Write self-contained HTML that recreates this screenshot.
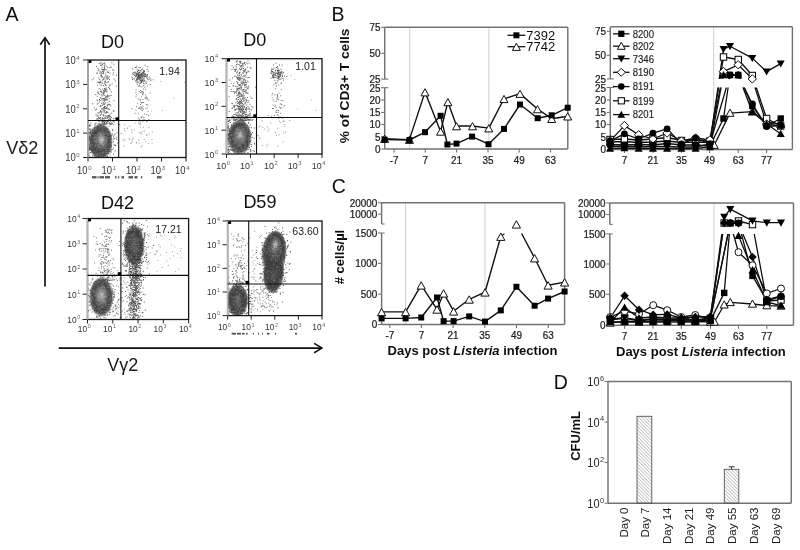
<!DOCTYPE html>
<html><head><meta charset="utf-8"><style>
html,body{margin:0;padding:0;background:#fff;}
svg{display:block;font-family:"Liberation Sans", sans-serif;}
</style></head><body>
<svg width="800" height="550" viewBox="0 0 800 550">
<defs><filter id="soft" x="0" y="0" width="1" height="1"><feGaussianBlur stdDeviation="0.4"/></filter></defs>
<rect width="800" height="550" fill="#fff"/>
<g filter="url(#soft)">
<rect width="800" height="550" fill="#fff"/>
<text x="5.5" y="21" font-size="19.5" text-anchor="start" font-weight="normal" fill="#111" >A</text>
<line x1="45" y1="38" x2="45" y2="286.5" stroke="#111" stroke-width="1.7" />
<polyline points="40.3,44.8 45,37.6 49.7,44.8" fill="none" stroke="#111" stroke-width="1.6"/>
<line x1="58.8" y1="348.1" x2="321.5" y2="348.1" stroke="#111" stroke-width="1.7" />
<polyline points="314.2,343.4 321.9,348.1 314.2,352.8" fill="none" stroke="#111" stroke-width="1.6"/>
<text x="6.3" y="154.3" font-size="18" text-anchor="start" font-weight="normal" fill="#1a1a1a" >V&#948;2</text>
<text x="107.3" y="370.6" font-size="18" text-anchor="start" font-weight="normal" fill="#1a1a1a" >V&#947;2</text>
<line x1="83" y1="157.5" x2="88" y2="157.5" stroke="#222" stroke-width="1" />
<text transform="translate(75.7 161.4) scale(0.9 1)" font-size="10.5" text-anchor="end" fill="#333">10</text>
<text x="76.3" y="157.2" font-size="6.09" fill="#666">0</text>
<line x1="88" y1="157.5" x2="88" y2="161.5" stroke="#222" stroke-width="1" />
<text transform="translate(87.6 173.7) scale(0.9 1)" font-size="10.5" text-anchor="end" fill="#333">10</text>
<text x="88.2" y="169.5" font-size="6.09" fill="#666">0</text>
<line x1="83" y1="133.1" x2="88" y2="133.1" stroke="#222" stroke-width="1" />
<text transform="translate(75.7 137) scale(0.9 1)" font-size="10.5" text-anchor="end" fill="#333">10</text>
<text x="76.3" y="132.8" font-size="6.09" fill="#666">1</text>
<line x1="112.5" y1="157.5" x2="112.5" y2="161.5" stroke="#222" stroke-width="1" />
<text transform="translate(112.1 173.7) scale(0.9 1)" font-size="10.5" text-anchor="end" fill="#333">10</text>
<text x="112.7" y="169.5" font-size="6.09" fill="#666">1</text>
<line x1="83" y1="108.8" x2="88" y2="108.8" stroke="#222" stroke-width="1" />
<text transform="translate(75.7 112.6) scale(0.9 1)" font-size="10.5" text-anchor="end" fill="#333">10</text>
<text x="76.3" y="108.4" font-size="6.09" fill="#666">2</text>
<line x1="137" y1="157.5" x2="137" y2="161.5" stroke="#222" stroke-width="1" />
<text transform="translate(136.6 173.7) scale(0.9 1)" font-size="10.5" text-anchor="end" fill="#333">10</text>
<text x="137.2" y="169.5" font-size="6.09" fill="#666">2</text>
<line x1="83" y1="84.4" x2="88" y2="84.4" stroke="#222" stroke-width="1" />
<text transform="translate(75.7 88.3) scale(0.9 1)" font-size="10.5" text-anchor="end" fill="#333">10</text>
<text x="76.3" y="84.1" font-size="6.09" fill="#666">3</text>
<line x1="161.5" y1="157.5" x2="161.5" y2="161.5" stroke="#222" stroke-width="1" />
<text transform="translate(161.1 173.7) scale(0.9 1)" font-size="10.5" text-anchor="end" fill="#333">10</text>
<text x="161.7" y="169.5" font-size="6.09" fill="#666">3</text>
<line x1="83" y1="60" x2="88" y2="60" stroke="#222" stroke-width="1" />
<text transform="translate(75.7 63.9) scale(0.9 1)" font-size="10.5" text-anchor="end" fill="#333">10</text>
<text x="76.3" y="59.7" font-size="6.09" fill="#666">4</text>
<line x1="186" y1="157.5" x2="186" y2="161.5" stroke="#222" stroke-width="1" />
<text transform="translate(185.6 173.7) scale(0.9 1)" font-size="10.5" text-anchor="end" fill="#333">10</text>
<text x="186.2" y="169.5" font-size="6.09" fill="#666">4</text>
<g clip-path="url(#c1)">
<defs><clipPath id="c1"><rect x="88" y="60" width="98" height="97.5"/></clipPath></defs>
<defs><radialGradient id="bg1" cx="0.5" cy="0.5" r="0.5" fx="0.55" fy="0.44"><stop offset="0" stop-color="#c4c4c4"/><stop offset="0.31" stop-color="#7c7c7c"/><stop offset="0.62" stop-color="#484848"/><stop offset="0.84" stop-color="#484848" stop-opacity="0.85"/><stop offset="1" stop-color="#484848" stop-opacity="0"/></radialGradient></defs>
<path d="M101.4 91.9h1.0v1.0h-1.0zM107.4 70.7h1.0v1.0h-1.0zM114.7 80.6h1.0v1.0h-1.0zM105.5 116.3h1.0v1.0h-1.0zM101.0 112.5h1.0v1.0h-1.0zM99.2 72.7h1.0v1.0h-1.0zM104.2 124.0h1.0v1.0h-1.0zM103.7 76.9h1.0v1.0h-1.0zM99.3 78.9h1.0v1.0h-1.0zM105.0 102.6h1.0v1.0h-1.0zM99.3 112.3h1.0v1.0h-1.0zM109.5 113.6h1.0v1.0h-1.0zM109.3 114.9h1.0v1.0h-1.0zM109.4 104.0h1.0v1.0h-1.0zM102.4 100.2h1.0v1.0h-1.0zM106.8 96.9h1.0v1.0h-1.0zM103.9 62.4h1.0v1.0h-1.0zM102.8 79.2h1.0v1.0h-1.0zM103.0 92.1h1.0v1.0h-1.0zM98.7 63.0h1.0v1.0h-1.0zM98.0 116.8h1.0v1.0h-1.0zM108.1 119.2h1.0v1.0h-1.0zM103.6 92.8h1.0v1.0h-1.0zM105.5 123.2h1.0v1.0h-1.0zM109.0 123.4h1.0v1.0h-1.0zM96.7 99.5h1.0v1.0h-1.0zM101.0 102.7h1.0v1.0h-1.0zM105.3 69.1h1.0v1.0h-1.0zM106.3 91.6h1.0v1.0h-1.0zM102.8 99.6h1.0v1.0h-1.0zM109.1 100.7h1.0v1.0h-1.0zM105.4 115.2h1.0v1.0h-1.0zM99.0 123.9h1.0v1.0h-1.0zM100.3 117.8h1.0v1.0h-1.0zM108.1 87.0h1.0v1.0h-1.0zM106.6 117.5h1.0v1.0h-1.0zM96.0 108.6h1.0v1.0h-1.0zM110.6 124.0h1.0v1.0h-1.0zM107.2 76.2h1.0v1.0h-1.0zM110.5 119.5h1.0v1.0h-1.0zM102.8 114.2h1.0v1.0h-1.0zM103.2 72.1h1.0v1.0h-1.0zM99.4 99.9h1.0v1.0h-1.0zM115.9 74.8h1.0v1.0h-1.0zM103.7 90.8h1.0v1.0h-1.0zM111.6 83.2h1.0v1.0h-1.0zM101.6 121.8h1.0v1.0h-1.0zM105.2 97.8h1.0v1.0h-1.0zM97.0 100.0h1.0v1.0h-1.0zM102.8 72.9h1.0v1.0h-1.0zM108.9 109.1h1.0v1.0h-1.0zM98.9 93.8h1.0v1.0h-1.0zM109.3 122.8h1.0v1.0h-1.0zM106.0 107.5h1.0v1.0h-1.0zM99.8 111.3h1.0v1.0h-1.0zM102.2 119.6h1.0v1.0h-1.0zM102.4 77.3h1.0v1.0h-1.0zM104.3 108.0h1.0v1.0h-1.0zM102.1 63.8h1.0v1.0h-1.0zM100.8 94.4h1.0v1.0h-1.0zM103.1 93.3h1.0v1.0h-1.0zM99.9 91.0h1.0v1.0h-1.0zM98.7 88.1h1.0v1.0h-1.0zM104.3 119.6h1.0v1.0h-1.0zM108.5 104.3h1.0v1.0h-1.0zM97.6 115.6h1.0v1.0h-1.0zM104.5 106.7h1.0v1.0h-1.0zM101.6 121.6h1.0v1.0h-1.0zM100.1 64.8h1.0v1.0h-1.0zM108.3 116.8h1.0v1.0h-1.0zM102.2 88.5h1.0v1.0h-1.0zM111.2 112.5h1.0v1.0h-1.0zM101.0 72.6h1.0v1.0h-1.0zM106.2 89.2h1.0v1.0h-1.0zM103.5 120.4h1.0v1.0h-1.0zM101.1 75.0h1.0v1.0h-1.0zM107.1 66.7h1.0v1.0h-1.0zM103.8 70.2h1.0v1.0h-1.0zM107.2 95.8h1.0v1.0h-1.0zM104.3 119.8h1.0v1.0h-1.0zM99.6 117.8h1.0v1.0h-1.0zM104.0 68.2h1.0v1.0h-1.0zM104.7 97.0h1.0v1.0h-1.0zM108.8 118.4h1.0v1.0h-1.0zM100.4 71.8h1.0v1.0h-1.0zM104.3 90.7h1.0v1.0h-1.0zM96.8 95.8h1.0v1.0h-1.0zM107.4 108.2h1.0v1.0h-1.0zM99.6 106.1h1.0v1.0h-1.0zM96.4 115.6h1.0v1.0h-1.0zM104.2 123.4h1.0v1.0h-1.0zM109.5 72.5h1.0v1.0h-1.0zM97.6 102.6h1.0v1.0h-1.0zM99.6 97.3h1.0v1.0h-1.0zM101.2 111.3h1.0v1.0h-1.0zM99.4 82.5h1.0v1.0h-1.0zM106.2 123.6h1.0v1.0h-1.0zM100.9 108.5h1.0v1.0h-1.0zM101.3 123.5h1.0v1.0h-1.0zM107.1 120.7h1.0v1.0h-1.0zM101.1 64.8h1.0v1.0h-1.0zM106.4 89.5h1.0v1.0h-1.0zM100.1 105.1h1.0v1.0h-1.0zM99.0 98.9h1.0v1.0h-1.0zM96.2 72.8h1.0v1.0h-1.0zM112.9 110.1h1.0v1.0h-1.0zM103.1 94.4h1.0v1.0h-1.0zM105.6 87.6h1.0v1.0h-1.0zM104.4 109.4h1.0v1.0h-1.0zM105.2 99.2h1.0v1.0h-1.0zM104.7 81.4h1.0v1.0h-1.0zM113.1 69.7h1.0v1.0h-1.0zM99.8 119.6h1.0v1.0h-1.0zM97.5 67.7h1.0v1.0h-1.0zM99.9 124.0h1.0v1.0h-1.0zM98.5 82.3h1.0v1.0h-1.0zM107.9 77.8h1.0v1.0h-1.0zM108.2 120.2h1.0v1.0h-1.0zM100.2 105.7h1.0v1.0h-1.0zM98.2 77.4h1.0v1.0h-1.0zM102.9 123.8h1.0v1.0h-1.0zM110.8 91.6h1.0v1.0h-1.0zM91.8 79.2h1.0v1.0h-1.0zM106.9 99.6h1.0v1.0h-1.0zM99.7 84.4h1.0v1.0h-1.0zM109.2 116.3h1.0v1.0h-1.0zM99.6 117.6h1.0v1.0h-1.0zM103.2 109.0h1.0v1.0h-1.0zM97.7 118.4h1.0v1.0h-1.0zM100.1 110.0h1.0v1.0h-1.0zM110.7 66.5h1.0v1.0h-1.0zM108.2 95.5h1.0v1.0h-1.0zM102.7 110.3h1.0v1.0h-1.0zM100.6 114.0h1.0v1.0h-1.0zM96.0 66.1h1.0v1.0h-1.0zM102.7 104.1h1.0v1.0h-1.0zM104.4 63.7h1.0v1.0h-1.0zM104.1 99.5h1.0v1.0h-1.0zM104.1 99.1h1.0v1.0h-1.0zM99.5 70.8h1.0v1.0h-1.0zM104.2 83.1h1.0v1.0h-1.0zM104.3 95.0h1.0v1.0h-1.0zM110.3 105.2h1.0v1.0h-1.0zM112.9 72.3h1.0v1.0h-1.0zM103.9 106.1h1.0v1.0h-1.0zM101.1 68.6h1.0v1.0h-1.0zM104.2 122.5h1.0v1.0h-1.0zM101.8 105.0h1.0v1.0h-1.0zM101.2 99.2h1.0v1.0h-1.0zM104.2 66.2h1.0v1.0h-1.0zM99.8 115.0h1.0v1.0h-1.0zM107.2 78.2h1.0v1.0h-1.0zM104.0 88.1h1.0v1.0h-1.0zM105.6 85.1h1.0v1.0h-1.0zM103.7 91.6h1.0v1.0h-1.0zM101.2 64.5h1.0v1.0h-1.0zM100.2 110.7h1.0v1.0h-1.0zM103.4 106.9h1.0v1.0h-1.0zM102.0 117.4h1.0v1.0h-1.0zM105.6 123.0h1.0v1.0h-1.0zM104.5 116.9h1.0v1.0h-1.0zM98.4 69.2h1.0v1.0h-1.0zM104.8 75.4h1.0v1.0h-1.0zM98.5 121.1h1.0v1.0h-1.0zM101.7 93.4h1.0v1.0h-1.0zM103.2 101.9h1.0v1.0h-1.0zM95.2 94.1h1.0v1.0h-1.0zM104.9 89.4h1.0v1.0h-1.0zM105.2 112.2h1.0v1.0h-1.0zM103.8 65.3h1.0v1.0h-1.0zM102.6 102.7h1.0v1.0h-1.0zM102.8 91.7h1.0v1.0h-1.0zM100.1 91.2h1.0v1.0h-1.0zM103.3 118.2h1.0v1.0h-1.0zM102.0 122.7h1.0v1.0h-1.0zM104.9 106.1h1.0v1.0h-1.0zM99.1 81.5h1.0v1.0h-1.0zM105.6 77.4h1.0v1.0h-1.0zM105.1 84.1h1.0v1.0h-1.0zM103.9 121.1h1.0v1.0h-1.0zM102.5 69.4h1.0v1.0h-1.0zM107.0 78.5h1.0v1.0h-1.0zM97.0 72.4h1.0v1.0h-1.0zM106.6 99.0h1.0v1.0h-1.0zM105.6 69.2h1.0v1.0h-1.0zM105.8 123.2h1.0v1.0h-1.0zM106.2 123.5h1.0v1.0h-1.0zM101.6 123.7h1.0v1.0h-1.0zM103.3 115.0h1.0v1.0h-1.0zM107.4 115.2h1.0v1.0h-1.0zM106.4 118.0h1.0v1.0h-1.0zM105.4 96.0h1.0v1.0h-1.0zM97.7 123.3h1.0v1.0h-1.0zM106.9 94.4h1.0v1.0h-1.0zM109.8 119.0h1.0v1.0h-1.0zM109.0 88.0h1.0v1.0h-1.0zM105.6 123.7h1.0v1.0h-1.0zM97.5 111.9h1.0v1.0h-1.0zM108.7 67.3h1.0v1.0h-1.0zM103.8 97.9h1.0v1.0h-1.0zM93.1 77.7h1.0v1.0h-1.0zM106.2 89.5h1.0v1.0h-1.0zM97.8 92.9h1.0v1.0h-1.0zM98.7 117.9h1.0v1.0h-1.0zM101.6 95.5h1.0v1.0h-1.0zM110.2 123.3h1.0v1.0h-1.0zM102.8 78.5h1.0v1.0h-1.0zM105.7 65.4h1.0v1.0h-1.0zM112.4 74.3h1.0v1.0h-1.0zM111.7 123.0h1.0v1.0h-1.0zM104.0 110.4h1.0v1.0h-1.0zM103.4 111.5h1.0v1.0h-1.0zM98.8 121.1h1.0v1.0h-1.0zM101.4 91.8h1.0v1.0h-1.0zM106.4 78.8h1.0v1.0h-1.0zM106.3 111.8h1.0v1.0h-1.0zM105.0 73.6h1.0v1.0h-1.0zM109.0 78.9h1.0v1.0h-1.0zM101.0 120.5h1.0v1.0h-1.0zM104.2 81.2h1.0v1.0h-1.0zM107.8 71.9h1.0v1.0h-1.0zM107.1 117.6h1.0v1.0h-1.0zM109.3 95.5h1.0v1.0h-1.0zM106.3 90.9h1.0v1.0h-1.0zM103.1 93.0h1.0v1.0h-1.0zM106.1 121.7h1.0v1.0h-1.0zM100.0 89.3h1.0v1.0h-1.0zM97.1 91.4h1.0v1.0h-1.0zM107.1 76.7h1.0v1.0h-1.0zM104.3 78.4h1.0v1.0h-1.0zM105.9 111.0h1.0v1.0h-1.0zM96.9 84.7h1.0v1.0h-1.0zM102.9 73.2h1.0v1.0h-1.0zM101.8 71.1h1.0v1.0h-1.0zM100.6 119.2h1.0v1.0h-1.0zM94.4 123.6h1.0v1.0h-1.0zM103.0 90.0h1.0v1.0h-1.0zM108.5 116.8h1.0v1.0h-1.0zM106.2 96.2h1.0v1.0h-1.0zM101.8 66.7h1.0v1.0h-1.0zM104.4 108.0h1.0v1.0h-1.0zM107.9 115.0h1.0v1.0h-1.0zM92.1 103.3h1.0v1.0h-1.0zM103.9 89.5h1.0v1.0h-1.0zM106.9 121.5h1.0v1.0h-1.0zM107.6 108.0h1.0v1.0h-1.0zM112.2 120.3h1.0v1.0h-1.0zM109.6 89.2h1.0v1.0h-1.0zM105.9 76.2h1.0v1.0h-1.0zM105.9 108.2h1.0v1.0h-1.0zM108.0 108.5h1.0v1.0h-1.0zM102.1 97.9h1.0v1.0h-1.0zM104.3 116.8h1.0v1.0h-1.0zM108.6 115.2h1.0v1.0h-1.0zM113.3 110.9h1.0v1.0h-1.0zM103.8 103.3h1.0v1.0h-1.0zM104.3 122.1h1.0v1.0h-1.0zM105.4 82.3h1.0v1.0h-1.0zM110.5 95.1h1.0v1.0h-1.0zM104.4 112.5h1.0v1.0h-1.0zM111.1 122.3h1.0v1.0h-1.0zM100.2 81.5h1.0v1.0h-1.0zM103.7 120.4h1.0v1.0h-1.0zM103.6 120.3h1.0v1.0h-1.0zM108.0 120.4h1.0v1.0h-1.0zM109.2 122.2h1.0v1.0h-1.0zM97.7 70.0h1.0v1.0h-1.0zM100.4 114.1h1.0v1.0h-1.0zM106.0 112.2h1.0v1.0h-1.0zM101.5 76.0h1.0v1.0h-1.0zM97.6 92.3h1.0v1.0h-1.0zM109.2 118.1h1.0v1.0h-1.0zM106.7 104.7h1.0v1.0h-1.0zM106.7 71.8h1.0v1.0h-1.0zM102.4 108.3h1.0v1.0h-1.0zM109.1 85.5h1.0v1.0h-1.0zM103.4 121.6h1.0v1.0h-1.0zM109.4 84.3h1.0v1.0h-1.0zM100.4 80.5h1.0v1.0h-1.0zM100.7 76.6h1.0v1.0h-1.0zM105.4 88.3h1.0v1.0h-1.0zM101.3 108.5h1.0v1.0h-1.0zM107.5 122.7h1.0v1.0h-1.0zM105.7 99.3h1.0v1.0h-1.0zM100.3 82.0h1.0v1.0h-1.0zM104.8 117.9h1.0v1.0h-1.0zM102.9 114.3h1.0v1.0h-1.0zM108.6 98.1h1.0v1.0h-1.0zM101.7 82.7h1.0v1.0h-1.0zM102.5 70.8h1.0v1.0h-1.0zM110.0 120.6h1.0v1.0h-1.0zM114.6 118.2h1.0v1.0h-1.0zM113.5 78.7h1.0v1.0h-1.0zM104.8 90.5h1.0v1.0h-1.0zM105.5 84.8h1.0v1.0h-1.0zM111.4 62.3h1.0v1.0h-1.0zM103.9 67.2h1.0v1.0h-1.0zM100.1 75.2h1.0v1.0h-1.0zM105.0 80.4h1.0v1.0h-1.0zM106.5 107.1h1.0v1.0h-1.0zM100.8 90.7h1.0v1.0h-1.0zM97.1 118.2h1.0v1.0h-1.0zM98.0 81.8h1.0v1.0h-1.0zM107.5 82.0h1.0v1.0h-1.0zM101.1 84.8h1.0v1.0h-1.0zM103.9 104.1h1.0v1.0h-1.0zM105.5 108.1h1.0v1.0h-1.0zM107.3 105.6h1.0v1.0h-1.0zM103.0 123.5h1.0v1.0h-1.0zM106.7 75.1h1.0v1.0h-1.0zM100.5 97.7h1.0v1.0h-1.0zM102.9 107.6h1.0v1.0h-1.0zM99.9 97.3h1.0v1.0h-1.0zM109.6 84.7h1.0v1.0h-1.0zM104.4 107.9h1.0v1.0h-1.0zM101.2 76.2h1.0v1.0h-1.0zM102.9 68.9h1.0v1.0h-1.0zM103.5 107.6h1.0v1.0h-1.0zM107.7 120.1h1.0v1.0h-1.0zM97.3 81.7h1.0v1.0h-1.0zM99.8 62.6h1.0v1.0h-1.0zM102.8 119.7h1.0v1.0h-1.0zM115.9 85.4h1.0v1.0h-1.0zM108.8 76.6h1.0v1.0h-1.0zM104.0 68.8h1.0v1.0h-1.0zM107.7 120.7h1.0v1.0h-1.0zM113.8 121.8h1.0v1.0h-1.0zM103.4 63.1h1.0v1.0h-1.0zM102.9 120.9h1.0v1.0h-1.0zM110.0 118.5h1.0v1.0h-1.0zM106.7 95.4h1.0v1.0h-1.0zM107.5 104.0h1.0v1.0h-1.0zM102.2 82.5h1.0v1.0h-1.0zM113.2 117.9h1.0v1.0h-1.0zM112.2 69.3h1.0v1.0h-1.0zM107.0 116.7h1.0v1.0h-1.0zM107.6 81.1h1.0v1.0h-1.0zM95.4 122.6h1.0v1.0h-1.0zM107.4 102.2h1.0v1.0h-1.0zM103.6 123.5h1.0v1.0h-1.0zM106.5 111.8h1.0v1.0h-1.0zM107.6 111.8h1.0v1.0h-1.0zM103.0 84.9h1.0v1.0h-1.0zM96.9 103.4h1.0v1.0h-1.0zM106.2 122.9h1.0v1.0h-1.0zM101.2 62.4h1.0v1.0h-1.0zM103.0 71.4h1.0v1.0h-1.0zM101.8 69.1h1.0v1.0h-1.0zM103.0 115.3h1.0v1.0h-1.0zM94.1 107.2h1.0v1.0h-1.0zM110.0 116.2h1.0v1.0h-1.0zM105.6 120.6h1.0v1.0h-1.0zM109.5 123.5h1.0v1.0h-1.0zM113.4 100.3h1.0v1.0h-1.0zM104.6 120.7h1.0v1.0h-1.0zM96.4 118.5h1.0v1.0h-1.0zM100.5 73.8h1.0v1.0h-1.0zM99.1 101.5h1.0v1.0h-1.0zM102.2 118.2h1.0v1.0h-1.0zM104.9 88.6h1.0v1.0h-1.0zM95.5 114.3h1.0v1.0h-1.0zM106.0 98.7h1.0v1.0h-1.0zM97.7 113.4h1.0v1.0h-1.0zM105.8 99.4h1.0v1.0h-1.0zM104.0 91.6h1.0v1.0h-1.0zM103.1 98.1h1.0v1.0h-1.0zM104.2 107.1h1.0v1.0h-1.0zM102.1 79.4h1.0v1.0h-1.0zM101.7 72.7h1.0v1.0h-1.0zM96.9 118.4h1.0v1.0h-1.0zM104.4 120.2h1.0v1.0h-1.0zM112.8 121.1h1.0v1.0h-1.0zM113.4 63.8h1.0v1.0h-1.0zM110.4 67.0h1.0v1.0h-1.0zM107.7 116.0h1.0v1.0h-1.0zM101.5 64.6h1.0v1.0h-1.0zM111.0 117.1h1.0v1.0h-1.0zM104.2 100.1h1.0v1.0h-1.0zM104.2 100.7h1.0v1.0h-1.0zM103.2 69.3h1.0v1.0h-1.0z" fill="#333" fill-opacity="0.75"/>
<path d="M140.9 73.0h1.0v1.0h-1.0zM140.2 70.1h1.0v1.0h-1.0zM139.0 85.3h1.0v1.0h-1.0zM140.2 73.9h1.0v1.0h-1.0zM142.6 78.2h1.0v1.0h-1.0zM136.0 74.1h1.0v1.0h-1.0zM144.2 76.2h1.0v1.0h-1.0zM141.0 82.0h1.0v1.0h-1.0zM137.8 75.4h1.0v1.0h-1.0zM138.4 81.7h1.0v1.0h-1.0zM132.7 72.0h1.0v1.0h-1.0zM138.4 78.0h1.0v1.0h-1.0zM142.9 81.3h1.0v1.0h-1.0zM134.2 78.4h1.0v1.0h-1.0zM139.3 72.0h1.0v1.0h-1.0zM142.7 70.9h1.0v1.0h-1.0zM132.2 73.3h1.0v1.0h-1.0zM134.5 72.1h1.0v1.0h-1.0zM142.0 76.4h1.0v1.0h-1.0zM146.8 74.1h1.0v1.0h-1.0zM134.4 71.6h1.0v1.0h-1.0zM136.8 69.5h1.0v1.0h-1.0zM142.2 72.1h1.0v1.0h-1.0zM132.6 78.1h1.0v1.0h-1.0zM140.1 76.6h1.0v1.0h-1.0zM140.9 77.8h1.0v1.0h-1.0zM140.7 80.6h1.0v1.0h-1.0zM142.2 76.8h1.0v1.0h-1.0zM142.1 68.4h1.0v1.0h-1.0zM139.8 73.8h1.0v1.0h-1.0zM141.3 68.9h1.0v1.0h-1.0zM147.0 75.5h1.0v1.0h-1.0zM135.7 67.3h1.0v1.0h-1.0zM139.4 74.6h1.0v1.0h-1.0zM137.6 75.4h1.0v1.0h-1.0zM137.9 77.5h1.0v1.0h-1.0zM137.6 74.8h1.0v1.0h-1.0zM144.4 86.6h1.0v1.0h-1.0zM136.5 72.9h1.0v1.0h-1.0zM137.1 78.5h1.0v1.0h-1.0zM135.9 72.8h1.0v1.0h-1.0zM140.4 70.6h1.0v1.0h-1.0zM136.7 72.9h1.0v1.0h-1.0zM132.1 68.5h1.0v1.0h-1.0zM138.8 75.7h1.0v1.0h-1.0zM139.8 67.0h1.0v1.0h-1.0zM138.6 78.6h1.0v1.0h-1.0zM142.7 74.6h1.0v1.0h-1.0zM137.0 77.8h1.0v1.0h-1.0zM138.2 69.7h1.0v1.0h-1.0zM137.3 81.5h1.0v1.0h-1.0zM141.4 80.2h1.0v1.0h-1.0zM138.6 79.2h1.0v1.0h-1.0zM138.1 74.3h1.0v1.0h-1.0zM150.4 78.5h1.0v1.0h-1.0zM138.5 74.6h1.0v1.0h-1.0zM141.8 80.4h1.0v1.0h-1.0zM138.5 67.2h1.0v1.0h-1.0zM139.4 75.1h1.0v1.0h-1.0zM140.9 80.9h1.0v1.0h-1.0zM141.8 78.7h1.0v1.0h-1.0zM136.1 78.9h1.0v1.0h-1.0zM148.9 78.5h1.0v1.0h-1.0zM141.5 75.7h1.0v1.0h-1.0zM147.6 70.8h1.0v1.0h-1.0zM140.1 77.1h1.0v1.0h-1.0zM143.5 73.0h1.0v1.0h-1.0zM141.7 73.7h1.0v1.0h-1.0zM141.0 74.4h1.0v1.0h-1.0zM135.9 74.9h1.0v1.0h-1.0zM144.0 70.6h1.0v1.0h-1.0zM139.5 78.0h1.0v1.0h-1.0zM136.2 75.8h1.0v1.0h-1.0zM136.3 80.1h1.0v1.0h-1.0zM149.8 84.1h1.0v1.0h-1.0zM139.6 78.3h1.0v1.0h-1.0zM141.0 75.5h1.0v1.0h-1.0zM146.7 69.1h1.0v1.0h-1.0zM144.7 74.8h1.0v1.0h-1.0zM146.1 75.8h1.0v1.0h-1.0zM137.8 76.2h1.0v1.0h-1.0zM143.4 75.2h1.0v1.0h-1.0zM142.5 72.7h1.0v1.0h-1.0zM132.0 79.1h1.0v1.0h-1.0zM143.3 75.7h1.0v1.0h-1.0zM140.8 79.7h1.0v1.0h-1.0zM138.7 71.8h1.0v1.0h-1.0zM139.7 80.4h1.0v1.0h-1.0zM135.0 80.4h1.0v1.0h-1.0zM137.9 70.0h1.0v1.0h-1.0zM145.5 74.6h1.0v1.0h-1.0zM135.3 73.4h1.0v1.0h-1.0zM144.2 80.4h1.0v1.0h-1.0zM138.8 76.8h1.0v1.0h-1.0zM143.4 72.1h1.0v1.0h-1.0zM141.9 74.9h1.0v1.0h-1.0zM138.4 72.8h1.0v1.0h-1.0zM140.8 75.1h1.0v1.0h-1.0zM138.2 73.1h1.0v1.0h-1.0zM145.0 76.0h1.0v1.0h-1.0zM144.0 80.4h1.0v1.0h-1.0zM142.9 85.2h1.0v1.0h-1.0zM137.2 78.6h1.0v1.0h-1.0zM139.2 83.4h1.0v1.0h-1.0zM147.3 66.2h1.0v1.0h-1.0zM136.6 78.0h1.0v1.0h-1.0zM143.7 78.3h1.0v1.0h-1.0zM140.2 77.0h1.0v1.0h-1.0zM143.1 74.6h1.0v1.0h-1.0zM144.6 64.8h1.0v1.0h-1.0zM143.0 70.3h1.0v1.0h-1.0zM144.3 74.0h1.0v1.0h-1.0zM136.9 76.7h1.0v1.0h-1.0zM136.9 70.9h1.0v1.0h-1.0zM134.2 74.9h1.0v1.0h-1.0zM142.5 79.6h1.0v1.0h-1.0zM139.9 79.7h1.0v1.0h-1.0zM140.6 74.6h1.0v1.0h-1.0zM142.8 79.8h1.0v1.0h-1.0zM139.1 73.9h1.0v1.0h-1.0zM139.9 75.4h1.0v1.0h-1.0zM136.9 79.6h1.0v1.0h-1.0zM138.9 77.1h1.0v1.0h-1.0zM137.2 76.6h1.0v1.0h-1.0zM142.1 73.1h1.0v1.0h-1.0zM148.6 76.7h1.0v1.0h-1.0zM147.6 79.3h1.0v1.0h-1.0zM137.9 73.3h1.0v1.0h-1.0zM142.2 75.3h1.0v1.0h-1.0zM140.7 73.7h1.0v1.0h-1.0zM133.3 74.0h1.0v1.0h-1.0zM131.6 76.7h1.0v1.0h-1.0zM137.6 71.8h1.0v1.0h-1.0zM139.6 76.2h1.0v1.0h-1.0zM134.8 67.1h1.0v1.0h-1.0zM136.2 65.8h1.0v1.0h-1.0zM136.6 82.2h1.0v1.0h-1.0zM136.3 77.9h1.0v1.0h-1.0zM135.0 76.3h1.0v1.0h-1.0zM139.2 74.7h1.0v1.0h-1.0zM142.8 82.9h1.0v1.0h-1.0zM141.3 75.6h1.0v1.0h-1.0zM136.6 77.6h1.0v1.0h-1.0zM139.5 78.7h1.0v1.0h-1.0zM140.3 82.8h1.0v1.0h-1.0zM132.6 73.7h1.0v1.0h-1.0zM144.0 73.4h1.0v1.0h-1.0zM137.3 73.8h1.0v1.0h-1.0zM135.0 75.5h1.0v1.0h-1.0zM150.3 80.2h1.0v1.0h-1.0z" fill="#333" fill-opacity="0.8"/>
<path d="M142.4 98.9h1.0v1.0h-1.0zM140.0 108.6h1.0v1.0h-1.0zM138.3 74.4h1.0v1.0h-1.0zM141.3 106.9h1.0v1.0h-1.0zM141.5 86.5h1.0v1.0h-1.0zM141.2 101.9h1.0v1.0h-1.0zM134.0 73.5h1.0v1.0h-1.0zM140.9 72.8h1.0v1.0h-1.0zM138.1 122.4h1.0v1.0h-1.0zM139.3 70.3h1.0v1.0h-1.0zM142.4 91.3h1.0v1.0h-1.0zM144.1 120.0h1.0v1.0h-1.0zM145.1 97.2h1.0v1.0h-1.0zM139.5 121.3h1.0v1.0h-1.0zM145.2 94.4h1.0v1.0h-1.0zM146.2 114.0h1.0v1.0h-1.0zM146.0 104.1h1.0v1.0h-1.0zM147.1 107.5h1.0v1.0h-1.0zM140.9 91.5h1.0v1.0h-1.0zM140.8 79.6h1.0v1.0h-1.0zM144.8 73.4h1.0v1.0h-1.0zM136.0 106.2h1.0v1.0h-1.0zM142.3 93.2h1.0v1.0h-1.0zM139.4 123.7h1.0v1.0h-1.0zM140.0 103.9h1.0v1.0h-1.0zM134.5 72.1h1.0v1.0h-1.0zM137.9 117.6h1.0v1.0h-1.0zM141.4 77.0h1.0v1.0h-1.0zM145.1 88.8h1.0v1.0h-1.0zM145.5 108.1h1.0v1.0h-1.0zM141.2 82.0h1.0v1.0h-1.0zM140.7 108.4h1.0v1.0h-1.0zM138.2 75.7h1.0v1.0h-1.0zM143.1 119.5h1.0v1.0h-1.0zM140.5 117.6h1.0v1.0h-1.0zM143.9 83.5h1.0v1.0h-1.0zM148.5 99.7h1.0v1.0h-1.0zM141.4 116.0h1.0v1.0h-1.0zM135.5 96.3h1.0v1.0h-1.0zM138.1 108.0h1.0v1.0h-1.0zM135.7 94.3h1.0v1.0h-1.0zM136.7 83.8h1.0v1.0h-1.0zM146.7 77.7h1.0v1.0h-1.0zM142.4 120.8h1.0v1.0h-1.0zM135.4 92.0h1.0v1.0h-1.0zM144.1 70.9h1.0v1.0h-1.0zM146.5 99.2h1.0v1.0h-1.0zM140.1 82.4h1.0v1.0h-1.0zM138.8 118.7h1.0v1.0h-1.0zM140.2 76.8h1.0v1.0h-1.0zM142.6 92.6h1.0v1.0h-1.0zM144.1 76.0h1.0v1.0h-1.0zM146.2 81.5h1.0v1.0h-1.0zM146.3 77.1h1.0v1.0h-1.0zM146.2 120.9h1.0v1.0h-1.0zM146.9 85.4h1.0v1.0h-1.0zM144.1 113.4h1.0v1.0h-1.0zM135.4 109.6h1.0v1.0h-1.0zM141.0 106.5h1.0v1.0h-1.0zM142.8 92.1h1.0v1.0h-1.0zM140.0 90.1h1.0v1.0h-1.0zM145.1 73.7h1.0v1.0h-1.0zM140.1 123.3h1.0v1.0h-1.0zM137.8 113.6h1.0v1.0h-1.0zM147.3 104.5h1.0v1.0h-1.0zM144.2 79.8h1.0v1.0h-1.0zM142.4 94.3h1.0v1.0h-1.0zM145.2 96.4h1.0v1.0h-1.0zM145.8 82.9h1.0v1.0h-1.0zM142.9 88.6h1.0v1.0h-1.0zM131.7 108.3h1.0v1.0h-1.0zM138.8 119.3h1.0v1.0h-1.0zM139.7 99.0h1.0v1.0h-1.0zM137.6 76.5h1.0v1.0h-1.0zM142.3 91.7h1.0v1.0h-1.0zM146.3 121.1h1.0v1.0h-1.0zM139.6 100.2h1.0v1.0h-1.0zM137.0 103.2h1.0v1.0h-1.0zM149.6 92.5h1.0v1.0h-1.0zM139.7 92.3h1.0v1.0h-1.0zM136.6 72.6h1.0v1.0h-1.0zM142.5 105.7h1.0v1.0h-1.0zM143.2 102.0h1.0v1.0h-1.0zM138.7 90.9h1.0v1.0h-1.0zM144.7 76.1h1.0v1.0h-1.0zM139.6 85.9h1.0v1.0h-1.0zM137.8 98.6h1.0v1.0h-1.0zM142.2 80.0h1.0v1.0h-1.0zM144.6 97.8h1.0v1.0h-1.0zM139.0 72.0h1.0v1.0h-1.0zM142.8 108.7h1.0v1.0h-1.0zM141.1 117.1h1.0v1.0h-1.0zM152.8 79.2h1.0v1.0h-1.0zM138.7 107.9h1.0v1.0h-1.0zM147.0 78.2h1.0v1.0h-1.0zM141.3 91.1h1.0v1.0h-1.0zM141.0 96.5h1.0v1.0h-1.0zM144.4 119.3h1.0v1.0h-1.0zM145.1 81.5h1.0v1.0h-1.0zM146.6 120.4h1.0v1.0h-1.0zM142.8 71.9h1.0v1.0h-1.0zM139.1 76.6h1.0v1.0h-1.0zM139.3 107.6h1.0v1.0h-1.0zM143.5 117.1h1.0v1.0h-1.0zM143.8 76.2h1.0v1.0h-1.0zM147.1 98.1h1.0v1.0h-1.0zM143.2 117.3h1.0v1.0h-1.0zM145.7 97.1h1.0v1.0h-1.0zM147.6 110.7h1.0v1.0h-1.0zM142.2 102.0h1.0v1.0h-1.0zM135.6 89.4h1.0v1.0h-1.0zM136.8 74.6h1.0v1.0h-1.0zM135.7 80.7h1.0v1.0h-1.0zM147.9 115.3h1.0v1.0h-1.0zM138.1 98.2h1.0v1.0h-1.0zM146.4 97.4h1.0v1.0h-1.0zM143.8 70.6h1.0v1.0h-1.0zM148.4 119.3h1.0v1.0h-1.0zM145.5 96.4h1.0v1.0h-1.0zM141.1 74.6h1.0v1.0h-1.0zM140.7 102.5h1.0v1.0h-1.0zM141.8 109.9h1.0v1.0h-1.0zM142.2 94.0h1.0v1.0h-1.0zM139.4 106.7h1.0v1.0h-1.0zM141.4 73.9h1.0v1.0h-1.0zM147.9 119.4h1.0v1.0h-1.0zM134.7 112.8h1.0v1.0h-1.0zM142.5 119.5h1.0v1.0h-1.0zM137.9 85.6h1.0v1.0h-1.0zM142.2 108.2h1.0v1.0h-1.0z" fill="#444" fill-opacity="0.7"/>
<path d="M141.7 131.3h1.0v1.0h-1.0zM132.3 137.6h1.0v1.0h-1.0zM141.7 145.2h1.0v1.0h-1.0zM131.1 129.5h1.0v1.0h-1.0zM139.4 131.9h1.0v1.0h-1.0zM134.7 122.6h1.0v1.0h-1.0zM138.0 139.4h1.0v1.0h-1.0zM120.6 133.1h1.0v1.0h-1.0zM136.0 141.9h1.0v1.0h-1.0zM127.0 127.8h1.0v1.0h-1.0zM132.3 138.5h1.0v1.0h-1.0zM122.4 138.8h1.0v1.0h-1.0zM141.0 133.6h1.0v1.0h-1.0zM148.6 126.7h1.0v1.0h-1.0zM131.3 132.1h1.0v1.0h-1.0zM123.4 140.6h1.0v1.0h-1.0zM139.8 126.7h1.0v1.0h-1.0zM124.1 124.3h1.0v1.0h-1.0zM148.5 133.6h1.0v1.0h-1.0zM123.9 127.9h1.0v1.0h-1.0zM131.6 142.0h1.0v1.0h-1.0zM135.8 142.4h1.0v1.0h-1.0zM123.8 145.6h1.0v1.0h-1.0zM130.2 143.0h1.0v1.0h-1.0zM128.8 138.2h1.0v1.0h-1.0zM142.8 126.7h1.0v1.0h-1.0zM151.6 142.6h1.0v1.0h-1.0zM131.6 140.2h1.0v1.0h-1.0zM145.3 140.7h1.0v1.0h-1.0zM124.5 139.4h1.0v1.0h-1.0zM138.6 142.8h1.0v1.0h-1.0zM133.8 129.4h1.0v1.0h-1.0zM129.2 138.8h1.0v1.0h-1.0zM146.3 134.9h1.0v1.0h-1.0zM143.9 130.4h1.0v1.0h-1.0zM124.3 130.2h1.0v1.0h-1.0zM129.4 125.9h1.0v1.0h-1.0zM146.2 134.3h1.0v1.0h-1.0zM151.8 131.2h1.0v1.0h-1.0zM139.6 132.5h1.0v1.0h-1.0zM147.9 143.3h1.0v1.0h-1.0zM151.5 139.0h1.0v1.0h-1.0zM143.7 139.0h1.0v1.0h-1.0zM140.6 146.6h1.0v1.0h-1.0zM127.1 127.4h1.0v1.0h-1.0z" fill="#555" fill-opacity="0.6"/>
<path d="M89.5 125.6h1.0v1.0h-1.0zM88.7 144.8h1.0v1.0h-1.0zM89.3 138.1h1.0v1.0h-1.0zM90.4 122.4h1.0v1.0h-1.0zM88.7 147.0h1.0v1.0h-1.0zM90.0 131.0h1.0v1.0h-1.0zM90.2 149.3h1.0v1.0h-1.0zM89.5 139.1h1.0v1.0h-1.0zM90.1 140.7h1.0v1.0h-1.0zM89.4 138.0h1.0v1.0h-1.0zM89.2 145.7h1.0v1.0h-1.0zM88.9 149.9h1.0v1.0h-1.0zM89.1 124.4h1.0v1.0h-1.0zM89.1 139.3h1.0v1.0h-1.0zM90.5 130.2h1.0v1.0h-1.0zM89.2 125.6h1.0v1.0h-1.0zM89.0 128.8h1.0v1.0h-1.0zM90.4 130.7h1.0v1.0h-1.0zM88.8 155.6h1.0v1.0h-1.0zM90.4 148.1h1.0v1.0h-1.0zM90.2 151.9h1.0v1.0h-1.0zM89.8 146.5h1.0v1.0h-1.0zM89.4 133.0h1.0v1.0h-1.0zM88.9 135.7h1.0v1.0h-1.0zM88.7 137.4h1.0v1.0h-1.0zM88.7 132.3h1.0v1.0h-1.0zM89.2 136.8h1.0v1.0h-1.0zM89.3 149.0h1.0v1.0h-1.0zM90.3 124.6h1.0v1.0h-1.0zM89.6 131.7h1.0v1.0h-1.0zM90.5 138.8h1.0v1.0h-1.0zM89.9 145.7h1.0v1.0h-1.0zM88.8 144.6h1.0v1.0h-1.0zM89.6 147.4h1.0v1.0h-1.0zM88.8 125.7h1.0v1.0h-1.0zM88.6 128.3h1.0v1.0h-1.0zM90.4 132.8h1.0v1.0h-1.0zM89.2 131.9h1.0v1.0h-1.0zM88.9 148.4h1.0v1.0h-1.0z" fill="#333" fill-opacity="0.8"/>
<path d="M183.8 81.9h1.0v1.0h-1.0zM173.2 97.5h1.0v1.0h-1.0zM151.1 110.4h1.0v1.0h-1.0zM160.1 81.1h1.0v1.0h-1.0zM177.3 72.7h1.0v1.0h-1.0zM181.4 62.2h1.0v1.0h-1.0zM170.2 69.7h1.0v1.0h-1.0zM161.9 109.7h1.0v1.0h-1.0z" fill="#666" fill-opacity="0.5"/>
<path d="M94.8 132.2h1.0v1.0h-1.0zM98.0 137.5h1.0v1.0h-1.0zM105.1 137.8h1.0v1.0h-1.0zM99.3 130.2h1.0v1.0h-1.0zM110.8 146.2h1.0v1.0h-1.0zM111.7 148.9h1.0v1.0h-1.0zM109.8 139.2h1.0v1.0h-1.0zM92.9 152.4h1.0v1.0h-1.0zM111.1 145.4h1.0v1.0h-1.0zM105.3 153.3h1.0v1.0h-1.0zM96.3 145.4h1.0v1.0h-1.0zM94.9 135.1h1.0v1.0h-1.0zM96.6 140.1h1.0v1.0h-1.0zM101.4 145.8h1.0v1.0h-1.0zM107.9 148.4h1.0v1.0h-1.0zM98.2 140.7h1.0v1.0h-1.0zM104.0 145.4h1.0v1.0h-1.0zM89.7 148.5h1.0v1.0h-1.0zM119.2 124.0h1.0v1.0h-1.0zM106.9 145.0h1.0v1.0h-1.0zM99.8 154.5h1.0v1.0h-1.0zM92.9 143.0h1.0v1.0h-1.0zM109.9 139.6h1.0v1.0h-1.0zM97.8 142.6h1.0v1.0h-1.0zM94.7 149.8h1.0v1.0h-1.0zM92.5 147.9h1.0v1.0h-1.0zM99.8 116.9h1.0v1.0h-1.0zM100.5 131.4h1.0v1.0h-1.0zM93.3 131.4h1.0v1.0h-1.0zM109.8 142.6h1.0v1.0h-1.0zM110.4 144.6h1.0v1.0h-1.0zM94.8 140.9h1.0v1.0h-1.0zM108.4 150.4h1.0v1.0h-1.0zM100.5 142.0h1.0v1.0h-1.0zM99.8 136.0h1.0v1.0h-1.0zM112.9 141.6h1.0v1.0h-1.0zM93.2 137.0h1.0v1.0h-1.0zM105.2 147.6h1.0v1.0h-1.0zM99.6 135.1h1.0v1.0h-1.0zM100.7 125.6h1.0v1.0h-1.0zM92.1 149.1h1.0v1.0h-1.0zM97.4 145.1h1.0v1.0h-1.0zM108.3 147.7h1.0v1.0h-1.0zM104.8 138.1h1.0v1.0h-1.0zM105.2 145.4h1.0v1.0h-1.0zM95.0 142.2h1.0v1.0h-1.0zM99.4 122.8h1.0v1.0h-1.0zM99.4 138.8h1.0v1.0h-1.0zM97.7 125.9h1.0v1.0h-1.0zM98.2 141.1h1.0v1.0h-1.0zM101.2 130.7h1.0v1.0h-1.0zM104.6 129.9h1.0v1.0h-1.0zM99.1 153.9h1.0v1.0h-1.0zM96.1 136.6h1.0v1.0h-1.0zM107.4 137.8h1.0v1.0h-1.0zM98.6 143.6h1.0v1.0h-1.0zM107.2 120.6h1.0v1.0h-1.0zM95.2 131.9h1.0v1.0h-1.0zM93.5 133.4h1.0v1.0h-1.0zM95.1 144.4h1.0v1.0h-1.0zM94.8 142.7h1.0v1.0h-1.0zM103.1 134.6h1.0v1.0h-1.0zM102.6 135.5h1.0v1.0h-1.0zM100.1 132.8h1.0v1.0h-1.0zM102.2 149.7h1.0v1.0h-1.0zM95.3 139.5h1.0v1.0h-1.0zM107.6 136.8h1.0v1.0h-1.0zM101.7 131.8h1.0v1.0h-1.0zM95.3 136.7h1.0v1.0h-1.0zM114.1 137.7h1.0v1.0h-1.0zM97.2 136.3h1.0v1.0h-1.0zM99.5 147.6h1.0v1.0h-1.0zM101.8 154.9h1.0v1.0h-1.0zM102.2 147.1h1.0v1.0h-1.0zM91.5 140.3h1.0v1.0h-1.0zM100.1 139.3h1.0v1.0h-1.0zM98.1 137.4h1.0v1.0h-1.0zM98.9 139.4h1.0v1.0h-1.0zM103.0 129.7h1.0v1.0h-1.0zM94.7 144.2h1.0v1.0h-1.0zM101.4 138.0h1.0v1.0h-1.0zM96.9 133.8h1.0v1.0h-1.0zM100.1 152.4h1.0v1.0h-1.0zM93.9 155.6h1.0v1.0h-1.0zM105.8 137.3h1.0v1.0h-1.0zM105.4 127.9h1.0v1.0h-1.0zM89.7 129.6h1.0v1.0h-1.0zM97.9 138.5h1.0v1.0h-1.0zM97.3 142.4h1.0v1.0h-1.0zM91.6 135.4h1.0v1.0h-1.0zM97.9 130.8h1.0v1.0h-1.0zM91.9 132.2h1.0v1.0h-1.0zM100.4 147.0h1.0v1.0h-1.0zM104.0 132.3h1.0v1.0h-1.0zM95.6 133.0h1.0v1.0h-1.0zM103.3 122.7h1.0v1.0h-1.0zM108.2 137.0h1.0v1.0h-1.0zM95.6 144.6h1.0v1.0h-1.0zM107.0 144.7h1.0v1.0h-1.0zM107.1 142.7h1.0v1.0h-1.0zM108.2 153.0h1.0v1.0h-1.0zM99.9 154.8h1.0v1.0h-1.0zM101.5 142.3h1.0v1.0h-1.0zM94.7 138.8h1.0v1.0h-1.0zM105.4 129.4h1.0v1.0h-1.0zM104.6 144.7h1.0v1.0h-1.0zM102.2 121.1h1.0v1.0h-1.0zM99.9 147.5h1.0v1.0h-1.0zM95.7 142.3h1.0v1.0h-1.0zM96.4 149.6h1.0v1.0h-1.0zM89.0 147.9h1.0v1.0h-1.0zM99.0 149.0h1.0v1.0h-1.0zM94.7 135.8h1.0v1.0h-1.0zM114.5 133.8h1.0v1.0h-1.0zM96.1 138.9h1.0v1.0h-1.0zM94.1 152.5h1.0v1.0h-1.0zM111.3 135.0h1.0v1.0h-1.0zM89.7 152.3h1.0v1.0h-1.0zM107.4 149.1h1.0v1.0h-1.0zM107.7 133.5h1.0v1.0h-1.0zM99.4 128.7h1.0v1.0h-1.0zM91.6 150.6h1.0v1.0h-1.0zM101.0 135.6h1.0v1.0h-1.0zM103.5 130.2h1.0v1.0h-1.0zM102.8 154.2h1.0v1.0h-1.0zM97.4 134.3h1.0v1.0h-1.0zM106.9 142.8h1.0v1.0h-1.0zM93.6 138.0h1.0v1.0h-1.0zM95.8 144.2h1.0v1.0h-1.0zM101.2 152.1h1.0v1.0h-1.0zM104.9 127.0h1.0v1.0h-1.0zM103.0 149.8h1.0v1.0h-1.0zM103.3 151.0h1.0v1.0h-1.0zM97.1 132.7h1.0v1.0h-1.0zM106.3 131.6h1.0v1.0h-1.0zM96.0 138.7h1.0v1.0h-1.0zM91.8 129.2h1.0v1.0h-1.0zM93.3 138.2h1.0v1.0h-1.0zM102.8 120.2h1.0v1.0h-1.0zM105.2 130.6h1.0v1.0h-1.0zM93.8 147.8h1.0v1.0h-1.0zM100.0 127.3h1.0v1.0h-1.0zM112.0 133.5h1.0v1.0h-1.0zM102.0 143.3h1.0v1.0h-1.0zM109.3 137.3h1.0v1.0h-1.0zM106.8 134.6h1.0v1.0h-1.0zM107.5 134.4h1.0v1.0h-1.0zM102.5 142.5h1.0v1.0h-1.0zM114.5 144.8h1.0v1.0h-1.0zM95.4 148.3h1.0v1.0h-1.0zM93.1 151.9h1.0v1.0h-1.0zM108.0 136.2h1.0v1.0h-1.0zM96.6 143.1h1.0v1.0h-1.0zM100.6 132.5h1.0v1.0h-1.0zM104.1 122.6h1.0v1.0h-1.0zM97.8 137.8h1.0v1.0h-1.0zM98.8 144.3h1.0v1.0h-1.0zM92.8 146.9h1.0v1.0h-1.0zM99.4 135.5h1.0v1.0h-1.0zM92.0 130.6h1.0v1.0h-1.0zM102.8 132.6h1.0v1.0h-1.0zM100.9 151.3h1.0v1.0h-1.0zM107.0 155.9h1.0v1.0h-1.0zM98.6 131.5h1.0v1.0h-1.0zM106.9 144.4h1.0v1.0h-1.0zM107.5 141.6h1.0v1.0h-1.0zM108.0 149.3h1.0v1.0h-1.0zM105.0 146.2h1.0v1.0h-1.0zM103.0 143.7h1.0v1.0h-1.0zM101.9 150.7h1.0v1.0h-1.0zM99.8 150.6h1.0v1.0h-1.0zM99.9 139.2h1.0v1.0h-1.0zM113.2 138.6h1.0v1.0h-1.0zM92.5 134.9h1.0v1.0h-1.0zM101.8 150.1h1.0v1.0h-1.0zM94.2 144.8h1.0v1.0h-1.0zM96.1 147.1h1.0v1.0h-1.0zM102.4 132.0h1.0v1.0h-1.0zM100.4 139.1h1.0v1.0h-1.0zM103.9 137.4h1.0v1.0h-1.0zM92.1 155.2h1.0v1.0h-1.0zM102.2 150.9h1.0v1.0h-1.0zM109.3 136.7h1.0v1.0h-1.0zM105.6 139.3h1.0v1.0h-1.0zM100.1 140.7h1.0v1.0h-1.0zM100.5 151.8h1.0v1.0h-1.0zM101.3 140.1h1.0v1.0h-1.0zM98.8 144.7h1.0v1.0h-1.0zM94.9 136.9h1.0v1.0h-1.0zM100.2 136.3h1.0v1.0h-1.0zM99.8 135.9h1.0v1.0h-1.0zM113.0 153.8h1.0v1.0h-1.0zM103.3 141.0h1.0v1.0h-1.0zM114.2 144.5h1.0v1.0h-1.0zM100.0 144.3h1.0v1.0h-1.0zM102.4 154.5h1.0v1.0h-1.0zM95.0 147.9h1.0v1.0h-1.0zM98.4 141.0h1.0v1.0h-1.0zM106.3 153.1h1.0v1.0h-1.0zM93.6 138.3h1.0v1.0h-1.0zM91.8 142.8h1.0v1.0h-1.0zM99.9 138.3h1.0v1.0h-1.0zM96.2 137.9h1.0v1.0h-1.0zM95.8 146.4h1.0v1.0h-1.0zM110.0 123.6h1.0v1.0h-1.0zM99.8 137.6h1.0v1.0h-1.0zM103.6 132.7h1.0v1.0h-1.0zM99.6 131.9h1.0v1.0h-1.0zM104.9 142.4h1.0v1.0h-1.0zM99.5 144.9h1.0v1.0h-1.0zM99.0 127.1h1.0v1.0h-1.0zM104.2 144.2h1.0v1.0h-1.0zM99.5 150.6h1.0v1.0h-1.0zM108.1 131.4h1.0v1.0h-1.0zM95.6 155.8h1.0v1.0h-1.0zM109.4 134.7h1.0v1.0h-1.0zM93.1 135.6h1.0v1.0h-1.0zM97.4 126.8h1.0v1.0h-1.0zM100.7 129.7h1.0v1.0h-1.0zM92.9 150.0h1.0v1.0h-1.0zM96.2 140.8h1.0v1.0h-1.0zM104.4 149.0h1.0v1.0h-1.0zM98.4 141.9h1.0v1.0h-1.0zM104.6 131.3h1.0v1.0h-1.0zM100.5 148.1h1.0v1.0h-1.0zM109.1 136.5h1.0v1.0h-1.0zM99.9 129.6h1.0v1.0h-1.0zM102.1 142.9h1.0v1.0h-1.0zM117.4 142.4h1.0v1.0h-1.0zM101.2 129.9h1.0v1.0h-1.0zM95.1 138.1h1.0v1.0h-1.0zM102.6 140.0h1.0v1.0h-1.0zM94.9 148.8h1.0v1.0h-1.0zM97.1 136.9h1.0v1.0h-1.0zM91.9 134.2h1.0v1.0h-1.0zM104.6 126.5h1.0v1.0h-1.0zM100.1 148.1h1.0v1.0h-1.0zM98.1 143.7h1.0v1.0h-1.0zM93.5 153.6h1.0v1.0h-1.0zM107.4 143.7h1.0v1.0h-1.0zM89.5 131.8h1.0v1.0h-1.0zM102.4 153.0h1.0v1.0h-1.0zM96.7 139.7h1.0v1.0h-1.0zM100.5 145.4h1.0v1.0h-1.0zM90.9 150.2h1.0v1.0h-1.0zM108.8 130.9h1.0v1.0h-1.0zM92.0 144.7h1.0v1.0h-1.0zM96.4 119.6h1.0v1.0h-1.0zM105.6 142.9h1.0v1.0h-1.0zM101.4 134.5h1.0v1.0h-1.0zM101.1 131.9h1.0v1.0h-1.0zM95.7 145.1h1.0v1.0h-1.0zM97.0 137.3h1.0v1.0h-1.0zM110.9 149.5h1.0v1.0h-1.0zM105.5 146.4h1.0v1.0h-1.0zM103.5 155.0h1.0v1.0h-1.0zM94.6 139.1h1.0v1.0h-1.0zM91.9 138.3h1.0v1.0h-1.0zM103.7 154.9h1.0v1.0h-1.0zM96.4 141.5h1.0v1.0h-1.0zM98.3 134.7h1.0v1.0h-1.0zM93.1 142.1h1.0v1.0h-1.0zM89.7 142.5h1.0v1.0h-1.0zM100.6 135.4h1.0v1.0h-1.0zM94.2 128.7h1.0v1.0h-1.0zM112.2 129.1h1.0v1.0h-1.0zM110.2 147.1h1.0v1.0h-1.0zM98.2 130.8h1.0v1.0h-1.0zM94.7 138.7h1.0v1.0h-1.0zM107.1 144.6h1.0v1.0h-1.0zM113.0 136.2h1.0v1.0h-1.0zM103.9 129.9h1.0v1.0h-1.0zM113.6 134.7h1.0v1.0h-1.0zM98.4 141.4h1.0v1.0h-1.0zM100.1 151.1h1.0v1.0h-1.0zM103.7 138.8h1.0v1.0h-1.0zM101.0 141.8h1.0v1.0h-1.0zM94.8 152.7h1.0v1.0h-1.0zM91.8 152.3h1.0v1.0h-1.0zM106.5 140.6h1.0v1.0h-1.0zM95.7 139.4h1.0v1.0h-1.0zM103.5 148.4h1.0v1.0h-1.0zM102.3 150.7h1.0v1.0h-1.0zM97.0 143.7h1.0v1.0h-1.0zM90.7 148.6h1.0v1.0h-1.0zM101.5 137.7h1.0v1.0h-1.0zM107.8 147.9h1.0v1.0h-1.0zM91.4 151.4h1.0v1.0h-1.0zM116.1 136.7h1.0v1.0h-1.0zM101.0 139.2h1.0v1.0h-1.0zM102.7 147.5h1.0v1.0h-1.0zM108.5 132.4h1.0v1.0h-1.0zM110.3 132.9h1.0v1.0h-1.0zM102.2 152.2h1.0v1.0h-1.0zM105.0 132.8h1.0v1.0h-1.0zM96.1 137.2h1.0v1.0h-1.0zM100.2 152.1h1.0v1.0h-1.0zM92.4 145.8h1.0v1.0h-1.0zM104.3 146.7h1.0v1.0h-1.0zM103.4 155.5h1.0v1.0h-1.0zM103.5 149.4h1.0v1.0h-1.0zM88.6 153.4h1.0v1.0h-1.0zM98.9 138.9h1.0v1.0h-1.0zM94.4 124.2h1.0v1.0h-1.0zM98.1 135.1h1.0v1.0h-1.0zM103.6 127.9h1.0v1.0h-1.0zM109.4 144.0h1.0v1.0h-1.0zM99.0 134.9h1.0v1.0h-1.0zM95.6 131.0h1.0v1.0h-1.0zM97.1 141.6h1.0v1.0h-1.0zM99.4 128.4h1.0v1.0h-1.0zM98.8 133.2h1.0v1.0h-1.0zM104.4 138.6h1.0v1.0h-1.0zM90.3 128.4h1.0v1.0h-1.0zM90.0 148.2h1.0v1.0h-1.0zM95.7 142.1h1.0v1.0h-1.0zM96.6 142.3h1.0v1.0h-1.0zM109.3 135.2h1.0v1.0h-1.0zM98.4 134.0h1.0v1.0h-1.0zM106.0 132.0h1.0v1.0h-1.0zM93.4 128.7h1.0v1.0h-1.0zM91.7 145.9h1.0v1.0h-1.0zM116.6 132.3h1.0v1.0h-1.0zM106.4 143.8h1.0v1.0h-1.0zM93.6 138.9h1.0v1.0h-1.0zM99.0 135.1h1.0v1.0h-1.0zM112.6 123.9h1.0v1.0h-1.0zM102.9 144.6h1.0v1.0h-1.0zM96.9 142.9h1.0v1.0h-1.0zM106.0 142.9h1.0v1.0h-1.0zM103.1 147.9h1.0v1.0h-1.0zM114.7 150.6h1.0v1.0h-1.0zM106.8 128.5h1.0v1.0h-1.0zM99.8 134.0h1.0v1.0h-1.0zM96.8 150.4h1.0v1.0h-1.0zM95.5 140.3h1.0v1.0h-1.0zM88.6 140.0h1.0v1.0h-1.0zM101.1 135.0h1.0v1.0h-1.0zM92.9 131.8h1.0v1.0h-1.0zM95.4 152.6h1.0v1.0h-1.0zM113.6 144.6h1.0v1.0h-1.0zM96.0 137.5h1.0v1.0h-1.0zM107.2 133.1h1.0v1.0h-1.0zM109.6 154.6h1.0v1.0h-1.0zM100.9 147.5h1.0v1.0h-1.0zM105.2 155.9h1.0v1.0h-1.0zM93.9 152.4h1.0v1.0h-1.0zM98.2 134.4h1.0v1.0h-1.0zM101.1 139.5h1.0v1.0h-1.0zM94.3 126.7h1.0v1.0h-1.0zM94.6 154.9h1.0v1.0h-1.0zM112.8 147.5h1.0v1.0h-1.0zM107.9 136.7h1.0v1.0h-1.0zM100.0 144.1h1.0v1.0h-1.0zM93.7 132.3h1.0v1.0h-1.0zM101.1 138.5h1.0v1.0h-1.0zM93.9 145.1h1.0v1.0h-1.0zM98.9 150.9h1.0v1.0h-1.0zM100.5 138.7h1.0v1.0h-1.0zM101.3 139.9h1.0v1.0h-1.0zM96.3 137.8h1.0v1.0h-1.0zM105.2 147.5h1.0v1.0h-1.0zM108.5 125.8h1.0v1.0h-1.0zM98.0 137.7h1.0v1.0h-1.0zM101.6 137.3h1.0v1.0h-1.0zM97.3 148.7h1.0v1.0h-1.0zM101.6 130.7h1.0v1.0h-1.0zM108.8 150.7h1.0v1.0h-1.0zM96.9 149.2h1.0v1.0h-1.0zM95.9 151.9h1.0v1.0h-1.0zM99.1 134.1h1.0v1.0h-1.0zM98.2 134.4h1.0v1.0h-1.0zM101.7 143.1h1.0v1.0h-1.0zM100.7 136.4h1.0v1.0h-1.0zM88.6 143.8h1.0v1.0h-1.0zM107.6 144.0h1.0v1.0h-1.0zM98.1 139.8h1.0v1.0h-1.0zM99.7 136.4h1.0v1.0h-1.0zM96.9 133.0h1.0v1.0h-1.0zM107.9 141.4h1.0v1.0h-1.0zM106.5 139.2h1.0v1.0h-1.0zM101.0 139.9h1.0v1.0h-1.0zM103.4 149.1h1.0v1.0h-1.0zM102.0 135.3h1.0v1.0h-1.0zM98.7 138.8h1.0v1.0h-1.0zM109.7 151.6h1.0v1.0h-1.0zM103.8 137.8h1.0v1.0h-1.0zM115.2 145.1h1.0v1.0h-1.0zM103.9 139.9h1.0v1.0h-1.0zM91.7 129.2h1.0v1.0h-1.0zM103.0 145.1h1.0v1.0h-1.0zM99.0 130.7h1.0v1.0h-1.0zM91.5 138.5h1.0v1.0h-1.0zM91.4 149.8h1.0v1.0h-1.0zM106.0 136.0h1.0v1.0h-1.0zM95.1 109.6h1.0v1.0h-1.0zM96.8 139.9h1.0v1.0h-1.0zM106.5 147.2h1.0v1.0h-1.0zM104.2 143.5h1.0v1.0h-1.0zM104.6 154.9h1.0v1.0h-1.0zM93.8 137.3h1.0v1.0h-1.0zM108.6 148.5h1.0v1.0h-1.0zM93.0 143.1h1.0v1.0h-1.0zM99.0 142.2h1.0v1.0h-1.0zM99.3 146.3h1.0v1.0h-1.0zM98.0 149.4h1.0v1.0h-1.0zM102.0 138.8h1.0v1.0h-1.0zM99.8 137.4h1.0v1.0h-1.0zM105.6 139.0h1.0v1.0h-1.0zM102.3 137.9h1.0v1.0h-1.0zM91.2 149.9h1.0v1.0h-1.0zM93.9 147.8h1.0v1.0h-1.0zM103.1 126.2h1.0v1.0h-1.0zM94.6 136.7h1.0v1.0h-1.0zM95.4 130.6h1.0v1.0h-1.0zM105.1 139.3h1.0v1.0h-1.0zM102.9 137.5h1.0v1.0h-1.0zM102.4 134.6h1.0v1.0h-1.0zM100.3 146.9h1.0v1.0h-1.0zM100.8 137.3h1.0v1.0h-1.0zM93.7 143.1h1.0v1.0h-1.0zM102.7 139.1h1.0v1.0h-1.0zM95.7 146.5h1.0v1.0h-1.0zM116.0 138.7h1.0v1.0h-1.0zM102.6 145.0h1.0v1.0h-1.0zM96.1 154.3h1.0v1.0h-1.0zM98.9 134.3h1.0v1.0h-1.0zM99.1 143.0h1.0v1.0h-1.0zM97.0 141.0h1.0v1.0h-1.0zM92.0 139.4h1.0v1.0h-1.0zM104.9 144.0h1.0v1.0h-1.0zM107.9 150.9h1.0v1.0h-1.0zM110.9 151.5h1.0v1.0h-1.0zM99.8 143.9h1.0v1.0h-1.0zM101.6 144.3h1.0v1.0h-1.0zM101.8 134.3h1.0v1.0h-1.0zM100.5 126.0h1.0v1.0h-1.0zM104.8 149.5h1.0v1.0h-1.0zM112.2 130.3h1.0v1.0h-1.0zM107.0 145.6h1.0v1.0h-1.0zM103.1 150.1h1.0v1.0h-1.0zM96.0 136.0h1.0v1.0h-1.0zM95.3 134.5h1.0v1.0h-1.0zM99.9 128.1h1.0v1.0h-1.0zM94.0 146.8h1.0v1.0h-1.0zM100.1 145.0h1.0v1.0h-1.0zM88.7 134.2h1.0v1.0h-1.0zM97.0 141.8h1.0v1.0h-1.0zM96.8 150.1h1.0v1.0h-1.0zM100.1 141.7h1.0v1.0h-1.0zM100.6 148.0h1.0v1.0h-1.0zM97.6 151.9h1.0v1.0h-1.0zM103.4 142.9h1.0v1.0h-1.0zM100.8 146.3h1.0v1.0h-1.0zM106.8 150.2h1.0v1.0h-1.0zM102.8 149.6h1.0v1.0h-1.0z" fill="#333" fill-opacity="0.8"/>
<ellipse cx="100.5" cy="141.5" rx="12.5" ry="18.5" fill="url(#bg1)" transform="rotate(0 100.5 141.5)"/>
<path d="M93.6 135.3h1v1h-1zM106.9 129.2h1v1h-1zM108.8 130.6h1v1h-1zM105.2 150.2h1v1h-1zM102.0 157.6h1v1h-1zM99.7 154.6h1v1h-1zM103.6 155.8h1v1h-1zM101.9 152.1h1v1h-1zM92.9 131.0h1v1h-1zM97.0 153.7h1v1h-1zM103.5 136.0h1v1h-1zM99.5 127.0h1v1h-1zM90.0 135.4h1v1h-1zM96.8 137.0h1v1h-1zM94.5 140.8h1v1h-1zM93.5 137.1h1v1h-1zM104.5 126.6h1v1h-1zM103.5 131.7h1v1h-1zM102.1 126.2h1v1h-1zM107.2 134.2h1v1h-1zM106.7 148.7h1v1h-1zM97.3 134.2h1v1h-1zM94.4 146.3h1v1h-1zM103.0 151.4h1v1h-1zM103.8 143.0h1v1h-1zM96.4 153.7h1v1h-1zM107.5 137.0h1v1h-1zM103.8 129.3h1v1h-1zM109.9 137.3h1v1h-1zM98.3 144.4h1v1h-1zM89.8 145.1h1v1h-1zM104.9 156.4h1v1h-1zM102.7 139.0h1v1h-1zM93.3 140.9h1v1h-1zM102.6 157.3h1v1h-1zM91.7 151.4h1v1h-1zM101.1 149.7h1v1h-1zM92.6 144.0h1v1h-1zM110.6 146.4h1v1h-1zM101.9 144.4h1v1h-1zM102.2 128.8h1v1h-1zM94.6 133.9h1v1h-1zM109.5 143.1h1v1h-1zM106.1 141.4h1v1h-1zM106.6 138.3h1v1h-1zM101.9 153.0h1v1h-1zM100.6 142.3h1v1h-1zM94.6 145.0h1v1h-1zM93.3 138.2h1v1h-1zM108.1 143.9h1v1h-1zM106.1 139.5h1v1h-1zM100.3 138.8h1v1h-1zM98.4 130.4h1v1h-1zM96.1 148.5h1v1h-1zM107.3 135.1h1v1h-1zM106.0 146.4h1v1h-1zM102.1 139.3h1v1h-1zM105.1 147.9h1v1h-1zM105.4 130.9h1v1h-1zM105.5 152.0h1v1h-1zM99.8 152.0h1v1h-1zM101.9 141.0h1v1h-1zM105.6 150.0h1v1h-1zM111.0 140.0h1v1h-1zM100.3 156.5h1v1h-1zM95.7 140.4h1v1h-1zM106.7 132.7h1v1h-1zM109.9 132.8h1v1h-1zM94.8 136.5h1v1h-1zM96.6 140.8h1v1h-1zM102.8 144.4h1v1h-1zM99.3 147.0h1v1h-1zM98.8 132.6h1v1h-1zM102.9 144.5h1v1h-1zM96.2 129.6h1v1h-1zM98.7 127.7h1v1h-1zM91.8 137.1h1v1h-1zM108.9 148.5h1v1h-1zM100.2 133.8h1v1h-1zM95.7 140.1h1v1h-1zM95.3 145.1h1v1h-1zM95.0 128.6h1v1h-1zM99.4 152.5h1v1h-1zM94.9 129.0h1v1h-1zM105.6 133.4h1v1h-1zM109.8 139.8h1v1h-1zM107.9 133.5h1v1h-1z" fill="#fff" fill-opacity="0.28"/>
<path d="M98.4 129.5h1v1h-1zM109.2 149.7h1v1h-1zM94.4 134.4h1v1h-1zM101.2 137.6h1v1h-1zM109.3 136.0h1v1h-1zM93.8 143.5h1v1h-1zM91.4 149.9h1v1h-1zM91.5 148.7h1v1h-1zM99.4 151.0h1v1h-1zM95.8 144.7h1v1h-1zM102.6 135.6h1v1h-1zM109.6 150.9h1v1h-1zM103.1 141.6h1v1h-1zM110.2 148.7h1v1h-1zM97.4 154.5h1v1h-1zM100.6 148.9h1v1h-1zM109.8 143.1h1v1h-1zM91.0 135.1h1v1h-1zM101.9 149.3h1v1h-1zM94.2 131.7h1v1h-1zM97.3 149.6h1v1h-1zM107.0 135.5h1v1h-1zM104.9 131.2h1v1h-1zM92.2 136.4h1v1h-1zM97.2 130.9h1v1h-1zM99.3 130.0h1v1h-1zM98.4 147.9h1v1h-1zM92.2 151.0h1v1h-1zM110.1 135.7h1v1h-1zM107.4 149.1h1v1h-1zM95.6 129.0h1v1h-1zM104.5 134.7h1v1h-1zM107.8 145.6h1v1h-1zM100.9 145.8h1v1h-1zM104.0 129.6h1v1h-1zM104.0 142.2h1v1h-1zM93.0 148.6h1v1h-1zM103.7 131.5h1v1h-1zM111.1 138.2h1v1h-1zM110.4 141.8h1v1h-1zM96.8 138.1h1v1h-1zM110.1 149.5h1v1h-1zM94.1 148.7h1v1h-1zM99.7 152.0h1v1h-1zM100.9 150.1h1v1h-1zM97.1 139.7h1v1h-1zM98.8 130.7h1v1h-1zM109.1 137.6h1v1h-1zM105.3 135.0h1v1h-1zM96.8 132.8h1v1h-1zM92.5 150.5h1v1h-1zM95.4 133.3h1v1h-1zM96.8 140.4h1v1h-1zM101.0 146.6h1v1h-1zM109.2 139.2h1v1h-1zM99.7 158.1h1v1h-1zM96.2 140.8h1v1h-1zM95.1 149.1h1v1h-1zM98.0 127.4h1v1h-1zM94.4 132.9h1v1h-1zM96.7 130.1h1v1h-1zM110.7 136.2h1v1h-1zM107.6 128.8h1v1h-1zM97.0 143.1h1v1h-1zM97.8 155.7h1v1h-1zM108.7 145.9h1v1h-1zM96.4 145.9h1v1h-1zM97.9 143.5h1v1h-1zM104.0 135.4h1v1h-1zM95.8 147.9h1v1h-1zM91.1 136.0h1v1h-1zM101.0 145.1h1v1h-1zM103.3 153.9h1v1h-1zM96.5 135.7h1v1h-1zM99.6 153.1h1v1h-1zM94.9 132.2h1v1h-1zM100.2 144.8h1v1h-1zM105.0 135.1h1v1h-1zM99.0 144.6h1v1h-1zM98.8 134.6h1v1h-1zM110.0 146.8h1v1h-1zM97.0 126.9h1v1h-1zM105.0 137.6h1v1h-1zM102.0 132.7h1v1h-1zM97.5 142.7h1v1h-1zM106.9 134.3h1v1h-1zM90.6 137.1h1v1h-1zM98.2 143.1h1v1h-1z" fill="#222" fill-opacity="0.35"/>
</g>
<rect x="88" y="60" width="98" height="97.5" fill="none" stroke="#151515" stroke-width="1.3"/>
<line x1="88" y1="60" x2="88" y2="157.5" stroke="#b5b5b5" stroke-width="1.6" />
<line x1="118.7" y1="60" x2="118.7" y2="157.5" stroke="#111" stroke-width="1.1" />
<line x1="88" y1="120.5" x2="186" y2="120.5" stroke="#111" stroke-width="1.1" />
<rect x="88.5" y="60.3" width="3" height="2.6" fill="#000"/>
<rect x="115.5" y="117.3" width="3.6" height="3.6" fill="#000"/>
<text x="112.6" y="47.5" font-size="18" text-anchor="middle" font-weight="normal" fill="#111" >D0</text>
<text x="179.8" y="75" font-size="10.5" text-anchor="end" font-weight="normal" fill="#222" >1.94</text>
<line x1="221.5" y1="154" x2="226.5" y2="154" stroke="#222" stroke-width="1" />
<text transform="translate(214.5 157.7) scale(0.9 1)" font-size="9.9" text-anchor="end" fill="#333">10</text>
<text x="215.1" y="153.7" font-size="5.742" fill="#666">0</text>
<line x1="226.5" y1="154" x2="226.5" y2="158" stroke="#222" stroke-width="1" />
<text transform="translate(226.1 169) scale(0.9 1)" font-size="9.9" text-anchor="end" fill="#333">10</text>
<text x="226.7" y="165" font-size="5.742" fill="#666">0</text>
<line x1="221.5" y1="130.2" x2="226.5" y2="130.2" stroke="#222" stroke-width="1" />
<text transform="translate(214.5 133.8) scale(0.9 1)" font-size="9.9" text-anchor="end" fill="#333">10</text>
<text x="215.1" y="129.9" font-size="5.742" fill="#666">1</text>
<line x1="250.4" y1="154" x2="250.4" y2="158" stroke="#222" stroke-width="1" />
<text transform="translate(250 169) scale(0.9 1)" font-size="9.9" text-anchor="end" fill="#333">10</text>
<text x="250.6" y="165" font-size="5.742" fill="#666">1</text>
<line x1="221.5" y1="106.3" x2="226.5" y2="106.3" stroke="#222" stroke-width="1" />
<text transform="translate(214.5 110) scale(0.9 1)" font-size="9.9" text-anchor="end" fill="#333">10</text>
<text x="215.1" y="106.1" font-size="5.742" fill="#666">2</text>
<line x1="274.2" y1="154" x2="274.2" y2="158" stroke="#222" stroke-width="1" />
<text transform="translate(273.9 169) scale(0.9 1)" font-size="9.9" text-anchor="end" fill="#333">10</text>
<text x="274.5" y="165" font-size="5.742" fill="#666">2</text>
<line x1="221.5" y1="82.5" x2="226.5" y2="82.5" stroke="#222" stroke-width="1" />
<text transform="translate(214.5 86.2) scale(0.9 1)" font-size="9.9" text-anchor="end" fill="#333">10</text>
<text x="215.1" y="82.2" font-size="5.742" fill="#666">3</text>
<line x1="298.1" y1="154" x2="298.1" y2="158" stroke="#222" stroke-width="1" />
<text transform="translate(297.7 169) scale(0.9 1)" font-size="9.9" text-anchor="end" fill="#333">10</text>
<text x="298.3" y="165" font-size="5.742" fill="#666">3</text>
<line x1="221.5" y1="58.7" x2="226.5" y2="58.7" stroke="#222" stroke-width="1" />
<text transform="translate(214.5 62.4) scale(0.9 1)" font-size="9.9" text-anchor="end" fill="#333">10</text>
<text x="215.1" y="58.4" font-size="5.742" fill="#666">4</text>
<line x1="322" y1="154" x2="322" y2="158" stroke="#222" stroke-width="1" />
<text transform="translate(321.6 169) scale(0.9 1)" font-size="9.9" text-anchor="end" fill="#333">10</text>
<text x="322.2" y="165" font-size="5.742" fill="#666">4</text>
<g clip-path="url(#c2)">
<defs><clipPath id="c2"><rect x="226.5" y="58.7" width="95.5" height="95.3"/></clipPath></defs>
<defs><radialGradient id="bg2" cx="0.5" cy="0.5" r="0.5" fx="0.52" fy="0.42"><stop offset="0" stop-color="#c4c4c4"/><stop offset="0.31" stop-color="#7c7c7c"/><stop offset="0.62" stop-color="#484848"/><stop offset="0.84" stop-color="#484848" stop-opacity="0.85"/><stop offset="1" stop-color="#484848" stop-opacity="0"/></radialGradient></defs>
<path d="M245.6 108.7h1.0v1.0h-1.0zM236.8 60.5h1.0v1.0h-1.0zM243.7 88.8h1.0v1.0h-1.0zM240.0 107.1h1.0v1.0h-1.0zM241.9 109.2h1.0v1.0h-1.0zM241.3 81.7h1.0v1.0h-1.0zM245.2 118.9h1.0v1.0h-1.0zM231.9 77.4h1.0v1.0h-1.0zM242.5 89.6h1.0v1.0h-1.0zM234.3 105.4h1.0v1.0h-1.0zM246.4 86.5h1.0v1.0h-1.0zM232.1 107.5h1.0v1.0h-1.0zM236.5 117.8h1.0v1.0h-1.0zM233.5 106.4h1.0v1.0h-1.0zM248.4 119.6h1.0v1.0h-1.0zM235.2 119.1h1.0v1.0h-1.0zM241.5 105.2h1.0v1.0h-1.0zM238.6 76.7h1.0v1.0h-1.0zM232.9 116.0h1.0v1.0h-1.0zM239.5 101.5h1.0v1.0h-1.0zM244.0 62.1h1.0v1.0h-1.0zM240.2 76.5h1.0v1.0h-1.0zM245.2 69.7h1.0v1.0h-1.0zM239.4 89.2h1.0v1.0h-1.0zM241.0 95.6h1.0v1.0h-1.0zM239.3 96.1h1.0v1.0h-1.0zM242.5 94.7h1.0v1.0h-1.0zM249.5 103.7h1.0v1.0h-1.0zM242.6 109.4h1.0v1.0h-1.0zM241.9 114.7h1.0v1.0h-1.0zM238.2 119.4h1.0v1.0h-1.0zM237.6 109.0h1.0v1.0h-1.0zM247.6 81.5h1.0v1.0h-1.0zM236.0 98.1h1.0v1.0h-1.0zM236.9 117.2h1.0v1.0h-1.0zM240.6 77.7h1.0v1.0h-1.0zM239.1 119.7h1.0v1.0h-1.0zM249.8 66.9h1.0v1.0h-1.0zM230.4 91.0h1.0v1.0h-1.0zM242.6 97.9h1.0v1.0h-1.0zM244.2 106.7h1.0v1.0h-1.0zM236.0 76.7h1.0v1.0h-1.0zM238.1 120.0h1.0v1.0h-1.0zM242.9 119.9h1.0v1.0h-1.0zM248.3 100.2h1.0v1.0h-1.0zM236.9 112.4h1.0v1.0h-1.0zM233.9 107.3h1.0v1.0h-1.0zM245.4 99.2h1.0v1.0h-1.0zM247.9 119.7h1.0v1.0h-1.0zM239.5 61.7h1.0v1.0h-1.0zM231.0 89.0h1.0v1.0h-1.0zM247.5 118.8h1.0v1.0h-1.0zM240.1 84.2h1.0v1.0h-1.0zM246.1 99.4h1.0v1.0h-1.0zM240.8 88.3h1.0v1.0h-1.0zM239.3 84.2h1.0v1.0h-1.0zM239.0 60.9h1.0v1.0h-1.0zM247.6 118.4h1.0v1.0h-1.0zM247.5 60.4h1.0v1.0h-1.0zM231.4 103.0h1.0v1.0h-1.0zM236.8 116.1h1.0v1.0h-1.0zM249.0 108.7h1.0v1.0h-1.0zM239.3 109.2h1.0v1.0h-1.0zM234.9 70.3h1.0v1.0h-1.0zM241.0 100.0h1.0v1.0h-1.0zM240.5 119.4h1.0v1.0h-1.0zM240.6 86.1h1.0v1.0h-1.0zM238.8 101.7h1.0v1.0h-1.0zM239.6 77.7h1.0v1.0h-1.0zM238.9 119.7h1.0v1.0h-1.0zM242.5 73.1h1.0v1.0h-1.0zM237.3 70.5h1.0v1.0h-1.0zM239.7 120.0h1.0v1.0h-1.0zM240.4 103.0h1.0v1.0h-1.0zM246.9 118.3h1.0v1.0h-1.0zM242.7 99.6h1.0v1.0h-1.0zM240.5 119.0h1.0v1.0h-1.0zM243.4 71.1h1.0v1.0h-1.0zM242.8 116.6h1.0v1.0h-1.0zM245.9 89.8h1.0v1.0h-1.0zM243.3 90.9h1.0v1.0h-1.0zM249.1 111.3h1.0v1.0h-1.0zM247.1 115.6h1.0v1.0h-1.0zM240.8 68.4h1.0v1.0h-1.0zM239.1 119.8h1.0v1.0h-1.0zM245.0 114.2h1.0v1.0h-1.0zM243.3 111.0h1.0v1.0h-1.0zM240.6 95.9h1.0v1.0h-1.0zM234.4 109.0h1.0v1.0h-1.0zM232.8 118.6h1.0v1.0h-1.0zM242.6 96.9h1.0v1.0h-1.0zM244.5 85.3h1.0v1.0h-1.0zM244.6 86.9h1.0v1.0h-1.0zM235.2 102.2h1.0v1.0h-1.0zM245.7 111.9h1.0v1.0h-1.0zM238.6 120.0h1.0v1.0h-1.0zM242.7 99.4h1.0v1.0h-1.0zM242.9 92.8h1.0v1.0h-1.0zM237.4 105.1h1.0v1.0h-1.0zM238.3 64.1h1.0v1.0h-1.0zM231.7 116.0h1.0v1.0h-1.0zM236.9 77.7h1.0v1.0h-1.0zM232.9 85.8h1.0v1.0h-1.0zM243.0 69.9h1.0v1.0h-1.0zM241.3 67.5h1.0v1.0h-1.0zM245.1 114.8h1.0v1.0h-1.0zM242.6 67.8h1.0v1.0h-1.0zM238.1 107.2h1.0v1.0h-1.0zM242.6 88.9h1.0v1.0h-1.0zM239.2 64.7h1.0v1.0h-1.0zM243.7 95.2h1.0v1.0h-1.0zM242.4 96.0h1.0v1.0h-1.0zM236.6 119.3h1.0v1.0h-1.0zM241.0 95.1h1.0v1.0h-1.0zM241.2 114.7h1.0v1.0h-1.0zM239.6 108.0h1.0v1.0h-1.0zM245.0 108.5h1.0v1.0h-1.0zM248.7 62.7h1.0v1.0h-1.0zM239.3 92.1h1.0v1.0h-1.0zM239.4 85.3h1.0v1.0h-1.0zM230.9 117.0h1.0v1.0h-1.0zM240.4 112.1h1.0v1.0h-1.0zM239.0 72.0h1.0v1.0h-1.0zM231.3 118.4h1.0v1.0h-1.0zM242.3 64.7h1.0v1.0h-1.0zM243.7 105.9h1.0v1.0h-1.0zM237.7 107.9h1.0v1.0h-1.0zM239.3 100.6h1.0v1.0h-1.0zM236.7 105.0h1.0v1.0h-1.0zM244.4 103.3h1.0v1.0h-1.0zM234.2 106.0h1.0v1.0h-1.0zM239.6 87.1h1.0v1.0h-1.0zM249.8 113.3h1.0v1.0h-1.0zM241.2 117.2h1.0v1.0h-1.0zM243.1 105.5h1.0v1.0h-1.0zM240.3 119.0h1.0v1.0h-1.0zM235.7 104.7h1.0v1.0h-1.0zM240.9 101.9h1.0v1.0h-1.0zM242.8 80.3h1.0v1.0h-1.0zM236.4 118.6h1.0v1.0h-1.0zM242.5 107.5h1.0v1.0h-1.0zM246.6 80.6h1.0v1.0h-1.0zM245.8 110.5h1.0v1.0h-1.0zM233.9 75.7h1.0v1.0h-1.0zM236.6 85.8h1.0v1.0h-1.0zM233.7 119.7h1.0v1.0h-1.0zM245.8 108.1h1.0v1.0h-1.0zM243.7 81.8h1.0v1.0h-1.0zM244.2 99.8h1.0v1.0h-1.0zM237.0 89.4h1.0v1.0h-1.0zM235.8 61.0h1.0v1.0h-1.0zM241.3 89.2h1.0v1.0h-1.0zM241.5 98.5h1.0v1.0h-1.0zM237.2 74.8h1.0v1.0h-1.0zM241.6 105.7h1.0v1.0h-1.0zM243.9 120.0h1.0v1.0h-1.0zM242.0 113.4h1.0v1.0h-1.0zM236.3 95.2h1.0v1.0h-1.0zM231.5 65.2h1.0v1.0h-1.0zM239.8 94.3h1.0v1.0h-1.0zM241.7 113.0h1.0v1.0h-1.0zM239.8 60.7h1.0v1.0h-1.0zM239.1 107.4h1.0v1.0h-1.0zM237.9 115.1h1.0v1.0h-1.0zM244.2 98.1h1.0v1.0h-1.0zM240.8 110.2h1.0v1.0h-1.0zM241.6 118.6h1.0v1.0h-1.0zM236.6 86.3h1.0v1.0h-1.0zM238.2 88.0h1.0v1.0h-1.0zM241.7 62.8h1.0v1.0h-1.0zM236.5 118.0h1.0v1.0h-1.0zM235.3 68.8h1.0v1.0h-1.0zM239.5 79.2h1.0v1.0h-1.0zM246.4 114.2h1.0v1.0h-1.0zM241.9 102.8h1.0v1.0h-1.0zM247.6 92.6h1.0v1.0h-1.0zM240.4 111.6h1.0v1.0h-1.0zM239.6 118.6h1.0v1.0h-1.0zM234.7 75.7h1.0v1.0h-1.0zM238.4 117.2h1.0v1.0h-1.0zM247.5 102.1h1.0v1.0h-1.0zM242.5 105.3h1.0v1.0h-1.0zM244.3 69.6h1.0v1.0h-1.0zM244.2 97.7h1.0v1.0h-1.0zM241.0 106.0h1.0v1.0h-1.0zM240.1 62.3h1.0v1.0h-1.0zM241.5 109.8h1.0v1.0h-1.0zM244.0 85.1h1.0v1.0h-1.0zM243.1 114.9h1.0v1.0h-1.0zM243.2 82.6h1.0v1.0h-1.0zM241.7 83.1h1.0v1.0h-1.0zM237.5 76.5h1.0v1.0h-1.0zM239.8 102.5h1.0v1.0h-1.0zM236.8 115.3h1.0v1.0h-1.0zM245.5 92.5h1.0v1.0h-1.0zM231.5 68.9h1.0v1.0h-1.0zM240.0 111.8h1.0v1.0h-1.0zM251.7 119.9h1.0v1.0h-1.0zM239.5 116.6h1.0v1.0h-1.0zM235.9 66.7h1.0v1.0h-1.0zM240.9 120.0h1.0v1.0h-1.0zM246.8 119.6h1.0v1.0h-1.0zM240.3 118.8h1.0v1.0h-1.0zM243.8 70.6h1.0v1.0h-1.0zM241.4 108.2h1.0v1.0h-1.0zM239.3 87.9h1.0v1.0h-1.0zM255.2 86.8h1.0v1.0h-1.0zM241.3 105.5h1.0v1.0h-1.0zM238.6 84.7h1.0v1.0h-1.0zM238.8 103.9h1.0v1.0h-1.0zM242.7 98.8h1.0v1.0h-1.0zM242.8 111.9h1.0v1.0h-1.0zM244.5 120.0h1.0v1.0h-1.0zM241.6 95.3h1.0v1.0h-1.0zM234.6 113.7h1.0v1.0h-1.0zM243.4 113.3h1.0v1.0h-1.0zM239.6 71.8h1.0v1.0h-1.0zM239.7 109.3h1.0v1.0h-1.0zM234.3 118.8h1.0v1.0h-1.0zM238.4 92.6h1.0v1.0h-1.0zM237.7 99.1h1.0v1.0h-1.0zM240.8 119.5h1.0v1.0h-1.0zM234.5 110.0h1.0v1.0h-1.0zM241.2 94.0h1.0v1.0h-1.0zM241.6 113.1h1.0v1.0h-1.0zM236.0 61.4h1.0v1.0h-1.0zM238.2 79.0h1.0v1.0h-1.0zM237.1 101.3h1.0v1.0h-1.0zM245.1 68.4h1.0v1.0h-1.0zM229.6 119.8h1.0v1.0h-1.0zM239.5 115.3h1.0v1.0h-1.0zM233.5 68.4h1.0v1.0h-1.0zM239.1 101.0h1.0v1.0h-1.0zM244.8 117.0h1.0v1.0h-1.0zM238.2 96.9h1.0v1.0h-1.0zM241.6 84.8h1.0v1.0h-1.0zM237.2 94.6h1.0v1.0h-1.0zM249.7 119.7h1.0v1.0h-1.0zM245.1 119.8h1.0v1.0h-1.0zM246.1 107.0h1.0v1.0h-1.0zM235.0 119.9h1.0v1.0h-1.0zM236.0 119.1h1.0v1.0h-1.0zM245.9 91.7h1.0v1.0h-1.0zM240.1 105.2h1.0v1.0h-1.0zM239.8 119.1h1.0v1.0h-1.0zM242.5 72.0h1.0v1.0h-1.0zM235.4 109.0h1.0v1.0h-1.0zM244.5 71.4h1.0v1.0h-1.0zM241.1 94.2h1.0v1.0h-1.0zM243.2 93.3h1.0v1.0h-1.0zM238.0 106.0h1.0v1.0h-1.0zM243.3 89.5h1.0v1.0h-1.0zM237.8 114.6h1.0v1.0h-1.0zM245.3 114.0h1.0v1.0h-1.0zM246.1 72.2h1.0v1.0h-1.0zM245.1 116.0h1.0v1.0h-1.0zM243.3 108.1h1.0v1.0h-1.0zM243.9 83.6h1.0v1.0h-1.0zM228.8 110.9h1.0v1.0h-1.0zM244.8 109.1h1.0v1.0h-1.0zM239.8 69.0h1.0v1.0h-1.0zM241.4 115.9h1.0v1.0h-1.0zM239.7 114.7h1.0v1.0h-1.0zM234.7 71.1h1.0v1.0h-1.0zM238.6 113.3h1.0v1.0h-1.0zM244.0 110.9h1.0v1.0h-1.0zM247.4 71.5h1.0v1.0h-1.0zM238.2 111.3h1.0v1.0h-1.0zM236.9 60.3h1.0v1.0h-1.0zM247.5 77.1h1.0v1.0h-1.0zM237.0 74.8h1.0v1.0h-1.0zM250.3 115.2h1.0v1.0h-1.0zM241.2 115.5h1.0v1.0h-1.0zM237.0 83.0h1.0v1.0h-1.0zM245.4 76.6h1.0v1.0h-1.0zM248.6 115.3h1.0v1.0h-1.0zM234.5 115.9h1.0v1.0h-1.0zM248.0 114.6h1.0v1.0h-1.0zM239.7 117.9h1.0v1.0h-1.0zM247.7 106.2h1.0v1.0h-1.0zM239.3 101.3h1.0v1.0h-1.0zM233.9 92.8h1.0v1.0h-1.0zM243.3 119.6h1.0v1.0h-1.0zM245.2 116.4h1.0v1.0h-1.0zM250.4 118.4h1.0v1.0h-1.0zM248.8 113.5h1.0v1.0h-1.0zM244.1 116.6h1.0v1.0h-1.0zM239.9 66.4h1.0v1.0h-1.0zM238.7 108.8h1.0v1.0h-1.0zM239.7 117.9h1.0v1.0h-1.0zM237.3 89.9h1.0v1.0h-1.0zM239.8 62.7h1.0v1.0h-1.0zM229.5 79.4h1.0v1.0h-1.0zM241.8 91.3h1.0v1.0h-1.0zM240.9 108.5h1.0v1.0h-1.0zM252.5 107.2h1.0v1.0h-1.0zM244.4 112.2h1.0v1.0h-1.0zM238.8 78.4h1.0v1.0h-1.0zM243.5 78.6h1.0v1.0h-1.0zM235.5 102.2h1.0v1.0h-1.0zM238.3 73.4h1.0v1.0h-1.0zM232.6 91.0h1.0v1.0h-1.0zM247.5 88.4h1.0v1.0h-1.0zM243.7 113.6h1.0v1.0h-1.0zM235.7 114.6h1.0v1.0h-1.0zM240.7 115.1h1.0v1.0h-1.0zM245.3 68.6h1.0v1.0h-1.0zM243.2 78.9h1.0v1.0h-1.0zM242.7 69.9h1.0v1.0h-1.0zM237.1 76.9h1.0v1.0h-1.0zM238.1 78.5h1.0v1.0h-1.0zM241.4 105.4h1.0v1.0h-1.0zM245.1 81.9h1.0v1.0h-1.0zM237.3 117.1h1.0v1.0h-1.0zM236.0 90.7h1.0v1.0h-1.0zM246.1 119.7h1.0v1.0h-1.0zM236.8 63.4h1.0v1.0h-1.0zM245.8 71.8h1.0v1.0h-1.0zM242.1 117.2h1.0v1.0h-1.0zM245.0 81.6h1.0v1.0h-1.0zM248.8 76.9h1.0v1.0h-1.0zM244.1 119.7h1.0v1.0h-1.0zM244.5 97.2h1.0v1.0h-1.0zM236.9 106.3h1.0v1.0h-1.0zM237.9 93.5h1.0v1.0h-1.0zM243.9 71.1h1.0v1.0h-1.0zM247.9 85.4h1.0v1.0h-1.0zM247.3 115.7h1.0v1.0h-1.0zM251.4 98.0h1.0v1.0h-1.0zM242.4 97.5h1.0v1.0h-1.0zM241.9 120.0h1.0v1.0h-1.0zM245.5 118.1h1.0v1.0h-1.0zM241.1 109.5h1.0v1.0h-1.0zM240.7 116.8h1.0v1.0h-1.0zM236.3 114.8h1.0v1.0h-1.0zM245.5 89.2h1.0v1.0h-1.0zM236.2 63.9h1.0v1.0h-1.0zM243.3 104.1h1.0v1.0h-1.0zM234.6 91.4h1.0v1.0h-1.0zM245.9 82.3h1.0v1.0h-1.0zM236.4 89.4h1.0v1.0h-1.0zM244.8 90.6h1.0v1.0h-1.0zM233.8 120.0h1.0v1.0h-1.0zM239.0 72.7h1.0v1.0h-1.0zM246.3 117.3h1.0v1.0h-1.0zM237.4 116.7h1.0v1.0h-1.0zM241.3 100.9h1.0v1.0h-1.0zM238.8 95.8h1.0v1.0h-1.0zM230.6 82.7h1.0v1.0h-1.0zM242.4 112.6h1.0v1.0h-1.0zM242.9 65.5h1.0v1.0h-1.0zM236.0 92.8h1.0v1.0h-1.0zM243.6 75.0h1.0v1.0h-1.0zM237.4 103.0h1.0v1.0h-1.0zM236.5 119.3h1.0v1.0h-1.0zM241.0 120.0h1.0v1.0h-1.0zM237.9 91.9h1.0v1.0h-1.0zM251.3 105.9h1.0v1.0h-1.0zM234.0 105.1h1.0v1.0h-1.0zM244.3 111.1h1.0v1.0h-1.0zM245.5 116.8h1.0v1.0h-1.0zM232.1 103.2h1.0v1.0h-1.0zM233.2 114.1h1.0v1.0h-1.0zM243.5 70.5h1.0v1.0h-1.0zM238.8 116.8h1.0v1.0h-1.0zM242.7 63.3h1.0v1.0h-1.0zM246.1 73.5h1.0v1.0h-1.0zM239.3 108.2h1.0v1.0h-1.0zM236.2 81.3h1.0v1.0h-1.0zM228.7 96.2h1.0v1.0h-1.0zM241.9 103.6h1.0v1.0h-1.0zM236.8 77.9h1.0v1.0h-1.0zM242.4 76.2h1.0v1.0h-1.0zM242.0 116.1h1.0v1.0h-1.0zM234.8 69.3h1.0v1.0h-1.0zM248.8 119.8h1.0v1.0h-1.0zM245.9 120.0h1.0v1.0h-1.0zM244.8 102.5h1.0v1.0h-1.0zM235.7 112.2h1.0v1.0h-1.0zM239.2 106.1h1.0v1.0h-1.0zM238.5 102.8h1.0v1.0h-1.0zM239.1 103.5h1.0v1.0h-1.0zM235.9 69.1h1.0v1.0h-1.0zM243.0 68.1h1.0v1.0h-1.0zM242.0 110.1h1.0v1.0h-1.0zM242.6 112.8h1.0v1.0h-1.0zM238.7 90.9h1.0v1.0h-1.0zM246.8 116.2h1.0v1.0h-1.0zM241.8 107.3h1.0v1.0h-1.0zM228.7 85.8h1.0v1.0h-1.0zM238.1 120.0h1.0v1.0h-1.0zM240.7 81.4h1.0v1.0h-1.0zM245.3 84.5h1.0v1.0h-1.0zM239.6 108.0h1.0v1.0h-1.0zM239.9 114.4h1.0v1.0h-1.0zM238.0 98.9h1.0v1.0h-1.0zM244.0 112.4h1.0v1.0h-1.0zM239.0 77.1h1.0v1.0h-1.0zM238.3 95.5h1.0v1.0h-1.0zM237.7 112.0h1.0v1.0h-1.0zM243.5 78.3h1.0v1.0h-1.0zM238.6 94.3h1.0v1.0h-1.0zM233.5 118.1h1.0v1.0h-1.0zM243.8 106.6h1.0v1.0h-1.0zM237.8 102.2h1.0v1.0h-1.0zM242.6 65.5h1.0v1.0h-1.0zM242.7 111.3h1.0v1.0h-1.0zM246.4 104.6h1.0v1.0h-1.0zM245.7 62.3h1.0v1.0h-1.0zM238.4 105.9h1.0v1.0h-1.0zM240.3 76.5h1.0v1.0h-1.0zM235.2 118.9h1.0v1.0h-1.0zM248.5 107.7h1.0v1.0h-1.0zM243.0 116.6h1.0v1.0h-1.0zM247.3 71.3h1.0v1.0h-1.0zM239.6 98.1h1.0v1.0h-1.0zM231.8 115.5h1.0v1.0h-1.0zM247.9 119.0h1.0v1.0h-1.0zM241.4 106.2h1.0v1.0h-1.0zM241.6 118.9h1.0v1.0h-1.0zM241.2 102.4h1.0v1.0h-1.0zM243.9 85.0h1.0v1.0h-1.0zM243.4 111.8h1.0v1.0h-1.0zM233.8 117.1h1.0v1.0h-1.0zM245.9 109.4h1.0v1.0h-1.0zM238.6 117.2h1.0v1.0h-1.0zM238.9 75.0h1.0v1.0h-1.0zM248.8 118.9h1.0v1.0h-1.0zM245.1 84.0h1.0v1.0h-1.0zM239.5 110.7h1.0v1.0h-1.0zM232.6 85.0h1.0v1.0h-1.0zM241.7 81.4h1.0v1.0h-1.0zM243.4 118.0h1.0v1.0h-1.0zM240.6 82.7h1.0v1.0h-1.0zM235.4 65.4h1.0v1.0h-1.0zM237.4 97.1h1.0v1.0h-1.0zM235.4 91.5h1.0v1.0h-1.0zM242.0 111.2h1.0v1.0h-1.0zM244.7 116.9h1.0v1.0h-1.0zM245.6 83.7h1.0v1.0h-1.0zM237.7 77.1h1.0v1.0h-1.0zM242.1 115.9h1.0v1.0h-1.0zM243.5 118.5h1.0v1.0h-1.0zM238.7 109.8h1.0v1.0h-1.0zM240.3 92.9h1.0v1.0h-1.0zM250.6 109.2h1.0v1.0h-1.0zM241.9 63.6h1.0v1.0h-1.0zM245.0 79.7h1.0v1.0h-1.0zM239.0 68.3h1.0v1.0h-1.0zM241.2 94.8h1.0v1.0h-1.0zM233.3 82.7h1.0v1.0h-1.0zM240.9 64.9h1.0v1.0h-1.0zM246.4 119.8h1.0v1.0h-1.0zM250.4 96.6h1.0v1.0h-1.0zM246.4 116.5h1.0v1.0h-1.0zM244.1 79.4h1.0v1.0h-1.0zM241.2 115.0h1.0v1.0h-1.0zM238.3 83.9h1.0v1.0h-1.0zM240.3 110.8h1.0v1.0h-1.0zM243.8 91.0h1.0v1.0h-1.0zM237.5 88.9h1.0v1.0h-1.0zM245.2 69.0h1.0v1.0h-1.0zM236.6 72.4h1.0v1.0h-1.0zM233.0 105.3h1.0v1.0h-1.0zM236.4 88.1h1.0v1.0h-1.0zM233.5 116.7h1.0v1.0h-1.0zM234.8 118.8h1.0v1.0h-1.0zM246.1 86.2h1.0v1.0h-1.0zM240.1 69.2h1.0v1.0h-1.0zM242.0 83.5h1.0v1.0h-1.0zM246.2 100.5h1.0v1.0h-1.0zM246.7 92.7h1.0v1.0h-1.0zM238.7 84.9h1.0v1.0h-1.0zM247.0 97.0h1.0v1.0h-1.0zM242.7 109.3h1.0v1.0h-1.0zM241.0 74.4h1.0v1.0h-1.0zM243.0 109.0h1.0v1.0h-1.0zM234.6 69.5h1.0v1.0h-1.0zM237.5 79.0h1.0v1.0h-1.0zM240.5 79.5h1.0v1.0h-1.0zM243.7 76.0h1.0v1.0h-1.0zM239.3 61.3h1.0v1.0h-1.0zM240.4 61.0h1.0v1.0h-1.0zM245.4 101.4h1.0v1.0h-1.0zM247.4 108.6h1.0v1.0h-1.0zM244.5 84.6h1.0v1.0h-1.0zM246.7 63.2h1.0v1.0h-1.0zM239.2 92.6h1.0v1.0h-1.0zM239.6 119.9h1.0v1.0h-1.0zM242.4 119.8h1.0v1.0h-1.0zM239.6 103.7h1.0v1.0h-1.0zM238.7 80.0h1.0v1.0h-1.0zM248.4 71.0h1.0v1.0h-1.0zM240.1 108.7h1.0v1.0h-1.0zM236.7 100.4h1.0v1.0h-1.0zM243.2 100.7h1.0v1.0h-1.0zM249.3 118.9h1.0v1.0h-1.0zM241.4 120.0h1.0v1.0h-1.0zM246.5 100.0h1.0v1.0h-1.0zM239.0 101.3h1.0v1.0h-1.0zM238.8 73.2h1.0v1.0h-1.0zM237.9 116.7h1.0v1.0h-1.0zM240.4 74.3h1.0v1.0h-1.0zM249.3 113.5h1.0v1.0h-1.0zM235.8 99.0h1.0v1.0h-1.0zM248.4 86.7h1.0v1.0h-1.0zM236.5 117.7h1.0v1.0h-1.0zM239.9 65.4h1.0v1.0h-1.0zM244.8 64.2h1.0v1.0h-1.0zM243.8 63.0h1.0v1.0h-1.0zM242.3 120.0h1.0v1.0h-1.0zM233.6 91.6h1.0v1.0h-1.0zM242.6 89.5h1.0v1.0h-1.0zM236.4 71.7h1.0v1.0h-1.0zM252.6 116.1h1.0v1.0h-1.0zM240.0 118.3h1.0v1.0h-1.0zM241.8 78.1h1.0v1.0h-1.0zM235.8 113.9h1.0v1.0h-1.0zM238.8 119.4h1.0v1.0h-1.0zM235.2 119.0h1.0v1.0h-1.0zM245.4 91.5h1.0v1.0h-1.0zM239.8 99.2h1.0v1.0h-1.0zM243.5 83.4h1.0v1.0h-1.0zM237.9 78.3h1.0v1.0h-1.0zM238.7 120.0h1.0v1.0h-1.0zM246.8 66.7h1.0v1.0h-1.0zM236.6 71.7h1.0v1.0h-1.0zM232.9 66.7h1.0v1.0h-1.0zM242.8 81.6h1.0v1.0h-1.0zM235.9 108.2h1.0v1.0h-1.0zM239.0 114.4h1.0v1.0h-1.0zM245.1 68.7h1.0v1.0h-1.0zM237.3 106.3h1.0v1.0h-1.0zM245.0 102.3h1.0v1.0h-1.0zM237.9 87.4h1.0v1.0h-1.0zM247.7 88.2h1.0v1.0h-1.0zM247.0 87.8h1.0v1.0h-1.0zM238.9 93.1h1.0v1.0h-1.0zM240.0 101.0h1.0v1.0h-1.0zM237.3 81.8h1.0v1.0h-1.0zM241.9 107.6h1.0v1.0h-1.0zM246.2 113.8h1.0v1.0h-1.0zM234.5 69.0h1.0v1.0h-1.0zM245.1 74.8h1.0v1.0h-1.0zM235.0 85.8h1.0v1.0h-1.0zM237.1 117.1h1.0v1.0h-1.0zM233.0 119.7h1.0v1.0h-1.0zM250.5 67.7h1.0v1.0h-1.0zM241.3 65.7h1.0v1.0h-1.0zM242.1 113.4h1.0v1.0h-1.0zM238.0 92.7h1.0v1.0h-1.0zM245.8 119.9h1.0v1.0h-1.0zM231.5 107.7h1.0v1.0h-1.0zM241.1 87.0h1.0v1.0h-1.0zM250.9 109.4h1.0v1.0h-1.0zM239.3 78.3h1.0v1.0h-1.0zM241.1 68.6h1.0v1.0h-1.0zM244.0 118.0h1.0v1.0h-1.0zM237.3 88.2h1.0v1.0h-1.0zM241.1 108.6h1.0v1.0h-1.0z" fill="#333" fill-opacity="0.75"/>
<path d="M280.1 73.8h1.0v1.0h-1.0zM277.8 71.5h1.0v1.0h-1.0zM277.6 73.2h1.0v1.0h-1.0zM281.9 76.0h1.0v1.0h-1.0zM275.5 62.7h1.0v1.0h-1.0zM279.1 76.2h1.0v1.0h-1.0zM272.9 64.6h1.0v1.0h-1.0zM272.1 76.9h1.0v1.0h-1.0zM272.4 71.1h1.0v1.0h-1.0zM277.2 78.1h1.0v1.0h-1.0zM276.3 72.6h1.0v1.0h-1.0zM274.3 79.8h1.0v1.0h-1.0zM280.5 72.6h1.0v1.0h-1.0zM271.1 69.7h1.0v1.0h-1.0zM278.6 70.0h1.0v1.0h-1.0zM279.8 74.5h1.0v1.0h-1.0zM277.5 75.7h1.0v1.0h-1.0zM278.3 69.4h1.0v1.0h-1.0zM275.2 82.8h1.0v1.0h-1.0zM271.8 71.0h1.0v1.0h-1.0zM280.4 72.3h1.0v1.0h-1.0zM273.3 67.4h1.0v1.0h-1.0zM278.4 77.3h1.0v1.0h-1.0zM281.7 73.2h1.0v1.0h-1.0zM280.4 68.7h1.0v1.0h-1.0zM277.0 70.2h1.0v1.0h-1.0zM277.1 76.2h1.0v1.0h-1.0zM280.5 68.8h1.0v1.0h-1.0zM281.2 71.0h1.0v1.0h-1.0zM272.5 72.3h1.0v1.0h-1.0zM270.8 73.0h1.0v1.0h-1.0zM277.5 72.2h1.0v1.0h-1.0zM278.4 71.7h1.0v1.0h-1.0zM276.4 66.9h1.0v1.0h-1.0zM276.6 69.4h1.0v1.0h-1.0zM274.7 72.6h1.0v1.0h-1.0zM277.1 66.1h1.0v1.0h-1.0zM270.5 71.7h1.0v1.0h-1.0zM278.2 74.5h1.0v1.0h-1.0zM279.8 78.5h1.0v1.0h-1.0zM278.3 72.9h1.0v1.0h-1.0zM272.5 69.0h1.0v1.0h-1.0zM274.6 74.1h1.0v1.0h-1.0zM277.2 73.0h1.0v1.0h-1.0zM275.8 75.6h1.0v1.0h-1.0zM277.2 74.3h1.0v1.0h-1.0zM277.6 70.7h1.0v1.0h-1.0zM272.5 75.1h1.0v1.0h-1.0zM278.0 72.1h1.0v1.0h-1.0zM274.8 82.6h1.0v1.0h-1.0zM273.5 72.1h1.0v1.0h-1.0zM277.4 68.2h1.0v1.0h-1.0zM276.8 80.6h1.0v1.0h-1.0zM279.9 75.7h1.0v1.0h-1.0zM278.7 73.5h1.0v1.0h-1.0zM280.0 72.3h1.0v1.0h-1.0zM274.8 73.4h1.0v1.0h-1.0zM279.8 74.4h1.0v1.0h-1.0zM279.0 64.5h1.0v1.0h-1.0zM280.9 82.8h1.0v1.0h-1.0zM281.5 71.7h1.0v1.0h-1.0zM273.2 74.2h1.0v1.0h-1.0zM272.6 76.0h1.0v1.0h-1.0zM274.4 77.0h1.0v1.0h-1.0zM281.6 64.5h1.0v1.0h-1.0zM277.5 70.1h1.0v1.0h-1.0zM271.0 70.4h1.0v1.0h-1.0zM275.6 77.3h1.0v1.0h-1.0zM270.6 77.4h1.0v1.0h-1.0zM284.1 75.5h1.0v1.0h-1.0zM278.5 72.9h1.0v1.0h-1.0zM271.9 75.2h1.0v1.0h-1.0zM277.9 76.1h1.0v1.0h-1.0zM286.2 76.1h1.0v1.0h-1.0zM278.0 79.6h1.0v1.0h-1.0zM271.3 68.2h1.0v1.0h-1.0zM275.0 70.2h1.0v1.0h-1.0zM279.0 71.7h1.0v1.0h-1.0zM283.0 79.4h1.0v1.0h-1.0zM279.3 71.4h1.0v1.0h-1.0zM278.7 76.4h1.0v1.0h-1.0zM272.3 74.5h1.0v1.0h-1.0zM279.1 73.9h1.0v1.0h-1.0zM282.4 78.1h1.0v1.0h-1.0zM273.3 73.5h1.0v1.0h-1.0zM273.2 75.4h1.0v1.0h-1.0zM273.1 76.9h1.0v1.0h-1.0zM277.9 77.1h1.0v1.0h-1.0zM275.8 66.9h1.0v1.0h-1.0zM283.1 72.3h1.0v1.0h-1.0z" fill="#333" fill-opacity="0.8"/>
<path d="M280.1 72.5h1.0v1.0h-1.0zM279.7 116.4h1.0v1.0h-1.0zM276.8 114.3h1.0v1.0h-1.0zM272.9 108.1h1.0v1.0h-1.0zM281.3 104.2h1.0v1.0h-1.0zM278.6 76.8h1.0v1.0h-1.0zM281.2 77.6h1.0v1.0h-1.0zM271.4 73.1h1.0v1.0h-1.0zM272.5 99.3h1.0v1.0h-1.0zM270.9 117.2h1.0v1.0h-1.0zM275.1 88.0h1.0v1.0h-1.0zM281.4 74.8h1.0v1.0h-1.0zM279.9 112.8h1.0v1.0h-1.0zM277.9 78.3h1.0v1.0h-1.0zM278.4 117.9h1.0v1.0h-1.0zM280.5 82.8h1.0v1.0h-1.0zM277.0 94.3h1.0v1.0h-1.0zM279.3 74.4h1.0v1.0h-1.0zM278.5 76.0h1.0v1.0h-1.0zM270.8 115.8h1.0v1.0h-1.0zM276.7 94.1h1.0v1.0h-1.0zM282.5 106.4h1.0v1.0h-1.0zM276.7 96.9h1.0v1.0h-1.0zM277.5 114.8h1.0v1.0h-1.0zM276.0 100.7h1.0v1.0h-1.0zM276.4 98.4h1.0v1.0h-1.0zM281.7 117.8h1.0v1.0h-1.0zM277.1 95.2h1.0v1.0h-1.0zM274.6 75.1h1.0v1.0h-1.0zM267.7 115.1h1.0v1.0h-1.0zM276.1 72.7h1.0v1.0h-1.0zM271.5 94.5h1.0v1.0h-1.0zM272.0 107.9h1.0v1.0h-1.0zM280.6 71.5h1.0v1.0h-1.0zM280.3 95.3h1.0v1.0h-1.0zM271.7 97.0h1.0v1.0h-1.0zM280.8 99.9h1.0v1.0h-1.0zM279.5 75.7h1.0v1.0h-1.0zM275.4 111.8h1.0v1.0h-1.0zM280.4 107.9h1.0v1.0h-1.0zM272.6 104.4h1.0v1.0h-1.0zM274.0 115.0h1.0v1.0h-1.0zM273.2 77.5h1.0v1.0h-1.0zM274.3 94.5h1.0v1.0h-1.0zM280.9 89.1h1.0v1.0h-1.0zM273.6 75.5h1.0v1.0h-1.0zM274.2 94.3h1.0v1.0h-1.0zM274.9 104.7h1.0v1.0h-1.0zM278.6 92.5h1.0v1.0h-1.0zM276.9 94.0h1.0v1.0h-1.0zM280.8 103.7h1.0v1.0h-1.0zM275.7 106.9h1.0v1.0h-1.0zM273.7 100.8h1.0v1.0h-1.0zM276.3 82.7h1.0v1.0h-1.0zM278.1 110.1h1.0v1.0h-1.0zM274.9 70.2h1.0v1.0h-1.0zM278.9 106.7h1.0v1.0h-1.0zM284.0 104.9h1.0v1.0h-1.0zM276.1 112.1h1.0v1.0h-1.0zM278.1 99.2h1.0v1.0h-1.0zM282.4 100.2h1.0v1.0h-1.0zM275.8 85.3h1.0v1.0h-1.0zM275.2 75.0h1.0v1.0h-1.0zM274.4 106.1h1.0v1.0h-1.0zM279.3 79.1h1.0v1.0h-1.0zM279.7 103.2h1.0v1.0h-1.0zM277.5 98.5h1.0v1.0h-1.0zM278.1 111.8h1.0v1.0h-1.0zM282.1 75.1h1.0v1.0h-1.0zM280.8 100.1h1.0v1.0h-1.0zM273.3 84.4h1.0v1.0h-1.0zM277.9 116.7h1.0v1.0h-1.0zM278.3 84.5h1.0v1.0h-1.0zM280.3 107.1h1.0v1.0h-1.0zM277.2 96.3h1.0v1.0h-1.0zM275.8 85.7h1.0v1.0h-1.0zM276.4 109.8h1.0v1.0h-1.0zM272.0 92.7h1.0v1.0h-1.0zM277.8 77.9h1.0v1.0h-1.0zM275.9 110.2h1.0v1.0h-1.0z" fill="#444" fill-opacity="0.7"/>
<path d="M279.0 120.8h1.0v1.0h-1.0zM268.3 128.8h1.0v1.0h-1.0zM278.7 134.3h1.0v1.0h-1.0zM284.3 126.0h1.0v1.0h-1.0zM284.4 124.0h1.0v1.0h-1.0zM285.1 131.5h1.0v1.0h-1.0zM267.4 130.5h1.0v1.0h-1.0zM266.8 126.5h1.0v1.0h-1.0zM261.9 145.0h1.0v1.0h-1.0zM266.2 145.4h1.0v1.0h-1.0zM261.8 120.3h1.0v1.0h-1.0zM283.1 132.4h1.0v1.0h-1.0zM259.5 125.7h1.0v1.0h-1.0zM264.1 128.4h1.0v1.0h-1.0zM283.3 119.8h1.0v1.0h-1.0zM282.6 121.2h1.0v1.0h-1.0zM289.2 119.9h1.0v1.0h-1.0zM270.3 122.5h1.0v1.0h-1.0zM259.4 137.2h1.0v1.0h-1.0zM283.9 121.2h1.0v1.0h-1.0zM267.2 143.8h1.0v1.0h-1.0zM282.7 141.5h1.0v1.0h-1.0zM258.6 126.5h1.0v1.0h-1.0zM259.1 138.4h1.0v1.0h-1.0zM277.1 145.7h1.0v1.0h-1.0zM279.9 122.3h1.0v1.0h-1.0zM276.0 134.7h1.0v1.0h-1.0zM275.0 132.0h1.0v1.0h-1.0zM277.1 127.7h1.0v1.0h-1.0zM262.2 127.1h1.0v1.0h-1.0z" fill="#555" fill-opacity="0.6"/>
<path d="M227.2 124.8h1.0v1.0h-1.0zM228.3 137.4h1.0v1.0h-1.0zM227.4 134.4h1.0v1.0h-1.0zM227.8 148.5h1.0v1.0h-1.0zM228.9 120.5h1.0v1.0h-1.0zM227.7 126.4h1.0v1.0h-1.0zM227.6 138.3h1.0v1.0h-1.0zM228.9 119.2h1.0v1.0h-1.0zM228.2 148.4h1.0v1.0h-1.0zM227.4 129.8h1.0v1.0h-1.0zM228.3 145.9h1.0v1.0h-1.0zM227.8 127.0h1.0v1.0h-1.0zM228.1 152.1h1.0v1.0h-1.0zM227.8 125.6h1.0v1.0h-1.0zM227.2 118.2h1.0v1.0h-1.0zM228.8 120.5h1.0v1.0h-1.0zM228.4 134.5h1.0v1.0h-1.0zM228.9 119.4h1.0v1.0h-1.0zM227.6 140.7h1.0v1.0h-1.0zM227.3 138.5h1.0v1.0h-1.0zM227.6 140.5h1.0v1.0h-1.0zM227.7 133.1h1.0v1.0h-1.0zM227.4 149.9h1.0v1.0h-1.0zM227.5 143.7h1.0v1.0h-1.0zM227.6 133.5h1.0v1.0h-1.0zM228.7 128.2h1.0v1.0h-1.0zM227.9 123.2h1.0v1.0h-1.0zM228.6 129.3h1.0v1.0h-1.0zM227.1 130.7h1.0v1.0h-1.0zM227.4 120.9h1.0v1.0h-1.0zM228.9 151.3h1.0v1.0h-1.0zM227.1 127.3h1.0v1.0h-1.0zM227.1 137.4h1.0v1.0h-1.0zM228.0 120.4h1.0v1.0h-1.0zM227.6 137.9h1.0v1.0h-1.0zM227.4 141.3h1.0v1.0h-1.0zM228.2 120.9h1.0v1.0h-1.0z" fill="#333" fill-opacity="0.8"/>
<path d="M290.7 74.9h1.0v1.0h-1.0zM294.2 79.0h1.0v1.0h-1.0zM310.8 99.4h1.0v1.0h-1.0zM296.8 108.4h1.0v1.0h-1.0zM315.7 109.7h1.0v1.0h-1.0z" fill="#666" fill-opacity="0.5"/>
<path d="M242.1 140.5h1.0v1.0h-1.0zM241.7 134.9h1.0v1.0h-1.0zM250.1 150.3h1.0v1.0h-1.0zM238.5 128.2h1.0v1.0h-1.0zM252.0 132.0h1.0v1.0h-1.0zM233.2 139.6h1.0v1.0h-1.0zM237.0 141.6h1.0v1.0h-1.0zM242.8 136.9h1.0v1.0h-1.0zM246.2 134.5h1.0v1.0h-1.0zM234.0 132.6h1.0v1.0h-1.0zM239.4 127.5h1.0v1.0h-1.0zM234.2 132.1h1.0v1.0h-1.0zM236.8 128.1h1.0v1.0h-1.0zM232.4 138.4h1.0v1.0h-1.0zM254.1 143.6h1.0v1.0h-1.0zM243.8 123.4h1.0v1.0h-1.0zM239.0 126.3h1.0v1.0h-1.0zM244.0 134.9h1.0v1.0h-1.0zM239.4 136.2h1.0v1.0h-1.0zM235.5 123.3h1.0v1.0h-1.0zM242.8 124.5h1.0v1.0h-1.0zM231.8 134.3h1.0v1.0h-1.0zM234.7 139.3h1.0v1.0h-1.0zM245.4 139.2h1.0v1.0h-1.0zM240.4 137.2h1.0v1.0h-1.0zM244.5 120.4h1.0v1.0h-1.0zM241.4 128.6h1.0v1.0h-1.0zM231.4 137.0h1.0v1.0h-1.0zM236.7 142.2h1.0v1.0h-1.0zM246.0 116.0h1.0v1.0h-1.0zM244.6 150.0h1.0v1.0h-1.0zM239.8 124.1h1.0v1.0h-1.0zM232.1 143.4h1.0v1.0h-1.0zM245.1 130.4h1.0v1.0h-1.0zM237.5 139.3h1.0v1.0h-1.0zM228.2 133.8h1.0v1.0h-1.0zM235.9 129.7h1.0v1.0h-1.0zM241.2 138.7h1.0v1.0h-1.0zM227.8 150.5h1.0v1.0h-1.0zM236.9 135.5h1.0v1.0h-1.0zM245.3 131.5h1.0v1.0h-1.0zM239.7 140.5h1.0v1.0h-1.0zM245.2 137.9h1.0v1.0h-1.0zM249.9 134.8h1.0v1.0h-1.0zM235.4 132.8h1.0v1.0h-1.0zM245.4 139.4h1.0v1.0h-1.0zM234.0 140.1h1.0v1.0h-1.0zM242.4 143.3h1.0v1.0h-1.0zM234.3 145.2h1.0v1.0h-1.0zM250.8 133.2h1.0v1.0h-1.0zM243.8 123.0h1.0v1.0h-1.0zM239.4 138.8h1.0v1.0h-1.0zM235.5 134.4h1.0v1.0h-1.0zM244.2 152.5h1.0v1.0h-1.0zM237.8 122.2h1.0v1.0h-1.0zM247.1 142.5h1.0v1.0h-1.0zM243.4 138.7h1.0v1.0h-1.0zM253.7 137.7h1.0v1.0h-1.0zM242.4 120.4h1.0v1.0h-1.0zM235.6 130.9h1.0v1.0h-1.0zM239.0 140.2h1.0v1.0h-1.0zM232.5 133.0h1.0v1.0h-1.0zM240.7 125.8h1.0v1.0h-1.0zM242.7 142.7h1.0v1.0h-1.0zM239.7 139.6h1.0v1.0h-1.0zM233.2 122.0h1.0v1.0h-1.0zM235.2 134.1h1.0v1.0h-1.0zM236.3 144.0h1.0v1.0h-1.0zM227.8 149.1h1.0v1.0h-1.0zM235.6 132.4h1.0v1.0h-1.0zM232.3 145.1h1.0v1.0h-1.0zM236.6 139.0h1.0v1.0h-1.0zM241.7 142.0h1.0v1.0h-1.0zM246.9 135.3h1.0v1.0h-1.0zM238.1 143.5h1.0v1.0h-1.0zM241.9 134.8h1.0v1.0h-1.0zM239.5 132.5h1.0v1.0h-1.0zM243.7 145.5h1.0v1.0h-1.0zM229.6 135.0h1.0v1.0h-1.0zM249.9 133.3h1.0v1.0h-1.0zM229.2 149.6h1.0v1.0h-1.0zM242.6 126.3h1.0v1.0h-1.0zM244.1 127.8h1.0v1.0h-1.0zM230.8 135.7h1.0v1.0h-1.0zM236.2 127.2h1.0v1.0h-1.0zM236.9 128.0h1.0v1.0h-1.0zM239.6 136.9h1.0v1.0h-1.0zM243.9 133.0h1.0v1.0h-1.0zM230.9 125.2h1.0v1.0h-1.0zM237.7 150.9h1.0v1.0h-1.0zM244.5 131.3h1.0v1.0h-1.0zM245.1 126.6h1.0v1.0h-1.0zM245.6 133.6h1.0v1.0h-1.0zM244.0 142.7h1.0v1.0h-1.0zM237.5 140.0h1.0v1.0h-1.0zM232.5 136.4h1.0v1.0h-1.0zM243.6 137.9h1.0v1.0h-1.0zM232.9 146.6h1.0v1.0h-1.0zM228.8 129.8h1.0v1.0h-1.0zM241.5 126.2h1.0v1.0h-1.0zM248.9 146.9h1.0v1.0h-1.0zM235.6 132.1h1.0v1.0h-1.0zM230.9 124.4h1.0v1.0h-1.0zM242.0 142.7h1.0v1.0h-1.0zM241.4 139.5h1.0v1.0h-1.0zM235.7 140.3h1.0v1.0h-1.0zM230.0 137.2h1.0v1.0h-1.0zM248.5 149.0h1.0v1.0h-1.0zM236.3 134.1h1.0v1.0h-1.0zM229.8 133.2h1.0v1.0h-1.0zM240.7 148.1h1.0v1.0h-1.0zM234.0 142.9h1.0v1.0h-1.0zM241.9 135.9h1.0v1.0h-1.0zM237.1 146.6h1.0v1.0h-1.0zM243.5 127.3h1.0v1.0h-1.0zM240.6 125.0h1.0v1.0h-1.0zM234.5 125.4h1.0v1.0h-1.0zM230.9 130.9h1.0v1.0h-1.0zM233.1 141.9h1.0v1.0h-1.0zM244.2 134.9h1.0v1.0h-1.0zM232.2 144.4h1.0v1.0h-1.0zM243.8 143.0h1.0v1.0h-1.0zM245.3 135.1h1.0v1.0h-1.0zM231.3 132.5h1.0v1.0h-1.0zM242.8 130.2h1.0v1.0h-1.0zM234.8 124.5h1.0v1.0h-1.0zM231.9 144.7h1.0v1.0h-1.0zM242.1 126.6h1.0v1.0h-1.0zM232.4 132.0h1.0v1.0h-1.0zM242.7 126.5h1.0v1.0h-1.0zM238.2 117.7h1.0v1.0h-1.0zM231.3 140.9h1.0v1.0h-1.0zM244.9 126.6h1.0v1.0h-1.0zM234.4 144.3h1.0v1.0h-1.0zM236.8 132.2h1.0v1.0h-1.0zM242.5 138.9h1.0v1.0h-1.0zM246.2 144.3h1.0v1.0h-1.0zM235.6 136.0h1.0v1.0h-1.0zM238.8 124.8h1.0v1.0h-1.0zM233.1 145.9h1.0v1.0h-1.0zM229.3 146.1h1.0v1.0h-1.0zM241.0 135.9h1.0v1.0h-1.0zM242.6 141.4h1.0v1.0h-1.0zM246.8 133.5h1.0v1.0h-1.0zM237.8 134.9h1.0v1.0h-1.0zM251.0 145.7h1.0v1.0h-1.0zM233.4 134.1h1.0v1.0h-1.0zM234.8 137.2h1.0v1.0h-1.0zM227.8 146.4h1.0v1.0h-1.0zM242.0 130.8h1.0v1.0h-1.0zM238.3 132.7h1.0v1.0h-1.0zM239.6 146.2h1.0v1.0h-1.0zM229.7 149.0h1.0v1.0h-1.0zM236.9 150.7h1.0v1.0h-1.0zM241.8 148.3h1.0v1.0h-1.0zM242.8 147.0h1.0v1.0h-1.0zM239.6 129.7h1.0v1.0h-1.0zM243.5 143.6h1.0v1.0h-1.0zM252.4 119.1h1.0v1.0h-1.0zM238.0 146.8h1.0v1.0h-1.0zM231.4 135.1h1.0v1.0h-1.0zM252.6 150.0h1.0v1.0h-1.0zM233.8 150.1h1.0v1.0h-1.0zM246.7 144.2h1.0v1.0h-1.0zM241.7 139.4h1.0v1.0h-1.0zM233.9 132.6h1.0v1.0h-1.0zM243.9 138.5h1.0v1.0h-1.0zM250.9 134.2h1.0v1.0h-1.0zM241.1 140.7h1.0v1.0h-1.0zM239.7 129.8h1.0v1.0h-1.0zM248.7 131.3h1.0v1.0h-1.0zM243.8 134.7h1.0v1.0h-1.0zM231.8 150.0h1.0v1.0h-1.0zM242.0 134.1h1.0v1.0h-1.0zM244.0 136.4h1.0v1.0h-1.0zM238.0 135.9h1.0v1.0h-1.0zM232.6 130.6h1.0v1.0h-1.0zM243.4 142.4h1.0v1.0h-1.0zM239.4 131.0h1.0v1.0h-1.0zM243.7 122.0h1.0v1.0h-1.0zM237.2 135.0h1.0v1.0h-1.0zM234.1 138.7h1.0v1.0h-1.0zM235.2 130.1h1.0v1.0h-1.0zM250.7 144.0h1.0v1.0h-1.0zM246.9 137.8h1.0v1.0h-1.0zM245.4 144.4h1.0v1.0h-1.0zM238.0 139.7h1.0v1.0h-1.0zM239.1 105.8h1.0v1.0h-1.0zM230.7 137.6h1.0v1.0h-1.0zM243.4 132.2h1.0v1.0h-1.0zM246.5 149.0h1.0v1.0h-1.0zM236.9 150.3h1.0v1.0h-1.0zM250.4 141.6h1.0v1.0h-1.0zM233.3 150.7h1.0v1.0h-1.0zM238.5 134.1h1.0v1.0h-1.0zM240.2 132.6h1.0v1.0h-1.0zM246.2 144.5h1.0v1.0h-1.0zM247.1 142.7h1.0v1.0h-1.0zM234.5 136.1h1.0v1.0h-1.0zM245.0 133.8h1.0v1.0h-1.0zM257.7 135.3h1.0v1.0h-1.0zM235.8 147.8h1.0v1.0h-1.0zM244.2 137.2h1.0v1.0h-1.0zM238.1 141.3h1.0v1.0h-1.0zM244.7 144.4h1.0v1.0h-1.0zM237.6 141.4h1.0v1.0h-1.0zM244.8 144.4h1.0v1.0h-1.0zM234.7 135.4h1.0v1.0h-1.0zM240.6 145.8h1.0v1.0h-1.0zM243.4 136.4h1.0v1.0h-1.0zM235.7 140.2h1.0v1.0h-1.0zM249.3 140.6h1.0v1.0h-1.0zM237.1 136.5h1.0v1.0h-1.0zM246.1 141.7h1.0v1.0h-1.0zM237.8 145.5h1.0v1.0h-1.0zM242.2 138.4h1.0v1.0h-1.0zM241.4 139.8h1.0v1.0h-1.0zM237.4 133.4h1.0v1.0h-1.0zM239.7 128.9h1.0v1.0h-1.0zM231.6 149.2h1.0v1.0h-1.0zM238.0 137.3h1.0v1.0h-1.0zM238.7 137.7h1.0v1.0h-1.0zM239.6 138.1h1.0v1.0h-1.0zM234.5 145.9h1.0v1.0h-1.0zM235.2 146.8h1.0v1.0h-1.0zM227.5 127.9h1.0v1.0h-1.0zM245.7 136.2h1.0v1.0h-1.0zM235.3 140.9h1.0v1.0h-1.0zM233.0 138.2h1.0v1.0h-1.0zM235.4 142.4h1.0v1.0h-1.0zM245.0 129.8h1.0v1.0h-1.0zM249.6 132.2h1.0v1.0h-1.0zM249.1 136.7h1.0v1.0h-1.0zM235.5 130.8h1.0v1.0h-1.0zM232.7 149.7h1.0v1.0h-1.0zM238.3 116.3h1.0v1.0h-1.0zM244.8 134.2h1.0v1.0h-1.0zM238.0 151.6h1.0v1.0h-1.0zM237.9 148.0h1.0v1.0h-1.0zM239.5 130.7h1.0v1.0h-1.0zM242.7 132.1h1.0v1.0h-1.0zM247.2 146.1h1.0v1.0h-1.0zM239.9 143.0h1.0v1.0h-1.0zM243.0 135.0h1.0v1.0h-1.0zM245.1 135.5h1.0v1.0h-1.0zM243.4 128.9h1.0v1.0h-1.0zM240.1 141.2h1.0v1.0h-1.0zM234.6 133.8h1.0v1.0h-1.0zM236.2 144.1h1.0v1.0h-1.0zM235.0 141.5h1.0v1.0h-1.0zM249.1 140.8h1.0v1.0h-1.0zM229.5 138.7h1.0v1.0h-1.0zM246.0 135.0h1.0v1.0h-1.0zM246.5 143.1h1.0v1.0h-1.0zM242.2 135.2h1.0v1.0h-1.0zM236.3 135.3h1.0v1.0h-1.0zM239.9 142.3h1.0v1.0h-1.0zM242.2 134.9h1.0v1.0h-1.0zM240.0 141.1h1.0v1.0h-1.0zM229.4 130.7h1.0v1.0h-1.0zM234.6 135.8h1.0v1.0h-1.0zM237.9 135.3h1.0v1.0h-1.0zM234.1 143.7h1.0v1.0h-1.0zM241.3 122.8h1.0v1.0h-1.0zM239.7 127.5h1.0v1.0h-1.0zM250.2 133.5h1.0v1.0h-1.0zM237.1 138.4h1.0v1.0h-1.0zM238.3 137.1h1.0v1.0h-1.0zM249.3 139.7h1.0v1.0h-1.0zM244.8 147.8h1.0v1.0h-1.0zM243.9 146.3h1.0v1.0h-1.0zM234.2 145.0h1.0v1.0h-1.0zM242.2 132.8h1.0v1.0h-1.0zM253.9 142.8h1.0v1.0h-1.0zM238.1 139.4h1.0v1.0h-1.0zM245.3 147.8h1.0v1.0h-1.0zM243.3 148.6h1.0v1.0h-1.0zM248.8 126.6h1.0v1.0h-1.0zM236.6 129.2h1.0v1.0h-1.0zM240.2 150.7h1.0v1.0h-1.0zM243.7 128.3h1.0v1.0h-1.0zM237.8 146.9h1.0v1.0h-1.0zM236.3 136.8h1.0v1.0h-1.0zM241.5 121.3h1.0v1.0h-1.0zM244.5 140.8h1.0v1.0h-1.0zM243.2 128.9h1.0v1.0h-1.0zM234.8 132.3h1.0v1.0h-1.0zM241.2 138.3h1.0v1.0h-1.0zM247.8 131.2h1.0v1.0h-1.0zM237.6 150.1h1.0v1.0h-1.0zM249.6 132.8h1.0v1.0h-1.0zM237.9 138.4h1.0v1.0h-1.0zM234.2 128.9h1.0v1.0h-1.0zM237.1 145.4h1.0v1.0h-1.0zM236.8 135.8h1.0v1.0h-1.0zM236.7 125.4h1.0v1.0h-1.0zM248.9 116.6h1.0v1.0h-1.0zM235.5 142.7h1.0v1.0h-1.0zM230.9 143.1h1.0v1.0h-1.0zM247.5 129.9h1.0v1.0h-1.0zM240.9 127.7h1.0v1.0h-1.0zM242.8 138.5h1.0v1.0h-1.0zM241.0 150.0h1.0v1.0h-1.0zM242.6 149.8h1.0v1.0h-1.0zM243.6 126.9h1.0v1.0h-1.0zM241.3 142.1h1.0v1.0h-1.0zM230.6 149.7h1.0v1.0h-1.0zM240.0 141.0h1.0v1.0h-1.0zM234.0 138.3h1.0v1.0h-1.0zM241.5 134.7h1.0v1.0h-1.0zM240.1 118.6h1.0v1.0h-1.0zM248.1 127.6h1.0v1.0h-1.0zM234.4 142.6h1.0v1.0h-1.0zM233.9 140.2h1.0v1.0h-1.0zM233.3 143.6h1.0v1.0h-1.0zM233.6 142.9h1.0v1.0h-1.0zM243.8 123.3h1.0v1.0h-1.0zM232.5 127.2h1.0v1.0h-1.0zM230.2 131.1h1.0v1.0h-1.0zM233.6 124.6h1.0v1.0h-1.0zM240.2 142.5h1.0v1.0h-1.0zM231.4 132.6h1.0v1.0h-1.0zM239.6 135.5h1.0v1.0h-1.0zM235.2 144.9h1.0v1.0h-1.0zM244.9 143.7h1.0v1.0h-1.0zM250.5 134.0h1.0v1.0h-1.0zM238.8 148.3h1.0v1.0h-1.0zM234.6 141.2h1.0v1.0h-1.0zM239.9 131.3h1.0v1.0h-1.0zM238.1 123.4h1.0v1.0h-1.0zM236.2 119.6h1.0v1.0h-1.0zM253.8 151.1h1.0v1.0h-1.0zM247.2 140.3h1.0v1.0h-1.0zM245.8 149.0h1.0v1.0h-1.0zM245.9 145.8h1.0v1.0h-1.0zM233.8 141.4h1.0v1.0h-1.0zM236.2 126.9h1.0v1.0h-1.0zM232.4 141.4h1.0v1.0h-1.0zM246.1 125.2h1.0v1.0h-1.0zM250.4 150.8h1.0v1.0h-1.0zM237.2 133.4h1.0v1.0h-1.0zM239.1 146.4h1.0v1.0h-1.0zM237.1 127.6h1.0v1.0h-1.0zM241.7 118.9h1.0v1.0h-1.0zM240.4 147.9h1.0v1.0h-1.0zM241.4 144.5h1.0v1.0h-1.0zM242.6 144.1h1.0v1.0h-1.0zM240.4 130.0h1.0v1.0h-1.0zM238.1 136.8h1.0v1.0h-1.0zM247.4 152.1h1.0v1.0h-1.0zM242.1 130.7h1.0v1.0h-1.0zM234.9 135.8h1.0v1.0h-1.0zM248.2 140.5h1.0v1.0h-1.0zM239.2 130.6h1.0v1.0h-1.0zM245.0 140.1h1.0v1.0h-1.0zM239.2 138.4h1.0v1.0h-1.0zM250.0 136.1h1.0v1.0h-1.0zM250.1 148.7h1.0v1.0h-1.0zM239.8 145.5h1.0v1.0h-1.0zM238.7 130.0h1.0v1.0h-1.0zM237.8 129.3h1.0v1.0h-1.0zM242.7 137.6h1.0v1.0h-1.0zM243.0 144.9h1.0v1.0h-1.0zM228.2 139.0h1.0v1.0h-1.0zM234.0 138.4h1.0v1.0h-1.0zM248.0 122.1h1.0v1.0h-1.0zM240.7 136.8h1.0v1.0h-1.0zM227.7 143.3h1.0v1.0h-1.0zM239.7 132.9h1.0v1.0h-1.0zM237.0 121.3h1.0v1.0h-1.0zM233.7 134.2h1.0v1.0h-1.0zM237.1 136.8h1.0v1.0h-1.0zM233.0 142.4h1.0v1.0h-1.0zM236.5 125.3h1.0v1.0h-1.0zM234.4 134.0h1.0v1.0h-1.0zM244.8 141.9h1.0v1.0h-1.0zM237.4 137.7h1.0v1.0h-1.0zM235.6 141.7h1.0v1.0h-1.0zM244.0 128.9h1.0v1.0h-1.0zM240.7 139.0h1.0v1.0h-1.0zM236.6 142.6h1.0v1.0h-1.0zM245.9 147.7h1.0v1.0h-1.0zM238.3 139.2h1.0v1.0h-1.0zM254.2 127.6h1.0v1.0h-1.0zM240.9 145.5h1.0v1.0h-1.0zM240.4 143.4h1.0v1.0h-1.0zM240.6 144.3h1.0v1.0h-1.0zM247.5 135.5h1.0v1.0h-1.0zM240.7 137.0h1.0v1.0h-1.0zM237.0 137.3h1.0v1.0h-1.0zM232.4 144.2h1.0v1.0h-1.0zM247.5 128.8h1.0v1.0h-1.0zM249.0 131.1h1.0v1.0h-1.0zM232.8 145.1h1.0v1.0h-1.0zM241.3 136.1h1.0v1.0h-1.0zM234.0 141.3h1.0v1.0h-1.0zM236.6 146.9h1.0v1.0h-1.0zM247.2 125.1h1.0v1.0h-1.0zM236.3 134.6h1.0v1.0h-1.0zM232.1 127.4h1.0v1.0h-1.0zM240.1 135.6h1.0v1.0h-1.0zM229.2 132.7h1.0v1.0h-1.0zM242.7 126.6h1.0v1.0h-1.0zM233.7 151.8h1.0v1.0h-1.0zM247.7 122.9h1.0v1.0h-1.0zM231.1 140.9h1.0v1.0h-1.0zM232.1 135.2h1.0v1.0h-1.0zM236.7 142.5h1.0v1.0h-1.0zM231.8 146.6h1.0v1.0h-1.0zM238.5 122.1h1.0v1.0h-1.0zM242.6 143.9h1.0v1.0h-1.0zM238.0 134.5h1.0v1.0h-1.0zM242.2 148.4h1.0v1.0h-1.0zM240.5 142.3h1.0v1.0h-1.0zM239.2 134.1h1.0v1.0h-1.0zM233.8 139.8h1.0v1.0h-1.0zM237.6 135.3h1.0v1.0h-1.0zM245.3 141.9h1.0v1.0h-1.0zM244.9 123.3h1.0v1.0h-1.0zM243.0 132.2h1.0v1.0h-1.0zM234.4 129.8h1.0v1.0h-1.0zM247.1 145.0h1.0v1.0h-1.0zM235.0 127.3h1.0v1.0h-1.0zM239.6 133.4h1.0v1.0h-1.0zM249.9 124.3h1.0v1.0h-1.0zM228.1 135.2h1.0v1.0h-1.0zM239.6 138.7h1.0v1.0h-1.0zM237.4 132.6h1.0v1.0h-1.0zM228.5 139.7h1.0v1.0h-1.0zM244.8 135.2h1.0v1.0h-1.0zM246.9 137.8h1.0v1.0h-1.0zM249.0 140.5h1.0v1.0h-1.0zM232.9 131.8h1.0v1.0h-1.0zM229.9 121.9h1.0v1.0h-1.0zM241.2 145.3h1.0v1.0h-1.0zM251.7 137.0h1.0v1.0h-1.0zM238.0 127.5h1.0v1.0h-1.0zM245.7 141.0h1.0v1.0h-1.0zM235.8 143.7h1.0v1.0h-1.0zM243.0 120.7h1.0v1.0h-1.0zM244.1 138.7h1.0v1.0h-1.0zM237.1 133.7h1.0v1.0h-1.0zM250.4 151.3h1.0v1.0h-1.0zM250.9 127.2h1.0v1.0h-1.0zM235.4 145.6h1.0v1.0h-1.0zM231.9 131.0h1.0v1.0h-1.0zM246.1 141.6h1.0v1.0h-1.0zM240.9 133.7h1.0v1.0h-1.0zM237.0 143.0h1.0v1.0h-1.0zM235.1 148.5h1.0v1.0h-1.0zM236.4 129.6h1.0v1.0h-1.0zM247.6 136.2h1.0v1.0h-1.0z" fill="#333" fill-opacity="0.8"/>
<ellipse cx="239.5" cy="137.5" rx="12.5" ry="18" fill="url(#bg2)" transform="rotate(0 239.5 137.5)"/>
<path d="M242.4 142.6h1v1h-1zM235.7 150.2h1v1h-1zM236.1 148.7h1v1h-1zM230.2 128.7h1v1h-1zM240.2 131.5h1v1h-1zM233.7 139.9h1v1h-1zM233.5 138.1h1v1h-1zM236.8 145.6h1v1h-1zM243.8 135.9h1v1h-1zM238.5 144.7h1v1h-1zM244.8 144.5h1v1h-1zM235.0 141.8h1v1h-1zM231.1 134.7h1v1h-1zM236.5 128.7h1v1h-1zM238.6 151.4h1v1h-1zM235.6 131.9h1v1h-1zM243.0 128.4h1v1h-1zM238.4 137.1h1v1h-1zM241.1 146.8h1v1h-1zM241.7 152.3h1v1h-1zM245.6 126.1h1v1h-1zM247.7 148.1h1v1h-1zM243.3 140.7h1v1h-1zM244.8 132.4h1v1h-1zM244.6 148.2h1v1h-1zM239.5 132.2h1v1h-1zM248.4 137.7h1v1h-1zM242.7 149.0h1v1h-1zM244.4 142.7h1v1h-1zM228.7 141.8h1v1h-1zM242.0 149.7h1v1h-1zM235.3 129.6h1v1h-1zM247.6 129.8h1v1h-1zM239.9 145.5h1v1h-1zM236.9 147.1h1v1h-1zM232.5 148.1h1v1h-1zM232.6 137.3h1v1h-1zM234.4 147.2h1v1h-1zM239.4 136.0h1v1h-1zM241.8 133.1h1v1h-1zM239.3 145.5h1v1h-1zM246.4 131.0h1v1h-1zM232.6 138.7h1v1h-1zM245.0 144.3h1v1h-1zM244.7 133.2h1v1h-1zM239.2 153.2h1v1h-1zM250.2 139.0h1v1h-1zM248.9 139.7h1v1h-1zM233.2 143.0h1v1h-1zM246.4 133.6h1v1h-1zM246.1 138.6h1v1h-1zM239.5 132.1h1v1h-1zM243.3 139.6h1v1h-1zM244.4 136.5h1v1h-1zM244.0 146.2h1v1h-1zM232.9 146.6h1v1h-1zM247.9 137.2h1v1h-1zM230.3 134.6h1v1h-1zM228.3 136.9h1v1h-1zM244.0 128.7h1v1h-1zM237.4 121.9h1v1h-1zM233.9 143.1h1v1h-1zM239.6 139.0h1v1h-1zM229.6 138.5h1v1h-1zM234.5 124.4h1v1h-1zM242.4 126.1h1v1h-1zM235.6 127.6h1v1h-1zM234.8 146.6h1v1h-1zM248.4 143.6h1v1h-1zM250.3 133.6h1v1h-1zM229.5 140.5h1v1h-1zM233.3 143.8h1v1h-1zM240.8 148.3h1v1h-1zM246.9 127.7h1v1h-1zM244.3 128.4h1v1h-1zM243.4 130.7h1v1h-1zM234.2 123.5h1v1h-1zM237.8 121.8h1v1h-1zM230.3 139.8h1v1h-1zM241.4 140.3h1v1h-1zM243.8 150.9h1v1h-1zM244.5 148.8h1v1h-1zM248.9 133.6h1v1h-1zM248.1 140.6h1v1h-1zM230.0 139.6h1v1h-1zM245.7 149.6h1v1h-1zM244.7 133.3h1v1h-1z" fill="#fff" fill-opacity="0.28"/>
<path d="M248.2 129.5h1v1h-1zM235.8 127.1h1v1h-1zM233.7 124.3h1v1h-1zM241.4 141.5h1v1h-1zM239.9 138.0h1v1h-1zM238.1 139.3h1v1h-1zM245.2 127.8h1v1h-1zM243.3 146.3h1v1h-1zM248.8 129.8h1v1h-1zM250.5 139.9h1v1h-1zM233.6 128.4h1v1h-1zM242.6 148.5h1v1h-1zM229.0 134.0h1v1h-1zM238.3 140.1h1v1h-1zM242.3 150.7h1v1h-1zM242.0 151.3h1v1h-1zM237.6 147.8h1v1h-1zM242.5 133.6h1v1h-1zM239.6 128.0h1v1h-1zM237.3 152.5h1v1h-1zM238.7 137.3h1v1h-1zM243.3 131.9h1v1h-1zM238.7 131.0h1v1h-1zM239.3 140.1h1v1h-1zM242.5 131.7h1v1h-1zM234.8 126.9h1v1h-1zM238.3 141.8h1v1h-1zM231.4 127.5h1v1h-1zM229.7 137.3h1v1h-1zM243.9 133.7h1v1h-1zM242.3 144.8h1v1h-1zM247.3 144.2h1v1h-1zM237.2 123.7h1v1h-1zM232.6 136.5h1v1h-1zM246.5 142.6h1v1h-1zM237.6 141.2h1v1h-1zM239.9 138.7h1v1h-1zM234.8 130.5h1v1h-1zM243.2 147.8h1v1h-1zM242.2 123.9h1v1h-1zM236.0 125.3h1v1h-1zM242.5 130.6h1v1h-1zM243.3 148.6h1v1h-1zM233.0 127.9h1v1h-1zM231.2 139.7h1v1h-1zM238.3 123.4h1v1h-1zM247.4 142.6h1v1h-1zM244.9 136.5h1v1h-1zM234.7 129.9h1v1h-1zM235.8 135.0h1v1h-1zM240.2 124.9h1v1h-1zM228.8 141.9h1v1h-1zM242.9 145.1h1v1h-1zM233.4 140.8h1v1h-1zM228.5 136.4h1v1h-1zM238.5 124.3h1v1h-1zM239.6 139.4h1v1h-1zM247.2 141.7h1v1h-1zM239.6 131.2h1v1h-1zM245.5 147.7h1v1h-1zM241.6 132.9h1v1h-1zM236.4 147.7h1v1h-1zM234.9 125.5h1v1h-1zM248.4 147.3h1v1h-1zM229.9 141.0h1v1h-1zM233.9 137.6h1v1h-1zM240.6 139.1h1v1h-1zM238.2 132.5h1v1h-1zM239.9 151.1h1v1h-1zM240.4 128.6h1v1h-1zM235.4 145.7h1v1h-1zM229.0 133.2h1v1h-1zM233.2 129.9h1v1h-1zM237.7 139.4h1v1h-1zM233.7 125.8h1v1h-1zM235.6 151.7h1v1h-1zM240.2 148.6h1v1h-1zM243.6 141.3h1v1h-1zM242.1 143.7h1v1h-1zM233.2 143.2h1v1h-1zM241.2 123.6h1v1h-1zM234.9 127.6h1v1h-1zM236.7 147.8h1v1h-1zM234.1 129.1h1v1h-1zM244.0 123.0h1v1h-1zM237.7 134.3h1v1h-1zM237.1 134.1h1v1h-1zM236.2 123.3h1v1h-1z" fill="#222" fill-opacity="0.35"/>
</g>
<rect x="226.5" y="58.7" width="95.5" height="95.3" fill="none" stroke="#151515" stroke-width="1.3"/>
<line x1="226.5" y1="58.7" x2="226.5" y2="154" stroke="#b5b5b5" stroke-width="1.6" />
<line x1="256.5" y1="58.7" x2="256.5" y2="154" stroke="#111" stroke-width="1.1" />
<line x1="226.5" y1="117.5" x2="322" y2="117.5" stroke="#111" stroke-width="1.1" />
<rect x="227" y="59" width="3" height="2.6" fill="#000"/>
<rect x="253.3" y="114.3" width="3.6" height="3.6" fill="#000"/>
<text x="254.7" y="45.8" font-size="18" text-anchor="middle" font-weight="normal" fill="#111" >D0</text>
<text x="315.8" y="69.8" font-size="10.5" text-anchor="end" font-weight="normal" fill="#222" >1.01</text>
<line x1="82.5" y1="319.5" x2="87.5" y2="319.5" stroke="#222" stroke-width="1" />
<text transform="translate(76.6 322.9) scale(0.9 1)" font-size="9.3" text-anchor="end" fill="#333">10</text>
<text x="77.2" y="319.2" font-size="5.394" fill="#666">0</text>
<line x1="87.5" y1="319.5" x2="87.5" y2="323.5" stroke="#222" stroke-width="1" />
<text transform="translate(87.1 332) scale(0.9 1)" font-size="9.3" text-anchor="end" fill="#333">10</text>
<text x="87.7" y="328.3" font-size="5.394" fill="#666">0</text>
<line x1="82.5" y1="294.2" x2="87.5" y2="294.2" stroke="#222" stroke-width="1" />
<text transform="translate(76.6 297.7) scale(0.9 1)" font-size="9.3" text-anchor="end" fill="#333">10</text>
<text x="77.2" y="294" font-size="5.394" fill="#666">1</text>
<line x1="112.8" y1="319.5" x2="112.8" y2="323.5" stroke="#222" stroke-width="1" />
<text transform="translate(112.4 332) scale(0.9 1)" font-size="9.3" text-anchor="end" fill="#333">10</text>
<text x="113" y="328.3" font-size="5.394" fill="#666">1</text>
<line x1="82.5" y1="269" x2="87.5" y2="269" stroke="#222" stroke-width="1" />
<text transform="translate(76.6 272.4) scale(0.9 1)" font-size="9.3" text-anchor="end" fill="#333">10</text>
<text x="77.2" y="268.7" font-size="5.394" fill="#666">2</text>
<line x1="138.1" y1="319.5" x2="138.1" y2="323.5" stroke="#222" stroke-width="1" />
<text transform="translate(137.7 332) scale(0.9 1)" font-size="9.3" text-anchor="end" fill="#333">10</text>
<text x="138.2" y="328.3" font-size="5.394" fill="#666">2</text>
<line x1="82.5" y1="243.8" x2="87.5" y2="243.8" stroke="#222" stroke-width="1" />
<text transform="translate(76.6 247.2) scale(0.9 1)" font-size="9.3" text-anchor="end" fill="#333">10</text>
<text x="77.2" y="243.5" font-size="5.394" fill="#666">3</text>
<line x1="163.3" y1="319.5" x2="163.3" y2="323.5" stroke="#222" stroke-width="1" />
<text transform="translate(162.9 332) scale(0.9 1)" font-size="9.3" text-anchor="end" fill="#333">10</text>
<text x="163.5" y="328.3" font-size="5.394" fill="#666">3</text>
<line x1="82.5" y1="218.5" x2="87.5" y2="218.5" stroke="#222" stroke-width="1" />
<text transform="translate(76.6 221.9) scale(0.9 1)" font-size="9.3" text-anchor="end" fill="#333">10</text>
<text x="77.2" y="218.2" font-size="5.394" fill="#666">4</text>
<line x1="188.6" y1="319.5" x2="188.6" y2="323.5" stroke="#222" stroke-width="1" />
<text transform="translate(188.2 332) scale(0.9 1)" font-size="9.3" text-anchor="end" fill="#333">10</text>
<text x="188.8" y="328.3" font-size="5.394" fill="#666">4</text>
<g clip-path="url(#c3)">
<defs><clipPath id="c3"><rect x="87.5" y="218.5" width="101.1" height="101.0"/></clipPath></defs>
<defs><radialGradient id="bg3" cx="0.5" cy="0.5" r="0.5" fx="0.5" fy="0.45"><stop offset="0" stop-color="#d0d0d0"/><stop offset="0.31" stop-color="#808080"/><stop offset="0.62" stop-color="#484848"/><stop offset="0.84" stop-color="#484848" stop-opacity="0.85"/><stop offset="1" stop-color="#484848" stop-opacity="0"/></radialGradient></defs>
<defs><radialGradient id="bg4" cx="0.5" cy="0.5" r="0.5" fx="0.5" fy="0.5"><stop offset="0" stop-color="#6a6a6a"/><stop offset="0.31" stop-color="#555555"/><stop offset="0.62" stop-color="#404040"/><stop offset="0.84" stop-color="#404040" stop-opacity="0.85"/><stop offset="1" stop-color="#404040" stop-opacity="0"/></radialGradient></defs>
<path d="M132.6 309.1h1.0v1.0h-1.0zM130.4 290.3h1.0v1.0h-1.0zM130.7 304.2h1.0v1.0h-1.0zM132.2 276.7h1.0v1.0h-1.0zM132.5 273.9h1.0v1.0h-1.0zM138.5 272.4h1.0v1.0h-1.0zM129.7 294.3h1.0v1.0h-1.0zM134.1 280.2h1.0v1.0h-1.0zM132.1 303.4h1.0v1.0h-1.0zM139.9 261.8h1.0v1.0h-1.0zM135.3 261.3h1.0v1.0h-1.0zM132.9 315.4h1.0v1.0h-1.0zM137.4 282.2h1.0v1.0h-1.0zM134.6 273.5h1.0v1.0h-1.0zM132.5 302.0h1.0v1.0h-1.0zM140.1 315.2h1.0v1.0h-1.0zM137.0 317.8h1.0v1.0h-1.0zM140.8 274.1h1.0v1.0h-1.0zM138.7 316.9h1.0v1.0h-1.0zM137.2 292.5h1.0v1.0h-1.0zM134.8 269.0h1.0v1.0h-1.0zM130.2 313.8h1.0v1.0h-1.0zM137.0 274.1h1.0v1.0h-1.0zM134.6 289.9h1.0v1.0h-1.0zM136.9 292.3h1.0v1.0h-1.0zM134.3 286.8h1.0v1.0h-1.0zM131.7 294.6h1.0v1.0h-1.0zM130.5 265.5h1.0v1.0h-1.0zM137.0 276.2h1.0v1.0h-1.0zM139.2 292.4h1.0v1.0h-1.0zM133.2 309.1h1.0v1.0h-1.0zM136.0 285.6h1.0v1.0h-1.0zM139.6 258.1h1.0v1.0h-1.0zM131.2 263.9h1.0v1.0h-1.0zM133.0 312.7h1.0v1.0h-1.0zM130.1 294.3h1.0v1.0h-1.0zM138.8 287.6h1.0v1.0h-1.0zM135.3 291.4h1.0v1.0h-1.0zM132.6 309.6h1.0v1.0h-1.0zM128.1 304.8h1.0v1.0h-1.0zM133.7 283.8h1.0v1.0h-1.0zM138.1 273.3h1.0v1.0h-1.0zM133.2 273.6h1.0v1.0h-1.0zM132.7 276.0h1.0v1.0h-1.0zM136.8 275.9h1.0v1.0h-1.0zM129.7 317.2h1.0v1.0h-1.0zM134.5 302.8h1.0v1.0h-1.0zM136.6 295.5h1.0v1.0h-1.0zM131.4 300.4h1.0v1.0h-1.0zM131.2 292.4h1.0v1.0h-1.0zM135.3 291.7h1.0v1.0h-1.0zM134.0 295.3h1.0v1.0h-1.0zM133.5 317.0h1.0v1.0h-1.0zM135.1 265.3h1.0v1.0h-1.0zM135.2 260.3h1.0v1.0h-1.0zM130.9 279.2h1.0v1.0h-1.0zM131.8 299.4h1.0v1.0h-1.0zM136.0 288.7h1.0v1.0h-1.0zM138.6 262.8h1.0v1.0h-1.0zM139.5 280.1h1.0v1.0h-1.0zM131.2 274.7h1.0v1.0h-1.0zM138.5 274.5h1.0v1.0h-1.0zM137.2 259.0h1.0v1.0h-1.0zM134.2 277.0h1.0v1.0h-1.0zM136.2 309.9h1.0v1.0h-1.0zM137.5 285.5h1.0v1.0h-1.0zM141.1 262.2h1.0v1.0h-1.0zM130.4 308.5h1.0v1.0h-1.0zM136.6 313.9h1.0v1.0h-1.0zM133.8 313.9h1.0v1.0h-1.0zM133.6 312.5h1.0v1.0h-1.0zM138.7 306.2h1.0v1.0h-1.0zM137.5 270.5h1.0v1.0h-1.0zM130.5 280.1h1.0v1.0h-1.0zM133.3 272.7h1.0v1.0h-1.0zM135.2 282.6h1.0v1.0h-1.0zM129.1 294.4h1.0v1.0h-1.0zM137.6 269.7h1.0v1.0h-1.0zM134.1 305.8h1.0v1.0h-1.0zM135.0 294.1h1.0v1.0h-1.0zM135.6 290.8h1.0v1.0h-1.0zM141.2 275.6h1.0v1.0h-1.0zM134.5 271.1h1.0v1.0h-1.0zM133.0 282.0h1.0v1.0h-1.0zM140.9 279.7h1.0v1.0h-1.0zM132.5 298.9h1.0v1.0h-1.0zM132.4 280.5h1.0v1.0h-1.0zM129.2 266.5h1.0v1.0h-1.0zM138.4 289.4h1.0v1.0h-1.0zM135.4 271.6h1.0v1.0h-1.0zM136.2 285.4h1.0v1.0h-1.0zM135.0 285.1h1.0v1.0h-1.0zM133.9 279.7h1.0v1.0h-1.0zM131.4 307.8h1.0v1.0h-1.0zM131.5 302.9h1.0v1.0h-1.0zM136.0 305.5h1.0v1.0h-1.0zM134.9 283.8h1.0v1.0h-1.0zM140.5 276.2h1.0v1.0h-1.0zM131.5 274.1h1.0v1.0h-1.0zM132.6 303.4h1.0v1.0h-1.0zM130.6 295.7h1.0v1.0h-1.0zM139.6 307.4h1.0v1.0h-1.0zM129.8 277.1h1.0v1.0h-1.0zM137.3 290.5h1.0v1.0h-1.0zM139.8 299.4h1.0v1.0h-1.0zM133.9 302.3h1.0v1.0h-1.0zM137.1 260.8h1.0v1.0h-1.0zM126.4 286.9h1.0v1.0h-1.0zM132.9 258.5h1.0v1.0h-1.0zM128.2 296.4h1.0v1.0h-1.0zM135.0 302.9h1.0v1.0h-1.0zM134.4 273.6h1.0v1.0h-1.0zM131.5 262.8h1.0v1.0h-1.0zM137.9 306.2h1.0v1.0h-1.0zM135.7 265.5h1.0v1.0h-1.0zM132.4 280.8h1.0v1.0h-1.0zM132.5 263.2h1.0v1.0h-1.0zM128.9 260.9h1.0v1.0h-1.0zM133.7 290.1h1.0v1.0h-1.0zM142.4 261.2h1.0v1.0h-1.0zM131.7 305.2h1.0v1.0h-1.0zM136.0 289.1h1.0v1.0h-1.0zM132.3 289.2h1.0v1.0h-1.0zM137.4 301.1h1.0v1.0h-1.0zM136.1 286.8h1.0v1.0h-1.0zM133.5 271.5h1.0v1.0h-1.0zM127.7 309.9h1.0v1.0h-1.0zM132.5 286.9h1.0v1.0h-1.0zM138.9 284.4h1.0v1.0h-1.0zM133.5 304.1h1.0v1.0h-1.0zM136.8 277.7h1.0v1.0h-1.0zM132.6 300.6h1.0v1.0h-1.0zM127.4 281.8h1.0v1.0h-1.0zM136.0 281.7h1.0v1.0h-1.0zM135.6 271.8h1.0v1.0h-1.0zM132.2 261.5h1.0v1.0h-1.0zM133.0 262.0h1.0v1.0h-1.0zM135.5 285.7h1.0v1.0h-1.0zM132.2 300.0h1.0v1.0h-1.0zM135.7 301.3h1.0v1.0h-1.0zM133.6 269.7h1.0v1.0h-1.0zM125.6 271.1h1.0v1.0h-1.0zM133.9 269.2h1.0v1.0h-1.0zM132.2 267.1h1.0v1.0h-1.0zM131.3 282.1h1.0v1.0h-1.0zM135.9 263.6h1.0v1.0h-1.0zM132.6 276.9h1.0v1.0h-1.0zM136.4 278.3h1.0v1.0h-1.0zM138.5 266.9h1.0v1.0h-1.0zM134.9 277.2h1.0v1.0h-1.0zM128.6 270.7h1.0v1.0h-1.0zM131.7 261.8h1.0v1.0h-1.0zM137.8 292.0h1.0v1.0h-1.0zM133.4 271.6h1.0v1.0h-1.0zM131.4 297.8h1.0v1.0h-1.0zM134.1 286.6h1.0v1.0h-1.0zM136.3 264.9h1.0v1.0h-1.0zM135.4 259.4h1.0v1.0h-1.0zM136.8 260.8h1.0v1.0h-1.0zM131.3 271.3h1.0v1.0h-1.0zM133.4 266.3h1.0v1.0h-1.0zM133.5 264.3h1.0v1.0h-1.0zM134.3 279.6h1.0v1.0h-1.0zM126.5 301.2h1.0v1.0h-1.0zM133.5 316.4h1.0v1.0h-1.0zM129.4 271.1h1.0v1.0h-1.0zM139.6 271.1h1.0v1.0h-1.0zM140.3 272.7h1.0v1.0h-1.0zM140.7 281.2h1.0v1.0h-1.0zM137.5 276.8h1.0v1.0h-1.0zM132.6 273.4h1.0v1.0h-1.0zM138.0 284.0h1.0v1.0h-1.0zM133.7 276.8h1.0v1.0h-1.0zM136.7 302.4h1.0v1.0h-1.0zM131.0 283.9h1.0v1.0h-1.0zM132.2 278.5h1.0v1.0h-1.0zM136.2 281.9h1.0v1.0h-1.0zM141.1 300.3h1.0v1.0h-1.0zM134.3 308.7h1.0v1.0h-1.0zM142.9 277.0h1.0v1.0h-1.0zM144.8 309.6h1.0v1.0h-1.0zM129.6 269.2h1.0v1.0h-1.0zM134.3 305.0h1.0v1.0h-1.0zM130.9 270.5h1.0v1.0h-1.0zM133.9 294.3h1.0v1.0h-1.0zM132.4 263.4h1.0v1.0h-1.0zM134.2 302.3h1.0v1.0h-1.0zM138.1 306.6h1.0v1.0h-1.0zM138.0 275.9h1.0v1.0h-1.0zM135.4 270.4h1.0v1.0h-1.0zM134.4 294.7h1.0v1.0h-1.0zM134.9 287.5h1.0v1.0h-1.0zM134.9 276.6h1.0v1.0h-1.0zM136.6 298.0h1.0v1.0h-1.0zM134.5 292.3h1.0v1.0h-1.0zM136.3 282.0h1.0v1.0h-1.0zM129.5 297.5h1.0v1.0h-1.0zM137.4 307.4h1.0v1.0h-1.0zM141.0 263.0h1.0v1.0h-1.0zM135.1 308.9h1.0v1.0h-1.0zM129.1 258.7h1.0v1.0h-1.0zM139.5 266.5h1.0v1.0h-1.0zM133.2 288.9h1.0v1.0h-1.0zM123.2 265.6h1.0v1.0h-1.0zM133.6 312.9h1.0v1.0h-1.0zM136.7 282.2h1.0v1.0h-1.0zM135.9 294.5h1.0v1.0h-1.0zM139.1 297.7h1.0v1.0h-1.0zM136.8 263.7h1.0v1.0h-1.0zM134.9 314.8h1.0v1.0h-1.0zM127.0 265.5h1.0v1.0h-1.0zM130.3 311.9h1.0v1.0h-1.0zM135.1 275.7h1.0v1.0h-1.0zM137.0 298.6h1.0v1.0h-1.0zM130.6 284.3h1.0v1.0h-1.0zM132.1 262.0h1.0v1.0h-1.0zM136.2 269.1h1.0v1.0h-1.0zM127.3 310.5h1.0v1.0h-1.0zM127.1 297.4h1.0v1.0h-1.0zM133.6 286.5h1.0v1.0h-1.0zM135.4 273.5h1.0v1.0h-1.0zM132.7 317.4h1.0v1.0h-1.0zM125.8 265.4h1.0v1.0h-1.0zM134.5 266.6h1.0v1.0h-1.0zM129.5 260.4h1.0v1.0h-1.0zM136.9 303.7h1.0v1.0h-1.0zM134.1 303.1h1.0v1.0h-1.0zM135.4 267.1h1.0v1.0h-1.0zM136.9 285.0h1.0v1.0h-1.0zM132.5 301.1h1.0v1.0h-1.0zM137.6 316.5h1.0v1.0h-1.0zM139.1 302.9h1.0v1.0h-1.0zM135.9 275.9h1.0v1.0h-1.0zM139.5 272.6h1.0v1.0h-1.0zM132.1 294.4h1.0v1.0h-1.0zM137.9 262.5h1.0v1.0h-1.0zM135.5 285.3h1.0v1.0h-1.0zM130.7 284.8h1.0v1.0h-1.0zM134.2 292.0h1.0v1.0h-1.0zM132.5 291.5h1.0v1.0h-1.0zM132.4 294.1h1.0v1.0h-1.0zM134.8 267.6h1.0v1.0h-1.0zM138.4 289.3h1.0v1.0h-1.0zM133.3 301.9h1.0v1.0h-1.0zM134.9 289.6h1.0v1.0h-1.0zM128.9 262.0h1.0v1.0h-1.0zM134.9 277.9h1.0v1.0h-1.0zM138.8 310.1h1.0v1.0h-1.0zM137.5 290.6h1.0v1.0h-1.0zM136.2 287.8h1.0v1.0h-1.0zM132.5 316.7h1.0v1.0h-1.0zM130.8 260.1h1.0v1.0h-1.0zM134.1 262.5h1.0v1.0h-1.0zM129.4 310.3h1.0v1.0h-1.0zM129.8 282.8h1.0v1.0h-1.0zM138.0 296.9h1.0v1.0h-1.0zM131.0 303.2h1.0v1.0h-1.0zM141.2 299.3h1.0v1.0h-1.0zM129.1 313.7h1.0v1.0h-1.0zM136.1 275.1h1.0v1.0h-1.0zM130.0 293.7h1.0v1.0h-1.0zM135.1 274.5h1.0v1.0h-1.0zM130.5 268.1h1.0v1.0h-1.0zM134.6 281.7h1.0v1.0h-1.0zM133.9 295.1h1.0v1.0h-1.0zM132.8 307.8h1.0v1.0h-1.0zM136.4 277.2h1.0v1.0h-1.0zM140.1 275.9h1.0v1.0h-1.0zM132.2 270.0h1.0v1.0h-1.0zM137.8 307.9h1.0v1.0h-1.0zM134.8 314.2h1.0v1.0h-1.0zM134.3 264.6h1.0v1.0h-1.0zM142.7 279.7h1.0v1.0h-1.0zM126.3 310.8h1.0v1.0h-1.0zM131.9 274.0h1.0v1.0h-1.0zM127.6 313.5h1.0v1.0h-1.0zM133.3 278.3h1.0v1.0h-1.0zM133.6 282.7h1.0v1.0h-1.0zM148.8 273.6h1.0v1.0h-1.0zM135.8 310.9h1.0v1.0h-1.0zM141.2 263.0h1.0v1.0h-1.0zM139.3 261.2h1.0v1.0h-1.0zM132.8 258.8h1.0v1.0h-1.0zM136.3 270.8h1.0v1.0h-1.0zM140.7 297.0h1.0v1.0h-1.0zM135.1 259.2h1.0v1.0h-1.0zM135.2 279.3h1.0v1.0h-1.0zM136.3 273.4h1.0v1.0h-1.0zM128.8 276.6h1.0v1.0h-1.0zM131.4 303.5h1.0v1.0h-1.0zM135.7 266.0h1.0v1.0h-1.0zM136.5 277.5h1.0v1.0h-1.0zM131.0 302.6h1.0v1.0h-1.0zM133.2 293.0h1.0v1.0h-1.0zM134.0 307.5h1.0v1.0h-1.0zM133.9 289.8h1.0v1.0h-1.0zM137.1 258.6h1.0v1.0h-1.0zM134.9 292.7h1.0v1.0h-1.0zM135.1 292.0h1.0v1.0h-1.0zM129.1 268.7h1.0v1.0h-1.0zM130.5 311.6h1.0v1.0h-1.0zM135.7 309.1h1.0v1.0h-1.0zM128.4 271.9h1.0v1.0h-1.0zM135.5 308.4h1.0v1.0h-1.0zM132.0 279.5h1.0v1.0h-1.0zM131.4 268.0h1.0v1.0h-1.0zM136.9 282.2h1.0v1.0h-1.0zM131.9 311.8h1.0v1.0h-1.0zM131.2 303.5h1.0v1.0h-1.0zM131.9 283.5h1.0v1.0h-1.0zM134.7 260.5h1.0v1.0h-1.0zM144.8 277.1h1.0v1.0h-1.0zM126.5 274.6h1.0v1.0h-1.0zM134.4 280.4h1.0v1.0h-1.0zM133.5 296.1h1.0v1.0h-1.0zM138.0 279.7h1.0v1.0h-1.0zM133.0 317.1h1.0v1.0h-1.0zM125.1 290.9h1.0v1.0h-1.0zM139.4 268.3h1.0v1.0h-1.0zM130.3 303.6h1.0v1.0h-1.0zM134.2 277.4h1.0v1.0h-1.0zM129.3 273.3h1.0v1.0h-1.0zM130.3 306.7h1.0v1.0h-1.0zM132.5 265.7h1.0v1.0h-1.0zM137.7 301.2h1.0v1.0h-1.0zM137.6 260.0h1.0v1.0h-1.0zM132.2 295.0h1.0v1.0h-1.0zM136.3 279.5h1.0v1.0h-1.0zM133.0 260.8h1.0v1.0h-1.0zM134.8 267.8h1.0v1.0h-1.0zM135.0 286.7h1.0v1.0h-1.0zM136.7 304.3h1.0v1.0h-1.0zM132.1 279.3h1.0v1.0h-1.0zM133.9 280.8h1.0v1.0h-1.0zM135.2 312.9h1.0v1.0h-1.0zM134.7 292.7h1.0v1.0h-1.0zM131.4 262.3h1.0v1.0h-1.0zM140.9 284.4h1.0v1.0h-1.0zM132.7 305.1h1.0v1.0h-1.0zM137.3 277.6h1.0v1.0h-1.0zM135.2 288.5h1.0v1.0h-1.0zM139.0 262.7h1.0v1.0h-1.0zM126.2 286.4h1.0v1.0h-1.0zM142.1 315.7h1.0v1.0h-1.0zM133.6 306.4h1.0v1.0h-1.0zM129.7 305.5h1.0v1.0h-1.0zM134.9 260.6h1.0v1.0h-1.0zM142.9 294.1h1.0v1.0h-1.0zM136.3 294.7h1.0v1.0h-1.0zM129.7 259.3h1.0v1.0h-1.0zM132.6 303.5h1.0v1.0h-1.0zM139.4 278.9h1.0v1.0h-1.0zM129.1 260.8h1.0v1.0h-1.0zM133.7 262.9h1.0v1.0h-1.0zM133.3 306.4h1.0v1.0h-1.0zM142.6 287.5h1.0v1.0h-1.0zM133.3 300.6h1.0v1.0h-1.0zM139.3 274.5h1.0v1.0h-1.0zM131.8 301.0h1.0v1.0h-1.0zM131.4 305.4h1.0v1.0h-1.0zM138.2 299.4h1.0v1.0h-1.0zM136.7 308.4h1.0v1.0h-1.0zM127.9 273.6h1.0v1.0h-1.0zM136.8 298.9h1.0v1.0h-1.0zM136.8 291.7h1.0v1.0h-1.0zM132.1 299.2h1.0v1.0h-1.0zM135.2 292.9h1.0v1.0h-1.0zM135.4 297.4h1.0v1.0h-1.0zM132.5 294.5h1.0v1.0h-1.0zM132.2 274.0h1.0v1.0h-1.0zM131.8 305.6h1.0v1.0h-1.0zM133.4 275.2h1.0v1.0h-1.0zM129.4 294.8h1.0v1.0h-1.0zM134.2 310.9h1.0v1.0h-1.0zM128.7 309.1h1.0v1.0h-1.0zM134.7 263.4h1.0v1.0h-1.0zM134.1 314.5h1.0v1.0h-1.0zM130.5 299.1h1.0v1.0h-1.0zM137.6 265.4h1.0v1.0h-1.0zM141.7 311.9h1.0v1.0h-1.0zM139.4 303.2h1.0v1.0h-1.0zM129.2 299.6h1.0v1.0h-1.0zM139.2 266.9h1.0v1.0h-1.0zM135.2 309.4h1.0v1.0h-1.0zM134.2 260.9h1.0v1.0h-1.0zM132.1 309.1h1.0v1.0h-1.0zM134.3 282.1h1.0v1.0h-1.0zM139.6 270.4h1.0v1.0h-1.0zM136.4 282.5h1.0v1.0h-1.0zM132.8 285.4h1.0v1.0h-1.0zM131.8 289.5h1.0v1.0h-1.0zM132.8 300.6h1.0v1.0h-1.0zM136.6 258.4h1.0v1.0h-1.0zM141.4 291.5h1.0v1.0h-1.0zM130.4 277.9h1.0v1.0h-1.0zM134.4 281.1h1.0v1.0h-1.0zM132.9 260.1h1.0v1.0h-1.0zM131.5 301.1h1.0v1.0h-1.0zM135.9 306.8h1.0v1.0h-1.0zM136.4 263.5h1.0v1.0h-1.0zM129.0 285.3h1.0v1.0h-1.0zM130.5 277.8h1.0v1.0h-1.0zM138.9 278.7h1.0v1.0h-1.0zM135.6 269.9h1.0v1.0h-1.0zM136.3 266.8h1.0v1.0h-1.0zM132.5 274.4h1.0v1.0h-1.0zM132.9 317.5h1.0v1.0h-1.0zM136.1 266.9h1.0v1.0h-1.0zM132.5 314.5h1.0v1.0h-1.0zM130.2 265.7h1.0v1.0h-1.0zM134.4 317.9h1.0v1.0h-1.0zM137.8 270.3h1.0v1.0h-1.0zM130.5 277.9h1.0v1.0h-1.0zM138.4 315.8h1.0v1.0h-1.0zM137.0 271.5h1.0v1.0h-1.0zM131.1 281.3h1.0v1.0h-1.0zM134.4 309.0h1.0v1.0h-1.0zM134.2 264.7h1.0v1.0h-1.0zM136.8 280.6h1.0v1.0h-1.0zM136.9 288.0h1.0v1.0h-1.0zM129.5 261.0h1.0v1.0h-1.0zM129.3 303.7h1.0v1.0h-1.0zM138.2 305.4h1.0v1.0h-1.0zM134.8 263.8h1.0v1.0h-1.0zM135.9 306.4h1.0v1.0h-1.0zM135.6 267.9h1.0v1.0h-1.0zM140.1 303.3h1.0v1.0h-1.0zM129.8 268.1h1.0v1.0h-1.0zM138.5 291.2h1.0v1.0h-1.0zM131.3 279.1h1.0v1.0h-1.0zM137.1 279.7h1.0v1.0h-1.0zM139.4 292.0h1.0v1.0h-1.0zM129.2 284.8h1.0v1.0h-1.0zM135.9 277.3h1.0v1.0h-1.0zM133.3 308.0h1.0v1.0h-1.0zM133.3 262.6h1.0v1.0h-1.0zM134.5 267.6h1.0v1.0h-1.0zM130.4 303.4h1.0v1.0h-1.0zM130.7 302.3h1.0v1.0h-1.0zM136.8 292.0h1.0v1.0h-1.0zM137.5 270.5h1.0v1.0h-1.0zM132.2 284.9h1.0v1.0h-1.0zM128.9 296.8h1.0v1.0h-1.0zM143.1 270.7h1.0v1.0h-1.0zM138.5 304.2h1.0v1.0h-1.0zM135.7 274.0h1.0v1.0h-1.0zM130.5 271.5h1.0v1.0h-1.0zM132.2 310.3h1.0v1.0h-1.0zM135.3 281.8h1.0v1.0h-1.0zM130.8 280.5h1.0v1.0h-1.0zM140.4 259.6h1.0v1.0h-1.0zM134.9 297.8h1.0v1.0h-1.0zM135.8 288.2h1.0v1.0h-1.0zM130.5 261.5h1.0v1.0h-1.0zM131.0 308.4h1.0v1.0h-1.0zM131.4 263.6h1.0v1.0h-1.0zM135.4 293.7h1.0v1.0h-1.0zM133.4 295.1h1.0v1.0h-1.0zM133.3 258.3h1.0v1.0h-1.0zM135.6 292.3h1.0v1.0h-1.0zM135.2 300.9h1.0v1.0h-1.0zM139.9 303.4h1.0v1.0h-1.0zM133.6 274.7h1.0v1.0h-1.0zM130.6 278.1h1.0v1.0h-1.0zM134.3 301.5h1.0v1.0h-1.0zM139.9 286.1h1.0v1.0h-1.0zM132.3 298.5h1.0v1.0h-1.0zM134.6 266.9h1.0v1.0h-1.0zM133.0 294.2h1.0v1.0h-1.0zM135.9 279.2h1.0v1.0h-1.0zM135.3 262.7h1.0v1.0h-1.0zM131.3 301.5h1.0v1.0h-1.0zM133.5 260.6h1.0v1.0h-1.0zM137.9 286.7h1.0v1.0h-1.0zM138.5 277.8h1.0v1.0h-1.0zM137.8 299.4h1.0v1.0h-1.0zM137.6 274.8h1.0v1.0h-1.0zM133.1 273.1h1.0v1.0h-1.0zM133.0 280.6h1.0v1.0h-1.0zM137.8 265.5h1.0v1.0h-1.0zM130.0 287.5h1.0v1.0h-1.0zM134.2 316.6h1.0v1.0h-1.0zM127.4 262.7h1.0v1.0h-1.0zM133.0 281.9h1.0v1.0h-1.0zM131.7 279.3h1.0v1.0h-1.0zM129.9 280.2h1.0v1.0h-1.0zM136.5 314.6h1.0v1.0h-1.0zM131.6 298.5h1.0v1.0h-1.0zM133.0 311.1h1.0v1.0h-1.0zM133.4 277.3h1.0v1.0h-1.0zM131.6 265.9h1.0v1.0h-1.0zM139.7 276.7h1.0v1.0h-1.0zM132.5 268.2h1.0v1.0h-1.0zM135.1 295.7h1.0v1.0h-1.0zM129.5 315.3h1.0v1.0h-1.0zM132.6 291.1h1.0v1.0h-1.0zM133.2 305.9h1.0v1.0h-1.0zM133.2 297.4h1.0v1.0h-1.0zM132.2 301.5h1.0v1.0h-1.0zM134.9 305.1h1.0v1.0h-1.0zM140.2 275.2h1.0v1.0h-1.0zM133.9 280.2h1.0v1.0h-1.0zM133.9 267.7h1.0v1.0h-1.0zM132.9 258.9h1.0v1.0h-1.0zM143.8 301.5h1.0v1.0h-1.0zM140.4 261.4h1.0v1.0h-1.0zM136.5 270.7h1.0v1.0h-1.0zM137.0 282.2h1.0v1.0h-1.0zM131.7 259.5h1.0v1.0h-1.0zM133.8 285.1h1.0v1.0h-1.0zM135.2 315.6h1.0v1.0h-1.0zM134.8 308.8h1.0v1.0h-1.0zM131.2 296.9h1.0v1.0h-1.0zM131.5 274.7h1.0v1.0h-1.0zM136.3 282.0h1.0v1.0h-1.0zM135.5 275.4h1.0v1.0h-1.0zM126.5 316.3h1.0v1.0h-1.0zM134.7 300.9h1.0v1.0h-1.0zM139.1 282.7h1.0v1.0h-1.0zM132.0 277.0h1.0v1.0h-1.0zM135.3 289.8h1.0v1.0h-1.0zM129.0 302.8h1.0v1.0h-1.0zM137.5 297.1h1.0v1.0h-1.0zM130.2 271.1h1.0v1.0h-1.0zM129.7 273.5h1.0v1.0h-1.0zM133.2 300.9h1.0v1.0h-1.0zM143.2 260.7h1.0v1.0h-1.0zM132.1 314.4h1.0v1.0h-1.0zM129.7 301.7h1.0v1.0h-1.0zM136.1 289.4h1.0v1.0h-1.0zM135.2 268.7h1.0v1.0h-1.0zM140.6 282.1h1.0v1.0h-1.0zM129.7 275.8h1.0v1.0h-1.0zM128.4 260.6h1.0v1.0h-1.0zM133.2 293.7h1.0v1.0h-1.0zM135.8 305.1h1.0v1.0h-1.0zM135.7 291.1h1.0v1.0h-1.0zM138.4 282.2h1.0v1.0h-1.0zM128.8 308.1h1.0v1.0h-1.0zM131.3 314.8h1.0v1.0h-1.0zM133.9 273.0h1.0v1.0h-1.0zM137.5 258.6h1.0v1.0h-1.0zM136.2 261.7h1.0v1.0h-1.0zM132.8 293.1h1.0v1.0h-1.0zM130.6 288.5h1.0v1.0h-1.0zM137.7 267.3h1.0v1.0h-1.0zM137.9 258.8h1.0v1.0h-1.0zM144.5 294.3h1.0v1.0h-1.0zM133.7 260.6h1.0v1.0h-1.0zM140.4 274.5h1.0v1.0h-1.0zM129.9 307.3h1.0v1.0h-1.0zM132.4 288.7h1.0v1.0h-1.0zM131.9 317.7h1.0v1.0h-1.0zM132.7 291.3h1.0v1.0h-1.0zM131.1 284.5h1.0v1.0h-1.0zM132.4 269.0h1.0v1.0h-1.0zM134.2 295.8h1.0v1.0h-1.0zM132.7 277.3h1.0v1.0h-1.0zM136.8 276.5h1.0v1.0h-1.0zM134.1 284.5h1.0v1.0h-1.0zM134.4 279.4h1.0v1.0h-1.0zM139.9 288.2h1.0v1.0h-1.0zM135.6 279.5h1.0v1.0h-1.0zM135.0 288.1h1.0v1.0h-1.0zM134.3 262.8h1.0v1.0h-1.0zM134.6 309.6h1.0v1.0h-1.0zM136.5 265.4h1.0v1.0h-1.0zM131.4 272.0h1.0v1.0h-1.0zM138.7 316.9h1.0v1.0h-1.0zM140.2 273.4h1.0v1.0h-1.0zM138.7 293.9h1.0v1.0h-1.0zM132.6 285.4h1.0v1.0h-1.0zM128.5 284.8h1.0v1.0h-1.0zM132.8 272.5h1.0v1.0h-1.0zM135.0 286.6h1.0v1.0h-1.0zM137.5 278.1h1.0v1.0h-1.0zM133.7 302.7h1.0v1.0h-1.0zM133.3 312.5h1.0v1.0h-1.0zM140.1 276.3h1.0v1.0h-1.0zM131.9 258.6h1.0v1.0h-1.0zM138.4 312.0h1.0v1.0h-1.0zM137.8 262.8h1.0v1.0h-1.0zM129.4 292.6h1.0v1.0h-1.0zM135.4 277.1h1.0v1.0h-1.0zM132.3 299.8h1.0v1.0h-1.0zM130.9 275.0h1.0v1.0h-1.0zM127.5 289.6h1.0v1.0h-1.0zM128.6 269.2h1.0v1.0h-1.0zM135.9 299.1h1.0v1.0h-1.0zM132.9 295.7h1.0v1.0h-1.0zM135.4 278.7h1.0v1.0h-1.0zM130.4 310.1h1.0v1.0h-1.0zM133.2 259.3h1.0v1.0h-1.0zM133.4 279.7h1.0v1.0h-1.0zM128.6 259.5h1.0v1.0h-1.0zM128.2 305.3h1.0v1.0h-1.0zM136.0 274.0h1.0v1.0h-1.0zM134.9 303.8h1.0v1.0h-1.0zM130.9 311.6h1.0v1.0h-1.0zM134.0 289.2h1.0v1.0h-1.0zM136.9 287.5h1.0v1.0h-1.0zM141.2 282.5h1.0v1.0h-1.0zM131.1 287.8h1.0v1.0h-1.0zM136.7 304.2h1.0v1.0h-1.0zM142.3 275.5h1.0v1.0h-1.0zM134.6 299.8h1.0v1.0h-1.0zM139.9 298.3h1.0v1.0h-1.0zM124.8 270.0h1.0v1.0h-1.0zM139.8 275.5h1.0v1.0h-1.0zM134.4 273.0h1.0v1.0h-1.0zM127.4 262.2h1.0v1.0h-1.0zM137.3 266.0h1.0v1.0h-1.0zM138.3 302.7h1.0v1.0h-1.0zM138.9 259.3h1.0v1.0h-1.0zM138.9 284.7h1.0v1.0h-1.0zM134.3 282.5h1.0v1.0h-1.0zM131.6 299.0h1.0v1.0h-1.0zM132.7 292.4h1.0v1.0h-1.0zM134.3 282.5h1.0v1.0h-1.0zM135.9 315.2h1.0v1.0h-1.0zM132.6 273.3h1.0v1.0h-1.0zM134.6 294.7h1.0v1.0h-1.0zM137.7 274.9h1.0v1.0h-1.0zM135.6 272.7h1.0v1.0h-1.0zM142.9 279.1h1.0v1.0h-1.0zM142.4 312.2h1.0v1.0h-1.0zM130.1 282.2h1.0v1.0h-1.0zM132.3 294.4h1.0v1.0h-1.0zM129.5 273.7h1.0v1.0h-1.0zM130.0 273.9h1.0v1.0h-1.0zM136.4 285.7h1.0v1.0h-1.0zM130.7 272.7h1.0v1.0h-1.0zM130.5 307.5h1.0v1.0h-1.0zM133.4 268.0h1.0v1.0h-1.0zM137.4 259.7h1.0v1.0h-1.0zM133.1 263.4h1.0v1.0h-1.0zM133.1 268.3h1.0v1.0h-1.0zM137.8 291.4h1.0v1.0h-1.0zM136.1 261.7h1.0v1.0h-1.0zM136.1 282.3h1.0v1.0h-1.0zM137.9 302.9h1.0v1.0h-1.0zM130.6 283.4h1.0v1.0h-1.0zM135.2 266.1h1.0v1.0h-1.0zM132.0 275.7h1.0v1.0h-1.0zM138.2 267.1h1.0v1.0h-1.0zM137.4 315.1h1.0v1.0h-1.0zM130.5 259.6h1.0v1.0h-1.0zM139.4 262.2h1.0v1.0h-1.0zM130.0 285.7h1.0v1.0h-1.0zM138.8 262.2h1.0v1.0h-1.0z" fill="#2a2a2a" fill-opacity="0.8"/>
<path d="M99.8 228.0h1.0v1.0h-1.0zM93.5 236.0h1.0v1.0h-1.0zM108.3 243.9h1.0v1.0h-1.0zM111.9 263.2h1.0v1.0h-1.0zM99.3 248.1h1.0v1.0h-1.0zM102.6 273.5h1.0v1.0h-1.0zM106.9 272.4h1.0v1.0h-1.0zM109.8 274.4h1.0v1.0h-1.0zM108.4 249.6h1.0v1.0h-1.0zM111.2 231.8h1.0v1.0h-1.0zM105.3 244.9h1.0v1.0h-1.0zM107.4 271.8h1.0v1.0h-1.0zM107.4 250.9h1.0v1.0h-1.0zM103.7 268.0h1.0v1.0h-1.0zM110.9 240.3h1.0v1.0h-1.0zM108.3 261.1h1.0v1.0h-1.0zM109.9 272.5h1.0v1.0h-1.0zM103.8 270.8h1.0v1.0h-1.0zM110.1 278.3h1.0v1.0h-1.0zM100.9 267.5h1.0v1.0h-1.0zM107.3 268.5h1.0v1.0h-1.0zM94.0 262.6h1.0v1.0h-1.0zM101.1 251.1h1.0v1.0h-1.0zM108.8 233.1h1.0v1.0h-1.0zM103.6 240.8h1.0v1.0h-1.0zM106.3 256.1h1.0v1.0h-1.0zM98.4 267.5h1.0v1.0h-1.0zM112.4 275.6h1.0v1.0h-1.0zM108.2 255.1h1.0v1.0h-1.0zM105.4 278.9h1.0v1.0h-1.0zM107.4 279.1h1.0v1.0h-1.0zM107.0 252.0h1.0v1.0h-1.0zM111.8 275.9h1.0v1.0h-1.0zM106.5 238.7h1.0v1.0h-1.0zM99.1 250.3h1.0v1.0h-1.0zM104.4 258.9h1.0v1.0h-1.0zM111.2 232.6h1.0v1.0h-1.0zM108.1 277.0h1.0v1.0h-1.0zM103.7 269.9h1.0v1.0h-1.0zM108.2 259.9h1.0v1.0h-1.0zM106.1 230.5h1.0v1.0h-1.0zM108.2 278.5h1.0v1.0h-1.0zM98.6 254.5h1.0v1.0h-1.0zM101.6 233.8h1.0v1.0h-1.0zM108.5 276.5h1.0v1.0h-1.0zM104.6 248.2h1.0v1.0h-1.0zM107.1 249.0h1.0v1.0h-1.0zM114.2 267.5h1.0v1.0h-1.0zM104.2 258.3h1.0v1.0h-1.0zM106.6 232.6h1.0v1.0h-1.0zM103.1 262.0h1.0v1.0h-1.0zM102.8 262.7h1.0v1.0h-1.0zM105.2 256.7h1.0v1.0h-1.0zM99.2 279.6h1.0v1.0h-1.0zM96.3 241.3h1.0v1.0h-1.0zM111.6 279.2h1.0v1.0h-1.0zM105.1 229.5h1.0v1.0h-1.0zM110.5 230.1h1.0v1.0h-1.0zM106.1 240.7h1.0v1.0h-1.0zM106.2 235.5h1.0v1.0h-1.0zM108.5 253.6h1.0v1.0h-1.0zM108.7 270.1h1.0v1.0h-1.0zM100.3 254.3h1.0v1.0h-1.0zM110.9 249.8h1.0v1.0h-1.0zM101.3 276.6h1.0v1.0h-1.0zM106.4 243.6h1.0v1.0h-1.0zM116.8 270.2h1.0v1.0h-1.0zM105.9 259.6h1.0v1.0h-1.0zM112.9 271.8h1.0v1.0h-1.0zM104.0 271.2h1.0v1.0h-1.0zM108.3 236.8h1.0v1.0h-1.0zM105.8 243.9h1.0v1.0h-1.0zM107.4 278.9h1.0v1.0h-1.0zM101.8 243.9h1.0v1.0h-1.0zM101.5 233.4h1.0v1.0h-1.0zM107.0 248.2h1.0v1.0h-1.0zM98.7 248.9h1.0v1.0h-1.0zM101.8 271.9h1.0v1.0h-1.0zM108.4 248.5h1.0v1.0h-1.0zM102.9 266.6h1.0v1.0h-1.0zM101.7 233.5h1.0v1.0h-1.0zM100.7 248.2h1.0v1.0h-1.0zM106.2 269.3h1.0v1.0h-1.0zM104.0 236.3h1.0v1.0h-1.0zM106.2 243.7h1.0v1.0h-1.0zM104.7 274.5h1.0v1.0h-1.0zM113.7 274.0h1.0v1.0h-1.0zM103.6 279.9h1.0v1.0h-1.0zM97.0 243.9h1.0v1.0h-1.0zM106.1 278.3h1.0v1.0h-1.0zM105.6 271.5h1.0v1.0h-1.0zM106.2 246.1h1.0v1.0h-1.0zM98.5 270.1h1.0v1.0h-1.0zM110.5 271.0h1.0v1.0h-1.0zM105.4 278.8h1.0v1.0h-1.0zM105.4 279.2h1.0v1.0h-1.0zM98.6 256.2h1.0v1.0h-1.0zM107.6 276.7h1.0v1.0h-1.0zM105.3 230.6h1.0v1.0h-1.0zM111.5 279.7h1.0v1.0h-1.0zM103.7 269.6h1.0v1.0h-1.0zM100.1 275.1h1.0v1.0h-1.0zM106.1 235.2h1.0v1.0h-1.0zM101.6 245.2h1.0v1.0h-1.0zM107.4 277.6h1.0v1.0h-1.0zM100.8 279.1h1.0v1.0h-1.0zM105.0 278.4h1.0v1.0h-1.0zM104.6 245.9h1.0v1.0h-1.0zM105.4 245.4h1.0v1.0h-1.0zM103.3 252.6h1.0v1.0h-1.0zM102.0 260.9h1.0v1.0h-1.0zM105.3 262.3h1.0v1.0h-1.0zM103.0 254.8h1.0v1.0h-1.0zM106.2 277.7h1.0v1.0h-1.0zM104.4 242.3h1.0v1.0h-1.0zM95.7 243.4h1.0v1.0h-1.0zM105.3 249.6h1.0v1.0h-1.0zM111.6 273.1h1.0v1.0h-1.0zM106.9 274.0h1.0v1.0h-1.0zM108.2 229.4h1.0v1.0h-1.0zM107.6 231.7h1.0v1.0h-1.0zM103.5 245.4h1.0v1.0h-1.0zM99.7 242.9h1.0v1.0h-1.0zM109.1 262.6h1.0v1.0h-1.0zM110.2 236.7h1.0v1.0h-1.0zM108.0 249.0h1.0v1.0h-1.0zM107.4 263.6h1.0v1.0h-1.0zM107.3 249.6h1.0v1.0h-1.0zM105.4 278.5h1.0v1.0h-1.0zM106.8 265.9h1.0v1.0h-1.0zM105.6 239.0h1.0v1.0h-1.0zM107.0 261.4h1.0v1.0h-1.0zM101.4 257.1h1.0v1.0h-1.0zM102.8 256.9h1.0v1.0h-1.0zM108.0 232.1h1.0v1.0h-1.0zM104.1 274.5h1.0v1.0h-1.0zM95.0 249.6h1.0v1.0h-1.0zM106.1 263.0h1.0v1.0h-1.0zM95.6 273.1h1.0v1.0h-1.0zM113.9 279.2h1.0v1.0h-1.0zM108.7 253.9h1.0v1.0h-1.0zM108.5 275.2h1.0v1.0h-1.0zM102.7 255.6h1.0v1.0h-1.0zM100.7 264.1h1.0v1.0h-1.0zM104.6 265.3h1.0v1.0h-1.0zM105.7 236.0h1.0v1.0h-1.0zM102.2 278.2h1.0v1.0h-1.0zM106.3 256.8h1.0v1.0h-1.0zM108.6 264.8h1.0v1.0h-1.0zM108.2 276.3h1.0v1.0h-1.0zM101.1 265.8h1.0v1.0h-1.0zM96.2 237.4h1.0v1.0h-1.0zM105.6 274.6h1.0v1.0h-1.0zM102.7 249.7h1.0v1.0h-1.0zM107.5 271.8h1.0v1.0h-1.0zM112.7 259.2h1.0v1.0h-1.0zM112.7 257.4h1.0v1.0h-1.0zM106.8 278.7h1.0v1.0h-1.0zM110.4 241.4h1.0v1.0h-1.0zM112.7 266.7h1.0v1.0h-1.0zM105.8 274.2h1.0v1.0h-1.0zM106.8 274.2h1.0v1.0h-1.0zM109.3 229.1h1.0v1.0h-1.0zM105.4 232.1h1.0v1.0h-1.0zM103.5 262.0h1.0v1.0h-1.0zM102.4 271.7h1.0v1.0h-1.0zM105.6 247.9h1.0v1.0h-1.0zM102.9 279.2h1.0v1.0h-1.0zM109.1 238.0h1.0v1.0h-1.0zM104.2 280.0h1.0v1.0h-1.0zM111.9 279.2h1.0v1.0h-1.0zM110.8 268.8h1.0v1.0h-1.0zM100.3 262.7h1.0v1.0h-1.0zM110.3 280.0h1.0v1.0h-1.0zM103.9 271.0h1.0v1.0h-1.0zM111.5 229.2h1.0v1.0h-1.0zM107.8 243.7h1.0v1.0h-1.0zM105.4 279.0h1.0v1.0h-1.0zM108.5 236.7h1.0v1.0h-1.0zM103.2 262.2h1.0v1.0h-1.0zM107.1 228.8h1.0v1.0h-1.0zM107.3 269.4h1.0v1.0h-1.0zM105.0 269.9h1.0v1.0h-1.0zM107.3 249.7h1.0v1.0h-1.0zM101.4 261.0h1.0v1.0h-1.0zM108.1 271.4h1.0v1.0h-1.0zM100.5 258.9h1.0v1.0h-1.0zM108.3 252.3h1.0v1.0h-1.0zM107.7 269.8h1.0v1.0h-1.0zM108.7 240.3h1.0v1.0h-1.0zM103.3 245.3h1.0v1.0h-1.0zM118.7 245.0h1.0v1.0h-1.0zM104.7 250.9h1.0v1.0h-1.0zM106.3 273.4h1.0v1.0h-1.0zM102.5 248.1h1.0v1.0h-1.0zM111.8 275.5h1.0v1.0h-1.0zM103.7 276.6h1.0v1.0h-1.0zM110.0 260.1h1.0v1.0h-1.0zM101.7 275.6h1.0v1.0h-1.0zM107.0 277.1h1.0v1.0h-1.0z" fill="#444" fill-opacity="0.7"/>
<path d="M119.6 317.2h1.0v1.0h-1.0zM125.3 317.0h1.0v1.0h-1.0zM119.6 305.4h1.0v1.0h-1.0zM122.4 287.8h1.0v1.0h-1.0zM119.3 298.7h1.0v1.0h-1.0zM113.2 279.5h1.0v1.0h-1.0zM120.2 299.8h1.0v1.0h-1.0zM120.3 288.8h1.0v1.0h-1.0zM120.3 298.5h1.0v1.0h-1.0zM116.2 307.5h1.0v1.0h-1.0zM115.7 278.5h1.0v1.0h-1.0zM116.6 312.8h1.0v1.0h-1.0zM112.4 277.6h1.0v1.0h-1.0zM114.3 296.6h1.0v1.0h-1.0zM116.0 285.2h1.0v1.0h-1.0zM119.2 277.6h1.0v1.0h-1.0zM124.8 296.1h1.0v1.0h-1.0zM121.8 287.0h1.0v1.0h-1.0zM119.2 279.4h1.0v1.0h-1.0zM122.0 310.6h1.0v1.0h-1.0zM118.2 286.3h1.0v1.0h-1.0zM112.7 315.4h1.0v1.0h-1.0zM121.6 301.6h1.0v1.0h-1.0zM121.9 290.9h1.0v1.0h-1.0zM121.2 278.5h1.0v1.0h-1.0zM123.9 311.9h1.0v1.0h-1.0zM122.9 280.6h1.0v1.0h-1.0zM123.6 308.6h1.0v1.0h-1.0zM112.6 298.2h1.0v1.0h-1.0zM126.0 295.1h1.0v1.0h-1.0zM120.2 279.4h1.0v1.0h-1.0zM120.3 293.7h1.0v1.0h-1.0zM120.6 276.7h1.0v1.0h-1.0zM115.8 308.1h1.0v1.0h-1.0zM116.2 305.7h1.0v1.0h-1.0zM124.3 281.7h1.0v1.0h-1.0zM120.4 297.4h1.0v1.0h-1.0zM125.4 283.5h1.0v1.0h-1.0zM114.9 305.9h1.0v1.0h-1.0zM120.2 283.9h1.0v1.0h-1.0zM120.4 283.3h1.0v1.0h-1.0zM112.5 287.9h1.0v1.0h-1.0zM120.8 316.8h1.0v1.0h-1.0zM117.4 310.4h1.0v1.0h-1.0zM118.0 292.9h1.0v1.0h-1.0zM114.6 309.4h1.0v1.0h-1.0zM120.3 291.2h1.0v1.0h-1.0zM121.4 283.9h1.0v1.0h-1.0zM124.5 313.7h1.0v1.0h-1.0zM123.8 277.5h1.0v1.0h-1.0z" fill="#444" fill-opacity="0.6"/>
<path d="M174.6 235.6h1.0v1.0h-1.0zM180.6 248.1h1.0v1.0h-1.0zM149.0 262.4h1.0v1.0h-1.0zM176.9 253.0h1.0v1.0h-1.0zM174.1 237.3h1.0v1.0h-1.0zM147.5 264.2h1.0v1.0h-1.0zM162.0 266.9h1.0v1.0h-1.0zM155.4 250.2h1.0v1.0h-1.0zM159.8 246.4h1.0v1.0h-1.0zM159.7 232.7h1.0v1.0h-1.0zM160.2 234.8h1.0v1.0h-1.0zM146.4 247.0h1.0v1.0h-1.0zM155.8 236.5h1.0v1.0h-1.0zM156.4 270.8h1.0v1.0h-1.0zM169.4 257.8h1.0v1.0h-1.0zM171.1 244.5h1.0v1.0h-1.0zM173.0 255.4h1.0v1.0h-1.0zM168.9 238.7h1.0v1.0h-1.0zM178.2 268.7h1.0v1.0h-1.0zM166.0 252.0h1.0v1.0h-1.0zM157.3 260.0h1.0v1.0h-1.0zM147.4 239.3h1.0v1.0h-1.0zM172.2 251.0h1.0v1.0h-1.0zM166.2 260.6h1.0v1.0h-1.0zM151.9 247.5h1.0v1.0h-1.0zM164.4 234.6h1.0v1.0h-1.0zM180.0 250.8h1.0v1.0h-1.0zM167.8 265.0h1.0v1.0h-1.0zM157.1 250.5h1.0v1.0h-1.0zM175.0 271.2h1.0v1.0h-1.0zM160.2 254.4h1.0v1.0h-1.0zM146.5 267.3h1.0v1.0h-1.0zM148.9 233.3h1.0v1.0h-1.0zM180.6 257.3h1.0v1.0h-1.0zM149.4 252.4h1.0v1.0h-1.0zM174.2 246.3h1.0v1.0h-1.0zM147.1 268.1h1.0v1.0h-1.0zM161.3 235.7h1.0v1.0h-1.0zM156.2 251.4h1.0v1.0h-1.0zM158.4 244.3h1.0v1.0h-1.0z" fill="#555" fill-opacity="0.55"/>
<path d="M94.9 293.6h1.0v1.0h-1.0zM96.0 297.4h1.0v1.0h-1.0zM103.6 299.3h1.0v1.0h-1.0zM97.8 289.3h1.0v1.0h-1.0zM106.2 296.0h1.0v1.0h-1.0zM114.4 289.3h1.0v1.0h-1.0zM105.9 297.5h1.0v1.0h-1.0zM96.9 310.0h1.0v1.0h-1.0zM102.0 288.4h1.0v1.0h-1.0zM99.4 306.7h1.0v1.0h-1.0zM94.1 310.2h1.0v1.0h-1.0zM105.3 294.3h1.0v1.0h-1.0zM109.2 313.7h1.0v1.0h-1.0zM104.8 298.6h1.0v1.0h-1.0zM112.1 311.3h1.0v1.0h-1.0zM95.9 295.0h1.0v1.0h-1.0zM100.0 293.1h1.0v1.0h-1.0zM92.5 305.7h1.0v1.0h-1.0zM101.8 297.9h1.0v1.0h-1.0zM109.5 291.6h1.0v1.0h-1.0zM101.0 299.6h1.0v1.0h-1.0zM98.8 295.9h1.0v1.0h-1.0zM105.8 296.9h1.0v1.0h-1.0zM109.1 289.8h1.0v1.0h-1.0zM102.5 283.3h1.0v1.0h-1.0zM100.6 290.2h1.0v1.0h-1.0zM109.3 304.2h1.0v1.0h-1.0zM104.3 314.8h1.0v1.0h-1.0zM109.8 303.9h1.0v1.0h-1.0zM97.2 283.1h1.0v1.0h-1.0zM101.1 293.6h1.0v1.0h-1.0zM97.5 294.2h1.0v1.0h-1.0zM91.6 311.4h1.0v1.0h-1.0zM94.6 290.5h1.0v1.0h-1.0zM104.7 281.3h1.0v1.0h-1.0zM106.7 306.1h1.0v1.0h-1.0zM99.5 286.6h1.0v1.0h-1.0zM98.5 279.1h1.0v1.0h-1.0zM109.5 297.5h1.0v1.0h-1.0zM97.0 288.2h1.0v1.0h-1.0zM104.7 311.5h1.0v1.0h-1.0zM93.8 291.4h1.0v1.0h-1.0zM90.9 303.5h1.0v1.0h-1.0zM100.6 292.8h1.0v1.0h-1.0zM97.1 305.3h1.0v1.0h-1.0zM91.7 304.3h1.0v1.0h-1.0zM102.8 292.1h1.0v1.0h-1.0zM96.0 307.2h1.0v1.0h-1.0zM112.3 292.7h1.0v1.0h-1.0zM104.4 313.9h1.0v1.0h-1.0zM97.6 294.6h1.0v1.0h-1.0zM94.1 295.6h1.0v1.0h-1.0zM100.8 292.9h1.0v1.0h-1.0zM96.9 281.6h1.0v1.0h-1.0zM93.3 287.5h1.0v1.0h-1.0zM105.1 292.0h1.0v1.0h-1.0zM96.2 303.4h1.0v1.0h-1.0zM104.6 289.7h1.0v1.0h-1.0zM97.6 303.4h1.0v1.0h-1.0zM103.5 288.9h1.0v1.0h-1.0zM102.7 296.7h1.0v1.0h-1.0zM107.9 288.5h1.0v1.0h-1.0zM106.6 301.2h1.0v1.0h-1.0zM95.3 307.3h1.0v1.0h-1.0zM106.7 284.1h1.0v1.0h-1.0zM113.1 285.8h1.0v1.0h-1.0zM95.8 293.8h1.0v1.0h-1.0zM105.9 302.7h1.0v1.0h-1.0zM100.7 310.4h1.0v1.0h-1.0zM103.7 310.7h1.0v1.0h-1.0zM118.1 298.9h1.0v1.0h-1.0zM94.9 297.9h1.0v1.0h-1.0zM101.9 284.9h1.0v1.0h-1.0zM94.4 294.4h1.0v1.0h-1.0zM100.1 271.4h1.0v1.0h-1.0zM107.1 297.3h1.0v1.0h-1.0zM101.2 299.9h1.0v1.0h-1.0zM95.1 296.5h1.0v1.0h-1.0zM107.6 307.6h1.0v1.0h-1.0zM104.1 294.2h1.0v1.0h-1.0zM96.3 310.1h1.0v1.0h-1.0zM104.5 292.8h1.0v1.0h-1.0zM88.2 288.4h1.0v1.0h-1.0zM89.6 309.4h1.0v1.0h-1.0zM102.4 289.6h1.0v1.0h-1.0zM108.7 283.6h1.0v1.0h-1.0zM100.5 284.7h1.0v1.0h-1.0zM90.8 298.7h1.0v1.0h-1.0zM116.0 312.6h1.0v1.0h-1.0zM101.6 293.2h1.0v1.0h-1.0zM102.5 307.4h1.0v1.0h-1.0zM92.4 278.2h1.0v1.0h-1.0zM112.8 299.8h1.0v1.0h-1.0zM111.2 299.4h1.0v1.0h-1.0zM110.4 290.8h1.0v1.0h-1.0zM104.4 312.6h1.0v1.0h-1.0zM107.6 292.4h1.0v1.0h-1.0zM106.8 290.3h1.0v1.0h-1.0zM92.5 302.3h1.0v1.0h-1.0zM109.9 305.6h1.0v1.0h-1.0zM93.5 305.8h1.0v1.0h-1.0zM105.5 292.3h1.0v1.0h-1.0zM106.8 302.0h1.0v1.0h-1.0zM90.6 281.9h1.0v1.0h-1.0zM107.6 305.2h1.0v1.0h-1.0zM104.4 294.5h1.0v1.0h-1.0zM103.7 291.5h1.0v1.0h-1.0zM99.4 288.2h1.0v1.0h-1.0zM102.9 292.7h1.0v1.0h-1.0zM107.2 304.3h1.0v1.0h-1.0zM96.3 315.7h1.0v1.0h-1.0zM94.3 301.6h1.0v1.0h-1.0zM108.0 310.1h1.0v1.0h-1.0zM108.9 311.7h1.0v1.0h-1.0zM100.7 292.4h1.0v1.0h-1.0zM109.7 290.1h1.0v1.0h-1.0zM109.0 302.7h1.0v1.0h-1.0zM92.2 286.9h1.0v1.0h-1.0zM98.4 298.0h1.0v1.0h-1.0zM107.5 295.1h1.0v1.0h-1.0zM107.0 280.9h1.0v1.0h-1.0zM104.2 293.3h1.0v1.0h-1.0zM95.0 301.3h1.0v1.0h-1.0zM113.4 295.9h1.0v1.0h-1.0zM96.8 288.3h1.0v1.0h-1.0zM113.6 296.6h1.0v1.0h-1.0zM105.1 309.5h1.0v1.0h-1.0zM108.0 287.5h1.0v1.0h-1.0zM107.3 305.6h1.0v1.0h-1.0zM104.4 307.3h1.0v1.0h-1.0zM97.8 296.2h1.0v1.0h-1.0zM98.0 304.8h1.0v1.0h-1.0zM97.2 301.0h1.0v1.0h-1.0zM94.5 295.7h1.0v1.0h-1.0zM99.0 295.8h1.0v1.0h-1.0zM102.1 295.1h1.0v1.0h-1.0zM99.9 275.8h1.0v1.0h-1.0zM108.2 290.6h1.0v1.0h-1.0zM99.8 288.5h1.0v1.0h-1.0zM107.5 287.7h1.0v1.0h-1.0zM104.5 309.1h1.0v1.0h-1.0zM111.6 309.2h1.0v1.0h-1.0zM105.2 284.7h1.0v1.0h-1.0zM109.4 309.2h1.0v1.0h-1.0zM106.5 305.2h1.0v1.0h-1.0zM101.8 291.8h1.0v1.0h-1.0zM108.1 310.1h1.0v1.0h-1.0zM94.8 306.4h1.0v1.0h-1.0zM102.9 306.1h1.0v1.0h-1.0zM103.1 308.5h1.0v1.0h-1.0zM107.7 306.2h1.0v1.0h-1.0zM92.8 305.5h1.0v1.0h-1.0zM101.7 285.6h1.0v1.0h-1.0zM105.8 283.2h1.0v1.0h-1.0zM107.0 314.4h1.0v1.0h-1.0zM98.3 306.5h1.0v1.0h-1.0zM104.2 303.8h1.0v1.0h-1.0zM93.0 303.4h1.0v1.0h-1.0zM102.3 304.7h1.0v1.0h-1.0zM101.5 308.4h1.0v1.0h-1.0zM103.1 304.1h1.0v1.0h-1.0zM109.9 299.1h1.0v1.0h-1.0zM107.6 299.6h1.0v1.0h-1.0zM104.7 291.9h1.0v1.0h-1.0zM106.3 309.7h1.0v1.0h-1.0zM101.0 305.3h1.0v1.0h-1.0zM104.1 286.1h1.0v1.0h-1.0zM103.7 310.7h1.0v1.0h-1.0zM98.5 279.3h1.0v1.0h-1.0zM102.8 290.8h1.0v1.0h-1.0zM113.2 296.9h1.0v1.0h-1.0zM101.5 291.0h1.0v1.0h-1.0zM103.0 291.6h1.0v1.0h-1.0zM96.0 296.7h1.0v1.0h-1.0zM96.5 310.6h1.0v1.0h-1.0zM94.3 296.6h1.0v1.0h-1.0zM97.3 283.4h1.0v1.0h-1.0zM111.7 276.2h1.0v1.0h-1.0zM110.4 283.1h1.0v1.0h-1.0zM88.5 283.6h1.0v1.0h-1.0zM109.6 299.1h1.0v1.0h-1.0zM98.2 297.0h1.0v1.0h-1.0zM95.6 298.6h1.0v1.0h-1.0zM110.7 293.5h1.0v1.0h-1.0zM102.4 309.5h1.0v1.0h-1.0zM113.7 291.5h1.0v1.0h-1.0zM103.4 291.7h1.0v1.0h-1.0zM97.6 293.3h1.0v1.0h-1.0zM97.6 280.0h1.0v1.0h-1.0zM89.3 290.0h1.0v1.0h-1.0zM102.3 309.6h1.0v1.0h-1.0zM98.3 295.7h1.0v1.0h-1.0zM105.6 304.8h1.0v1.0h-1.0zM100.8 296.8h1.0v1.0h-1.0zM113.0 294.0h1.0v1.0h-1.0zM98.5 281.0h1.0v1.0h-1.0zM104.2 294.7h1.0v1.0h-1.0zM113.2 294.0h1.0v1.0h-1.0zM106.5 306.7h1.0v1.0h-1.0zM111.6 284.2h1.0v1.0h-1.0zM111.1 297.5h1.0v1.0h-1.0zM100.9 294.2h1.0v1.0h-1.0zM99.1 293.9h1.0v1.0h-1.0zM101.9 287.8h1.0v1.0h-1.0zM103.8 293.5h1.0v1.0h-1.0zM112.0 289.4h1.0v1.0h-1.0zM100.6 291.8h1.0v1.0h-1.0zM100.1 304.7h1.0v1.0h-1.0zM105.1 290.0h1.0v1.0h-1.0zM100.7 298.2h1.0v1.0h-1.0zM99.0 297.0h1.0v1.0h-1.0zM97.1 290.0h1.0v1.0h-1.0zM101.8 287.0h1.0v1.0h-1.0zM104.1 295.4h1.0v1.0h-1.0zM95.9 291.2h1.0v1.0h-1.0zM98.6 295.7h1.0v1.0h-1.0zM102.2 295.2h1.0v1.0h-1.0zM96.2 311.6h1.0v1.0h-1.0zM107.0 298.4h1.0v1.0h-1.0zM107.3 300.6h1.0v1.0h-1.0zM99.9 298.2h1.0v1.0h-1.0zM117.7 307.2h1.0v1.0h-1.0zM107.8 293.4h1.0v1.0h-1.0zM104.1 308.0h1.0v1.0h-1.0zM109.1 303.7h1.0v1.0h-1.0zM111.0 299.6h1.0v1.0h-1.0zM104.5 291.1h1.0v1.0h-1.0zM117.5 300.3h1.0v1.0h-1.0zM102.2 311.1h1.0v1.0h-1.0zM98.5 297.2h1.0v1.0h-1.0zM96.7 297.5h1.0v1.0h-1.0zM99.1 302.7h1.0v1.0h-1.0zM100.7 291.3h1.0v1.0h-1.0zM99.7 296.1h1.0v1.0h-1.0zM98.4 306.6h1.0v1.0h-1.0zM105.5 298.7h1.0v1.0h-1.0zM94.3 302.4h1.0v1.0h-1.0zM93.7 299.1h1.0v1.0h-1.0zM101.8 291.4h1.0v1.0h-1.0zM96.5 290.4h1.0v1.0h-1.0zM113.9 294.6h1.0v1.0h-1.0zM100.2 306.8h1.0v1.0h-1.0zM104.0 307.8h1.0v1.0h-1.0zM94.1 286.5h1.0v1.0h-1.0zM121.6 296.9h1.0v1.0h-1.0zM99.7 298.9h1.0v1.0h-1.0zM107.4 285.5h1.0v1.0h-1.0zM103.2 297.0h1.0v1.0h-1.0zM105.5 299.0h1.0v1.0h-1.0zM98.3 288.7h1.0v1.0h-1.0zM92.6 293.3h1.0v1.0h-1.0zM111.5 293.1h1.0v1.0h-1.0zM105.1 295.2h1.0v1.0h-1.0zM105.7 297.6h1.0v1.0h-1.0zM98.4 310.6h1.0v1.0h-1.0zM99.9 284.1h1.0v1.0h-1.0zM99.5 302.6h1.0v1.0h-1.0zM94.8 305.0h1.0v1.0h-1.0zM97.6 303.8h1.0v1.0h-1.0zM91.4 293.1h1.0v1.0h-1.0zM102.1 301.3h1.0v1.0h-1.0zM101.1 296.4h1.0v1.0h-1.0zM97.8 292.9h1.0v1.0h-1.0zM103.3 302.8h1.0v1.0h-1.0zM105.3 307.1h1.0v1.0h-1.0zM108.6 279.5h1.0v1.0h-1.0zM98.3 295.7h1.0v1.0h-1.0zM97.6 307.6h1.0v1.0h-1.0zM106.0 296.2h1.0v1.0h-1.0zM102.2 309.7h1.0v1.0h-1.0zM99.4 294.2h1.0v1.0h-1.0zM106.9 301.9h1.0v1.0h-1.0zM110.0 300.9h1.0v1.0h-1.0zM105.9 291.9h1.0v1.0h-1.0zM95.8 297.2h1.0v1.0h-1.0zM107.3 298.0h1.0v1.0h-1.0zM100.1 307.9h1.0v1.0h-1.0zM101.2 306.9h1.0v1.0h-1.0zM114.6 304.4h1.0v1.0h-1.0zM107.1 302.1h1.0v1.0h-1.0zM103.0 300.0h1.0v1.0h-1.0zM101.9 307.9h1.0v1.0h-1.0zM91.8 294.6h1.0v1.0h-1.0zM105.4 289.0h1.0v1.0h-1.0zM100.8 290.5h1.0v1.0h-1.0zM104.1 305.7h1.0v1.0h-1.0zM110.2 302.2h1.0v1.0h-1.0zM97.2 299.7h1.0v1.0h-1.0zM104.9 311.1h1.0v1.0h-1.0zM88.6 300.9h1.0v1.0h-1.0zM90.5 304.3h1.0v1.0h-1.0zM104.1 302.2h1.0v1.0h-1.0zM106.8 301.0h1.0v1.0h-1.0zM97.6 300.7h1.0v1.0h-1.0zM108.6 296.1h1.0v1.0h-1.0zM101.6 285.4h1.0v1.0h-1.0zM108.4 292.3h1.0v1.0h-1.0zM97.0 292.9h1.0v1.0h-1.0zM96.3 294.8h1.0v1.0h-1.0zM109.1 305.0h1.0v1.0h-1.0zM110.0 311.8h1.0v1.0h-1.0zM96.1 302.0h1.0v1.0h-1.0zM93.0 283.3h1.0v1.0h-1.0zM104.3 294.0h1.0v1.0h-1.0zM95.5 301.0h1.0v1.0h-1.0zM96.8 275.1h1.0v1.0h-1.0zM101.3 298.5h1.0v1.0h-1.0zM105.3 306.5h1.0v1.0h-1.0zM102.5 294.9h1.0v1.0h-1.0zM97.5 281.1h1.0v1.0h-1.0zM98.8 307.0h1.0v1.0h-1.0zM105.3 317.3h1.0v1.0h-1.0zM100.5 279.8h1.0v1.0h-1.0zM106.4 307.4h1.0v1.0h-1.0zM94.5 281.4h1.0v1.0h-1.0zM102.3 304.2h1.0v1.0h-1.0zM94.7 293.9h1.0v1.0h-1.0zM96.8 285.6h1.0v1.0h-1.0zM93.6 298.6h1.0v1.0h-1.0zM99.2 290.6h1.0v1.0h-1.0zM95.8 295.8h1.0v1.0h-1.0zM94.6 300.9h1.0v1.0h-1.0zM92.4 298.1h1.0v1.0h-1.0zM100.3 306.2h1.0v1.0h-1.0zM94.9 290.8h1.0v1.0h-1.0zM100.0 317.6h1.0v1.0h-1.0zM92.6 300.0h1.0v1.0h-1.0zM97.5 300.2h1.0v1.0h-1.0zM105.3 298.5h1.0v1.0h-1.0zM102.9 299.9h1.0v1.0h-1.0zM97.9 295.0h1.0v1.0h-1.0zM91.5 293.6h1.0v1.0h-1.0zM96.8 294.6h1.0v1.0h-1.0zM105.8 300.8h1.0v1.0h-1.0zM104.2 307.9h1.0v1.0h-1.0zM101.2 296.1h1.0v1.0h-1.0zM93.6 302.5h1.0v1.0h-1.0zM108.2 307.1h1.0v1.0h-1.0zM100.8 303.3h1.0v1.0h-1.0zM106.8 314.9h1.0v1.0h-1.0zM108.7 298.5h1.0v1.0h-1.0zM101.9 298.7h1.0v1.0h-1.0zM102.7 292.2h1.0v1.0h-1.0zM105.9 290.3h1.0v1.0h-1.0zM96.6 300.5h1.0v1.0h-1.0zM97.9 294.7h1.0v1.0h-1.0zM88.9 304.8h1.0v1.0h-1.0zM101.3 295.8h1.0v1.0h-1.0zM104.1 299.1h1.0v1.0h-1.0zM97.2 316.6h1.0v1.0h-1.0zM98.6 306.6h1.0v1.0h-1.0zM112.2 291.0h1.0v1.0h-1.0zM101.9 289.0h1.0v1.0h-1.0zM107.6 293.8h1.0v1.0h-1.0zM94.8 309.9h1.0v1.0h-1.0zM106.8 288.3h1.0v1.0h-1.0zM108.4 298.9h1.0v1.0h-1.0zM117.5 313.8h1.0v1.0h-1.0zM98.0 294.4h1.0v1.0h-1.0zM96.1 298.3h1.0v1.0h-1.0zM101.6 304.2h1.0v1.0h-1.0zM101.8 282.6h1.0v1.0h-1.0zM96.5 310.8h1.0v1.0h-1.0zM108.2 295.4h1.0v1.0h-1.0zM100.5 295.4h1.0v1.0h-1.0zM101.4 280.6h1.0v1.0h-1.0zM106.6 290.6h1.0v1.0h-1.0zM102.2 272.3h1.0v1.0h-1.0zM102.7 310.1h1.0v1.0h-1.0zM104.1 289.8h1.0v1.0h-1.0zM91.8 308.4h1.0v1.0h-1.0zM102.9 302.8h1.0v1.0h-1.0zM99.7 289.2h1.0v1.0h-1.0zM106.5 287.7h1.0v1.0h-1.0zM106.7 280.6h1.0v1.0h-1.0zM95.8 282.8h1.0v1.0h-1.0zM109.1 279.9h1.0v1.0h-1.0zM94.5 303.5h1.0v1.0h-1.0zM112.3 303.0h1.0v1.0h-1.0zM105.4 279.1h1.0v1.0h-1.0zM96.0 293.8h1.0v1.0h-1.0zM100.2 283.5h1.0v1.0h-1.0zM95.7 288.7h1.0v1.0h-1.0zM107.6 301.2h1.0v1.0h-1.0zM99.3 294.3h1.0v1.0h-1.0zM103.0 290.2h1.0v1.0h-1.0zM99.7 280.1h1.0v1.0h-1.0zM105.3 306.4h1.0v1.0h-1.0zM103.5 301.7h1.0v1.0h-1.0zM103.5 317.0h1.0v1.0h-1.0zM102.5 284.0h1.0v1.0h-1.0zM95.0 304.0h1.0v1.0h-1.0zM107.7 304.6h1.0v1.0h-1.0zM106.3 298.8h1.0v1.0h-1.0zM92.4 290.0h1.0v1.0h-1.0zM90.5 293.2h1.0v1.0h-1.0zM93.1 297.9h1.0v1.0h-1.0zM100.3 277.8h1.0v1.0h-1.0zM105.7 304.4h1.0v1.0h-1.0zM93.0 298.4h1.0v1.0h-1.0zM105.6 294.1h1.0v1.0h-1.0zM106.4 298.8h1.0v1.0h-1.0zM107.7 298.8h1.0v1.0h-1.0zM100.3 302.0h1.0v1.0h-1.0zM106.0 299.4h1.0v1.0h-1.0zM98.6 289.1h1.0v1.0h-1.0zM99.0 291.3h1.0v1.0h-1.0zM102.5 298.6h1.0v1.0h-1.0zM100.7 296.9h1.0v1.0h-1.0zM102.3 312.3h1.0v1.0h-1.0zM108.5 291.2h1.0v1.0h-1.0zM103.8 293.6h1.0v1.0h-1.0zM100.6 294.5h1.0v1.0h-1.0zM97.5 283.4h1.0v1.0h-1.0zM108.3 287.9h1.0v1.0h-1.0zM104.2 293.0h1.0v1.0h-1.0zM102.9 288.9h1.0v1.0h-1.0zM99.8 295.7h1.0v1.0h-1.0zM100.4 272.3h1.0v1.0h-1.0zM105.1 296.5h1.0v1.0h-1.0zM102.4 300.4h1.0v1.0h-1.0zM98.7 286.1h1.0v1.0h-1.0zM98.5 292.6h1.0v1.0h-1.0zM114.6 315.0h1.0v1.0h-1.0zM98.2 292.7h1.0v1.0h-1.0zM103.1 302.4h1.0v1.0h-1.0zM97.0 286.8h1.0v1.0h-1.0zM112.8 307.2h1.0v1.0h-1.0zM91.7 279.2h1.0v1.0h-1.0zM96.1 298.9h1.0v1.0h-1.0zM104.5 293.3h1.0v1.0h-1.0zM91.4 298.9h1.0v1.0h-1.0zM104.8 296.7h1.0v1.0h-1.0zM98.1 302.4h1.0v1.0h-1.0zM100.8 285.6h1.0v1.0h-1.0zM101.7 283.8h1.0v1.0h-1.0zM107.0 301.4h1.0v1.0h-1.0zM95.1 298.8h1.0v1.0h-1.0zM108.7 275.3h1.0v1.0h-1.0zM100.3 313.1h1.0v1.0h-1.0zM91.7 295.0h1.0v1.0h-1.0zM92.4 296.0h1.0v1.0h-1.0zM97.8 298.1h1.0v1.0h-1.0zM103.4 300.9h1.0v1.0h-1.0zM108.1 303.7h1.0v1.0h-1.0zM105.6 286.9h1.0v1.0h-1.0zM115.0 305.0h1.0v1.0h-1.0zM105.6 306.6h1.0v1.0h-1.0zM98.6 316.3h1.0v1.0h-1.0zM98.8 295.9h1.0v1.0h-1.0zM114.4 275.8h1.0v1.0h-1.0zM103.3 279.4h1.0v1.0h-1.0zM97.1 295.8h1.0v1.0h-1.0zM99.0 298.4h1.0v1.0h-1.0zM96.4 295.7h1.0v1.0h-1.0zM93.8 292.8h1.0v1.0h-1.0zM92.6 303.3h1.0v1.0h-1.0zM93.2 303.7h1.0v1.0h-1.0zM98.6 293.6h1.0v1.0h-1.0zM108.4 297.8h1.0v1.0h-1.0zM89.4 301.7h1.0v1.0h-1.0zM98.6 282.5h1.0v1.0h-1.0zM101.6 293.6h1.0v1.0h-1.0zM113.5 292.3h1.0v1.0h-1.0zM113.1 310.7h1.0v1.0h-1.0zM97.3 288.4h1.0v1.0h-1.0zM109.3 295.3h1.0v1.0h-1.0zM102.1 294.1h1.0v1.0h-1.0zM93.6 292.9h1.0v1.0h-1.0zM95.2 281.1h1.0v1.0h-1.0zM99.3 314.8h1.0v1.0h-1.0zM111.1 296.1h1.0v1.0h-1.0zM102.0 301.9h1.0v1.0h-1.0zM109.5 299.9h1.0v1.0h-1.0zM98.2 292.7h1.0v1.0h-1.0zM97.2 275.8h1.0v1.0h-1.0zM106.1 295.9h1.0v1.0h-1.0zM102.0 309.3h1.0v1.0h-1.0zM101.5 283.2h1.0v1.0h-1.0zM88.9 296.2h1.0v1.0h-1.0zM93.9 299.7h1.0v1.0h-1.0zM93.2 293.1h1.0v1.0h-1.0zM92.0 293.0h1.0v1.0h-1.0zM98.3 302.8h1.0v1.0h-1.0zM109.5 294.8h1.0v1.0h-1.0zM95.8 316.7h1.0v1.0h-1.0zM103.4 303.0h1.0v1.0h-1.0zM104.9 311.6h1.0v1.0h-1.0zM107.4 303.6h1.0v1.0h-1.0zM105.9 287.9h1.0v1.0h-1.0zM97.3 295.6h1.0v1.0h-1.0zM101.7 296.9h1.0v1.0h-1.0zM103.1 297.0h1.0v1.0h-1.0zM98.5 280.1h1.0v1.0h-1.0zM106.3 302.7h1.0v1.0h-1.0zM95.7 301.8h1.0v1.0h-1.0zM103.6 297.5h1.0v1.0h-1.0zM89.7 284.4h1.0v1.0h-1.0zM97.4 313.2h1.0v1.0h-1.0zM95.8 293.2h1.0v1.0h-1.0zM94.2 291.7h1.0v1.0h-1.0zM103.3 275.5h1.0v1.0h-1.0zM101.4 290.5h1.0v1.0h-1.0zM107.2 306.7h1.0v1.0h-1.0zM88.1 295.0h1.0v1.0h-1.0zM108.1 289.9h1.0v1.0h-1.0zM99.2 306.5h1.0v1.0h-1.0zM99.5 284.5h1.0v1.0h-1.0zM96.9 283.2h1.0v1.0h-1.0zM104.6 279.1h1.0v1.0h-1.0zM107.4 279.9h1.0v1.0h-1.0zM101.4 281.7h1.0v1.0h-1.0zM99.2 307.2h1.0v1.0h-1.0zM108.1 310.1h1.0v1.0h-1.0zM100.6 297.8h1.0v1.0h-1.0zM102.6 303.0h1.0v1.0h-1.0zM98.6 308.0h1.0v1.0h-1.0zM103.2 308.4h1.0v1.0h-1.0zM104.1 303.7h1.0v1.0h-1.0zM96.6 292.5h1.0v1.0h-1.0zM93.1 293.7h1.0v1.0h-1.0zM100.0 305.3h1.0v1.0h-1.0zM100.4 309.6h1.0v1.0h-1.0zM107.6 270.9h1.0v1.0h-1.0zM99.5 311.8h1.0v1.0h-1.0zM95.4 291.9h1.0v1.0h-1.0zM102.5 277.6h1.0v1.0h-1.0zM102.4 290.1h1.0v1.0h-1.0zM96.4 303.9h1.0v1.0h-1.0zM123.1 300.2h1.0v1.0h-1.0zM104.6 296.2h1.0v1.0h-1.0zM96.6 299.4h1.0v1.0h-1.0zM110.6 298.7h1.0v1.0h-1.0zM106.7 294.4h1.0v1.0h-1.0zM116.9 279.8h1.0v1.0h-1.0zM104.8 302.3h1.0v1.0h-1.0zM102.8 285.2h1.0v1.0h-1.0zM94.0 294.3h1.0v1.0h-1.0zM101.7 284.2h1.0v1.0h-1.0zM94.4 302.4h1.0v1.0h-1.0zM107.5 290.9h1.0v1.0h-1.0zM96.7 289.2h1.0v1.0h-1.0zM116.6 301.7h1.0v1.0h-1.0zM100.7 307.0h1.0v1.0h-1.0zM115.4 308.6h1.0v1.0h-1.0zM92.2 295.8h1.0v1.0h-1.0zM98.5 293.1h1.0v1.0h-1.0zM93.5 292.6h1.0v1.0h-1.0zM94.3 300.1h1.0v1.0h-1.0zM101.3 282.1h1.0v1.0h-1.0zM90.4 291.7h1.0v1.0h-1.0zM105.1 301.7h1.0v1.0h-1.0zM100.6 262.7h1.0v1.0h-1.0zM98.0 289.0h1.0v1.0h-1.0zM99.0 284.1h1.0v1.0h-1.0zM98.3 289.8h1.0v1.0h-1.0zM118.1 303.8h1.0v1.0h-1.0zM99.8 296.1h1.0v1.0h-1.0zM100.3 298.5h1.0v1.0h-1.0zM98.5 296.4h1.0v1.0h-1.0zM107.5 305.1h1.0v1.0h-1.0zM103.0 310.3h1.0v1.0h-1.0zM102.5 286.5h1.0v1.0h-1.0zM90.1 289.4h1.0v1.0h-1.0zM100.7 300.7h1.0v1.0h-1.0zM107.8 290.7h1.0v1.0h-1.0zM96.0 304.5h1.0v1.0h-1.0zM108.4 291.7h1.0v1.0h-1.0zM103.2 310.7h1.0v1.0h-1.0zM103.1 296.0h1.0v1.0h-1.0zM88.0 310.2h1.0v1.0h-1.0zM105.1 297.9h1.0v1.0h-1.0z" fill="#333" fill-opacity="0.8"/>
<path d="M130.7 253.9h1.0v1.0h-1.0zM143.3 224.7h1.0v1.0h-1.0zM135.4 241.4h1.0v1.0h-1.0zM125.2 243.6h1.0v1.0h-1.0zM125.9 239.8h1.0v1.0h-1.0zM142.4 250.5h1.0v1.0h-1.0zM138.1 251.4h1.0v1.0h-1.0zM136.0 255.3h1.0v1.0h-1.0zM128.2 241.6h1.0v1.0h-1.0zM138.5 237.9h1.0v1.0h-1.0zM131.9 257.7h1.0v1.0h-1.0zM142.0 239.1h1.0v1.0h-1.0zM130.0 251.3h1.0v1.0h-1.0zM135.6 238.5h1.0v1.0h-1.0zM137.2 251.1h1.0v1.0h-1.0zM134.6 275.5h1.0v1.0h-1.0zM141.2 253.7h1.0v1.0h-1.0zM139.4 275.8h1.0v1.0h-1.0zM139.8 238.0h1.0v1.0h-1.0zM135.9 246.2h1.0v1.0h-1.0zM131.3 248.1h1.0v1.0h-1.0zM135.5 244.9h1.0v1.0h-1.0zM131.7 253.9h1.0v1.0h-1.0zM126.0 253.9h1.0v1.0h-1.0zM134.3 248.3h1.0v1.0h-1.0zM122.0 262.7h1.0v1.0h-1.0zM125.3 236.6h1.0v1.0h-1.0zM137.5 239.2h1.0v1.0h-1.0zM132.1 222.5h1.0v1.0h-1.0zM132.0 247.6h1.0v1.0h-1.0zM137.7 242.5h1.0v1.0h-1.0zM135.4 250.0h1.0v1.0h-1.0zM130.8 237.7h1.0v1.0h-1.0zM144.3 236.7h1.0v1.0h-1.0zM140.6 246.2h1.0v1.0h-1.0zM141.8 238.9h1.0v1.0h-1.0zM136.9 248.9h1.0v1.0h-1.0zM133.1 248.7h1.0v1.0h-1.0zM130.3 244.6h1.0v1.0h-1.0zM132.2 253.3h1.0v1.0h-1.0zM133.8 231.1h1.0v1.0h-1.0zM132.3 244.5h1.0v1.0h-1.0zM129.6 259.2h1.0v1.0h-1.0zM136.3 254.1h1.0v1.0h-1.0zM130.3 241.4h1.0v1.0h-1.0zM139.4 230.7h1.0v1.0h-1.0zM136.1 246.4h1.0v1.0h-1.0zM131.7 246.4h1.0v1.0h-1.0zM128.7 247.8h1.0v1.0h-1.0zM128.0 232.3h1.0v1.0h-1.0zM141.4 238.2h1.0v1.0h-1.0zM123.3 255.5h1.0v1.0h-1.0zM133.9 255.0h1.0v1.0h-1.0zM136.1 263.2h1.0v1.0h-1.0zM133.6 251.7h1.0v1.0h-1.0zM129.0 247.2h1.0v1.0h-1.0zM142.1 250.7h1.0v1.0h-1.0zM135.1 225.1h1.0v1.0h-1.0zM132.3 232.2h1.0v1.0h-1.0zM138.3 237.9h1.0v1.0h-1.0zM136.1 235.1h1.0v1.0h-1.0zM144.0 233.4h1.0v1.0h-1.0zM135.0 272.6h1.0v1.0h-1.0zM135.4 236.5h1.0v1.0h-1.0zM137.4 255.7h1.0v1.0h-1.0zM138.7 225.1h1.0v1.0h-1.0zM135.4 223.5h1.0v1.0h-1.0zM144.1 246.2h1.0v1.0h-1.0zM131.9 252.5h1.0v1.0h-1.0zM136.8 233.2h1.0v1.0h-1.0zM142.7 243.0h1.0v1.0h-1.0zM125.1 260.0h1.0v1.0h-1.0zM142.2 258.5h1.0v1.0h-1.0zM137.1 236.3h1.0v1.0h-1.0zM139.1 264.8h1.0v1.0h-1.0zM138.5 262.1h1.0v1.0h-1.0zM130.2 256.1h1.0v1.0h-1.0zM139.1 230.1h1.0v1.0h-1.0zM125.8 238.1h1.0v1.0h-1.0zM134.7 250.2h1.0v1.0h-1.0zM133.1 244.9h1.0v1.0h-1.0zM133.7 246.5h1.0v1.0h-1.0zM137.3 250.7h1.0v1.0h-1.0zM134.0 248.2h1.0v1.0h-1.0zM131.9 253.8h1.0v1.0h-1.0zM131.6 262.6h1.0v1.0h-1.0zM134.2 248.4h1.0v1.0h-1.0zM130.3 242.0h1.0v1.0h-1.0zM135.1 245.8h1.0v1.0h-1.0zM131.0 233.5h1.0v1.0h-1.0zM134.5 247.2h1.0v1.0h-1.0zM137.1 258.6h1.0v1.0h-1.0zM132.7 224.8h1.0v1.0h-1.0zM133.5 226.3h1.0v1.0h-1.0zM127.6 256.3h1.0v1.0h-1.0zM137.2 238.8h1.0v1.0h-1.0zM131.0 244.6h1.0v1.0h-1.0zM125.1 250.6h1.0v1.0h-1.0zM132.5 264.8h1.0v1.0h-1.0zM128.8 256.0h1.0v1.0h-1.0zM130.7 256.2h1.0v1.0h-1.0zM129.2 253.2h1.0v1.0h-1.0zM132.0 237.0h1.0v1.0h-1.0zM133.5 250.6h1.0v1.0h-1.0zM136.4 262.1h1.0v1.0h-1.0zM132.2 224.8h1.0v1.0h-1.0zM132.3 252.1h1.0v1.0h-1.0zM127.3 233.2h1.0v1.0h-1.0zM135.0 242.6h1.0v1.0h-1.0zM142.6 249.0h1.0v1.0h-1.0zM137.1 263.9h1.0v1.0h-1.0zM131.7 245.6h1.0v1.0h-1.0zM129.1 248.3h1.0v1.0h-1.0zM139.7 259.9h1.0v1.0h-1.0zM134.1 238.2h1.0v1.0h-1.0zM130.3 231.0h1.0v1.0h-1.0zM134.9 259.8h1.0v1.0h-1.0zM121.9 222.8h1.0v1.0h-1.0zM141.6 228.8h1.0v1.0h-1.0zM136.0 232.4h1.0v1.0h-1.0zM138.4 253.8h1.0v1.0h-1.0zM135.2 254.3h1.0v1.0h-1.0zM134.6 251.6h1.0v1.0h-1.0zM143.9 257.2h1.0v1.0h-1.0zM130.9 237.2h1.0v1.0h-1.0zM133.1 243.3h1.0v1.0h-1.0zM134.7 239.3h1.0v1.0h-1.0zM137.8 246.1h1.0v1.0h-1.0zM136.2 245.8h1.0v1.0h-1.0zM137.6 233.2h1.0v1.0h-1.0zM142.6 249.3h1.0v1.0h-1.0zM136.7 252.1h1.0v1.0h-1.0zM140.0 253.5h1.0v1.0h-1.0zM135.6 243.8h1.0v1.0h-1.0zM125.7 248.0h1.0v1.0h-1.0zM132.7 242.5h1.0v1.0h-1.0zM147.0 226.3h1.0v1.0h-1.0zM134.7 258.5h1.0v1.0h-1.0zM139.4 258.8h1.0v1.0h-1.0zM127.7 235.7h1.0v1.0h-1.0zM137.6 242.7h1.0v1.0h-1.0zM143.4 248.2h1.0v1.0h-1.0zM135.4 250.4h1.0v1.0h-1.0zM133.0 247.1h1.0v1.0h-1.0zM130.9 245.5h1.0v1.0h-1.0zM131.9 248.5h1.0v1.0h-1.0zM127.0 230.2h1.0v1.0h-1.0zM136.8 248.2h1.0v1.0h-1.0zM129.4 243.5h1.0v1.0h-1.0zM128.9 267.3h1.0v1.0h-1.0zM126.2 263.9h1.0v1.0h-1.0zM130.1 250.3h1.0v1.0h-1.0zM133.1 241.9h1.0v1.0h-1.0zM139.4 254.5h1.0v1.0h-1.0zM132.9 236.4h1.0v1.0h-1.0zM145.3 260.7h1.0v1.0h-1.0zM135.2 242.8h1.0v1.0h-1.0zM136.0 246.8h1.0v1.0h-1.0zM140.7 235.8h1.0v1.0h-1.0zM134.6 237.7h1.0v1.0h-1.0zM141.3 264.9h1.0v1.0h-1.0zM134.0 251.6h1.0v1.0h-1.0zM141.9 242.8h1.0v1.0h-1.0zM129.6 256.9h1.0v1.0h-1.0zM137.1 243.8h1.0v1.0h-1.0zM142.1 248.4h1.0v1.0h-1.0zM125.1 249.6h1.0v1.0h-1.0zM134.2 265.7h1.0v1.0h-1.0zM134.4 243.8h1.0v1.0h-1.0zM136.8 248.5h1.0v1.0h-1.0zM127.1 247.2h1.0v1.0h-1.0zM132.8 260.7h1.0v1.0h-1.0zM147.1 234.2h1.0v1.0h-1.0zM129.4 237.1h1.0v1.0h-1.0zM131.0 238.7h1.0v1.0h-1.0zM134.8 257.4h1.0v1.0h-1.0zM127.7 229.8h1.0v1.0h-1.0zM124.8 257.6h1.0v1.0h-1.0zM141.5 229.9h1.0v1.0h-1.0zM125.9 247.3h1.0v1.0h-1.0zM140.2 256.6h1.0v1.0h-1.0zM135.5 253.1h1.0v1.0h-1.0zM136.2 240.2h1.0v1.0h-1.0zM144.5 246.0h1.0v1.0h-1.0zM128.7 241.1h1.0v1.0h-1.0zM126.4 246.2h1.0v1.0h-1.0zM140.3 232.7h1.0v1.0h-1.0zM140.4 268.0h1.0v1.0h-1.0zM136.5 233.8h1.0v1.0h-1.0zM130.0 242.5h1.0v1.0h-1.0zM127.8 232.9h1.0v1.0h-1.0zM133.1 244.1h1.0v1.0h-1.0zM137.7 233.4h1.0v1.0h-1.0zM144.3 257.1h1.0v1.0h-1.0zM139.2 239.2h1.0v1.0h-1.0zM143.6 242.4h1.0v1.0h-1.0zM144.0 257.3h1.0v1.0h-1.0zM129.8 241.2h1.0v1.0h-1.0zM144.3 256.5h1.0v1.0h-1.0zM133.7 248.1h1.0v1.0h-1.0zM135.5 237.9h1.0v1.0h-1.0zM133.4 239.1h1.0v1.0h-1.0zM132.2 250.9h1.0v1.0h-1.0zM129.5 253.6h1.0v1.0h-1.0zM135.1 254.0h1.0v1.0h-1.0zM139.2 259.1h1.0v1.0h-1.0zM137.8 253.4h1.0v1.0h-1.0zM133.6 252.0h1.0v1.0h-1.0zM129.8 243.4h1.0v1.0h-1.0zM138.4 245.5h1.0v1.0h-1.0zM136.8 234.9h1.0v1.0h-1.0zM141.7 239.9h1.0v1.0h-1.0zM136.6 245.8h1.0v1.0h-1.0zM139.4 242.0h1.0v1.0h-1.0zM129.2 226.0h1.0v1.0h-1.0zM132.9 233.4h1.0v1.0h-1.0zM137.3 261.2h1.0v1.0h-1.0zM122.8 232.4h1.0v1.0h-1.0zM136.1 259.0h1.0v1.0h-1.0zM136.1 249.4h1.0v1.0h-1.0zM137.2 252.1h1.0v1.0h-1.0zM143.2 252.4h1.0v1.0h-1.0zM128.0 241.0h1.0v1.0h-1.0zM135.6 237.4h1.0v1.0h-1.0zM133.1 240.5h1.0v1.0h-1.0zM130.8 253.3h1.0v1.0h-1.0zM132.4 234.5h1.0v1.0h-1.0zM130.7 246.4h1.0v1.0h-1.0zM145.6 248.7h1.0v1.0h-1.0zM142.3 251.2h1.0v1.0h-1.0zM123.2 250.0h1.0v1.0h-1.0zM130.0 231.7h1.0v1.0h-1.0zM128.8 264.9h1.0v1.0h-1.0zM126.2 239.4h1.0v1.0h-1.0zM140.6 253.0h1.0v1.0h-1.0zM125.5 244.8h1.0v1.0h-1.0zM131.8 243.9h1.0v1.0h-1.0zM138.5 239.9h1.0v1.0h-1.0zM132.8 261.4h1.0v1.0h-1.0zM124.7 242.0h1.0v1.0h-1.0zM137.0 232.8h1.0v1.0h-1.0zM131.2 232.1h1.0v1.0h-1.0zM135.3 239.4h1.0v1.0h-1.0zM138.6 256.8h1.0v1.0h-1.0zM134.7 241.9h1.0v1.0h-1.0zM135.9 246.6h1.0v1.0h-1.0zM128.0 257.3h1.0v1.0h-1.0zM135.7 254.3h1.0v1.0h-1.0zM127.3 255.2h1.0v1.0h-1.0zM145.6 252.5h1.0v1.0h-1.0zM126.8 246.3h1.0v1.0h-1.0zM134.2 248.3h1.0v1.0h-1.0zM133.2 251.2h1.0v1.0h-1.0zM132.0 248.4h1.0v1.0h-1.0zM130.8 247.0h1.0v1.0h-1.0zM139.7 240.7h1.0v1.0h-1.0zM138.0 236.5h1.0v1.0h-1.0zM132.5 243.4h1.0v1.0h-1.0zM141.1 237.8h1.0v1.0h-1.0zM140.9 230.4h1.0v1.0h-1.0zM133.6 255.6h1.0v1.0h-1.0zM138.1 235.2h1.0v1.0h-1.0zM128.0 255.2h1.0v1.0h-1.0zM127.8 252.0h1.0v1.0h-1.0zM131.7 245.8h1.0v1.0h-1.0zM146.7 262.3h1.0v1.0h-1.0zM138.9 231.3h1.0v1.0h-1.0zM136.1 246.5h1.0v1.0h-1.0zM133.9 260.1h1.0v1.0h-1.0zM125.3 249.3h1.0v1.0h-1.0zM135.1 237.9h1.0v1.0h-1.0zM143.6 232.4h1.0v1.0h-1.0zM134.6 246.7h1.0v1.0h-1.0zM122.8 230.7h1.0v1.0h-1.0zM129.3 254.2h1.0v1.0h-1.0zM139.5 252.2h1.0v1.0h-1.0zM135.7 222.5h1.0v1.0h-1.0zM135.6 240.4h1.0v1.0h-1.0zM140.6 260.1h1.0v1.0h-1.0zM146.3 253.4h1.0v1.0h-1.0zM138.8 234.9h1.0v1.0h-1.0zM134.8 232.7h1.0v1.0h-1.0zM139.2 233.1h1.0v1.0h-1.0zM133.3 237.1h1.0v1.0h-1.0zM131.9 250.7h1.0v1.0h-1.0zM131.4 248.2h1.0v1.0h-1.0zM129.1 260.7h1.0v1.0h-1.0zM131.0 256.6h1.0v1.0h-1.0zM145.8 219.9h1.0v1.0h-1.0zM129.1 243.6h1.0v1.0h-1.0zM140.6 240.6h1.0v1.0h-1.0zM136.4 238.0h1.0v1.0h-1.0zM137.4 232.9h1.0v1.0h-1.0zM124.3 265.2h1.0v1.0h-1.0zM135.3 236.2h1.0v1.0h-1.0zM146.1 257.0h1.0v1.0h-1.0zM140.4 241.3h1.0v1.0h-1.0zM137.7 251.2h1.0v1.0h-1.0zM125.5 252.1h1.0v1.0h-1.0zM133.4 259.5h1.0v1.0h-1.0zM141.4 238.9h1.0v1.0h-1.0zM131.1 247.8h1.0v1.0h-1.0zM137.9 241.3h1.0v1.0h-1.0zM133.8 252.3h1.0v1.0h-1.0zM136.6 258.2h1.0v1.0h-1.0zM135.6 236.2h1.0v1.0h-1.0zM124.9 254.4h1.0v1.0h-1.0zM132.6 242.0h1.0v1.0h-1.0zM132.8 228.9h1.0v1.0h-1.0zM132.2 236.1h1.0v1.0h-1.0zM144.2 250.5h1.0v1.0h-1.0zM133.2 247.5h1.0v1.0h-1.0zM138.3 237.6h1.0v1.0h-1.0zM133.1 241.9h1.0v1.0h-1.0zM147.7 246.5h1.0v1.0h-1.0zM123.8 254.3h1.0v1.0h-1.0zM148.3 235.4h1.0v1.0h-1.0zM153.1 245.0h1.0v1.0h-1.0zM139.7 239.6h1.0v1.0h-1.0zM132.9 232.4h1.0v1.0h-1.0zM128.6 222.6h1.0v1.0h-1.0zM140.5 233.3h1.0v1.0h-1.0zM136.3 249.2h1.0v1.0h-1.0zM130.8 246.2h1.0v1.0h-1.0zM133.8 240.3h1.0v1.0h-1.0zM134.6 246.2h1.0v1.0h-1.0zM128.8 231.7h1.0v1.0h-1.0zM129.7 247.0h1.0v1.0h-1.0zM141.8 261.5h1.0v1.0h-1.0zM136.0 255.9h1.0v1.0h-1.0zM135.0 257.6h1.0v1.0h-1.0zM135.0 249.9h1.0v1.0h-1.0zM132.8 245.6h1.0v1.0h-1.0zM144.6 232.6h1.0v1.0h-1.0zM134.3 239.2h1.0v1.0h-1.0zM139.5 265.3h1.0v1.0h-1.0zM137.6 252.3h1.0v1.0h-1.0zM125.2 243.0h1.0v1.0h-1.0zM133.9 220.5h1.0v1.0h-1.0zM138.0 250.4h1.0v1.0h-1.0zM135.6 234.1h1.0v1.0h-1.0zM130.4 238.7h1.0v1.0h-1.0zM136.9 234.9h1.0v1.0h-1.0zM142.2 249.7h1.0v1.0h-1.0zM122.4 263.9h1.0v1.0h-1.0zM135.1 239.6h1.0v1.0h-1.0zM134.8 225.7h1.0v1.0h-1.0zM128.7 260.3h1.0v1.0h-1.0zM141.1 241.8h1.0v1.0h-1.0zM129.0 255.7h1.0v1.0h-1.0zM134.0 247.8h1.0v1.0h-1.0zM137.7 233.8h1.0v1.0h-1.0zM138.6 222.4h1.0v1.0h-1.0zM142.2 228.4h1.0v1.0h-1.0zM130.8 238.2h1.0v1.0h-1.0zM138.2 253.6h1.0v1.0h-1.0zM136.2 251.4h1.0v1.0h-1.0zM136.8 244.7h1.0v1.0h-1.0zM123.8 220.2h1.0v1.0h-1.0zM121.6 244.9h1.0v1.0h-1.0zM133.0 243.9h1.0v1.0h-1.0zM135.4 242.9h1.0v1.0h-1.0zM128.7 229.0h1.0v1.0h-1.0zM123.8 258.7h1.0v1.0h-1.0zM139.2 230.6h1.0v1.0h-1.0zM132.7 250.2h1.0v1.0h-1.0zM142.9 238.8h1.0v1.0h-1.0zM135.1 258.1h1.0v1.0h-1.0zM124.7 237.3h1.0v1.0h-1.0zM134.0 237.5h1.0v1.0h-1.0zM145.8 254.9h1.0v1.0h-1.0zM135.3 234.8h1.0v1.0h-1.0zM138.9 252.3h1.0v1.0h-1.0zM131.3 240.6h1.0v1.0h-1.0zM126.1 244.5h1.0v1.0h-1.0zM138.9 256.3h1.0v1.0h-1.0zM137.3 254.4h1.0v1.0h-1.0zM130.9 240.2h1.0v1.0h-1.0zM140.8 250.3h1.0v1.0h-1.0zM129.8 250.8h1.0v1.0h-1.0zM138.7 253.1h1.0v1.0h-1.0zM134.7 239.6h1.0v1.0h-1.0zM136.3 263.9h1.0v1.0h-1.0zM135.0 238.0h1.0v1.0h-1.0zM136.0 231.8h1.0v1.0h-1.0zM135.4 242.0h1.0v1.0h-1.0zM139.4 246.4h1.0v1.0h-1.0zM139.9 270.5h1.0v1.0h-1.0zM132.9 236.1h1.0v1.0h-1.0zM136.6 244.3h1.0v1.0h-1.0zM134.9 238.7h1.0v1.0h-1.0zM137.2 246.0h1.0v1.0h-1.0zM122.3 242.7h1.0v1.0h-1.0zM136.0 258.1h1.0v1.0h-1.0zM131.0 236.5h1.0v1.0h-1.0zM140.4 238.6h1.0v1.0h-1.0zM134.7 250.4h1.0v1.0h-1.0zM138.1 245.3h1.0v1.0h-1.0zM128.0 256.3h1.0v1.0h-1.0zM131.7 239.5h1.0v1.0h-1.0zM145.1 254.8h1.0v1.0h-1.0zM128.3 240.0h1.0v1.0h-1.0zM132.8 237.0h1.0v1.0h-1.0zM123.7 254.0h1.0v1.0h-1.0zM138.3 247.9h1.0v1.0h-1.0zM131.9 247.5h1.0v1.0h-1.0zM137.6 233.8h1.0v1.0h-1.0zM132.3 239.1h1.0v1.0h-1.0zM137.9 248.1h1.0v1.0h-1.0zM127.0 238.5h1.0v1.0h-1.0zM143.7 234.6h1.0v1.0h-1.0zM134.9 238.3h1.0v1.0h-1.0zM140.9 244.5h1.0v1.0h-1.0zM131.7 232.4h1.0v1.0h-1.0zM132.8 254.2h1.0v1.0h-1.0zM137.8 230.8h1.0v1.0h-1.0zM142.6 242.5h1.0v1.0h-1.0zM128.4 246.6h1.0v1.0h-1.0zM130.7 238.9h1.0v1.0h-1.0zM130.6 244.2h1.0v1.0h-1.0zM131.4 226.6h1.0v1.0h-1.0zM136.9 239.5h1.0v1.0h-1.0zM140.6 251.0h1.0v1.0h-1.0zM137.4 247.1h1.0v1.0h-1.0zM141.1 241.6h1.0v1.0h-1.0zM128.7 248.9h1.0v1.0h-1.0zM119.3 241.1h1.0v1.0h-1.0zM135.2 240.6h1.0v1.0h-1.0zM140.9 252.7h1.0v1.0h-1.0zM134.7 240.8h1.0v1.0h-1.0zM140.0 237.7h1.0v1.0h-1.0zM131.8 253.2h1.0v1.0h-1.0zM137.3 267.2h1.0v1.0h-1.0zM132.9 224.7h1.0v1.0h-1.0zM137.6 258.7h1.0v1.0h-1.0zM133.1 262.0h1.0v1.0h-1.0zM143.7 237.9h1.0v1.0h-1.0zM131.4 231.5h1.0v1.0h-1.0zM137.0 252.9h1.0v1.0h-1.0zM137.3 231.7h1.0v1.0h-1.0zM129.9 229.5h1.0v1.0h-1.0zM125.3 230.5h1.0v1.0h-1.0zM125.5 243.1h1.0v1.0h-1.0zM136.3 251.8h1.0v1.0h-1.0zM133.9 237.8h1.0v1.0h-1.0zM134.0 251.2h1.0v1.0h-1.0zM132.4 245.6h1.0v1.0h-1.0zM132.4 239.4h1.0v1.0h-1.0zM134.2 232.9h1.0v1.0h-1.0zM139.7 228.1h1.0v1.0h-1.0zM136.5 230.3h1.0v1.0h-1.0zM142.2 254.4h1.0v1.0h-1.0zM129.6 240.1h1.0v1.0h-1.0zM127.9 244.4h1.0v1.0h-1.0zM136.2 272.6h1.0v1.0h-1.0zM126.6 258.4h1.0v1.0h-1.0zM130.9 248.0h1.0v1.0h-1.0zM138.8 250.9h1.0v1.0h-1.0zM136.3 242.9h1.0v1.0h-1.0zM134.0 246.7h1.0v1.0h-1.0zM140.5 229.1h1.0v1.0h-1.0zM131.3 231.5h1.0v1.0h-1.0zM128.8 236.4h1.0v1.0h-1.0zM139.9 268.2h1.0v1.0h-1.0zM141.3 232.2h1.0v1.0h-1.0zM134.4 232.7h1.0v1.0h-1.0zM136.4 258.7h1.0v1.0h-1.0zM137.2 254.4h1.0v1.0h-1.0zM133.2 223.7h1.0v1.0h-1.0zM123.3 243.9h1.0v1.0h-1.0zM137.1 258.7h1.0v1.0h-1.0zM132.1 245.8h1.0v1.0h-1.0zM135.4 256.5h1.0v1.0h-1.0zM133.6 233.2h1.0v1.0h-1.0zM139.8 249.4h1.0v1.0h-1.0zM136.1 231.3h1.0v1.0h-1.0zM134.0 226.5h1.0v1.0h-1.0zM123.2 242.4h1.0v1.0h-1.0zM131.7 251.1h1.0v1.0h-1.0zM141.8 244.6h1.0v1.0h-1.0zM143.6 238.7h1.0v1.0h-1.0zM138.1 231.3h1.0v1.0h-1.0zM134.7 241.6h1.0v1.0h-1.0zM132.9 251.3h1.0v1.0h-1.0zM123.8 246.2h1.0v1.0h-1.0zM129.6 246.3h1.0v1.0h-1.0zM136.1 241.0h1.0v1.0h-1.0zM132.0 232.6h1.0v1.0h-1.0zM137.0 237.7h1.0v1.0h-1.0zM136.4 229.6h1.0v1.0h-1.0zM141.4 234.0h1.0v1.0h-1.0zM140.2 240.2h1.0v1.0h-1.0zM136.9 243.4h1.0v1.0h-1.0zM137.7 245.0h1.0v1.0h-1.0zM140.8 252.2h1.0v1.0h-1.0zM137.7 263.0h1.0v1.0h-1.0zM130.2 259.0h1.0v1.0h-1.0zM134.4 229.1h1.0v1.0h-1.0zM136.6 242.8h1.0v1.0h-1.0zM143.1 239.7h1.0v1.0h-1.0zM134.3 247.5h1.0v1.0h-1.0zM123.7 250.5h1.0v1.0h-1.0zM128.6 260.2h1.0v1.0h-1.0zM143.0 244.9h1.0v1.0h-1.0zM125.5 247.0h1.0v1.0h-1.0zM134.9 252.8h1.0v1.0h-1.0zM132.4 232.2h1.0v1.0h-1.0zM133.2 235.0h1.0v1.0h-1.0zM143.5 237.4h1.0v1.0h-1.0zM130.5 244.5h1.0v1.0h-1.0zM127.3 240.2h1.0v1.0h-1.0zM133.3 239.7h1.0v1.0h-1.0zM132.6 258.4h1.0v1.0h-1.0zM136.3 230.6h1.0v1.0h-1.0zM131.7 253.0h1.0v1.0h-1.0zM130.5 245.9h1.0v1.0h-1.0zM133.8 250.7h1.0v1.0h-1.0zM133.0 243.5h1.0v1.0h-1.0zM129.4 248.9h1.0v1.0h-1.0zM129.0 263.7h1.0v1.0h-1.0zM133.9 242.6h1.0v1.0h-1.0zM138.2 244.1h1.0v1.0h-1.0zM134.5 244.4h1.0v1.0h-1.0zM130.1 235.1h1.0v1.0h-1.0zM130.2 257.2h1.0v1.0h-1.0zM130.6 240.6h1.0v1.0h-1.0zM131.6 252.5h1.0v1.0h-1.0zM144.7 235.1h1.0v1.0h-1.0zM136.9 246.3h1.0v1.0h-1.0zM132.4 250.4h1.0v1.0h-1.0zM127.2 254.0h1.0v1.0h-1.0zM135.2 234.3h1.0v1.0h-1.0zM142.6 254.1h1.0v1.0h-1.0zM140.2 229.4h1.0v1.0h-1.0zM132.5 239.4h1.0v1.0h-1.0zM137.4 259.6h1.0v1.0h-1.0zM123.8 245.2h1.0v1.0h-1.0zM133.3 255.7h1.0v1.0h-1.0zM133.8 231.3h1.0v1.0h-1.0zM133.0 233.9h1.0v1.0h-1.0zM129.8 245.5h1.0v1.0h-1.0zM131.4 248.0h1.0v1.0h-1.0zM125.9 269.9h1.0v1.0h-1.0zM140.8 252.7h1.0v1.0h-1.0zM127.1 221.8h1.0v1.0h-1.0zM129.4 242.5h1.0v1.0h-1.0zM146.0 259.0h1.0v1.0h-1.0zM131.2 258.0h1.0v1.0h-1.0zM140.6 245.2h1.0v1.0h-1.0zM140.5 248.5h1.0v1.0h-1.0zM130.5 232.4h1.0v1.0h-1.0zM133.3 255.7h1.0v1.0h-1.0zM126.7 227.7h1.0v1.0h-1.0zM143.8 240.3h1.0v1.0h-1.0zM137.9 265.0h1.0v1.0h-1.0zM126.2 233.7h1.0v1.0h-1.0zM146.0 241.9h1.0v1.0h-1.0zM133.3 247.4h1.0v1.0h-1.0zM139.7 259.2h1.0v1.0h-1.0zM134.6 241.4h1.0v1.0h-1.0zM133.8 248.3h1.0v1.0h-1.0zM141.0 246.5h1.0v1.0h-1.0zM143.8 235.8h1.0v1.0h-1.0zM136.9 263.9h1.0v1.0h-1.0zM140.9 248.6h1.0v1.0h-1.0zM129.3 237.4h1.0v1.0h-1.0zM133.2 248.3h1.0v1.0h-1.0zM132.7 229.4h1.0v1.0h-1.0zM130.0 250.6h1.0v1.0h-1.0zM138.5 230.0h1.0v1.0h-1.0zM132.0 227.0h1.0v1.0h-1.0zM131.0 283.0h1.0v1.0h-1.0zM134.3 241.3h1.0v1.0h-1.0zM130.8 232.0h1.0v1.0h-1.0zM124.0 244.5h1.0v1.0h-1.0zM132.5 260.9h1.0v1.0h-1.0zM125.2 249.7h1.0v1.0h-1.0zM141.2 224.0h1.0v1.0h-1.0zM137.5 227.7h1.0v1.0h-1.0zM136.8 260.8h1.0v1.0h-1.0zM134.0 248.1h1.0v1.0h-1.0zM130.3 248.1h1.0v1.0h-1.0zM140.1 243.0h1.0v1.0h-1.0zM133.3 249.2h1.0v1.0h-1.0zM138.4 227.4h1.0v1.0h-1.0zM134.3 237.6h1.0v1.0h-1.0zM136.7 256.1h1.0v1.0h-1.0zM135.7 258.9h1.0v1.0h-1.0zM128.7 240.6h1.0v1.0h-1.0zM128.7 245.6h1.0v1.0h-1.0zM134.5 242.9h1.0v1.0h-1.0zM127.5 244.2h1.0v1.0h-1.0zM131.7 251.5h1.0v1.0h-1.0zM132.6 257.5h1.0v1.0h-1.0zM135.2 225.1h1.0v1.0h-1.0zM133.1 229.7h1.0v1.0h-1.0zM139.2 260.4h1.0v1.0h-1.0zM133.9 249.8h1.0v1.0h-1.0zM126.2 220.9h1.0v1.0h-1.0zM131.0 242.3h1.0v1.0h-1.0zM125.9 246.0h1.0v1.0h-1.0zM135.7 251.9h1.0v1.0h-1.0zM142.3 253.7h1.0v1.0h-1.0zM132.0 246.1h1.0v1.0h-1.0zM137.2 233.8h1.0v1.0h-1.0zM141.1 254.7h1.0v1.0h-1.0zM132.8 238.2h1.0v1.0h-1.0zM154.5 254.1h1.0v1.0h-1.0zM139.1 264.4h1.0v1.0h-1.0zM139.3 247.3h1.0v1.0h-1.0zM137.8 235.2h1.0v1.0h-1.0zM137.9 228.5h1.0v1.0h-1.0zM136.3 251.0h1.0v1.0h-1.0zM125.6 265.7h1.0v1.0h-1.0zM127.9 256.3h1.0v1.0h-1.0zM131.2 248.4h1.0v1.0h-1.0zM130.5 271.9h1.0v1.0h-1.0zM139.6 264.6h1.0v1.0h-1.0zM138.3 252.6h1.0v1.0h-1.0zM134.9 242.6h1.0v1.0h-1.0zM137.3 246.9h1.0v1.0h-1.0zM133.3 230.4h1.0v1.0h-1.0zM132.4 251.7h1.0v1.0h-1.0zM131.6 248.9h1.0v1.0h-1.0zM133.3 234.1h1.0v1.0h-1.0zM129.2 237.3h1.0v1.0h-1.0zM132.6 242.4h1.0v1.0h-1.0zM140.1 233.6h1.0v1.0h-1.0zM123.1 252.6h1.0v1.0h-1.0zM131.7 244.0h1.0v1.0h-1.0zM147.8 261.0h1.0v1.0h-1.0zM137.3 255.5h1.0v1.0h-1.0zM134.8 255.6h1.0v1.0h-1.0zM130.9 237.6h1.0v1.0h-1.0zM131.6 262.3h1.0v1.0h-1.0zM142.5 238.8h1.0v1.0h-1.0zM140.4 243.6h1.0v1.0h-1.0zM139.9 241.9h1.0v1.0h-1.0zM139.3 244.1h1.0v1.0h-1.0zM132.6 245.1h1.0v1.0h-1.0zM135.0 239.1h1.0v1.0h-1.0zM126.8 263.6h1.0v1.0h-1.0zM132.1 225.8h1.0v1.0h-1.0z" fill="#333" fill-opacity="0.8"/>
<ellipse cx="101.3" cy="297" rx="12.5" ry="20.5" fill="url(#bg3)" transform="rotate(0 101.3 297)"/>
<path d="M110.4 306.4h1v1h-1zM95.0 305.8h1v1h-1zM101.7 306.9h1v1h-1zM98.9 300.8h1v1h-1zM98.8 292.9h1v1h-1zM102.0 286.6h1v1h-1zM109.6 285.4h1v1h-1zM103.1 281.4h1v1h-1zM104.7 296.0h1v1h-1zM93.1 293.3h1v1h-1zM104.8 311.0h1v1h-1zM106.9 305.8h1v1h-1zM90.5 297.0h1v1h-1zM105.3 295.7h1v1h-1zM101.6 282.9h1v1h-1zM97.9 281.4h1v1h-1zM99.9 309.1h1v1h-1zM99.5 294.1h1v1h-1zM98.8 301.5h1v1h-1zM110.0 287.1h1v1h-1zM104.9 312.7h1v1h-1zM108.3 310.8h1v1h-1zM101.2 279.3h1v1h-1zM112.3 295.2h1v1h-1zM98.2 309.4h1v1h-1zM97.1 313.3h1v1h-1zM95.4 292.5h1v1h-1zM97.2 298.9h1v1h-1zM97.3 299.0h1v1h-1zM110.7 288.6h1v1h-1zM99.6 279.2h1v1h-1zM92.6 304.0h1v1h-1zM108.4 310.0h1v1h-1zM104.7 302.1h1v1h-1zM108.0 301.3h1v1h-1zM105.2 311.1h1v1h-1zM92.7 291.0h1v1h-1zM98.5 282.3h1v1h-1zM91.4 299.2h1v1h-1zM101.3 310.9h1v1h-1zM108.0 304.0h1v1h-1zM111.2 289.2h1v1h-1zM104.3 297.3h1v1h-1zM94.3 295.1h1v1h-1zM97.2 307.9h1v1h-1zM94.1 305.5h1v1h-1zM108.3 299.4h1v1h-1zM108.8 304.1h1v1h-1zM91.0 299.4h1v1h-1zM97.8 287.7h1v1h-1zM106.5 312.1h1v1h-1zM108.3 295.1h1v1h-1zM93.2 307.8h1v1h-1zM104.0 286.8h1v1h-1zM103.7 300.6h1v1h-1zM93.6 291.2h1v1h-1zM102.1 283.1h1v1h-1zM92.8 307.2h1v1h-1zM105.1 288.5h1v1h-1zM105.2 290.5h1v1h-1zM106.7 284.3h1v1h-1zM108.4 306.1h1v1h-1zM91.8 297.4h1v1h-1zM105.2 301.7h1v1h-1zM105.4 303.7h1v1h-1zM103.6 291.3h1v1h-1zM112.3 296.4h1v1h-1zM93.6 291.4h1v1h-1zM103.3 300.1h1v1h-1zM92.4 290.0h1v1h-1zM101.5 283.1h1v1h-1zM98.8 280.9h1v1h-1zM100.2 296.5h1v1h-1zM105.7 281.7h1v1h-1zM90.4 294.8h1v1h-1zM109.3 299.1h1v1h-1zM93.9 291.8h1v1h-1zM109.4 285.3h1v1h-1zM103.1 300.6h1v1h-1zM102.6 285.8h1v1h-1zM102.0 289.6h1v1h-1zM107.5 287.1h1v1h-1zM95.9 303.2h1v1h-1zM98.6 296.5h1v1h-1zM91.4 295.6h1v1h-1zM108.3 290.2h1v1h-1zM97.4 311.9h1v1h-1zM99.6 279.3h1v1h-1zM102.8 306.8h1v1h-1zM92.1 296.3h1v1h-1zM107.3 307.4h1v1h-1zM107.6 284.6h1v1h-1zM98.8 308.3h1v1h-1zM112.3 294.1h1v1h-1zM97.5 295.4h1v1h-1zM99.9 309.0h1v1h-1zM97.3 285.4h1v1h-1zM98.9 307.4h1v1h-1zM95.6 282.7h1v1h-1zM104.8 305.5h1v1h-1zM107.8 292.7h1v1h-1zM103.8 313.3h1v1h-1zM110.1 297.5h1v1h-1zM111.3 290.7h1v1h-1zM98.4 304.2h1v1h-1z" fill="#fff" fill-opacity="0.28"/>
<path d="M103.7 306.3h1v1h-1zM94.6 307.7h1v1h-1zM101.5 298.3h1v1h-1zM98.6 282.7h1v1h-1zM99.9 296.3h1v1h-1zM95.4 285.8h1v1h-1zM103.0 282.4h1v1h-1zM105.2 288.4h1v1h-1zM108.2 301.5h1v1h-1zM96.3 309.4h1v1h-1zM95.0 307.5h1v1h-1zM93.8 292.6h1v1h-1zM98.6 311.9h1v1h-1zM102.3 312.0h1v1h-1zM102.5 313.3h1v1h-1zM104.2 298.2h1v1h-1zM97.4 309.8h1v1h-1zM98.1 310.0h1v1h-1zM106.4 288.1h1v1h-1zM111.7 301.7h1v1h-1zM90.4 296.5h1v1h-1zM110.0 290.2h1v1h-1zM97.7 302.4h1v1h-1zM90.8 294.9h1v1h-1zM106.9 282.1h1v1h-1zM95.3 281.4h1v1h-1zM103.7 294.3h1v1h-1zM104.0 303.6h1v1h-1zM103.1 307.8h1v1h-1zM98.6 291.7h1v1h-1zM100.4 314.5h1v1h-1zM97.0 288.2h1v1h-1zM95.1 297.4h1v1h-1zM109.3 308.8h1v1h-1zM103.2 310.1h1v1h-1zM103.9 312.7h1v1h-1zM93.0 306.5h1v1h-1zM94.2 310.5h1v1h-1zM107.5 305.0h1v1h-1zM96.2 301.9h1v1h-1zM92.2 288.0h1v1h-1zM107.4 283.8h1v1h-1zM100.0 302.1h1v1h-1zM101.7 280.2h1v1h-1zM94.3 304.9h1v1h-1zM109.2 298.2h1v1h-1zM98.8 302.2h1v1h-1zM101.8 303.9h1v1h-1zM102.5 280.5h1v1h-1zM92.5 290.6h1v1h-1zM102.7 314.6h1v1h-1zM93.5 303.9h1v1h-1zM95.2 311.9h1v1h-1zM101.9 288.1h1v1h-1zM99.3 280.7h1v1h-1zM104.8 312.3h1v1h-1zM92.8 293.7h1v1h-1zM92.7 307.6h1v1h-1zM99.3 305.6h1v1h-1zM109.3 295.6h1v1h-1zM99.5 281.9h1v1h-1zM95.2 304.6h1v1h-1zM91.0 302.4h1v1h-1zM102.0 290.6h1v1h-1zM97.4 302.3h1v1h-1zM105.6 284.4h1v1h-1zM100.8 295.8h1v1h-1zM98.5 292.0h1v1h-1zM92.6 295.5h1v1h-1zM94.2 293.9h1v1h-1zM94.7 311.5h1v1h-1zM105.9 307.1h1v1h-1zM107.9 300.7h1v1h-1zM95.3 311.5h1v1h-1zM108.5 310.4h1v1h-1zM94.0 288.0h1v1h-1zM103.9 282.6h1v1h-1zM101.1 292.0h1v1h-1zM100.7 299.8h1v1h-1zM91.9 289.7h1v1h-1zM108.3 283.4h1v1h-1zM99.9 308.8h1v1h-1zM106.2 299.2h1v1h-1zM104.6 282.3h1v1h-1zM98.8 297.2h1v1h-1zM94.7 284.1h1v1h-1zM108.2 293.3h1v1h-1zM98.5 308.1h1v1h-1zM96.8 307.7h1v1h-1zM94.3 297.2h1v1h-1zM98.8 293.9h1v1h-1zM99.2 283.3h1v1h-1zM106.7 299.3h1v1h-1zM94.9 308.4h1v1h-1zM100.2 311.1h1v1h-1zM100.8 307.9h1v1h-1zM96.6 286.6h1v1h-1zM99.1 305.2h1v1h-1zM98.8 285.2h1v1h-1zM107.6 301.3h1v1h-1zM93.5 300.8h1v1h-1zM91.5 288.1h1v1h-1zM99.8 293.9h1v1h-1zM99.0 300.8h1v1h-1zM99.6 295.0h1v1h-1z" fill="#222" fill-opacity="0.35"/>
<ellipse cx="134" cy="245" rx="10.5" ry="21" fill="url(#bg4)" transform="rotate(0 134 245)"/>
<path d="M130.9 245.7h1v1h-1zM141.2 254.2h1v1h-1zM126.4 256.2h1v1h-1zM140.3 240.5h1v1h-1zM136.3 262.5h1v1h-1zM133.4 232.3h1v1h-1zM140.0 240.3h1v1h-1zM138.2 243.7h1v1h-1zM128.4 235.2h1v1h-1zM133.3 260.6h1v1h-1zM135.2 257.3h1v1h-1zM129.9 259.8h1v1h-1zM136.8 240.4h1v1h-1zM139.3 241.6h1v1h-1zM130.3 234.8h1v1h-1zM125.7 243.3h1v1h-1zM137.4 227.9h1v1h-1zM125.3 241.5h1v1h-1zM135.6 251.0h1v1h-1zM130.5 243.5h1v1h-1zM125.3 239.0h1v1h-1zM138.7 253.1h1v1h-1zM136.3 255.6h1v1h-1zM127.8 248.3h1v1h-1zM126.8 256.1h1v1h-1zM142.6 249.6h1v1h-1zM133.0 234.1h1v1h-1zM139.6 251.0h1v1h-1zM128.7 241.3h1v1h-1zM134.7 263.4h1v1h-1zM134.1 239.3h1v1h-1zM129.7 257.0h1v1h-1zM131.2 255.4h1v1h-1zM139.1 233.5h1v1h-1zM138.4 239.4h1v1h-1zM127.9 245.7h1v1h-1zM138.1 250.0h1v1h-1zM134.0 253.5h1v1h-1zM127.8 245.5h1v1h-1zM128.5 258.4h1v1h-1zM133.8 261.5h1v1h-1zM139.8 251.0h1v1h-1zM128.6 259.3h1v1h-1zM127.0 239.3h1v1h-1zM134.5 258.2h1v1h-1zM125.5 248.0h1v1h-1zM136.8 249.0h1v1h-1zM127.8 239.7h1v1h-1zM134.5 254.9h1v1h-1zM130.5 229.2h1v1h-1zM135.3 238.3h1v1h-1zM135.2 241.2h1v1h-1zM140.2 257.1h1v1h-1zM141.6 234.0h1v1h-1zM131.7 238.4h1v1h-1zM138.0 255.2h1v1h-1zM135.2 253.3h1v1h-1zM127.0 238.2h1v1h-1zM130.8 262.5h1v1h-1zM129.5 254.4h1v1h-1zM128.9 239.1h1v1h-1zM130.6 229.7h1v1h-1zM133.5 251.3h1v1h-1zM134.6 230.1h1v1h-1zM128.3 258.5h1v1h-1zM140.1 248.8h1v1h-1zM131.7 257.8h1v1h-1zM128.5 236.9h1v1h-1zM137.5 248.6h1v1h-1zM132.6 229.3h1v1h-1zM124.6 244.6h1v1h-1zM136.2 247.3h1v1h-1zM133.1 226.5h1v1h-1zM130.6 248.6h1v1h-1zM134.7 236.8h1v1h-1zM141.2 237.9h1v1h-1zM127.7 253.6h1v1h-1zM127.3 257.1h1v1h-1zM135.5 260.9h1v1h-1zM130.1 238.9h1v1h-1zM137.3 237.1h1v1h-1zM140.1 239.1h1v1h-1zM127.5 238.2h1v1h-1zM136.3 257.6h1v1h-1zM138.4 238.2h1v1h-1zM135.0 229.6h1v1h-1zM135.8 256.6h1v1h-1zM126.7 253.4h1v1h-1zM141.6 251.9h1v1h-1zM130.7 235.9h1v1h-1zM136.8 262.4h1v1h-1zM129.7 228.3h1v1h-1zM138.2 245.8h1v1h-1zM129.9 228.7h1v1h-1zM127.1 253.3h1v1h-1zM131.2 245.8h1v1h-1zM132.7 259.9h1v1h-1zM135.4 226.7h1v1h-1zM133.6 247.5h1v1h-1zM133.8 227.1h1v1h-1zM137.2 260.7h1v1h-1zM129.2 230.1h1v1h-1zM131.5 234.0h1v1h-1zM137.7 239.4h1v1h-1zM133.7 250.3h1v1h-1zM127.0 252.9h1v1h-1zM138.1 229.3h1v1h-1zM129.0 257.0h1v1h-1zM130.9 255.9h1v1h-1zM139.3 245.8h1v1h-1zM132.4 235.9h1v1h-1zM130.6 257.2h1v1h-1zM136.3 254.8h1v1h-1z" fill="#fff" fill-opacity="0.28"/>
<path d="M135.5 249.3h1v1h-1zM140.7 238.6h1v1h-1zM129.6 258.0h1v1h-1zM138.7 255.6h1v1h-1zM136.5 247.1h1v1h-1zM127.9 237.7h1v1h-1zM137.5 242.4h1v1h-1zM130.5 244.6h1v1h-1zM141.5 248.0h1v1h-1zM129.2 243.0h1v1h-1zM130.8 230.8h1v1h-1zM140.9 251.8h1v1h-1zM135.4 241.5h1v1h-1zM131.6 250.5h1v1h-1zM142.3 249.8h1v1h-1zM129.0 230.6h1v1h-1zM134.4 256.7h1v1h-1zM137.1 232.8h1v1h-1zM134.1 253.5h1v1h-1zM136.5 232.6h1v1h-1zM128.8 251.5h1v1h-1zM124.9 241.0h1v1h-1zM130.1 230.1h1v1h-1zM127.6 250.6h1v1h-1zM137.8 231.7h1v1h-1zM133.6 252.1h1v1h-1zM135.6 236.9h1v1h-1zM128.9 248.4h1v1h-1zM140.5 241.4h1v1h-1zM134.2 246.1h1v1h-1zM125.5 249.7h1v1h-1zM139.4 241.0h1v1h-1zM137.1 245.6h1v1h-1zM137.8 228.7h1v1h-1zM133.3 258.8h1v1h-1zM138.6 258.9h1v1h-1zM136.9 255.9h1v1h-1zM140.0 245.4h1v1h-1zM127.9 248.8h1v1h-1zM127.2 257.9h1v1h-1zM138.0 256.2h1v1h-1zM134.6 255.0h1v1h-1zM140.5 258.4h1v1h-1zM137.7 231.8h1v1h-1zM131.5 227.4h1v1h-1zM137.5 241.1h1v1h-1zM127.3 242.6h1v1h-1zM142.9 246.8h1v1h-1zM134.6 229.0h1v1h-1zM136.7 259.5h1v1h-1zM134.6 263.0h1v1h-1zM136.7 235.7h1v1h-1zM133.2 263.1h1v1h-1zM137.8 234.4h1v1h-1zM135.0 258.7h1v1h-1zM130.1 236.5h1v1h-1zM131.1 260.0h1v1h-1zM134.8 236.9h1v1h-1zM134.1 255.4h1v1h-1zM134.6 255.1h1v1h-1zM131.4 249.6h1v1h-1zM131.5 238.5h1v1h-1zM132.1 249.8h1v1h-1zM125.1 249.8h1v1h-1zM135.2 262.7h1v1h-1zM141.2 253.6h1v1h-1zM143.0 240.6h1v1h-1zM136.3 260.0h1v1h-1zM136.8 229.5h1v1h-1zM135.3 229.9h1v1h-1zM134.9 235.7h1v1h-1zM129.5 244.7h1v1h-1zM135.4 256.6h1v1h-1zM137.6 238.7h1v1h-1zM131.7 245.2h1v1h-1zM139.0 253.4h1v1h-1zM131.5 247.1h1v1h-1zM133.7 256.3h1v1h-1zM134.6 254.5h1v1h-1zM141.5 242.8h1v1h-1zM129.8 251.2h1v1h-1zM131.2 259.8h1v1h-1zM132.0 239.6h1v1h-1zM139.6 245.3h1v1h-1zM137.9 237.6h1v1h-1zM135.7 242.3h1v1h-1zM137.7 232.1h1v1h-1zM132.3 231.3h1v1h-1zM138.2 260.7h1v1h-1zM131.2 242.3h1v1h-1zM127.5 243.3h1v1h-1zM139.6 243.6h1v1h-1zM128.4 235.6h1v1h-1zM133.7 248.1h1v1h-1zM139.0 244.5h1v1h-1zM130.5 244.8h1v1h-1zM128.2 233.8h1v1h-1zM128.7 257.6h1v1h-1zM134.5 252.6h1v1h-1zM127.0 243.3h1v1h-1zM139.3 239.1h1v1h-1zM135.4 256.6h1v1h-1zM127.6 237.8h1v1h-1zM126.2 238.9h1v1h-1zM133.2 245.2h1v1h-1zM134.4 253.1h1v1h-1zM142.1 241.2h1v1h-1zM134.8 262.6h1v1h-1zM138.0 235.5h1v1h-1zM142.1 251.2h1v1h-1zM129.8 239.5h1v1h-1zM138.1 246.1h1v1h-1zM129.7 242.7h1v1h-1zM133.4 229.1h1v1h-1z" fill="#222" fill-opacity="0.35"/>
</g>
<rect x="87.5" y="218.5" width="101.1" height="101" fill="none" stroke="#151515" stroke-width="1.3"/>
<line x1="87.5" y1="218.5" x2="87.5" y2="319.5" stroke="#b5b5b5" stroke-width="1.6" />
<line x1="120.9" y1="218.5" x2="120.9" y2="319.5" stroke="#111" stroke-width="1.1" />
<line x1="87.5" y1="275.4" x2="188.6" y2="275.4" stroke="#111" stroke-width="1.1" />
<rect x="88" y="218.8" width="3" height="2.6" fill="#000"/>
<rect x="117.7" y="272.2" width="3.6" height="3.6" fill="#000"/>
<text x="117.5" y="208.8" font-size="18" text-anchor="middle" font-weight="normal" fill="#111" >D42</text>
<text x="181.6" y="233.2" font-size="10.5" text-anchor="end" font-weight="normal" fill="#222" >17.21</text>
<line x1="222.6" y1="315.6" x2="227.6" y2="315.6" stroke="#222" stroke-width="1" />
<text transform="translate(216.3 319) scale(0.9 1)" font-size="9.3" text-anchor="end" fill="#333">10</text>
<text x="216.9" y="315.3" font-size="5.394" fill="#666">0</text>
<line x1="227.6" y1="315.6" x2="227.6" y2="319.6" stroke="#222" stroke-width="1" />
<text transform="translate(227.2 330.2) scale(0.9 1)" font-size="9.3" text-anchor="end" fill="#333">10</text>
<text x="227.8" y="326.5" font-size="5.394" fill="#666">0</text>
<line x1="222.6" y1="292" x2="227.6" y2="292" stroke="#222" stroke-width="1" />
<text transform="translate(216.3 295.4) scale(0.9 1)" font-size="9.3" text-anchor="end" fill="#333">10</text>
<text x="216.9" y="291.7" font-size="5.394" fill="#666">1</text>
<line x1="251.2" y1="315.6" x2="251.2" y2="319.6" stroke="#222" stroke-width="1" />
<text transform="translate(250.8 330.2) scale(0.9 1)" font-size="9.3" text-anchor="end" fill="#333">10</text>
<text x="251.4" y="326.5" font-size="5.394" fill="#666">1</text>
<line x1="222.6" y1="268.3" x2="227.6" y2="268.3" stroke="#222" stroke-width="1" />
<text transform="translate(216.3 271.7) scale(0.9 1)" font-size="9.3" text-anchor="end" fill="#333">10</text>
<text x="216.9" y="268" font-size="5.394" fill="#666">2</text>
<line x1="274.8" y1="315.6" x2="274.8" y2="319.6" stroke="#222" stroke-width="1" />
<text transform="translate(274.4 330.2) scale(0.9 1)" font-size="9.3" text-anchor="end" fill="#333">10</text>
<text x="275" y="326.5" font-size="5.394" fill="#666">2</text>
<line x1="222.6" y1="244.7" x2="227.6" y2="244.7" stroke="#222" stroke-width="1" />
<text transform="translate(216.3 248.1) scale(0.9 1)" font-size="9.3" text-anchor="end" fill="#333">10</text>
<text x="216.9" y="244.4" font-size="5.394" fill="#666">3</text>
<line x1="298.4" y1="315.6" x2="298.4" y2="319.6" stroke="#222" stroke-width="1" />
<text transform="translate(298 330.2) scale(0.9 1)" font-size="9.3" text-anchor="end" fill="#333">10</text>
<text x="298.6" y="326.5" font-size="5.394" fill="#666">3</text>
<line x1="222.6" y1="221" x2="227.6" y2="221" stroke="#222" stroke-width="1" />
<text transform="translate(216.3 224.4) scale(0.9 1)" font-size="9.3" text-anchor="end" fill="#333">10</text>
<text x="216.9" y="220.7" font-size="5.394" fill="#666">4</text>
<line x1="322" y1="315.6" x2="322" y2="319.6" stroke="#222" stroke-width="1" />
<text transform="translate(321.6 330.2) scale(0.9 1)" font-size="9.3" text-anchor="end" fill="#333">10</text>
<text x="322.2" y="326.5" font-size="5.394" fill="#666">4</text>
<g clip-path="url(#c4)">
<defs><clipPath id="c4"><rect x="227.6" y="221" width="94.4" height="94.60000000000002"/></clipPath></defs>
<defs><radialGradient id="bg5" cx="0.5" cy="0.5" r="0.5" fx="0.5" fy="0.5"><stop offset="0" stop-color="#777777"/><stop offset="0.31" stop-color="#555555"/><stop offset="0.62" stop-color="#404040"/><stop offset="0.84" stop-color="#404040" stop-opacity="0.85"/><stop offset="1" stop-color="#404040" stop-opacity="0"/></radialGradient></defs>
<defs><radialGradient id="bg6" cx="0.5" cy="0.5" r="0.5" fx="0.5" fy="0.5"><stop offset="0" stop-color="#585858"/><stop offset="0.31" stop-color="#4c4c4c"/><stop offset="0.62" stop-color="#404040"/><stop offset="0.84" stop-color="#404040" stop-opacity="0.85"/><stop offset="1" stop-color="#404040" stop-opacity="0"/></radialGradient></defs>
<defs><radialGradient id="bg7" cx="0.5" cy="0.5" r="0.5" fx="0.52" fy="0.28"><stop offset="0" stop-color="#c0c0c0"/><stop offset="0.31" stop-color="#5e5e5e"/><stop offset="0.62" stop-color="#404040"/><stop offset="0.84" stop-color="#404040" stop-opacity="0.85"/><stop offset="1" stop-color="#404040" stop-opacity="0"/></radialGradient></defs>
<path d="M239.3 263.4h1.0v1.0h-1.0zM242.1 267.9h1.0v1.0h-1.0zM244.4 249.7h1.0v1.0h-1.0zM240.3 260.0h1.0v1.0h-1.0zM230.9 257.9h1.0v1.0h-1.0zM237.6 240.7h1.0v1.0h-1.0zM242.6 282.9h1.0v1.0h-1.0zM234.8 283.9h1.0v1.0h-1.0zM241.0 267.3h1.0v1.0h-1.0zM236.4 271.8h1.0v1.0h-1.0zM238.9 240.3h1.0v1.0h-1.0zM241.9 277.7h1.0v1.0h-1.0zM235.3 258.3h1.0v1.0h-1.0zM251.3 257.0h1.0v1.0h-1.0zM239.2 280.1h1.0v1.0h-1.0zM240.0 284.0h1.0v1.0h-1.0zM235.2 273.2h1.0v1.0h-1.0zM238.8 281.1h1.0v1.0h-1.0zM237.3 281.4h1.0v1.0h-1.0zM232.0 271.1h1.0v1.0h-1.0zM231.6 281.6h1.0v1.0h-1.0zM239.8 265.7h1.0v1.0h-1.0zM238.1 262.3h1.0v1.0h-1.0zM228.9 265.4h1.0v1.0h-1.0zM237.1 281.2h1.0v1.0h-1.0zM238.2 264.8h1.0v1.0h-1.0zM241.2 244.9h1.0v1.0h-1.0zM232.9 245.3h1.0v1.0h-1.0zM241.2 283.0h1.0v1.0h-1.0zM237.1 277.1h1.0v1.0h-1.0zM236.2 255.4h1.0v1.0h-1.0zM237.9 263.8h1.0v1.0h-1.0zM242.9 274.6h1.0v1.0h-1.0zM241.0 246.6h1.0v1.0h-1.0zM242.5 241.4h1.0v1.0h-1.0zM235.4 265.5h1.0v1.0h-1.0zM237.2 279.7h1.0v1.0h-1.0zM233.3 235.4h1.0v1.0h-1.0zM236.0 270.1h1.0v1.0h-1.0zM236.7 276.3h1.0v1.0h-1.0zM236.4 282.7h1.0v1.0h-1.0zM241.7 237.2h1.0v1.0h-1.0zM240.4 257.3h1.0v1.0h-1.0zM241.9 283.6h1.0v1.0h-1.0zM239.1 281.6h1.0v1.0h-1.0zM243.3 238.9h1.0v1.0h-1.0zM239.0 283.5h1.0v1.0h-1.0zM242.8 258.3h1.0v1.0h-1.0zM240.8 265.1h1.0v1.0h-1.0zM241.8 269.1h1.0v1.0h-1.0zM238.2 257.2h1.0v1.0h-1.0zM232.9 276.7h1.0v1.0h-1.0zM232.0 261.6h1.0v1.0h-1.0zM247.3 243.0h1.0v1.0h-1.0zM240.2 264.9h1.0v1.0h-1.0zM240.5 267.7h1.0v1.0h-1.0zM237.7 262.5h1.0v1.0h-1.0zM236.4 281.5h1.0v1.0h-1.0zM251.4 276.8h1.0v1.0h-1.0zM233.5 255.5h1.0v1.0h-1.0zM238.2 265.2h1.0v1.0h-1.0zM238.3 282.9h1.0v1.0h-1.0zM233.4 243.7h1.0v1.0h-1.0zM232.8 273.5h1.0v1.0h-1.0zM235.3 279.8h1.0v1.0h-1.0zM237.0 282.3h1.0v1.0h-1.0zM236.3 238.8h1.0v1.0h-1.0zM242.2 254.4h1.0v1.0h-1.0zM233.2 277.7h1.0v1.0h-1.0zM240.3 281.3h1.0v1.0h-1.0zM245.1 245.1h1.0v1.0h-1.0zM242.5 282.4h1.0v1.0h-1.0zM233.4 267.9h1.0v1.0h-1.0zM242.3 237.7h1.0v1.0h-1.0zM240.7 257.6h1.0v1.0h-1.0zM235.9 283.1h1.0v1.0h-1.0zM244.3 268.0h1.0v1.0h-1.0zM236.7 240.0h1.0v1.0h-1.0zM239.0 279.1h1.0v1.0h-1.0zM233.8 283.3h1.0v1.0h-1.0zM239.9 283.7h1.0v1.0h-1.0zM236.6 246.5h1.0v1.0h-1.0zM236.2 238.0h1.0v1.0h-1.0zM243.4 271.1h1.0v1.0h-1.0zM239.5 277.8h1.0v1.0h-1.0zM231.8 274.1h1.0v1.0h-1.0zM241.6 281.7h1.0v1.0h-1.0zM242.3 272.3h1.0v1.0h-1.0zM234.8 270.5h1.0v1.0h-1.0zM236.7 267.2h1.0v1.0h-1.0zM238.7 283.1h1.0v1.0h-1.0zM237.4 234.4h1.0v1.0h-1.0zM239.1 261.6h1.0v1.0h-1.0zM241.4 264.9h1.0v1.0h-1.0zM236.3 247.1h1.0v1.0h-1.0zM247.9 283.8h1.0v1.0h-1.0zM235.3 264.1h1.0v1.0h-1.0zM236.1 275.3h1.0v1.0h-1.0zM247.4 260.6h1.0v1.0h-1.0zM249.2 237.6h1.0v1.0h-1.0zM238.7 283.6h1.0v1.0h-1.0zM237.7 281.8h1.0v1.0h-1.0zM233.7 276.1h1.0v1.0h-1.0zM243.6 267.2h1.0v1.0h-1.0zM239.3 246.9h1.0v1.0h-1.0zM234.7 254.2h1.0v1.0h-1.0zM240.3 266.3h1.0v1.0h-1.0zM244.7 281.3h1.0v1.0h-1.0zM241.6 268.9h1.0v1.0h-1.0zM248.4 272.1h1.0v1.0h-1.0zM243.7 283.0h1.0v1.0h-1.0zM240.5 239.7h1.0v1.0h-1.0zM238.4 245.9h1.0v1.0h-1.0zM241.0 262.4h1.0v1.0h-1.0zM244.0 279.8h1.0v1.0h-1.0zM242.4 264.7h1.0v1.0h-1.0zM243.2 277.2h1.0v1.0h-1.0zM239.5 260.2h1.0v1.0h-1.0zM241.9 283.9h1.0v1.0h-1.0zM244.0 263.1h1.0v1.0h-1.0zM237.8 265.7h1.0v1.0h-1.0zM232.7 238.8h1.0v1.0h-1.0zM246.3 265.0h1.0v1.0h-1.0zM241.1 250.5h1.0v1.0h-1.0zM236.5 280.5h1.0v1.0h-1.0zM239.6 266.1h1.0v1.0h-1.0zM237.4 277.2h1.0v1.0h-1.0zM230.8 233.4h1.0v1.0h-1.0zM237.7 235.9h1.0v1.0h-1.0zM232.1 279.9h1.0v1.0h-1.0zM239.4 261.8h1.0v1.0h-1.0zM238.0 283.6h1.0v1.0h-1.0zM243.6 266.4h1.0v1.0h-1.0zM238.0 233.4h1.0v1.0h-1.0zM240.2 282.5h1.0v1.0h-1.0zM237.2 254.5h1.0v1.0h-1.0zM236.8 268.2h1.0v1.0h-1.0z" fill="#444" fill-opacity="0.7"/>
<path d="M262.9 292.2h1.0v1.0h-1.0zM265.6 303.2h1.0v1.0h-1.0zM267.8 302.6h1.0v1.0h-1.0zM259.1 296.5h1.0v1.0h-1.0zM268.4 310.1h1.0v1.0h-1.0zM262.7 305.6h1.0v1.0h-1.0zM252.6 289.6h1.0v1.0h-1.0zM264.7 292.0h1.0v1.0h-1.0zM264.0 288.8h1.0v1.0h-1.0zM269.3 304.5h1.0v1.0h-1.0zM276.9 291.0h1.0v1.0h-1.0zM251.3 297.8h1.0v1.0h-1.0zM267.3 288.4h1.0v1.0h-1.0zM269.7 308.8h1.0v1.0h-1.0zM263.4 305.4h1.0v1.0h-1.0zM262.1 303.3h1.0v1.0h-1.0zM269.9 304.2h1.0v1.0h-1.0zM265.2 295.4h1.0v1.0h-1.0zM261.7 290.9h1.0v1.0h-1.0zM268.3 286.5h1.0v1.0h-1.0zM267.0 296.7h1.0v1.0h-1.0zM252.5 309.6h1.0v1.0h-1.0zM260.0 286.7h1.0v1.0h-1.0zM275.0 291.0h1.0v1.0h-1.0zM254.5 299.7h1.0v1.0h-1.0zM264.6 287.9h1.0v1.0h-1.0zM267.8 293.7h1.0v1.0h-1.0zM253.4 305.5h1.0v1.0h-1.0zM255.6 291.6h1.0v1.0h-1.0zM259.0 293.9h1.0v1.0h-1.0zM266.8 293.3h1.0v1.0h-1.0zM253.5 291.3h1.0v1.0h-1.0zM271.5 307.0h1.0v1.0h-1.0zM269.1 310.7h1.0v1.0h-1.0zM272.5 301.4h1.0v1.0h-1.0zM256.8 292.6h1.0v1.0h-1.0zM265.2 292.3h1.0v1.0h-1.0zM274.1 303.9h1.0v1.0h-1.0zM262.2 304.7h1.0v1.0h-1.0zM266.0 307.2h1.0v1.0h-1.0zM261.5 289.5h1.0v1.0h-1.0zM270.7 291.2h1.0v1.0h-1.0zM267.6 294.9h1.0v1.0h-1.0zM271.0 297.1h1.0v1.0h-1.0zM277.1 307.2h1.0v1.0h-1.0zM271.8 288.3h1.0v1.0h-1.0zM266.0 293.8h1.0v1.0h-1.0zM257.1 289.0h1.0v1.0h-1.0zM264.4 306.9h1.0v1.0h-1.0zM276.5 304.5h1.0v1.0h-1.0zM277.6 307.0h1.0v1.0h-1.0zM253.4 294.3h1.0v1.0h-1.0zM268.8 299.7h1.0v1.0h-1.0zM250.6 309.1h1.0v1.0h-1.0zM253.0 286.5h1.0v1.0h-1.0zM260.4 306.8h1.0v1.0h-1.0zM252.7 306.0h1.0v1.0h-1.0zM268.2 297.3h1.0v1.0h-1.0zM264.0 306.1h1.0v1.0h-1.0zM260.8 305.7h1.0v1.0h-1.0zM273.8 290.7h1.0v1.0h-1.0zM260.0 311.2h1.0v1.0h-1.0zM256.9 310.4h1.0v1.0h-1.0zM258.0 292.7h1.0v1.0h-1.0zM250.6 310.8h1.0v1.0h-1.0zM270.2 300.2h1.0v1.0h-1.0zM268.1 299.3h1.0v1.0h-1.0zM261.6 306.1h1.0v1.0h-1.0zM272.9 309.8h1.0v1.0h-1.0zM259.3 292.7h1.0v1.0h-1.0zM256.0 289.2h1.0v1.0h-1.0zM250.9 307.8h1.0v1.0h-1.0zM255.0 297.5h1.0v1.0h-1.0zM262.6 300.3h1.0v1.0h-1.0zM259.3 298.5h1.0v1.0h-1.0zM262.4 308.8h1.0v1.0h-1.0zM251.5 300.8h1.0v1.0h-1.0zM250.7 304.3h1.0v1.0h-1.0zM268.9 306.0h1.0v1.0h-1.0zM261.6 286.1h1.0v1.0h-1.0zM272.0 300.6h1.0v1.0h-1.0zM273.7 301.7h1.0v1.0h-1.0zM260.1 288.7h1.0v1.0h-1.0zM262.8 290.3h1.0v1.0h-1.0zM271.4 287.8h1.0v1.0h-1.0zM253.7 296.8h1.0v1.0h-1.0zM272.6 306.2h1.0v1.0h-1.0zM260.3 292.4h1.0v1.0h-1.0zM257.0 308.7h1.0v1.0h-1.0zM263.1 287.8h1.0v1.0h-1.0zM268.1 295.0h1.0v1.0h-1.0zM273.5 292.0h1.0v1.0h-1.0zM273.0 310.9h1.0v1.0h-1.0zM251.0 290.3h1.0v1.0h-1.0zM254.6 308.2h1.0v1.0h-1.0zM259.5 299.5h1.0v1.0h-1.0zM251.7 293.0h1.0v1.0h-1.0zM262.5 296.9h1.0v1.0h-1.0zM262.7 289.4h1.0v1.0h-1.0zM264.7 301.8h1.0v1.0h-1.0zM259.8 303.3h1.0v1.0h-1.0zM256.7 297.5h1.0v1.0h-1.0zM266.5 306.6h1.0v1.0h-1.0zM251.6 305.9h1.0v1.0h-1.0zM251.1 303.5h1.0v1.0h-1.0zM270.8 305.6h1.0v1.0h-1.0zM255.3 297.1h1.0v1.0h-1.0zM254.5 290.0h1.0v1.0h-1.0zM256.9 299.7h1.0v1.0h-1.0zM266.1 298.0h1.0v1.0h-1.0z" fill="#444" fill-opacity="0.6"/>
<path d="M253.5 268.9h1.0v1.0h-1.0zM259.0 237.1h1.0v1.0h-1.0zM256.4 246.8h1.0v1.0h-1.0zM258.8 278.6h1.0v1.0h-1.0zM253.9 268.0h1.0v1.0h-1.0zM254.3 268.0h1.0v1.0h-1.0zM252.9 263.6h1.0v1.0h-1.0zM261.1 249.1h1.0v1.0h-1.0zM258.9 262.6h1.0v1.0h-1.0zM255.1 252.4h1.0v1.0h-1.0zM252.5 271.1h1.0v1.0h-1.0zM255.4 265.1h1.0v1.0h-1.0zM259.8 276.2h1.0v1.0h-1.0zM261.0 273.5h1.0v1.0h-1.0zM253.7 273.6h1.0v1.0h-1.0zM261.2 234.9h1.0v1.0h-1.0zM254.0 231.1h1.0v1.0h-1.0zM252.4 249.9h1.0v1.0h-1.0zM253.3 279.1h1.0v1.0h-1.0zM252.2 261.5h1.0v1.0h-1.0zM254.4 260.1h1.0v1.0h-1.0zM259.7 272.9h1.0v1.0h-1.0zM256.8 263.0h1.0v1.0h-1.0zM259.9 235.8h1.0v1.0h-1.0zM252.9 254.6h1.0v1.0h-1.0z" fill="#555" fill-opacity="0.55"/>
<path d="M252.1 303.8h1.0v1.0h-1.0zM239.8 309.5h1.0v1.0h-1.0zM238.6 303.2h1.0v1.0h-1.0zM232.1 308.5h1.0v1.0h-1.0zM238.3 307.4h1.0v1.0h-1.0zM236.3 285.4h1.0v1.0h-1.0zM240.3 310.4h1.0v1.0h-1.0zM230.5 292.3h1.0v1.0h-1.0zM235.9 298.4h1.0v1.0h-1.0zM243.1 295.3h1.0v1.0h-1.0zM248.4 307.5h1.0v1.0h-1.0zM243.9 292.5h1.0v1.0h-1.0zM238.8 287.8h1.0v1.0h-1.0zM248.4 305.3h1.0v1.0h-1.0zM240.1 301.7h1.0v1.0h-1.0zM235.8 305.7h1.0v1.0h-1.0zM248.5 303.6h1.0v1.0h-1.0zM230.3 293.7h1.0v1.0h-1.0zM239.3 299.0h1.0v1.0h-1.0zM231.6 300.2h1.0v1.0h-1.0zM233.0 305.0h1.0v1.0h-1.0zM236.1 303.8h1.0v1.0h-1.0zM236.0 306.8h1.0v1.0h-1.0zM236.7 300.3h1.0v1.0h-1.0zM234.4 301.6h1.0v1.0h-1.0zM233.7 301.3h1.0v1.0h-1.0zM234.8 296.3h1.0v1.0h-1.0zM239.7 296.1h1.0v1.0h-1.0zM235.1 288.7h1.0v1.0h-1.0zM232.4 290.5h1.0v1.0h-1.0zM247.3 289.1h1.0v1.0h-1.0zM231.5 302.0h1.0v1.0h-1.0zM245.3 286.0h1.0v1.0h-1.0zM228.9 301.4h1.0v1.0h-1.0zM239.3 288.3h1.0v1.0h-1.0zM241.5 300.0h1.0v1.0h-1.0zM241.5 299.5h1.0v1.0h-1.0zM237.2 305.6h1.0v1.0h-1.0zM236.8 302.4h1.0v1.0h-1.0zM232.4 295.2h1.0v1.0h-1.0zM240.0 298.3h1.0v1.0h-1.0zM233.3 305.9h1.0v1.0h-1.0zM240.4 300.3h1.0v1.0h-1.0zM233.2 308.0h1.0v1.0h-1.0zM251.1 293.3h1.0v1.0h-1.0zM228.9 293.7h1.0v1.0h-1.0zM232.3 289.6h1.0v1.0h-1.0zM230.9 307.5h1.0v1.0h-1.0zM242.1 312.9h1.0v1.0h-1.0zM241.5 296.2h1.0v1.0h-1.0zM243.3 295.1h1.0v1.0h-1.0zM235.5 290.3h1.0v1.0h-1.0zM244.1 308.9h1.0v1.0h-1.0zM234.8 297.7h1.0v1.0h-1.0zM237.6 302.0h1.0v1.0h-1.0zM242.0 300.8h1.0v1.0h-1.0zM239.6 287.5h1.0v1.0h-1.0zM235.7 285.0h1.0v1.0h-1.0zM247.2 312.1h1.0v1.0h-1.0zM241.3 309.7h1.0v1.0h-1.0zM248.4 308.2h1.0v1.0h-1.0zM228.6 298.5h1.0v1.0h-1.0zM230.5 300.2h1.0v1.0h-1.0zM239.5 292.4h1.0v1.0h-1.0zM235.8 302.6h1.0v1.0h-1.0zM236.5 298.7h1.0v1.0h-1.0zM241.7 302.4h1.0v1.0h-1.0zM229.2 297.9h1.0v1.0h-1.0zM238.8 291.9h1.0v1.0h-1.0zM241.0 293.4h1.0v1.0h-1.0zM235.5 299.3h1.0v1.0h-1.0zM249.5 297.5h1.0v1.0h-1.0zM234.2 306.3h1.0v1.0h-1.0zM234.7 301.8h1.0v1.0h-1.0zM237.2 289.2h1.0v1.0h-1.0zM244.8 298.2h1.0v1.0h-1.0zM236.2 289.0h1.0v1.0h-1.0zM228.4 295.4h1.0v1.0h-1.0zM228.9 304.4h1.0v1.0h-1.0zM242.1 294.8h1.0v1.0h-1.0zM228.4 296.8h1.0v1.0h-1.0zM231.5 301.6h1.0v1.0h-1.0zM238.3 296.5h1.0v1.0h-1.0zM237.7 309.0h1.0v1.0h-1.0zM246.7 295.7h1.0v1.0h-1.0zM241.3 298.1h1.0v1.0h-1.0zM231.5 311.1h1.0v1.0h-1.0zM239.4 301.4h1.0v1.0h-1.0zM239.2 298.8h1.0v1.0h-1.0zM242.2 302.4h1.0v1.0h-1.0zM242.6 311.1h1.0v1.0h-1.0zM236.2 305.1h1.0v1.0h-1.0zM235.5 305.6h1.0v1.0h-1.0zM235.3 304.5h1.0v1.0h-1.0zM239.8 297.3h1.0v1.0h-1.0zM242.4 299.4h1.0v1.0h-1.0zM235.0 300.2h1.0v1.0h-1.0zM233.1 310.3h1.0v1.0h-1.0zM240.7 308.5h1.0v1.0h-1.0zM229.8 302.4h1.0v1.0h-1.0zM233.0 300.9h1.0v1.0h-1.0zM244.3 302.3h1.0v1.0h-1.0zM236.3 309.7h1.0v1.0h-1.0zM235.0 292.7h1.0v1.0h-1.0zM237.9 290.3h1.0v1.0h-1.0zM233.3 290.2h1.0v1.0h-1.0zM236.0 301.4h1.0v1.0h-1.0zM229.3 293.7h1.0v1.0h-1.0zM228.6 276.8h1.0v1.0h-1.0zM243.7 304.4h1.0v1.0h-1.0zM239.2 303.1h1.0v1.0h-1.0zM231.6 309.3h1.0v1.0h-1.0zM238.5 284.5h1.0v1.0h-1.0zM235.9 309.2h1.0v1.0h-1.0zM236.1 294.8h1.0v1.0h-1.0zM234.8 303.4h1.0v1.0h-1.0zM231.0 292.4h1.0v1.0h-1.0zM243.4 296.9h1.0v1.0h-1.0zM235.1 289.4h1.0v1.0h-1.0zM238.4 306.8h1.0v1.0h-1.0zM234.8 298.6h1.0v1.0h-1.0zM230.6 312.1h1.0v1.0h-1.0zM233.9 298.9h1.0v1.0h-1.0zM246.6 298.3h1.0v1.0h-1.0zM228.7 292.3h1.0v1.0h-1.0zM238.5 298.3h1.0v1.0h-1.0zM241.9 311.3h1.0v1.0h-1.0zM233.1 312.4h1.0v1.0h-1.0zM242.1 304.0h1.0v1.0h-1.0zM245.0 297.9h1.0v1.0h-1.0zM250.1 300.9h1.0v1.0h-1.0zM231.7 305.3h1.0v1.0h-1.0zM239.0 307.4h1.0v1.0h-1.0zM236.1 311.4h1.0v1.0h-1.0zM234.3 301.4h1.0v1.0h-1.0zM230.4 293.4h1.0v1.0h-1.0zM238.5 294.7h1.0v1.0h-1.0zM234.9 298.5h1.0v1.0h-1.0zM238.8 306.8h1.0v1.0h-1.0zM241.6 309.1h1.0v1.0h-1.0zM238.5 295.6h1.0v1.0h-1.0zM228.6 297.3h1.0v1.0h-1.0zM232.9 284.7h1.0v1.0h-1.0zM246.5 284.5h1.0v1.0h-1.0zM239.3 305.1h1.0v1.0h-1.0zM237.5 293.7h1.0v1.0h-1.0zM247.2 293.4h1.0v1.0h-1.0zM229.4 291.7h1.0v1.0h-1.0zM233.8 300.7h1.0v1.0h-1.0zM239.3 287.2h1.0v1.0h-1.0zM233.4 299.2h1.0v1.0h-1.0zM241.3 310.7h1.0v1.0h-1.0zM233.7 292.0h1.0v1.0h-1.0zM231.8 309.8h1.0v1.0h-1.0zM242.4 281.7h1.0v1.0h-1.0zM229.0 303.8h1.0v1.0h-1.0zM241.8 301.4h1.0v1.0h-1.0zM244.0 292.6h1.0v1.0h-1.0zM229.6 300.6h1.0v1.0h-1.0zM242.6 286.3h1.0v1.0h-1.0zM242.4 307.7h1.0v1.0h-1.0zM234.6 301.8h1.0v1.0h-1.0zM235.8 301.0h1.0v1.0h-1.0zM241.9 293.4h1.0v1.0h-1.0zM243.2 307.8h1.0v1.0h-1.0zM242.4 283.3h1.0v1.0h-1.0zM234.1 294.3h1.0v1.0h-1.0zM233.1 288.7h1.0v1.0h-1.0zM235.8 294.1h1.0v1.0h-1.0zM233.7 304.4h1.0v1.0h-1.0zM230.8 310.0h1.0v1.0h-1.0zM229.8 305.3h1.0v1.0h-1.0zM242.5 300.3h1.0v1.0h-1.0zM241.5 299.4h1.0v1.0h-1.0zM243.8 295.5h1.0v1.0h-1.0zM239.2 302.9h1.0v1.0h-1.0zM243.6 305.1h1.0v1.0h-1.0zM240.2 283.0h1.0v1.0h-1.0zM249.8 300.7h1.0v1.0h-1.0zM242.2 297.3h1.0v1.0h-1.0zM236.5 300.8h1.0v1.0h-1.0zM246.2 313.4h1.0v1.0h-1.0zM235.2 304.8h1.0v1.0h-1.0zM234.8 311.6h1.0v1.0h-1.0zM237.6 308.8h1.0v1.0h-1.0zM247.1 282.4h1.0v1.0h-1.0zM249.6 303.1h1.0v1.0h-1.0zM235.6 283.7h1.0v1.0h-1.0zM235.7 280.4h1.0v1.0h-1.0zM237.9 298.9h1.0v1.0h-1.0zM247.7 297.5h1.0v1.0h-1.0zM243.4 310.5h1.0v1.0h-1.0zM249.0 298.2h1.0v1.0h-1.0zM241.7 287.2h1.0v1.0h-1.0zM231.2 298.0h1.0v1.0h-1.0zM237.3 289.8h1.0v1.0h-1.0zM235.1 306.5h1.0v1.0h-1.0zM234.9 299.1h1.0v1.0h-1.0zM232.4 312.4h1.0v1.0h-1.0zM247.5 302.2h1.0v1.0h-1.0zM240.2 294.6h1.0v1.0h-1.0zM229.9 295.3h1.0v1.0h-1.0zM249.8 295.3h1.0v1.0h-1.0zM253.8 300.4h1.0v1.0h-1.0zM236.2 312.0h1.0v1.0h-1.0zM236.1 303.8h1.0v1.0h-1.0zM231.6 289.6h1.0v1.0h-1.0zM233.3 302.4h1.0v1.0h-1.0zM233.7 283.3h1.0v1.0h-1.0zM240.2 299.0h1.0v1.0h-1.0zM235.9 295.1h1.0v1.0h-1.0zM234.8 305.1h1.0v1.0h-1.0zM245.3 310.3h1.0v1.0h-1.0zM238.6 300.6h1.0v1.0h-1.0zM239.2 308.4h1.0v1.0h-1.0zM240.8 296.6h1.0v1.0h-1.0zM240.0 303.8h1.0v1.0h-1.0zM241.4 302.3h1.0v1.0h-1.0zM245.2 302.2h1.0v1.0h-1.0zM242.5 300.9h1.0v1.0h-1.0zM234.2 292.2h1.0v1.0h-1.0zM236.6 305.2h1.0v1.0h-1.0zM244.6 299.7h1.0v1.0h-1.0zM234.6 296.1h1.0v1.0h-1.0zM244.8 301.4h1.0v1.0h-1.0zM234.7 306.9h1.0v1.0h-1.0zM230.0 301.5h1.0v1.0h-1.0zM237.3 299.3h1.0v1.0h-1.0zM231.0 309.1h1.0v1.0h-1.0zM247.0 288.9h1.0v1.0h-1.0zM238.2 306.1h1.0v1.0h-1.0zM250.2 296.9h1.0v1.0h-1.0zM232.1 300.5h1.0v1.0h-1.0zM248.9 301.1h1.0v1.0h-1.0zM242.6 307.2h1.0v1.0h-1.0zM229.7 305.0h1.0v1.0h-1.0zM237.7 302.4h1.0v1.0h-1.0zM233.0 296.5h1.0v1.0h-1.0zM232.6 300.9h1.0v1.0h-1.0zM241.0 286.8h1.0v1.0h-1.0zM239.8 313.0h1.0v1.0h-1.0zM239.1 310.0h1.0v1.0h-1.0zM237.3 306.6h1.0v1.0h-1.0zM232.2 307.4h1.0v1.0h-1.0zM229.7 311.8h1.0v1.0h-1.0zM229.0 282.1h1.0v1.0h-1.0zM240.5 299.0h1.0v1.0h-1.0zM238.1 304.2h1.0v1.0h-1.0zM237.3 292.8h1.0v1.0h-1.0zM238.7 303.5h1.0v1.0h-1.0zM233.4 301.1h1.0v1.0h-1.0zM240.7 296.6h1.0v1.0h-1.0zM230.7 295.6h1.0v1.0h-1.0zM243.5 298.2h1.0v1.0h-1.0zM241.0 294.1h1.0v1.0h-1.0zM240.0 294.6h1.0v1.0h-1.0zM232.7 301.5h1.0v1.0h-1.0zM237.8 313.3h1.0v1.0h-1.0zM228.3 304.9h1.0v1.0h-1.0zM246.6 312.4h1.0v1.0h-1.0zM235.3 294.6h1.0v1.0h-1.0zM234.7 303.1h1.0v1.0h-1.0zM238.6 303.5h1.0v1.0h-1.0zM240.9 291.2h1.0v1.0h-1.0zM231.1 289.8h1.0v1.0h-1.0zM229.9 299.6h1.0v1.0h-1.0zM240.5 300.6h1.0v1.0h-1.0zM245.5 294.1h1.0v1.0h-1.0zM239.4 309.0h1.0v1.0h-1.0zM241.9 304.0h1.0v1.0h-1.0zM235.5 289.7h1.0v1.0h-1.0zM236.6 295.3h1.0v1.0h-1.0zM241.4 299.3h1.0v1.0h-1.0zM240.7 286.5h1.0v1.0h-1.0zM243.0 293.1h1.0v1.0h-1.0zM228.7 288.5h1.0v1.0h-1.0zM234.0 310.3h1.0v1.0h-1.0zM241.5 290.3h1.0v1.0h-1.0zM238.0 299.6h1.0v1.0h-1.0zM228.7 291.9h1.0v1.0h-1.0zM232.2 293.6h1.0v1.0h-1.0zM232.9 310.6h1.0v1.0h-1.0zM235.5 302.6h1.0v1.0h-1.0zM241.8 308.3h1.0v1.0h-1.0zM241.3 295.7h1.0v1.0h-1.0zM231.3 293.7h1.0v1.0h-1.0zM234.8 300.5h1.0v1.0h-1.0zM237.0 310.0h1.0v1.0h-1.0zM243.3 296.3h1.0v1.0h-1.0zM242.3 275.5h1.0v1.0h-1.0zM245.3 304.1h1.0v1.0h-1.0zM239.7 285.8h1.0v1.0h-1.0zM251.7 298.3h1.0v1.0h-1.0zM236.7 310.3h1.0v1.0h-1.0zM236.4 293.1h1.0v1.0h-1.0zM241.2 291.7h1.0v1.0h-1.0zM241.7 301.7h1.0v1.0h-1.0zM243.8 290.0h1.0v1.0h-1.0zM244.5 303.1h1.0v1.0h-1.0zM248.6 294.8h1.0v1.0h-1.0zM247.9 306.6h1.0v1.0h-1.0zM241.9 294.2h1.0v1.0h-1.0zM240.6 306.3h1.0v1.0h-1.0zM232.8 290.4h1.0v1.0h-1.0zM233.2 313.2h1.0v1.0h-1.0zM238.4 308.6h1.0v1.0h-1.0zM239.1 301.5h1.0v1.0h-1.0zM238.7 296.9h1.0v1.0h-1.0zM244.4 302.0h1.0v1.0h-1.0zM238.8 288.5h1.0v1.0h-1.0zM239.2 294.6h1.0v1.0h-1.0zM234.7 309.5h1.0v1.0h-1.0zM231.4 298.8h1.0v1.0h-1.0zM241.0 310.5h1.0v1.0h-1.0zM234.6 303.3h1.0v1.0h-1.0zM239.1 290.7h1.0v1.0h-1.0zM240.9 301.4h1.0v1.0h-1.0zM230.0 294.9h1.0v1.0h-1.0zM235.2 297.4h1.0v1.0h-1.0zM233.1 301.7h1.0v1.0h-1.0zM233.2 295.0h1.0v1.0h-1.0zM232.5 298.5h1.0v1.0h-1.0zM234.4 303.5h1.0v1.0h-1.0zM238.7 292.7h1.0v1.0h-1.0zM248.3 290.3h1.0v1.0h-1.0zM233.5 312.0h1.0v1.0h-1.0zM245.5 303.4h1.0v1.0h-1.0zM238.0 295.7h1.0v1.0h-1.0zM244.7 294.2h1.0v1.0h-1.0zM243.5 295.7h1.0v1.0h-1.0zM240.5 291.1h1.0v1.0h-1.0zM235.3 292.5h1.0v1.0h-1.0zM233.5 302.1h1.0v1.0h-1.0zM236.5 302.1h1.0v1.0h-1.0zM244.7 299.5h1.0v1.0h-1.0zM237.9 309.3h1.0v1.0h-1.0zM243.3 308.7h1.0v1.0h-1.0zM236.2 306.1h1.0v1.0h-1.0zM229.4 311.7h1.0v1.0h-1.0zM240.0 304.9h1.0v1.0h-1.0zM235.4 301.0h1.0v1.0h-1.0zM233.7 305.4h1.0v1.0h-1.0zM230.0 308.9h1.0v1.0h-1.0zM237.3 299.7h1.0v1.0h-1.0zM238.6 300.8h1.0v1.0h-1.0zM236.9 290.9h1.0v1.0h-1.0zM231.3 295.6h1.0v1.0h-1.0zM235.9 290.2h1.0v1.0h-1.0zM231.0 298.0h1.0v1.0h-1.0zM241.7 298.8h1.0v1.0h-1.0zM241.3 308.9h1.0v1.0h-1.0zM241.8 296.8h1.0v1.0h-1.0zM235.2 284.3h1.0v1.0h-1.0zM233.7 304.6h1.0v1.0h-1.0zM231.4 312.2h1.0v1.0h-1.0zM245.6 297.3h1.0v1.0h-1.0zM242.7 288.2h1.0v1.0h-1.0zM231.6 297.3h1.0v1.0h-1.0zM237.5 298.9h1.0v1.0h-1.0zM239.1 303.0h1.0v1.0h-1.0zM241.3 302.0h1.0v1.0h-1.0zM236.2 295.7h1.0v1.0h-1.0zM228.3 313.5h1.0v1.0h-1.0zM232.3 286.1h1.0v1.0h-1.0zM233.0 286.6h1.0v1.0h-1.0zM248.7 303.7h1.0v1.0h-1.0zM245.4 313.1h1.0v1.0h-1.0zM240.7 305.5h1.0v1.0h-1.0zM233.4 299.8h1.0v1.0h-1.0zM234.1 300.9h1.0v1.0h-1.0zM233.6 311.5h1.0v1.0h-1.0zM241.8 299.6h1.0v1.0h-1.0zM228.1 306.4h1.0v1.0h-1.0zM242.5 299.9h1.0v1.0h-1.0zM230.4 304.3h1.0v1.0h-1.0zM243.4 283.9h1.0v1.0h-1.0zM240.7 284.8h1.0v1.0h-1.0zM238.0 304.7h1.0v1.0h-1.0zM235.7 300.4h1.0v1.0h-1.0zM250.7 312.1h1.0v1.0h-1.0zM235.7 297.2h1.0v1.0h-1.0zM238.7 310.1h1.0v1.0h-1.0zM235.5 289.5h1.0v1.0h-1.0zM244.9 299.8h1.0v1.0h-1.0zM233.1 294.5h1.0v1.0h-1.0zM233.7 295.2h1.0v1.0h-1.0zM228.9 310.9h1.0v1.0h-1.0zM239.6 308.9h1.0v1.0h-1.0zM235.6 303.5h1.0v1.0h-1.0zM238.4 310.7h1.0v1.0h-1.0zM242.1 303.6h1.0v1.0h-1.0zM233.9 290.1h1.0v1.0h-1.0zM233.0 295.0h1.0v1.0h-1.0zM234.5 289.8h1.0v1.0h-1.0zM246.8 302.8h1.0v1.0h-1.0zM230.0 302.6h1.0v1.0h-1.0zM243.5 292.0h1.0v1.0h-1.0zM241.0 298.1h1.0v1.0h-1.0zM243.9 312.3h1.0v1.0h-1.0zM239.2 306.7h1.0v1.0h-1.0zM237.5 297.3h1.0v1.0h-1.0zM231.0 303.3h1.0v1.0h-1.0zM237.1 297.2h1.0v1.0h-1.0zM237.1 298.9h1.0v1.0h-1.0zM231.7 295.9h1.0v1.0h-1.0zM243.9 298.5h1.0v1.0h-1.0zM245.3 290.6h1.0v1.0h-1.0zM229.9 301.6h1.0v1.0h-1.0zM241.8 294.8h1.0v1.0h-1.0zM241.0 308.5h1.0v1.0h-1.0zM243.5 299.5h1.0v1.0h-1.0zM237.2 286.3h1.0v1.0h-1.0zM237.6 302.9h1.0v1.0h-1.0zM245.4 289.6h1.0v1.0h-1.0zM232.8 291.9h1.0v1.0h-1.0zM242.5 278.7h1.0v1.0h-1.0zM241.2 289.1h1.0v1.0h-1.0zM237.2 307.8h1.0v1.0h-1.0zM240.6 298.6h1.0v1.0h-1.0zM233.1 307.7h1.0v1.0h-1.0zM237.5 307.5h1.0v1.0h-1.0zM239.7 296.5h1.0v1.0h-1.0zM245.5 296.2h1.0v1.0h-1.0zM239.9 295.1h1.0v1.0h-1.0zM236.2 298.4h1.0v1.0h-1.0zM233.8 302.5h1.0v1.0h-1.0zM245.5 299.0h1.0v1.0h-1.0zM245.6 304.1h1.0v1.0h-1.0zM247.5 289.7h1.0v1.0h-1.0zM245.7 295.4h1.0v1.0h-1.0zM243.9 296.5h1.0v1.0h-1.0zM242.6 298.1h1.0v1.0h-1.0zM236.2 300.7h1.0v1.0h-1.0zM233.4 298.7h1.0v1.0h-1.0zM238.7 293.5h1.0v1.0h-1.0zM229.1 303.1h1.0v1.0h-1.0zM235.7 308.1h1.0v1.0h-1.0zM234.6 306.0h1.0v1.0h-1.0zM232.6 302.8h1.0v1.0h-1.0zM238.0 304.4h1.0v1.0h-1.0zM232.3 299.5h1.0v1.0h-1.0zM232.8 299.1h1.0v1.0h-1.0zM237.7 306.6h1.0v1.0h-1.0zM238.1 310.2h1.0v1.0h-1.0z" fill="#333" fill-opacity="0.8"/>
<path d="M276.8 302.4h1.0v1.0h-1.0zM271.4 273.6h1.0v1.0h-1.0zM277.5 265.7h1.0v1.0h-1.0zM272.1 278.2h1.0v1.0h-1.0zM268.9 278.5h1.0v1.0h-1.0zM281.6 263.0h1.0v1.0h-1.0zM261.7 273.8h1.0v1.0h-1.0zM268.3 275.3h1.0v1.0h-1.0zM271.3 277.0h1.0v1.0h-1.0zM279.3 283.0h1.0v1.0h-1.0zM273.2 261.7h1.0v1.0h-1.0zM262.7 250.2h1.0v1.0h-1.0zM269.7 274.6h1.0v1.0h-1.0zM270.9 267.4h1.0v1.0h-1.0zM266.9 255.9h1.0v1.0h-1.0zM264.2 279.4h1.0v1.0h-1.0zM262.7 279.8h1.0v1.0h-1.0zM268.6 278.8h1.0v1.0h-1.0zM274.4 281.5h1.0v1.0h-1.0zM280.9 265.9h1.0v1.0h-1.0zM269.0 268.4h1.0v1.0h-1.0zM269.0 279.8h1.0v1.0h-1.0zM273.1 273.3h1.0v1.0h-1.0zM276.4 268.5h1.0v1.0h-1.0zM281.2 254.6h1.0v1.0h-1.0zM274.5 278.4h1.0v1.0h-1.0zM270.2 265.6h1.0v1.0h-1.0zM278.8 270.2h1.0v1.0h-1.0zM264.6 258.1h1.0v1.0h-1.0zM279.8 264.4h1.0v1.0h-1.0zM279.4 287.9h1.0v1.0h-1.0zM272.0 278.6h1.0v1.0h-1.0zM269.6 268.4h1.0v1.0h-1.0zM269.3 278.8h1.0v1.0h-1.0zM266.9 271.0h1.0v1.0h-1.0zM273.4 278.4h1.0v1.0h-1.0zM263.9 253.4h1.0v1.0h-1.0zM269.1 270.2h1.0v1.0h-1.0zM274.1 275.0h1.0v1.0h-1.0zM283.8 280.7h1.0v1.0h-1.0zM277.2 268.1h1.0v1.0h-1.0zM277.1 280.5h1.0v1.0h-1.0zM277.2 272.0h1.0v1.0h-1.0zM275.5 289.0h1.0v1.0h-1.0zM271.3 250.0h1.0v1.0h-1.0zM277.3 280.9h1.0v1.0h-1.0zM272.7 268.1h1.0v1.0h-1.0zM288.7 269.3h1.0v1.0h-1.0zM267.5 267.3h1.0v1.0h-1.0zM276.8 266.7h1.0v1.0h-1.0zM271.2 275.8h1.0v1.0h-1.0zM271.1 274.0h1.0v1.0h-1.0zM274.3 261.8h1.0v1.0h-1.0zM275.0 260.8h1.0v1.0h-1.0zM279.4 263.6h1.0v1.0h-1.0zM273.9 253.8h1.0v1.0h-1.0zM272.3 259.6h1.0v1.0h-1.0zM281.6 272.2h1.0v1.0h-1.0zM277.9 254.9h1.0v1.0h-1.0zM267.1 270.4h1.0v1.0h-1.0zM265.2 284.0h1.0v1.0h-1.0zM271.2 274.1h1.0v1.0h-1.0zM275.3 271.4h1.0v1.0h-1.0zM278.2 266.1h1.0v1.0h-1.0zM274.4 285.3h1.0v1.0h-1.0zM274.5 274.1h1.0v1.0h-1.0zM271.7 273.2h1.0v1.0h-1.0zM277.3 270.5h1.0v1.0h-1.0zM264.4 273.6h1.0v1.0h-1.0zM272.3 277.5h1.0v1.0h-1.0zM272.3 289.0h1.0v1.0h-1.0zM268.0 262.1h1.0v1.0h-1.0zM277.9 262.4h1.0v1.0h-1.0zM275.2 272.7h1.0v1.0h-1.0zM262.5 278.7h1.0v1.0h-1.0zM280.6 275.5h1.0v1.0h-1.0zM265.4 280.2h1.0v1.0h-1.0zM268.1 271.0h1.0v1.0h-1.0zM276.4 264.9h1.0v1.0h-1.0zM264.6 270.4h1.0v1.0h-1.0zM274.0 263.9h1.0v1.0h-1.0zM268.7 279.9h1.0v1.0h-1.0zM273.4 267.8h1.0v1.0h-1.0zM270.2 274.1h1.0v1.0h-1.0zM274.1 270.9h1.0v1.0h-1.0zM266.5 268.2h1.0v1.0h-1.0zM270.1 273.0h1.0v1.0h-1.0zM278.7 282.9h1.0v1.0h-1.0zM276.7 274.1h1.0v1.0h-1.0zM271.5 275.9h1.0v1.0h-1.0zM271.3 268.9h1.0v1.0h-1.0zM269.1 271.7h1.0v1.0h-1.0zM271.4 291.4h1.0v1.0h-1.0zM276.7 269.0h1.0v1.0h-1.0zM277.9 268.2h1.0v1.0h-1.0zM278.0 281.0h1.0v1.0h-1.0zM289.6 262.9h1.0v1.0h-1.0zM273.2 271.4h1.0v1.0h-1.0zM274.4 280.0h1.0v1.0h-1.0zM269.0 264.8h1.0v1.0h-1.0zM274.2 282.6h1.0v1.0h-1.0zM269.0 256.4h1.0v1.0h-1.0zM278.7 281.7h1.0v1.0h-1.0zM280.0 263.3h1.0v1.0h-1.0zM272.2 274.8h1.0v1.0h-1.0zM275.8 271.6h1.0v1.0h-1.0zM272.3 282.8h1.0v1.0h-1.0zM271.7 266.9h1.0v1.0h-1.0zM271.7 267.3h1.0v1.0h-1.0zM274.3 270.6h1.0v1.0h-1.0zM269.9 286.8h1.0v1.0h-1.0zM275.3 269.4h1.0v1.0h-1.0zM280.5 267.6h1.0v1.0h-1.0zM273.5 271.7h1.0v1.0h-1.0zM270.8 268.5h1.0v1.0h-1.0zM275.1 258.3h1.0v1.0h-1.0zM271.2 275.0h1.0v1.0h-1.0zM274.6 275.7h1.0v1.0h-1.0zM284.9 280.4h1.0v1.0h-1.0zM272.8 271.3h1.0v1.0h-1.0zM273.1 277.0h1.0v1.0h-1.0zM270.6 287.6h1.0v1.0h-1.0zM267.2 278.4h1.0v1.0h-1.0zM277.0 261.4h1.0v1.0h-1.0zM276.2 278.5h1.0v1.0h-1.0zM268.1 295.4h1.0v1.0h-1.0zM277.4 269.6h1.0v1.0h-1.0zM271.6 265.0h1.0v1.0h-1.0zM274.7 273.3h1.0v1.0h-1.0zM267.1 261.6h1.0v1.0h-1.0zM270.1 268.3h1.0v1.0h-1.0zM272.2 265.8h1.0v1.0h-1.0zM275.9 282.3h1.0v1.0h-1.0zM275.7 250.8h1.0v1.0h-1.0zM272.1 278.1h1.0v1.0h-1.0zM272.8 275.3h1.0v1.0h-1.0zM275.3 257.8h1.0v1.0h-1.0zM259.9 277.6h1.0v1.0h-1.0zM270.4 276.5h1.0v1.0h-1.0zM272.0 270.8h1.0v1.0h-1.0zM281.5 261.3h1.0v1.0h-1.0zM274.3 261.7h1.0v1.0h-1.0zM273.4 277.3h1.0v1.0h-1.0zM276.6 274.4h1.0v1.0h-1.0zM266.2 274.4h1.0v1.0h-1.0zM277.1 282.9h1.0v1.0h-1.0zM283.9 279.1h1.0v1.0h-1.0zM268.7 267.0h1.0v1.0h-1.0zM273.0 283.0h1.0v1.0h-1.0zM266.8 281.1h1.0v1.0h-1.0zM277.5 264.2h1.0v1.0h-1.0zM277.2 265.3h1.0v1.0h-1.0zM273.7 269.6h1.0v1.0h-1.0zM275.7 261.0h1.0v1.0h-1.0zM278.0 251.3h1.0v1.0h-1.0zM271.8 266.8h1.0v1.0h-1.0zM281.0 278.6h1.0v1.0h-1.0zM271.7 263.5h1.0v1.0h-1.0zM274.2 266.3h1.0v1.0h-1.0zM287.2 246.0h1.0v1.0h-1.0zM275.9 248.2h1.0v1.0h-1.0zM279.4 265.1h1.0v1.0h-1.0zM282.1 267.9h1.0v1.0h-1.0zM278.8 275.1h1.0v1.0h-1.0zM279.4 273.3h1.0v1.0h-1.0zM258.9 264.1h1.0v1.0h-1.0zM264.7 281.3h1.0v1.0h-1.0zM276.2 272.9h1.0v1.0h-1.0zM275.6 274.7h1.0v1.0h-1.0zM268.8 291.7h1.0v1.0h-1.0zM274.8 270.8h1.0v1.0h-1.0zM266.5 265.8h1.0v1.0h-1.0zM273.6 270.8h1.0v1.0h-1.0zM271.0 271.9h1.0v1.0h-1.0zM267.7 272.2h1.0v1.0h-1.0zM266.3 263.4h1.0v1.0h-1.0zM268.9 280.9h1.0v1.0h-1.0zM275.9 273.6h1.0v1.0h-1.0zM267.9 268.1h1.0v1.0h-1.0zM276.4 285.4h1.0v1.0h-1.0zM266.3 267.7h1.0v1.0h-1.0zM273.7 276.1h1.0v1.0h-1.0zM272.9 279.3h1.0v1.0h-1.0zM264.7 287.4h1.0v1.0h-1.0zM267.5 272.7h1.0v1.0h-1.0zM275.1 284.5h1.0v1.0h-1.0zM277.3 281.7h1.0v1.0h-1.0zM280.1 271.7h1.0v1.0h-1.0zM276.0 288.3h1.0v1.0h-1.0zM270.8 258.4h1.0v1.0h-1.0zM267.1 286.3h1.0v1.0h-1.0zM280.1 269.7h1.0v1.0h-1.0zM274.3 277.5h1.0v1.0h-1.0zM280.5 254.4h1.0v1.0h-1.0zM270.8 269.9h1.0v1.0h-1.0zM275.1 273.6h1.0v1.0h-1.0zM271.6 275.5h1.0v1.0h-1.0zM257.6 302.3h1.0v1.0h-1.0zM276.9 282.0h1.0v1.0h-1.0zM269.8 276.6h1.0v1.0h-1.0zM282.5 291.8h1.0v1.0h-1.0zM275.0 260.4h1.0v1.0h-1.0zM274.6 269.9h1.0v1.0h-1.0zM279.0 260.4h1.0v1.0h-1.0zM272.3 275.4h1.0v1.0h-1.0zM270.2 283.1h1.0v1.0h-1.0zM268.8 259.9h1.0v1.0h-1.0zM271.0 280.9h1.0v1.0h-1.0zM272.5 266.8h1.0v1.0h-1.0zM277.5 275.4h1.0v1.0h-1.0zM270.7 273.8h1.0v1.0h-1.0zM271.8 278.8h1.0v1.0h-1.0zM275.0 264.9h1.0v1.0h-1.0zM271.4 268.4h1.0v1.0h-1.0zM275.1 276.7h1.0v1.0h-1.0zM269.4 270.5h1.0v1.0h-1.0zM274.1 283.9h1.0v1.0h-1.0zM273.1 292.5h1.0v1.0h-1.0zM273.0 280.2h1.0v1.0h-1.0zM272.7 262.7h1.0v1.0h-1.0zM273.6 277.7h1.0v1.0h-1.0zM275.1 274.4h1.0v1.0h-1.0zM272.5 264.4h1.0v1.0h-1.0zM271.6 277.4h1.0v1.0h-1.0zM281.3 240.3h1.0v1.0h-1.0zM275.7 283.9h1.0v1.0h-1.0zM279.7 277.2h1.0v1.0h-1.0zM277.4 268.6h1.0v1.0h-1.0zM272.6 278.0h1.0v1.0h-1.0zM268.6 264.4h1.0v1.0h-1.0zM275.7 259.5h1.0v1.0h-1.0zM275.1 257.9h1.0v1.0h-1.0zM274.5 273.2h1.0v1.0h-1.0zM271.4 263.1h1.0v1.0h-1.0zM272.9 250.1h1.0v1.0h-1.0zM271.4 273.8h1.0v1.0h-1.0zM280.2 268.2h1.0v1.0h-1.0zM271.4 286.6h1.0v1.0h-1.0zM282.9 268.7h1.0v1.0h-1.0zM277.9 285.1h1.0v1.0h-1.0zM277.0 263.1h1.0v1.0h-1.0zM268.2 278.2h1.0v1.0h-1.0zM285.7 272.1h1.0v1.0h-1.0zM279.9 292.5h1.0v1.0h-1.0zM267.6 266.2h1.0v1.0h-1.0zM280.5 283.3h1.0v1.0h-1.0zM276.4 272.9h1.0v1.0h-1.0zM277.3 266.7h1.0v1.0h-1.0zM287.4 262.4h1.0v1.0h-1.0zM264.1 273.5h1.0v1.0h-1.0zM281.4 268.5h1.0v1.0h-1.0zM274.1 262.5h1.0v1.0h-1.0zM274.0 262.6h1.0v1.0h-1.0zM269.6 257.6h1.0v1.0h-1.0zM269.0 291.2h1.0v1.0h-1.0zM273.0 274.7h1.0v1.0h-1.0zM285.6 267.4h1.0v1.0h-1.0zM267.9 277.6h1.0v1.0h-1.0zM266.9 275.6h1.0v1.0h-1.0zM280.4 262.5h1.0v1.0h-1.0zM269.3 289.6h1.0v1.0h-1.0zM268.6 265.5h1.0v1.0h-1.0zM275.0 269.7h1.0v1.0h-1.0zM267.7 288.5h1.0v1.0h-1.0zM270.2 275.9h1.0v1.0h-1.0zM271.6 270.3h1.0v1.0h-1.0zM265.6 281.5h1.0v1.0h-1.0zM270.2 285.4h1.0v1.0h-1.0zM267.9 267.4h1.0v1.0h-1.0zM275.9 274.1h1.0v1.0h-1.0zM270.2 271.1h1.0v1.0h-1.0zM266.8 272.8h1.0v1.0h-1.0zM259.6 273.3h1.0v1.0h-1.0zM279.7 282.4h1.0v1.0h-1.0zM278.3 268.9h1.0v1.0h-1.0zM276.4 269.0h1.0v1.0h-1.0zM273.1 271.7h1.0v1.0h-1.0zM255.3 280.6h1.0v1.0h-1.0zM275.1 281.5h1.0v1.0h-1.0zM268.0 279.3h1.0v1.0h-1.0zM278.0 250.5h1.0v1.0h-1.0zM264.3 272.5h1.0v1.0h-1.0zM270.1 272.3h1.0v1.0h-1.0zM268.9 287.6h1.0v1.0h-1.0zM264.9 258.2h1.0v1.0h-1.0zM269.7 258.6h1.0v1.0h-1.0zM270.5 272.2h1.0v1.0h-1.0zM266.2 275.9h1.0v1.0h-1.0zM279.3 284.4h1.0v1.0h-1.0zM282.9 285.1h1.0v1.0h-1.0zM271.8 290.7h1.0v1.0h-1.0zM275.5 292.0h1.0v1.0h-1.0zM274.4 251.6h1.0v1.0h-1.0zM267.3 274.1h1.0v1.0h-1.0zM276.6 271.0h1.0v1.0h-1.0zM279.7 261.7h1.0v1.0h-1.0zM269.0 282.5h1.0v1.0h-1.0zM273.7 273.9h1.0v1.0h-1.0zM279.9 284.6h1.0v1.0h-1.0zM269.3 274.6h1.0v1.0h-1.0zM264.8 272.0h1.0v1.0h-1.0zM277.1 255.6h1.0v1.0h-1.0zM279.9 293.8h1.0v1.0h-1.0zM275.3 282.5h1.0v1.0h-1.0zM281.5 271.9h1.0v1.0h-1.0zM278.6 277.3h1.0v1.0h-1.0zM266.5 263.2h1.0v1.0h-1.0zM269.7 283.5h1.0v1.0h-1.0zM273.2 283.0h1.0v1.0h-1.0zM272.3 259.9h1.0v1.0h-1.0zM281.9 301.4h1.0v1.0h-1.0zM275.8 271.2h1.0v1.0h-1.0zM280.7 262.4h1.0v1.0h-1.0zM273.8 258.5h1.0v1.0h-1.0zM275.9 275.7h1.0v1.0h-1.0zM272.1 266.3h1.0v1.0h-1.0zM266.5 264.0h1.0v1.0h-1.0zM280.3 270.0h1.0v1.0h-1.0zM280.9 264.9h1.0v1.0h-1.0zM273.6 268.4h1.0v1.0h-1.0zM271.6 280.7h1.0v1.0h-1.0zM262.3 279.6h1.0v1.0h-1.0zM277.2 273.4h1.0v1.0h-1.0zM274.2 270.8h1.0v1.0h-1.0zM277.1 273.9h1.0v1.0h-1.0zM269.1 274.2h1.0v1.0h-1.0zM278.2 277.2h1.0v1.0h-1.0zM273.6 275.1h1.0v1.0h-1.0zM271.5 268.2h1.0v1.0h-1.0zM264.0 270.3h1.0v1.0h-1.0zM279.0 269.6h1.0v1.0h-1.0zM268.1 281.6h1.0v1.0h-1.0zM274.3 274.5h1.0v1.0h-1.0zM275.4 280.3h1.0v1.0h-1.0zM274.1 264.7h1.0v1.0h-1.0zM282.5 274.4h1.0v1.0h-1.0zM269.5 274.5h1.0v1.0h-1.0zM281.0 259.4h1.0v1.0h-1.0zM280.5 272.3h1.0v1.0h-1.0zM283.3 280.6h1.0v1.0h-1.0zM272.0 285.5h1.0v1.0h-1.0zM280.5 270.1h1.0v1.0h-1.0zM275.3 268.0h1.0v1.0h-1.0zM279.6 259.4h1.0v1.0h-1.0zM274.6 251.7h1.0v1.0h-1.0zM278.6 251.0h1.0v1.0h-1.0zM267.9 275.2h1.0v1.0h-1.0zM272.2 268.4h1.0v1.0h-1.0zM269.1 267.9h1.0v1.0h-1.0zM264.3 275.5h1.0v1.0h-1.0zM277.1 281.0h1.0v1.0h-1.0zM272.4 285.2h1.0v1.0h-1.0zM275.2 282.8h1.0v1.0h-1.0zM275.6 273.6h1.0v1.0h-1.0zM272.0 246.5h1.0v1.0h-1.0zM277.0 272.2h1.0v1.0h-1.0zM285.5 254.2h1.0v1.0h-1.0zM278.8 264.0h1.0v1.0h-1.0zM274.4 264.2h1.0v1.0h-1.0zM275.4 272.9h1.0v1.0h-1.0zM278.0 274.9h1.0v1.0h-1.0zM275.0 286.0h1.0v1.0h-1.0zM276.4 272.0h1.0v1.0h-1.0zM280.1 272.5h1.0v1.0h-1.0zM276.0 270.0h1.0v1.0h-1.0zM272.8 242.9h1.0v1.0h-1.0zM278.2 261.9h1.0v1.0h-1.0zM275.8 291.4h1.0v1.0h-1.0zM266.1 281.2h1.0v1.0h-1.0zM272.7 277.6h1.0v1.0h-1.0zM267.5 272.8h1.0v1.0h-1.0zM273.2 287.4h1.0v1.0h-1.0zM284.3 277.2h1.0v1.0h-1.0zM269.8 295.0h1.0v1.0h-1.0zM273.1 272.5h1.0v1.0h-1.0zM273.8 277.8h1.0v1.0h-1.0zM277.8 267.7h1.0v1.0h-1.0zM271.4 291.8h1.0v1.0h-1.0zM281.5 278.3h1.0v1.0h-1.0zM275.3 271.0h1.0v1.0h-1.0z" fill="#333" fill-opacity="0.8"/>
<path d="M283.4 262.6h1.0v1.0h-1.0zM264.5 257.1h1.0v1.0h-1.0zM273.6 250.1h1.0v1.0h-1.0zM276.6 249.7h1.0v1.0h-1.0zM283.8 257.3h1.0v1.0h-1.0zM273.3 261.9h1.0v1.0h-1.0zM277.6 266.8h1.0v1.0h-1.0zM278.0 253.2h1.0v1.0h-1.0zM277.4 229.3h1.0v1.0h-1.0zM263.8 263.7h1.0v1.0h-1.0zM269.9 273.1h1.0v1.0h-1.0zM286.7 240.5h1.0v1.0h-1.0zM272.6 285.4h1.0v1.0h-1.0zM268.8 257.1h1.0v1.0h-1.0zM272.9 250.4h1.0v1.0h-1.0zM272.4 252.8h1.0v1.0h-1.0zM279.7 244.8h1.0v1.0h-1.0zM278.0 245.7h1.0v1.0h-1.0zM276.9 257.0h1.0v1.0h-1.0zM269.1 254.3h1.0v1.0h-1.0zM270.5 243.3h1.0v1.0h-1.0zM283.4 233.8h1.0v1.0h-1.0zM276.7 261.4h1.0v1.0h-1.0zM269.2 264.9h1.0v1.0h-1.0zM281.2 239.4h1.0v1.0h-1.0zM276.8 258.7h1.0v1.0h-1.0zM268.9 259.1h1.0v1.0h-1.0zM279.6 245.7h1.0v1.0h-1.0zM261.3 256.4h1.0v1.0h-1.0zM271.5 233.7h1.0v1.0h-1.0zM274.5 226.5h1.0v1.0h-1.0zM270.2 269.6h1.0v1.0h-1.0zM255.9 256.4h1.0v1.0h-1.0zM268.9 248.0h1.0v1.0h-1.0zM267.7 259.7h1.0v1.0h-1.0zM274.9 244.5h1.0v1.0h-1.0zM266.5 247.6h1.0v1.0h-1.0zM282.6 240.5h1.0v1.0h-1.0zM276.3 257.2h1.0v1.0h-1.0zM260.4 264.2h1.0v1.0h-1.0zM271.2 278.0h1.0v1.0h-1.0zM285.1 251.6h1.0v1.0h-1.0zM274.3 241.9h1.0v1.0h-1.0zM264.6 261.2h1.0v1.0h-1.0zM273.0 248.6h1.0v1.0h-1.0zM272.2 260.7h1.0v1.0h-1.0zM279.9 253.8h1.0v1.0h-1.0zM272.8 254.2h1.0v1.0h-1.0zM289.4 231.4h1.0v1.0h-1.0zM266.3 257.8h1.0v1.0h-1.0zM273.6 267.1h1.0v1.0h-1.0zM279.9 276.2h1.0v1.0h-1.0zM268.4 259.6h1.0v1.0h-1.0zM271.5 263.9h1.0v1.0h-1.0zM274.2 263.3h1.0v1.0h-1.0zM269.3 254.6h1.0v1.0h-1.0zM271.2 250.0h1.0v1.0h-1.0zM272.5 241.4h1.0v1.0h-1.0zM280.7 257.3h1.0v1.0h-1.0zM282.1 242.8h1.0v1.0h-1.0zM262.7 244.8h1.0v1.0h-1.0zM272.2 262.0h1.0v1.0h-1.0zM279.3 267.7h1.0v1.0h-1.0zM282.9 262.5h1.0v1.0h-1.0zM275.7 244.8h1.0v1.0h-1.0zM279.0 248.1h1.0v1.0h-1.0zM268.4 259.4h1.0v1.0h-1.0zM274.5 263.0h1.0v1.0h-1.0zM268.3 266.0h1.0v1.0h-1.0zM276.6 251.6h1.0v1.0h-1.0zM270.7 240.7h1.0v1.0h-1.0zM264.0 268.1h1.0v1.0h-1.0zM264.5 259.5h1.0v1.0h-1.0zM273.3 246.7h1.0v1.0h-1.0zM271.3 251.9h1.0v1.0h-1.0zM279.1 260.2h1.0v1.0h-1.0zM275.7 237.9h1.0v1.0h-1.0zM260.8 273.1h1.0v1.0h-1.0zM269.7 235.0h1.0v1.0h-1.0zM282.9 237.2h1.0v1.0h-1.0zM277.7 264.2h1.0v1.0h-1.0zM274.5 264.3h1.0v1.0h-1.0zM266.9 238.7h1.0v1.0h-1.0zM272.9 253.1h1.0v1.0h-1.0zM273.0 258.5h1.0v1.0h-1.0zM272.0 228.9h1.0v1.0h-1.0zM276.9 251.0h1.0v1.0h-1.0zM276.8 277.2h1.0v1.0h-1.0zM273.9 259.9h1.0v1.0h-1.0zM267.5 262.9h1.0v1.0h-1.0zM275.9 256.3h1.0v1.0h-1.0zM281.2 241.2h1.0v1.0h-1.0zM277.1 258.8h1.0v1.0h-1.0zM286.2 234.0h1.0v1.0h-1.0zM271.0 277.8h1.0v1.0h-1.0zM272.1 248.1h1.0v1.0h-1.0zM282.3 282.6h1.0v1.0h-1.0zM275.7 245.3h1.0v1.0h-1.0zM270.9 248.4h1.0v1.0h-1.0zM269.8 243.6h1.0v1.0h-1.0zM275.1 253.8h1.0v1.0h-1.0zM277.1 253.9h1.0v1.0h-1.0zM265.7 260.7h1.0v1.0h-1.0zM276.3 246.9h1.0v1.0h-1.0zM272.0 256.7h1.0v1.0h-1.0zM274.7 251.8h1.0v1.0h-1.0zM277.6 265.7h1.0v1.0h-1.0zM272.2 252.8h1.0v1.0h-1.0zM267.4 250.6h1.0v1.0h-1.0zM276.1 263.3h1.0v1.0h-1.0zM275.2 252.4h1.0v1.0h-1.0zM269.4 255.2h1.0v1.0h-1.0zM267.1 253.9h1.0v1.0h-1.0zM275.3 243.1h1.0v1.0h-1.0zM276.4 251.0h1.0v1.0h-1.0zM278.4 248.2h1.0v1.0h-1.0zM275.3 271.1h1.0v1.0h-1.0zM274.3 262.2h1.0v1.0h-1.0zM270.5 248.8h1.0v1.0h-1.0zM262.5 250.3h1.0v1.0h-1.0zM266.9 253.7h1.0v1.0h-1.0zM262.2 242.2h1.0v1.0h-1.0zM274.1 257.6h1.0v1.0h-1.0zM264.2 247.5h1.0v1.0h-1.0zM289.1 263.7h1.0v1.0h-1.0zM278.3 222.4h1.0v1.0h-1.0zM267.7 258.4h1.0v1.0h-1.0zM275.0 258.4h1.0v1.0h-1.0zM279.9 254.9h1.0v1.0h-1.0zM281.5 233.7h1.0v1.0h-1.0zM290.0 251.5h1.0v1.0h-1.0zM268.3 269.6h1.0v1.0h-1.0zM276.7 264.5h1.0v1.0h-1.0zM269.9 255.9h1.0v1.0h-1.0zM279.8 240.9h1.0v1.0h-1.0zM273.0 250.3h1.0v1.0h-1.0zM273.1 245.1h1.0v1.0h-1.0zM265.7 257.1h1.0v1.0h-1.0zM274.2 266.2h1.0v1.0h-1.0zM274.4 245.6h1.0v1.0h-1.0zM264.9 253.1h1.0v1.0h-1.0zM269.8 275.5h1.0v1.0h-1.0zM286.5 272.3h1.0v1.0h-1.0zM270.1 236.9h1.0v1.0h-1.0zM273.6 243.0h1.0v1.0h-1.0zM282.8 255.4h1.0v1.0h-1.0zM271.5 252.7h1.0v1.0h-1.0zM283.0 243.4h1.0v1.0h-1.0zM278.6 238.6h1.0v1.0h-1.0zM273.5 245.6h1.0v1.0h-1.0zM275.8 255.1h1.0v1.0h-1.0zM280.7 261.6h1.0v1.0h-1.0zM271.8 237.9h1.0v1.0h-1.0zM269.5 247.8h1.0v1.0h-1.0zM273.5 244.5h1.0v1.0h-1.0zM279.7 264.2h1.0v1.0h-1.0zM272.9 247.4h1.0v1.0h-1.0zM272.6 252.4h1.0v1.0h-1.0zM275.8 235.0h1.0v1.0h-1.0zM273.6 231.8h1.0v1.0h-1.0zM273.5 260.7h1.0v1.0h-1.0zM267.2 254.2h1.0v1.0h-1.0zM271.0 244.9h1.0v1.0h-1.0zM285.2 264.3h1.0v1.0h-1.0zM277.6 248.5h1.0v1.0h-1.0zM276.8 251.2h1.0v1.0h-1.0zM277.9 243.3h1.0v1.0h-1.0zM274.0 248.6h1.0v1.0h-1.0zM263.2 271.1h1.0v1.0h-1.0zM280.0 244.8h1.0v1.0h-1.0zM265.7 244.0h1.0v1.0h-1.0zM269.5 245.7h1.0v1.0h-1.0zM265.6 242.8h1.0v1.0h-1.0zM273.9 257.7h1.0v1.0h-1.0zM261.7 251.7h1.0v1.0h-1.0zM269.1 240.7h1.0v1.0h-1.0zM272.8 245.1h1.0v1.0h-1.0zM277.5 261.4h1.0v1.0h-1.0zM272.9 245.6h1.0v1.0h-1.0zM283.0 275.2h1.0v1.0h-1.0zM276.6 251.6h1.0v1.0h-1.0zM278.6 270.0h1.0v1.0h-1.0zM268.6 273.0h1.0v1.0h-1.0zM271.7 265.2h1.0v1.0h-1.0zM270.7 253.5h1.0v1.0h-1.0zM271.1 253.0h1.0v1.0h-1.0zM281.5 243.6h1.0v1.0h-1.0zM271.5 259.0h1.0v1.0h-1.0zM268.7 275.6h1.0v1.0h-1.0zM261.8 280.7h1.0v1.0h-1.0zM268.7 263.6h1.0v1.0h-1.0zM283.5 260.1h1.0v1.0h-1.0zM265.6 248.3h1.0v1.0h-1.0zM273.8 259.5h1.0v1.0h-1.0zM278.9 266.4h1.0v1.0h-1.0zM284.4 243.2h1.0v1.0h-1.0zM282.3 234.0h1.0v1.0h-1.0zM276.2 241.0h1.0v1.0h-1.0zM261.7 262.2h1.0v1.0h-1.0zM272.6 264.2h1.0v1.0h-1.0zM265.5 238.2h1.0v1.0h-1.0zM274.2 245.4h1.0v1.0h-1.0zM275.2 246.0h1.0v1.0h-1.0zM273.2 239.8h1.0v1.0h-1.0zM282.5 250.3h1.0v1.0h-1.0zM265.7 259.9h1.0v1.0h-1.0zM276.8 255.8h1.0v1.0h-1.0zM275.9 248.7h1.0v1.0h-1.0zM275.8 227.8h1.0v1.0h-1.0zM265.6 238.0h1.0v1.0h-1.0zM274.4 267.1h1.0v1.0h-1.0zM273.3 249.9h1.0v1.0h-1.0zM281.6 249.6h1.0v1.0h-1.0zM277.6 258.4h1.0v1.0h-1.0zM265.2 255.7h1.0v1.0h-1.0zM276.7 240.1h1.0v1.0h-1.0zM269.0 237.9h1.0v1.0h-1.0zM280.2 277.9h1.0v1.0h-1.0zM276.6 271.3h1.0v1.0h-1.0zM263.8 268.1h1.0v1.0h-1.0zM284.6 272.7h1.0v1.0h-1.0zM266.8 264.7h1.0v1.0h-1.0zM272.0 265.2h1.0v1.0h-1.0zM269.9 252.7h1.0v1.0h-1.0zM269.8 258.1h1.0v1.0h-1.0zM272.0 265.6h1.0v1.0h-1.0zM278.7 258.3h1.0v1.0h-1.0zM274.1 249.6h1.0v1.0h-1.0zM273.1 261.6h1.0v1.0h-1.0zM274.5 256.4h1.0v1.0h-1.0zM273.9 252.1h1.0v1.0h-1.0zM272.0 231.2h1.0v1.0h-1.0zM277.0 259.8h1.0v1.0h-1.0zM265.6 274.2h1.0v1.0h-1.0zM265.4 263.6h1.0v1.0h-1.0zM275.2 256.8h1.0v1.0h-1.0zM280.1 264.3h1.0v1.0h-1.0zM275.4 241.0h1.0v1.0h-1.0zM266.1 254.4h1.0v1.0h-1.0zM283.0 264.1h1.0v1.0h-1.0zM273.4 256.8h1.0v1.0h-1.0zM276.3 273.1h1.0v1.0h-1.0zM268.3 260.8h1.0v1.0h-1.0zM276.7 244.6h1.0v1.0h-1.0zM266.0 266.8h1.0v1.0h-1.0zM276.4 250.9h1.0v1.0h-1.0zM273.5 264.3h1.0v1.0h-1.0zM272.7 271.4h1.0v1.0h-1.0zM273.3 243.9h1.0v1.0h-1.0zM274.4 242.3h1.0v1.0h-1.0zM270.3 266.8h1.0v1.0h-1.0zM284.1 261.4h1.0v1.0h-1.0zM276.4 242.8h1.0v1.0h-1.0zM267.2 256.6h1.0v1.0h-1.0zM275.8 246.6h1.0v1.0h-1.0zM269.3 270.6h1.0v1.0h-1.0zM280.3 254.3h1.0v1.0h-1.0zM273.9 267.8h1.0v1.0h-1.0zM276.0 256.0h1.0v1.0h-1.0zM266.1 232.8h1.0v1.0h-1.0zM264.6 226.1h1.0v1.0h-1.0zM273.5 256.8h1.0v1.0h-1.0zM268.0 257.5h1.0v1.0h-1.0zM276.9 252.5h1.0v1.0h-1.0zM262.9 268.6h1.0v1.0h-1.0zM283.5 247.4h1.0v1.0h-1.0zM286.3 254.9h1.0v1.0h-1.0zM269.5 247.9h1.0v1.0h-1.0zM262.7 247.8h1.0v1.0h-1.0zM262.5 264.9h1.0v1.0h-1.0zM277.7 237.4h1.0v1.0h-1.0zM279.7 233.8h1.0v1.0h-1.0zM274.4 258.6h1.0v1.0h-1.0zM275.8 240.2h1.0v1.0h-1.0zM273.5 250.9h1.0v1.0h-1.0zM272.6 270.1h1.0v1.0h-1.0zM282.9 272.2h1.0v1.0h-1.0zM270.9 244.1h1.0v1.0h-1.0zM273.6 258.0h1.0v1.0h-1.0zM261.7 244.7h1.0v1.0h-1.0zM286.9 240.0h1.0v1.0h-1.0zM270.2 244.5h1.0v1.0h-1.0zM277.2 252.6h1.0v1.0h-1.0zM273.8 235.5h1.0v1.0h-1.0zM277.9 253.5h1.0v1.0h-1.0zM269.7 252.9h1.0v1.0h-1.0zM280.8 236.7h1.0v1.0h-1.0zM265.4 240.3h1.0v1.0h-1.0zM268.8 265.3h1.0v1.0h-1.0zM270.7 264.4h1.0v1.0h-1.0zM255.8 249.8h1.0v1.0h-1.0zM280.9 271.9h1.0v1.0h-1.0zM271.8 243.2h1.0v1.0h-1.0zM277.9 239.3h1.0v1.0h-1.0zM273.7 233.6h1.0v1.0h-1.0zM274.5 253.1h1.0v1.0h-1.0zM283.9 258.2h1.0v1.0h-1.0zM269.9 251.5h1.0v1.0h-1.0zM265.7 252.5h1.0v1.0h-1.0zM272.1 257.7h1.0v1.0h-1.0zM282.4 230.7h1.0v1.0h-1.0zM275.2 261.7h1.0v1.0h-1.0zM264.1 274.0h1.0v1.0h-1.0zM266.4 280.7h1.0v1.0h-1.0zM277.8 264.6h1.0v1.0h-1.0zM274.5 264.8h1.0v1.0h-1.0zM268.4 243.1h1.0v1.0h-1.0zM260.8 257.9h1.0v1.0h-1.0zM268.6 261.1h1.0v1.0h-1.0zM279.4 238.0h1.0v1.0h-1.0zM278.2 256.4h1.0v1.0h-1.0zM274.7 258.4h1.0v1.0h-1.0zM273.8 253.1h1.0v1.0h-1.0zM281.9 242.3h1.0v1.0h-1.0zM267.2 243.5h1.0v1.0h-1.0zM281.0 250.0h1.0v1.0h-1.0zM270.0 247.4h1.0v1.0h-1.0zM274.1 268.5h1.0v1.0h-1.0zM274.0 241.2h1.0v1.0h-1.0zM277.5 271.3h1.0v1.0h-1.0zM257.0 257.9h1.0v1.0h-1.0zM276.9 243.6h1.0v1.0h-1.0zM270.6 256.0h1.0v1.0h-1.0zM274.5 250.2h1.0v1.0h-1.0zM266.2 255.5h1.0v1.0h-1.0zM269.7 253.5h1.0v1.0h-1.0zM270.0 254.9h1.0v1.0h-1.0zM278.5 256.2h1.0v1.0h-1.0zM279.9 237.5h1.0v1.0h-1.0zM276.6 256.6h1.0v1.0h-1.0zM270.2 250.7h1.0v1.0h-1.0zM256.0 252.0h1.0v1.0h-1.0zM274.1 226.7h1.0v1.0h-1.0zM278.0 246.0h1.0v1.0h-1.0zM276.0 250.4h1.0v1.0h-1.0zM277.0 254.3h1.0v1.0h-1.0zM271.6 258.4h1.0v1.0h-1.0zM282.0 227.5h1.0v1.0h-1.0zM274.9 246.1h1.0v1.0h-1.0zM265.3 267.1h1.0v1.0h-1.0zM281.3 241.7h1.0v1.0h-1.0zM265.9 261.6h1.0v1.0h-1.0zM270.4 248.8h1.0v1.0h-1.0zM261.6 250.1h1.0v1.0h-1.0zM281.8 248.4h1.0v1.0h-1.0zM271.1 272.8h1.0v1.0h-1.0zM277.8 269.8h1.0v1.0h-1.0zM276.5 267.1h1.0v1.0h-1.0zM264.4 242.4h1.0v1.0h-1.0zM260.8 277.2h1.0v1.0h-1.0zM275.3 251.6h1.0v1.0h-1.0zM270.4 240.8h1.0v1.0h-1.0zM253.4 276.7h1.0v1.0h-1.0zM273.4 253.6h1.0v1.0h-1.0zM265.1 251.3h1.0v1.0h-1.0zM276.5 252.2h1.0v1.0h-1.0zM278.9 243.7h1.0v1.0h-1.0zM274.9 263.4h1.0v1.0h-1.0zM277.1 257.7h1.0v1.0h-1.0zM274.5 241.5h1.0v1.0h-1.0zM278.0 248.8h1.0v1.0h-1.0zM267.0 261.0h1.0v1.0h-1.0zM264.4 245.4h1.0v1.0h-1.0zM277.8 264.3h1.0v1.0h-1.0zM271.5 253.4h1.0v1.0h-1.0zM277.5 252.5h1.0v1.0h-1.0zM268.5 257.4h1.0v1.0h-1.0zM274.9 254.2h1.0v1.0h-1.0zM280.7 257.2h1.0v1.0h-1.0zM270.8 254.5h1.0v1.0h-1.0zM287.2 246.0h1.0v1.0h-1.0zM273.2 243.6h1.0v1.0h-1.0zM277.7 238.7h1.0v1.0h-1.0zM275.9 261.9h1.0v1.0h-1.0zM270.1 242.7h1.0v1.0h-1.0zM264.4 252.4h1.0v1.0h-1.0zM267.6 245.0h1.0v1.0h-1.0zM272.1 244.7h1.0v1.0h-1.0zM277.4 271.7h1.0v1.0h-1.0zM261.4 242.2h1.0v1.0h-1.0zM276.8 241.0h1.0v1.0h-1.0zM270.3 254.9h1.0v1.0h-1.0zM281.4 267.3h1.0v1.0h-1.0zM271.9 254.2h1.0v1.0h-1.0zM271.9 250.7h1.0v1.0h-1.0zM268.6 231.9h1.0v1.0h-1.0zM270.5 263.9h1.0v1.0h-1.0zM281.1 232.1h1.0v1.0h-1.0zM273.5 245.6h1.0v1.0h-1.0zM277.1 240.6h1.0v1.0h-1.0zM280.0 251.2h1.0v1.0h-1.0zM276.6 263.3h1.0v1.0h-1.0zM261.9 249.1h1.0v1.0h-1.0zM283.6 254.2h1.0v1.0h-1.0zM280.1 258.5h1.0v1.0h-1.0zM270.5 255.8h1.0v1.0h-1.0zM279.1 268.4h1.0v1.0h-1.0zM284.5 241.3h1.0v1.0h-1.0zM280.9 237.8h1.0v1.0h-1.0zM273.4 250.5h1.0v1.0h-1.0zM277.6 257.0h1.0v1.0h-1.0zM282.7 246.8h1.0v1.0h-1.0zM278.9 258.0h1.0v1.0h-1.0zM275.4 239.2h1.0v1.0h-1.0zM277.2 256.9h1.0v1.0h-1.0zM279.0 253.0h1.0v1.0h-1.0zM271.9 257.2h1.0v1.0h-1.0zM276.1 261.1h1.0v1.0h-1.0zM286.8 247.2h1.0v1.0h-1.0zM281.1 244.3h1.0v1.0h-1.0zM287.8 244.2h1.0v1.0h-1.0zM281.9 242.4h1.0v1.0h-1.0zM265.8 261.4h1.0v1.0h-1.0zM280.3 245.6h1.0v1.0h-1.0zM289.6 250.9h1.0v1.0h-1.0zM285.1 242.4h1.0v1.0h-1.0zM267.8 253.3h1.0v1.0h-1.0zM267.0 257.5h1.0v1.0h-1.0zM260.1 253.6h1.0v1.0h-1.0zM271.6 241.6h1.0v1.0h-1.0zM275.6 250.6h1.0v1.0h-1.0zM270.2 261.9h1.0v1.0h-1.0zM275.4 257.5h1.0v1.0h-1.0zM282.5 253.0h1.0v1.0h-1.0zM279.8 248.8h1.0v1.0h-1.0zM277.2 259.4h1.0v1.0h-1.0zM272.3 235.3h1.0v1.0h-1.0zM267.0 241.4h1.0v1.0h-1.0zM277.7 251.8h1.0v1.0h-1.0zM271.5 258.2h1.0v1.0h-1.0zM276.9 269.3h1.0v1.0h-1.0zM269.6 258.8h1.0v1.0h-1.0zM279.6 242.6h1.0v1.0h-1.0zM275.9 242.6h1.0v1.0h-1.0zM272.1 257.6h1.0v1.0h-1.0zM264.3 241.9h1.0v1.0h-1.0zM268.8 253.5h1.0v1.0h-1.0zM268.9 256.7h1.0v1.0h-1.0zM269.2 246.5h1.0v1.0h-1.0zM277.4 257.0h1.0v1.0h-1.0zM275.0 252.6h1.0v1.0h-1.0zM278.7 269.3h1.0v1.0h-1.0zM272.5 244.5h1.0v1.0h-1.0zM265.3 272.0h1.0v1.0h-1.0zM269.9 237.3h1.0v1.0h-1.0zM274.4 265.1h1.0v1.0h-1.0zM266.3 250.7h1.0v1.0h-1.0zM265.7 244.1h1.0v1.0h-1.0zM284.1 256.0h1.0v1.0h-1.0zM272.3 253.6h1.0v1.0h-1.0zM275.9 252.0h1.0v1.0h-1.0zM267.9 238.8h1.0v1.0h-1.0zM287.6 245.6h1.0v1.0h-1.0zM282.4 245.6h1.0v1.0h-1.0zM281.4 261.8h1.0v1.0h-1.0zM270.3 275.7h1.0v1.0h-1.0zM268.4 249.7h1.0v1.0h-1.0zM269.5 243.6h1.0v1.0h-1.0zM272.8 241.9h1.0v1.0h-1.0zM270.0 270.7h1.0v1.0h-1.0zM264.5 237.6h1.0v1.0h-1.0zM268.5 247.1h1.0v1.0h-1.0zM279.5 261.8h1.0v1.0h-1.0zM276.8 255.6h1.0v1.0h-1.0zM290.5 241.8h1.0v1.0h-1.0zM266.7 251.9h1.0v1.0h-1.0zM275.6 250.4h1.0v1.0h-1.0zM270.2 237.6h1.0v1.0h-1.0zM273.1 244.8h1.0v1.0h-1.0zM272.2 240.4h1.0v1.0h-1.0zM281.9 259.0h1.0v1.0h-1.0zM286.3 248.4h1.0v1.0h-1.0zM274.7 250.2h1.0v1.0h-1.0zM274.4 250.1h1.0v1.0h-1.0zM275.3 230.5h1.0v1.0h-1.0zM271.4 260.7h1.0v1.0h-1.0zM262.1 247.7h1.0v1.0h-1.0zM276.1 267.7h1.0v1.0h-1.0zM272.9 258.1h1.0v1.0h-1.0zM283.5 268.9h1.0v1.0h-1.0zM271.9 245.8h1.0v1.0h-1.0zM280.2 256.2h1.0v1.0h-1.0zM270.8 250.0h1.0v1.0h-1.0zM276.2 250.9h1.0v1.0h-1.0zM272.7 250.1h1.0v1.0h-1.0zM262.5 271.7h1.0v1.0h-1.0zM279.9 271.0h1.0v1.0h-1.0zM273.0 254.3h1.0v1.0h-1.0zM276.7 262.7h1.0v1.0h-1.0zM262.0 255.8h1.0v1.0h-1.0zM267.8 251.5h1.0v1.0h-1.0zM267.8 271.9h1.0v1.0h-1.0zM277.4 253.0h1.0v1.0h-1.0zM282.9 253.1h1.0v1.0h-1.0zM269.6 250.4h1.0v1.0h-1.0zM271.6 253.3h1.0v1.0h-1.0zM279.4 252.2h1.0v1.0h-1.0z" fill="#333" fill-opacity="0.8"/>
<ellipse cx="237.5" cy="300.5" rx="11" ry="17" fill="url(#bg5)" transform="rotate(0 237.5 300.5)"/>
<path d="M235.6 309.9h1v1h-1zM244.8 297.0h1v1h-1zM238.4 313.3h1v1h-1zM244.1 291.6h1v1h-1zM236.2 287.5h1v1h-1zM230.0 295.4h1v1h-1zM236.3 291.1h1v1h-1zM240.3 309.4h1v1h-1zM245.6 293.2h1v1h-1zM238.7 295.4h1v1h-1zM233.7 311.0h1v1h-1zM241.0 307.5h1v1h-1zM239.1 310.4h1v1h-1zM245.1 296.3h1v1h-1zM237.2 308.8h1v1h-1zM242.8 307.8h1v1h-1zM239.1 305.7h1v1h-1zM228.5 300.2h1v1h-1zM241.9 288.7h1v1h-1zM240.0 308.0h1v1h-1zM237.3 296.8h1v1h-1zM241.8 291.5h1v1h-1zM241.4 311.3h1v1h-1zM231.8 306.5h1v1h-1zM239.7 304.6h1v1h-1zM233.1 289.6h1v1h-1zM242.0 307.5h1v1h-1zM232.8 303.4h1v1h-1zM230.2 307.2h1v1h-1zM231.8 310.5h1v1h-1zM237.4 288.6h1v1h-1zM231.2 302.4h1v1h-1zM239.3 302.8h1v1h-1zM244.2 307.7h1v1h-1zM233.2 301.1h1v1h-1zM247.0 300.2h1v1h-1zM231.9 310.8h1v1h-1zM234.0 304.0h1v1h-1zM237.0 304.3h1v1h-1zM231.4 291.7h1v1h-1zM233.8 314.1h1v1h-1zM236.9 290.7h1v1h-1zM237.8 308.2h1v1h-1zM231.9 312.9h1v1h-1zM229.9 308.7h1v1h-1zM242.0 287.7h1v1h-1zM242.6 303.1h1v1h-1zM233.1 311.0h1v1h-1zM236.3 291.9h1v1h-1zM236.4 310.2h1v1h-1zM240.1 286.9h1v1h-1zM233.4 312.7h1v1h-1zM227.7 299.5h1v1h-1zM241.1 307.1h1v1h-1zM235.0 287.3h1v1h-1zM245.5 308.7h1v1h-1zM239.3 298.2h1v1h-1zM235.1 307.2h1v1h-1zM234.0 300.5h1v1h-1zM241.7 303.1h1v1h-1zM243.7 311.9h1v1h-1zM239.3 309.3h1v1h-1zM239.3 286.9h1v1h-1zM228.1 302.8h1v1h-1zM240.8 287.9h1v1h-1zM242.5 312.2h1v1h-1zM233.6 291.6h1v1h-1zM238.7 292.2h1v1h-1zM240.1 289.0h1v1h-1zM229.6 305.7h1v1h-1zM237.7 305.7h1v1h-1zM244.2 297.3h1v1h-1zM239.3 294.1h1v1h-1zM233.2 296.4h1v1h-1zM228.6 305.1h1v1h-1zM235.8 307.2h1v1h-1zM233.4 288.9h1v1h-1zM239.3 312.3h1v1h-1zM242.0 289.2h1v1h-1zM236.4 310.8h1v1h-1zM239.2 288.9h1v1h-1zM231.3 296.7h1v1h-1zM244.9 293.9h1v1h-1zM236.5 296.5h1v1h-1zM237.2 304.3h1v1h-1zM241.2 311.7h1v1h-1zM239.1 288.3h1v1h-1z" fill="#fff" fill-opacity="0.28"/>
<path d="M241.1 289.2h1v1h-1zM229.8 300.3h1v1h-1zM232.2 313.3h1v1h-1zM233.4 300.7h1v1h-1zM232.6 309.4h1v1h-1zM232.7 313.5h1v1h-1zM233.3 299.0h1v1h-1zM234.3 295.3h1v1h-1zM233.9 306.6h1v1h-1zM234.0 289.0h1v1h-1zM235.5 299.2h1v1h-1zM232.8 309.4h1v1h-1zM232.8 294.8h1v1h-1zM239.2 287.2h1v1h-1zM228.6 297.7h1v1h-1zM237.0 292.8h1v1h-1zM241.5 301.3h1v1h-1zM241.0 302.4h1v1h-1zM232.4 306.6h1v1h-1zM243.3 288.5h1v1h-1zM236.7 286.6h1v1h-1zM239.9 305.9h1v1h-1zM238.2 286.7h1v1h-1zM235.6 302.2h1v1h-1zM232.6 297.9h1v1h-1zM231.0 302.6h1v1h-1zM238.7 288.6h1v1h-1zM228.2 301.8h1v1h-1zM241.2 293.1h1v1h-1zM237.7 298.1h1v1h-1zM236.8 303.9h1v1h-1zM234.0 314.1h1v1h-1zM239.0 302.9h1v1h-1zM229.3 308.5h1v1h-1zM242.5 295.3h1v1h-1zM237.7 314.6h1v1h-1zM240.2 297.3h1v1h-1zM231.6 302.8h1v1h-1zM234.2 303.7h1v1h-1zM245.4 292.7h1v1h-1zM234.8 295.3h1v1h-1zM233.8 300.3h1v1h-1zM237.0 314.0h1v1h-1zM240.1 311.5h1v1h-1zM234.2 294.2h1v1h-1zM238.7 309.2h1v1h-1zM237.9 291.9h1v1h-1zM232.4 294.6h1v1h-1zM233.9 295.0h1v1h-1zM239.4 301.6h1v1h-1zM238.6 293.6h1v1h-1zM233.9 303.6h1v1h-1zM238.6 315.7h1v1h-1zM236.9 306.3h1v1h-1zM243.3 293.8h1v1h-1zM235.8 300.0h1v1h-1zM238.8 300.4h1v1h-1zM234.5 291.2h1v1h-1zM232.5 301.8h1v1h-1zM244.1 309.9h1v1h-1zM236.0 307.2h1v1h-1zM244.8 292.3h1v1h-1zM237.8 313.7h1v1h-1zM237.0 291.9h1v1h-1zM233.7 308.8h1v1h-1zM237.1 315.8h1v1h-1zM241.4 312.6h1v1h-1zM235.4 314.8h1v1h-1zM235.2 286.3h1v1h-1zM231.4 289.7h1v1h-1zM235.0 303.5h1v1h-1zM244.5 311.2h1v1h-1zM230.3 299.0h1v1h-1zM236.2 310.4h1v1h-1zM239.1 308.6h1v1h-1zM242.4 302.3h1v1h-1zM244.2 292.3h1v1h-1zM241.8 303.0h1v1h-1zM242.3 306.5h1v1h-1zM237.3 310.5h1v1h-1zM237.1 288.9h1v1h-1zM235.6 286.5h1v1h-1zM246.5 300.1h1v1h-1zM241.0 308.6h1v1h-1zM233.5 301.9h1v1h-1zM241.5 289.4h1v1h-1zM233.5 299.6h1v1h-1zM235.0 298.6h1v1h-1z" fill="#222" fill-opacity="0.35"/>
<ellipse cx="273.6" cy="273" rx="10.8" ry="21" fill="url(#bg6)" transform="rotate(5 273.6 273)"/>
<path d="M267.0 276.9h1v1h-1zM272.4 274.5h1v1h-1zM275.3 256.0h1v1h-1zM273.9 279.5h1v1h-1zM269.2 261.7h1v1h-1zM272.4 276.8h1v1h-1zM271.8 260.5h1v1h-1zM270.0 261.6h1v1h-1zM281.2 261.1h1v1h-1zM277.1 267.0h1v1h-1zM278.0 273.6h1v1h-1zM281.5 264.4h1v1h-1zM274.2 266.9h1v1h-1zM276.2 270.5h1v1h-1zM266.9 273.4h1v1h-1zM269.0 289.7h1v1h-1zM278.6 281.7h1v1h-1zM269.8 270.9h1v1h-1zM266.3 285.2h1v1h-1zM273.6 274.4h1v1h-1zM279.4 278.7h1v1h-1zM273.6 280.1h1v1h-1zM265.0 280.0h1v1h-1zM270.2 271.1h1v1h-1zM269.0 263.0h1v1h-1zM266.6 265.7h1v1h-1zM272.0 270.4h1v1h-1zM266.1 272.1h1v1h-1zM274.0 280.0h1v1h-1zM275.9 258.3h1v1h-1zM274.2 267.9h1v1h-1zM269.9 263.5h1v1h-1zM280.3 282.1h1v1h-1zM274.7 256.9h1v1h-1zM272.2 285.8h1v1h-1zM268.0 265.0h1v1h-1zM267.7 270.5h1v1h-1zM277.2 257.6h1v1h-1zM283.1 270.8h1v1h-1zM275.0 271.5h1v1h-1zM282.7 273.5h1v1h-1zM282.2 268.2h1v1h-1zM278.8 287.5h1v1h-1zM270.7 270.3h1v1h-1zM264.8 268.6h1v1h-1zM278.8 262.9h1v1h-1zM278.1 260.4h1v1h-1zM266.3 270.7h1v1h-1zM276.6 260.4h1v1h-1zM271.3 278.4h1v1h-1zM272.4 267.9h1v1h-1zM279.1 266.1h1v1h-1zM279.0 268.0h1v1h-1zM279.0 269.8h1v1h-1zM269.9 290.1h1v1h-1zM279.4 279.7h1v1h-1zM271.5 259.3h1v1h-1zM267.2 277.8h1v1h-1zM276.4 260.3h1v1h-1zM276.4 266.0h1v1h-1zM266.2 282.1h1v1h-1zM266.1 263.0h1v1h-1zM267.0 269.9h1v1h-1zM268.2 270.6h1v1h-1zM271.6 269.2h1v1h-1zM271.4 263.4h1v1h-1z" fill="#fff" fill-opacity="0.28"/>
<path d="M281.2 273.0h1v1h-1zM281.8 274.5h1v1h-1zM270.2 272.9h1v1h-1zM266.4 274.4h1v1h-1zM281.8 267.2h1v1h-1zM272.2 269.5h1v1h-1zM269.0 279.1h1v1h-1zM281.6 281.3h1v1h-1zM269.2 272.4h1v1h-1zM282.0 268.8h1v1h-1zM282.9 265.6h1v1h-1zM265.0 277.4h1v1h-1zM277.6 265.7h1v1h-1zM272.9 257.0h1v1h-1zM281.7 265.4h1v1h-1zM272.1 286.9h1v1h-1zM273.5 275.0h1v1h-1zM267.3 283.7h1v1h-1zM275.9 279.4h1v1h-1zM272.1 271.4h1v1h-1zM281.5 269.3h1v1h-1zM277.2 287.3h1v1h-1zM278.1 271.6h1v1h-1zM268.8 270.0h1v1h-1zM269.2 259.5h1v1h-1zM271.7 273.5h1v1h-1zM267.0 269.2h1v1h-1zM276.9 271.8h1v1h-1zM271.4 261.0h1v1h-1zM272.0 289.5h1v1h-1zM272.6 270.9h1v1h-1zM281.7 262.1h1v1h-1zM274.7 290.1h1v1h-1zM281.0 281.9h1v1h-1zM276.7 264.3h1v1h-1zM274.7 267.4h1v1h-1zM281.6 264.4h1v1h-1zM273.3 255.8h1v1h-1zM276.1 278.4h1v1h-1zM272.1 277.8h1v1h-1zM279.1 272.9h1v1h-1zM280.2 283.3h1v1h-1zM276.8 260.9h1v1h-1zM267.7 270.9h1v1h-1zM282.2 264.9h1v1h-1zM275.9 266.1h1v1h-1zM279.9 275.3h1v1h-1zM278.3 266.7h1v1h-1zM275.1 280.1h1v1h-1zM264.3 279.8h1v1h-1zM270.3 290.5h1v1h-1zM275.9 270.8h1v1h-1zM279.0 269.5h1v1h-1zM278.8 260.1h1v1h-1zM273.2 262.5h1v1h-1zM271.2 257.3h1v1h-1zM282.2 263.6h1v1h-1zM280.9 268.6h1v1h-1zM281.3 265.1h1v1h-1zM271.9 279.7h1v1h-1zM277.2 274.4h1v1h-1zM281.5 270.9h1v1h-1zM281.4 271.2h1v1h-1zM268.2 260.8h1v1h-1zM274.6 284.4h1v1h-1zM283.0 267.1h1v1h-1zM267.6 288.0h1v1h-1z" fill="#222" fill-opacity="0.35"/>
<ellipse cx="274" cy="253" rx="12.8" ry="23" fill="url(#bg7)" transform="rotate(6 274 253)"/>
<path d="M274.9 252.6h1v1h-1zM280.7 249.4h1v1h-1zM263.4 260.6h1v1h-1zM274.1 243.2h1v1h-1zM277.0 255.8h1v1h-1zM272.4 251.4h1v1h-1zM269.4 237.8h1v1h-1zM282.7 263.5h1v1h-1zM272.9 235.9h1v1h-1zM264.5 250.5h1v1h-1zM271.0 259.0h1v1h-1zM279.7 250.9h1v1h-1zM283.6 244.5h1v1h-1zM281.5 259.4h1v1h-1zM266.2 265.9h1v1h-1zM264.8 258.4h1v1h-1zM277.2 266.6h1v1h-1zM267.8 270.5h1v1h-1zM284.0 243.4h1v1h-1zM277.2 266.7h1v1h-1zM266.8 251.6h1v1h-1zM279.0 258.6h1v1h-1zM266.4 239.8h1v1h-1zM279.7 262.4h1v1h-1zM278.4 239.4h1v1h-1zM278.7 249.0h1v1h-1zM276.8 260.2h1v1h-1zM276.2 270.0h1v1h-1zM271.0 272.2h1v1h-1zM272.0 248.6h1v1h-1zM275.0 254.9h1v1h-1zM275.2 237.2h1v1h-1zM279.3 240.7h1v1h-1zM276.3 245.1h1v1h-1zM279.9 242.7h1v1h-1zM270.0 250.7h1v1h-1zM275.1 258.7h1v1h-1zM268.0 248.3h1v1h-1zM272.8 268.5h1v1h-1zM280.4 251.3h1v1h-1zM272.3 254.9h1v1h-1zM271.5 235.2h1v1h-1zM277.5 266.5h1v1h-1zM279.8 253.2h1v1h-1zM270.3 267.8h1v1h-1zM280.4 235.4h1v1h-1zM273.2 270.9h1v1h-1zM279.2 242.5h1v1h-1zM280.2 251.2h1v1h-1zM266.6 251.8h1v1h-1zM281.1 264.2h1v1h-1zM267.8 242.5h1v1h-1zM275.5 260.6h1v1h-1zM272.4 255.4h1v1h-1zM281.4 261.2h1v1h-1zM276.4 266.5h1v1h-1zM282.6 261.9h1v1h-1zM273.7 251.6h1v1h-1zM280.4 247.1h1v1h-1zM277.1 240.8h1v1h-1zM266.0 253.1h1v1h-1zM273.0 240.6h1v1h-1zM275.1 249.6h1v1h-1zM274.7 236.3h1v1h-1zM273.9 246.4h1v1h-1zM273.8 238.4h1v1h-1zM281.4 244.2h1v1h-1zM265.5 244.1h1v1h-1zM263.0 249.2h1v1h-1zM279.4 244.3h1v1h-1zM275.5 244.2h1v1h-1zM282.6 252.3h1v1h-1zM272.8 257.3h1v1h-1zM265.4 242.3h1v1h-1zM273.4 243.8h1v1h-1zM267.4 246.0h1v1h-1zM278.5 255.1h1v1h-1zM270.2 235.5h1v1h-1zM262.7 252.2h1v1h-1zM279.3 256.9h1v1h-1zM277.2 238.1h1v1h-1zM264.6 265.9h1v1h-1zM273.3 263.7h1v1h-1zM271.1 234.6h1v1h-1zM282.1 246.5h1v1h-1zM264.7 248.2h1v1h-1zM270.5 236.9h1v1h-1z" fill="#fff" fill-opacity="0.28"/>
<path d="M267.3 267.8h1v1h-1zM277.5 268.2h1v1h-1zM271.6 252.7h1v1h-1zM273.8 270.9h1v1h-1zM263.0 255.9h1v1h-1zM281.7 241.4h1v1h-1zM269.7 237.4h1v1h-1zM275.6 263.0h1v1h-1zM267.6 243.8h1v1h-1zM265.9 261.9h1v1h-1zM278.7 249.6h1v1h-1zM272.2 236.9h1v1h-1zM272.3 252.2h1v1h-1zM280.7 260.6h1v1h-1zM276.1 261.3h1v1h-1zM281.5 241.9h1v1h-1zM268.3 267.1h1v1h-1zM264.6 246.1h1v1h-1zM265.9 242.8h1v1h-1zM269.5 256.2h1v1h-1zM270.7 262.5h1v1h-1zM274.9 248.2h1v1h-1zM268.9 266.6h1v1h-1zM264.1 255.0h1v1h-1zM275.6 247.9h1v1h-1zM264.9 245.8h1v1h-1zM266.1 245.9h1v1h-1zM279.4 257.4h1v1h-1zM270.5 269.1h1v1h-1zM268.7 269.2h1v1h-1zM280.6 246.3h1v1h-1zM272.9 259.8h1v1h-1zM264.7 259.7h1v1h-1zM280.2 267.2h1v1h-1zM274.7 250.5h1v1h-1zM272.2 260.9h1v1h-1zM269.0 256.1h1v1h-1zM262.9 253.6h1v1h-1zM277.9 268.1h1v1h-1zM274.0 268.0h1v1h-1zM271.1 261.8h1v1h-1zM273.9 240.3h1v1h-1zM273.0 259.5h1v1h-1zM265.1 267.8h1v1h-1zM275.4 251.0h1v1h-1zM273.2 254.1h1v1h-1zM283.7 247.7h1v1h-1zM284.8 246.5h1v1h-1zM283.0 250.7h1v1h-1zM270.7 261.7h1v1h-1zM268.8 240.4h1v1h-1zM280.0 266.8h1v1h-1zM270.0 243.5h1v1h-1zM270.6 252.5h1v1h-1zM284.3 257.1h1v1h-1zM273.9 234.3h1v1h-1zM274.2 266.4h1v1h-1zM266.2 266.7h1v1h-1zM279.0 265.4h1v1h-1zM283.6 245.0h1v1h-1zM285.2 251.8h1v1h-1zM275.6 248.3h1v1h-1zM277.7 259.8h1v1h-1zM283.3 242.6h1v1h-1zM274.2 258.3h1v1h-1zM280.4 243.0h1v1h-1zM281.0 257.9h1v1h-1zM283.9 248.9h1v1h-1zM276.8 245.9h1v1h-1zM263.2 261.9h1v1h-1zM268.5 238.2h1v1h-1zM270.6 234.5h1v1h-1zM273.5 242.1h1v1h-1zM269.0 262.0h1v1h-1zM274.6 253.7h1v1h-1zM272.4 245.0h1v1h-1zM266.5 261.2h1v1h-1zM268.7 267.2h1v1h-1zM269.7 244.9h1v1h-1zM275.2 235.2h1v1h-1zM282.7 251.9h1v1h-1zM285.2 245.3h1v1h-1zM274.9 241.8h1v1h-1zM277.8 253.0h1v1h-1zM281.1 260.4h1v1h-1zM272.1 246.9h1v1h-1zM266.2 264.7h1v1h-1zM278.2 240.5h1v1h-1z" fill="#222" fill-opacity="0.35"/>
</g>
<rect x="227.6" y="221" width="94.4" height="94.6" fill="none" stroke="#151515" stroke-width="1.3"/>
<line x1="227.6" y1="221" x2="227.6" y2="315.6" stroke="#b5b5b5" stroke-width="1.6" />
<line x1="248.7" y1="221" x2="248.7" y2="315.6" stroke="#111" stroke-width="1.1" />
<line x1="227.6" y1="284" x2="322" y2="284" stroke="#111" stroke-width="1.1" />
<rect x="228.1" y="221.3" width="3" height="2.6" fill="#000"/>
<rect x="245.5" y="280.8" width="3.6" height="3.6" fill="#000"/>
<text x="259.9" y="207.5" font-size="18" text-anchor="middle" font-weight="normal" fill="#111" >D59</text>
<text x="318.6" y="235.4" font-size="10.5" text-anchor="end" font-weight="normal" fill="#222" >63.60</text>
<rect x="92" y="176.1" width="4.5" height="2.3" fill="#3a3a3a" opacity="0.85"/>
<rect x="97.5" y="176.1" width="1.1" height="2.3" fill="#3a3a3a" opacity="0.85"/>
<rect x="99.5" y="176.1" width="4.5" height="2.3" fill="#3a3a3a" opacity="0.85"/>
<rect x="105" y="176.1" width="5.0" height="2.3" fill="#3a3a3a" opacity="0.85"/>
<rect x="115" y="176.1" width="1.5" height="2.3" fill="#3a3a3a" opacity="0.85"/>
<rect x="118" y="176.1" width="1.2" height="2.3" fill="#3a3a3a" opacity="0.85"/>
<rect x="121.5" y="176.1" width="2.5" height="2.3" fill="#3a3a3a" opacity="0.85"/>
<rect x="128.5" y="176.1" width="4.5" height="2.3" fill="#3a3a3a" opacity="0.85"/>
<rect x="134.5" y="176.1" width="3.0" height="2.3" fill="#3a3a3a" opacity="0.85"/>
<rect x="141" y="176.1" width="1.2" height="2.3" fill="#3a3a3a" opacity="0.85"/>
<rect x="157" y="176.1" width="4.5" height="2.3" fill="#3a3a3a" opacity="0.85"/>
<rect x="231.7" y="332.8" width="4.3" height="1.8" fill="#333" opacity="0.85"/>
<rect x="237" y="332.8" width="4.0" height="1.8" fill="#333" opacity="0.85"/>
<rect x="242" y="332.8" width="2.5" height="1.8" fill="#333" opacity="0.85"/>
<rect x="246" y="332.8" width="1.5" height="1.8" fill="#333" opacity="0.85"/>
<rect x="253" y="332.8" width="1.0" height="1.8" fill="#333" opacity="0.85"/>
<rect x="258" y="332.8" width="1.0" height="1.8" fill="#333" opacity="0.85"/>
<rect x="262" y="332.8" width="1.0" height="1.8" fill="#333" opacity="0.85"/>
<rect x="266.8" y="332.8" width="2.7" height="1.8" fill="#333" opacity="0.85"/>
<rect x="275" y="332.8" width="1.0" height="1.8" fill="#333" opacity="0.85"/>
<rect x="295" y="332.8" width="2.0" height="1.8" fill="#333" opacity="0.85"/>
<text x="331.5" y="20.5" font-size="19.5" text-anchor="start" font-weight="normal" fill="#111" >B</text>
<text transform="translate(348.7 85.9) rotate(-90)" font-size="13.7" font-weight="bold" text-anchor="middle" fill="#111">% of CD3+ T cells</text>
<defs><clipPath id="bl_lo"><rect x="384.7" y="87.7" width="189.09999999999997" height="70"/></clipPath></defs>
<line x1="409.7" y1="27.3" x2="409.7" y2="149" stroke="#cfcfcf" stroke-width="1" />
<line x1="488.9" y1="27.3" x2="488.9" y2="149" stroke="#cfcfcf" stroke-width="1" />
<line x1="384.7" y1="27.3" x2="567.8" y2="27.3" stroke="#727272" stroke-width="1.45" />
<line x1="567.8" y1="27.3" x2="567.8" y2="149" stroke="#727272" stroke-width="1.45" />
<line x1="384.7" y1="149" x2="567.8" y2="149" stroke="#727272" stroke-width="1.45" />
<line x1="384.7" y1="27.3" x2="384.7" y2="79.1" stroke="#727272" stroke-width="1.45" />
<line x1="384.7" y1="87.7" x2="384.7" y2="149" stroke="#727272" stroke-width="1.45" />
<line x1="384.7" y1="79.1" x2="388.2" y2="79.1" stroke="#727272" stroke-width="1.1" />
<line x1="384.7" y1="87.7" x2="388.2" y2="87.7" stroke="#727272" stroke-width="1.1" />
<line x1="381.2" y1="27.3" x2="384.7" y2="27.3" stroke="#727272" stroke-width="1.1" />
<text transform="translate(380.4 31.2) scale(0.9 1)" font-size="11" text-anchor="end" fill="#1c1c1c" stroke="#1c1c1c" stroke-width="0.25">75</text>
<line x1="381.2" y1="53.3" x2="384.7" y2="53.3" stroke="#727272" stroke-width="1.1" />
<text transform="translate(380.4 57.2) scale(0.9 1)" font-size="11" text-anchor="end" fill="#1c1c1c" stroke="#1c1c1c" stroke-width="0.25">50</text>
<line x1="381.2" y1="79.1" x2="384.7" y2="79.1" stroke="#727272" stroke-width="1.1" />
<text transform="translate(380.4 83) scale(0.9 1)" font-size="11" text-anchor="end" fill="#1c1c1c" stroke="#1c1c1c" stroke-width="0.25">25</text>
<line x1="381.2" y1="87.7" x2="384.7" y2="87.7" stroke="#727272" stroke-width="1.1" />
<text transform="translate(380.4 91.7) scale(0.9 1)" font-size="11" text-anchor="end" fill="#1c1c1c" stroke="#1c1c1c" stroke-width="0.25">25</text>
<line x1="381.2" y1="100" x2="384.7" y2="100" stroke="#727272" stroke-width="1.1" />
<text transform="translate(380.4 104) scale(0.9 1)" font-size="11" text-anchor="end" fill="#1c1c1c" stroke="#1c1c1c" stroke-width="0.25">20</text>
<line x1="381.2" y1="112.4" x2="384.7" y2="112.4" stroke="#727272" stroke-width="1.1" />
<text transform="translate(380.4 116.4) scale(0.9 1)" font-size="11" text-anchor="end" fill="#1c1c1c" stroke="#1c1c1c" stroke-width="0.25">15</text>
<line x1="381.2" y1="124.5" x2="384.7" y2="124.5" stroke="#727272" stroke-width="1.1" />
<text transform="translate(380.4 128.4) scale(0.9 1)" font-size="11" text-anchor="end" fill="#1c1c1c" stroke="#1c1c1c" stroke-width="0.25">10</text>
<line x1="381.2" y1="136.8" x2="384.7" y2="136.8" stroke="#727272" stroke-width="1.1" />
<text transform="translate(380.4 140.8) scale(0.9 1)" font-size="11" text-anchor="end" fill="#1c1c1c" stroke="#1c1c1c" stroke-width="0.25">5</text>
<line x1="381.2" y1="149" x2="384.7" y2="149" stroke="#727272" stroke-width="1.1" />
<text transform="translate(380.4 152.9) scale(0.9 1)" font-size="11" text-anchor="end" fill="#1c1c1c" stroke="#1c1c1c" stroke-width="0.25">0</text>
<line x1="394.1" y1="149" x2="394.1" y2="152.5" stroke="#727272" stroke-width="1.1" />
<text transform="translate(394.1 163.5) scale(0.9 1)" font-size="11" text-anchor="middle" fill="#1c1c1c" stroke="#1c1c1c" stroke-width="0.25">-7</text>
<line x1="425.3" y1="149" x2="425.3" y2="152.5" stroke="#727272" stroke-width="1.1" />
<text transform="translate(425.3 163.5) scale(0.9 1)" font-size="11" text-anchor="middle" fill="#1c1c1c" stroke="#1c1c1c" stroke-width="0.25">7</text>
<line x1="456.6" y1="149" x2="456.6" y2="152.5" stroke="#727272" stroke-width="1.1" />
<text transform="translate(456.6 163.5) scale(0.9 1)" font-size="11" text-anchor="middle" fill="#1c1c1c" stroke="#1c1c1c" stroke-width="0.25">21</text>
<line x1="488" y1="149" x2="488" y2="152.5" stroke="#727272" stroke-width="1.1" />
<text transform="translate(488 163.5) scale(0.9 1)" font-size="11" text-anchor="middle" fill="#1c1c1c" stroke="#1c1c1c" stroke-width="0.25">35</text>
<line x1="519.2" y1="149" x2="519.2" y2="152.5" stroke="#727272" stroke-width="1.1" />
<text transform="translate(519.2 163.5) scale(0.9 1)" font-size="11" text-anchor="middle" fill="#1c1c1c" stroke="#1c1c1c" stroke-width="0.25">49</text>
<line x1="550.5" y1="149" x2="550.5" y2="152.5" stroke="#727272" stroke-width="1.1" />
<text transform="translate(550.5 163.5) scale(0.9 1)" font-size="11" text-anchor="middle" fill="#1c1c1c" stroke="#1c1c1c" stroke-width="0.25">63</text>
<polyline points="384.6,138.6 409.4,139.6 425,92.1 440.6,131.4 447.9,101.9 456.6,126 472.5,126 488.8,128.1 504,98.8 520,93.6 537.5,109 551.7,118.7 567.7,116.2" fill="none" stroke="#111" stroke-width="1.4" stroke-linejoin="round"/>
<polyline points="384.6,139.6 409.4,140 425,132.2 440.6,115.8 447.4,144.5 456.5,143.6 472.1,136.6 488.5,144.2 504,128.9 520,104.5 537.7,118.2 551.7,115.3 567.7,107.7" fill="none" stroke="#111" stroke-width="1.4" stroke-linejoin="round"/>
<polygon points="384.6,135.2 388.6,142.4 380.6,142.4" fill="#fff" stroke="#111" stroke-width="1"/>
<polygon points="409.4,136.2 413.4,143.4 405.4,143.4" fill="#fff" stroke="#111" stroke-width="1"/>
<polygon points="425,88.7 429,95.9 421,95.9" fill="#fff" stroke="#111" stroke-width="1"/>
<polygon points="440.6,128 444.6,135.2 436.6,135.2" fill="#fff" stroke="#111" stroke-width="1"/>
<polygon points="447.9,98.5 451.9,105.7 443.9,105.7" fill="#fff" stroke="#111" stroke-width="1"/>
<polygon points="456.6,122.6 460.6,129.8 452.6,129.8" fill="#fff" stroke="#111" stroke-width="1"/>
<polygon points="472.5,122.6 476.5,129.8 468.5,129.8" fill="#fff" stroke="#111" stroke-width="1"/>
<polygon points="488.8,124.7 492.8,131.9 484.8,131.9" fill="#fff" stroke="#111" stroke-width="1"/>
<polygon points="504,95.4 508,102.6 500,102.6" fill="#fff" stroke="#111" stroke-width="1"/>
<polygon points="520,90.2 524,97.4 516,97.4" fill="#fff" stroke="#111" stroke-width="1"/>
<polygon points="537.5,105.6 541.5,112.8 533.5,112.8" fill="#fff" stroke="#111" stroke-width="1"/>
<polygon points="551.7,115.3 555.7,122.5 547.7,122.5" fill="#fff" stroke="#111" stroke-width="1"/>
<polygon points="567.7,112.8 571.7,120 563.7,120" fill="#fff" stroke="#111" stroke-width="1"/>
<rect x="381.6" y="136.6" width="6" height="6" fill="#000"/>
<rect x="406.4" y="137" width="6" height="6" fill="#000"/>
<rect x="422" y="129.2" width="6" height="6" fill="#000"/>
<rect x="437.6" y="112.8" width="6" height="6" fill="#000"/>
<rect x="444.4" y="141.5" width="6" height="6" fill="#000"/>
<rect x="453.5" y="140.6" width="6" height="6" fill="#000"/>
<rect x="469.1" y="133.6" width="6" height="6" fill="#000"/>
<rect x="485.5" y="141.2" width="6" height="6" fill="#000"/>
<rect x="501" y="125.9" width="6" height="6" fill="#000"/>
<rect x="517" y="101.5" width="6" height="6" fill="#000"/>
<rect x="534.7" y="115.2" width="6" height="6" fill="#000"/>
<rect x="548.7" y="112.3" width="6" height="6" fill="#000"/>
<rect x="564.7" y="104.7" width="6" height="6" fill="#000"/>
<line x1="507.5" y1="35.3" x2="525.3" y2="35.3" stroke="#111" stroke-width="1.3" />
<rect x="513.4" y="32.3" width="6" height="6" fill="#000"/>
<text x="526.3" y="39.9" font-size="13" text-anchor="start" font-weight="normal" fill="#111" >7392</text>
<line x1="507.5" y1="46.7" x2="525.3" y2="46.7" stroke="#111" stroke-width="1.3" />
<polygon points="516.4,43.2 520.4,50.4 512.4,50.4" fill="#fff" stroke="#111" stroke-width="1"/>
<text x="526.3" y="51.3" font-size="13" text-anchor="start" font-weight="normal" fill="#111" >7742</text>
<defs><clipPath id="br_lo"><rect x="610.3" y="87.5" width="182.10000000000002" height="70"/></clipPath><clipPath id="br_hi"><rect x="610.3" y="20" width="182.10000000000002" height="58.900000000000006"/></clipPath></defs>
<line x1="713.7" y1="26.8" x2="713.7" y2="149" stroke="#cfcfcf" stroke-width="1" />
<line x1="610.3" y1="26.8" x2="792.4" y2="26.8" stroke="#727272" stroke-width="1.45" />
<line x1="792.4" y1="26.8" x2="792.4" y2="149.4" stroke="#727272" stroke-width="1.45" />
<line x1="610.3" y1="149.4" x2="792.4" y2="149.4" stroke="#727272" stroke-width="1.45" />
<line x1="610.3" y1="26.8" x2="610.3" y2="78.9" stroke="#727272" stroke-width="1.45" />
<line x1="610.3" y1="87.5" x2="610.3" y2="149.4" stroke="#727272" stroke-width="1.45" />
<line x1="610.3" y1="78.9" x2="613.8" y2="78.9" stroke="#727272" stroke-width="1.1" />
<line x1="610.3" y1="87.5" x2="613.8" y2="87.5" stroke="#727272" stroke-width="1.1" />
<line x1="606.8" y1="31.3" x2="610.3" y2="31.3" stroke="#727272" stroke-width="1.1" />
<text transform="translate(606 35.2) scale(0.9 1)" font-size="11" text-anchor="end" fill="#1c1c1c" stroke="#1c1c1c" stroke-width="0.25">75</text>
<line x1="606.8" y1="55.3" x2="610.3" y2="55.3" stroke="#727272" stroke-width="1.1" />
<text transform="translate(606 59.2) scale(0.9 1)" font-size="11" text-anchor="end" fill="#1c1c1c" stroke="#1c1c1c" stroke-width="0.25">50</text>
<line x1="606.8" y1="78.9" x2="610.3" y2="78.9" stroke="#727272" stroke-width="1.1" />
<text transform="translate(606 82.9) scale(0.9 1)" font-size="11" text-anchor="end" fill="#1c1c1c" stroke="#1c1c1c" stroke-width="0.25">25</text>
<line x1="606.8" y1="87.5" x2="610.3" y2="87.5" stroke="#727272" stroke-width="1.1" />
<text transform="translate(606 91.5) scale(0.9 1)" font-size="11" text-anchor="end" fill="#1c1c1c" stroke="#1c1c1c" stroke-width="0.25">25</text>
<line x1="606.8" y1="100" x2="610.3" y2="100" stroke="#727272" stroke-width="1.1" />
<text transform="translate(606 104) scale(0.9 1)" font-size="11" text-anchor="end" fill="#1c1c1c" stroke="#1c1c1c" stroke-width="0.25">20</text>
<line x1="606.8" y1="112.4" x2="610.3" y2="112.4" stroke="#727272" stroke-width="1.1" />
<text transform="translate(606 116.4) scale(0.9 1)" font-size="11" text-anchor="end" fill="#1c1c1c" stroke="#1c1c1c" stroke-width="0.25">15</text>
<line x1="606.8" y1="124.5" x2="610.3" y2="124.5" stroke="#727272" stroke-width="1.1" />
<text transform="translate(606 128.4) scale(0.9 1)" font-size="11" text-anchor="end" fill="#1c1c1c" stroke="#1c1c1c" stroke-width="0.25">10</text>
<line x1="606.8" y1="137.1" x2="610.3" y2="137.1" stroke="#727272" stroke-width="1.1" />
<text transform="translate(606 141) scale(0.9 1)" font-size="11" text-anchor="end" fill="#1c1c1c" stroke="#1c1c1c" stroke-width="0.25">5</text>
<line x1="606.8" y1="149.4" x2="610.3" y2="149.4" stroke="#727272" stroke-width="1.1" />
<text transform="translate(606 153.3) scale(0.9 1)" font-size="11" text-anchor="end" fill="#1c1c1c" stroke="#1c1c1c" stroke-width="0.25">0</text>
<line x1="624.4" y1="149.4" x2="624.4" y2="152.9" stroke="#727272" stroke-width="1.1" />
<text transform="translate(624.4 163.9) scale(0.9 1)" font-size="11" text-anchor="middle" fill="#1c1c1c" stroke="#1c1c1c" stroke-width="0.25">7</text>
<line x1="653" y1="149.4" x2="653" y2="152.9" stroke="#727272" stroke-width="1.1" />
<text transform="translate(653 163.9) scale(0.9 1)" font-size="11" text-anchor="middle" fill="#1c1c1c" stroke="#1c1c1c" stroke-width="0.25">21</text>
<line x1="681.5" y1="149.4" x2="681.5" y2="152.9" stroke="#727272" stroke-width="1.1" />
<text transform="translate(681.5 163.9) scale(0.9 1)" font-size="11" text-anchor="middle" fill="#1c1c1c" stroke="#1c1c1c" stroke-width="0.25">35</text>
<line x1="709.6" y1="149.4" x2="709.6" y2="152.9" stroke="#727272" stroke-width="1.1" />
<text transform="translate(709.6 163.9) scale(0.9 1)" font-size="11" text-anchor="middle" fill="#1c1c1c" stroke="#1c1c1c" stroke-width="0.25">49</text>
<line x1="738.2" y1="149.4" x2="738.2" y2="152.9" stroke="#727272" stroke-width="1.1" />
<text transform="translate(738.2 163.9) scale(0.9 1)" font-size="11" text-anchor="middle" fill="#1c1c1c" stroke="#1c1c1c" stroke-width="0.25">63</text>
<line x1="766.6" y1="149.4" x2="766.6" y2="152.9" stroke="#727272" stroke-width="1.1" />
<text transform="translate(766.6 163.9) scale(0.9 1)" font-size="11" text-anchor="middle" fill="#1c1c1c" stroke="#1c1c1c" stroke-width="0.25">77</text>
<defs><clipPath id="br_cl"><rect x="610.3" y="20" width="182.10000000000002" height="58.900000000000006"/><rect x="610.3" y="87.5" width="182.10000000000002" height="70"/></clipPath></defs>
<polyline points="610.1,142 624.4,141.5 638.6,142.5 652.9,142 667.1,141 681.4,142.5 695.6,142 709.9,142.5 714.2,145.2 730,113.1 752.3,111.7 766.6,122 780.7,124.3" fill="none" stroke="#111" stroke-width="1.3" stroke-linejoin="round" clip-path="url(#br_cl)"/>
<polyline points="610.1,139.5 624.4,139 638.6,140 652.9,139 667.1,137.5 681.4,140.5 695.6,140 709.9,141 723.5,57 738.2,59.5 752.3,75.5 766.6,118.5 780.7,126" fill="none" stroke="#111" stroke-width="1.3" stroke-linejoin="round" clip-path="url(#br_cl)"/>
<polyline points="610.1,141 624.4,125.6 638.6,134.8 652.9,139 667.1,133 681.4,141 695.6,138 709.9,140 723.5,71.6 738.2,64.8 752.3,78.9 766.6,124 780.7,126" fill="none" stroke="#111" stroke-width="1.3" stroke-linejoin="round" clip-path="url(#br_cl)"/>
<polyline points="610.1,141 624.4,133.8 638.6,139 652.9,133.1 667.1,128.8 681.4,144 695.6,138 709.9,144 730,75 738.2,75 752.3,104 766.6,126.5 780.7,125.5" fill="none" stroke="#111" stroke-width="1.3" stroke-linejoin="round" clip-path="url(#br_cl)"/>
<polyline points="610.1,148.5 624.4,148 638.6,148.5 652.9,148.5 667.1,148.5 681.4,148.5 695.6,148.5 709.9,147 723.5,75 738.2,75 752.3,112 766.6,124 780.7,133.8" fill="none" stroke="#111" stroke-width="1.3" stroke-linejoin="round" clip-path="url(#br_cl)"/>
<polyline points="610.1,144.5 624.4,145 638.6,144.5 652.9,145 667.1,143.5 681.4,145 695.6,145 709.9,146 723.5,118.5 730,75 738.2,75 752.3,105.9 766.6,126 780.7,118.5" fill="none" stroke="#111" stroke-width="1.3" stroke-linejoin="round" clip-path="url(#br_cl)"/>
<polyline points="610.1,146.5 624.4,146 638.6,147 652.9,146.5 667.1,146.5 681.4,147 695.6,147 709.9,144 723.5,49.1 730,46.2 752.3,58.1 766.6,71.6 780.7,63.6" fill="none" stroke="#111" stroke-width="1.3" stroke-linejoin="round" clip-path="url(#br_cl)"/>
<polygon points="610.1,138 614.1,145.2 606.1,145.2" fill="#fff" stroke="#111" stroke-width="1"/>
<polygon points="624.4,137.5 628.4,144.7 620.4,144.7" fill="#fff" stroke="#111" stroke-width="1"/>
<polygon points="638.6,138.5 642.6,145.7 634.6,145.7" fill="#fff" stroke="#111" stroke-width="1"/>
<polygon points="652.9,138 656.9,145.2 648.9,145.2" fill="#fff" stroke="#111" stroke-width="1"/>
<polygon points="667.1,137 671.1,144.2 663.1,144.2" fill="#fff" stroke="#111" stroke-width="1"/>
<polygon points="681.4,138.5 685.4,145.7 677.4,145.7" fill="#fff" stroke="#111" stroke-width="1"/>
<polygon points="695.6,138 699.6,145.2 691.6,145.2" fill="#fff" stroke="#111" stroke-width="1"/>
<polygon points="709.9,138.5 713.9,145.7 705.9,145.7" fill="#fff" stroke="#111" stroke-width="1"/>
<polygon points="714.2,141.2 718.2,148.4 710.2,148.4" fill="#fff" stroke="#111" stroke-width="1"/>
<polygon points="730,109.1 734,116.3 726,116.3" fill="#fff" stroke="#111" stroke-width="1"/>
<polygon points="752.3,107.7 756.3,114.9 748.3,114.9" fill="#fff" stroke="#111" stroke-width="1"/>
<polygon points="766.6,118 770.6,125.2 762.6,125.2" fill="#fff" stroke="#111" stroke-width="1"/>
<polygon points="780.7,120.3 784.7,127.5 776.7,127.5" fill="#fff" stroke="#111" stroke-width="1"/>
<rect x="606.9" y="136.3" width="6.4" height="6.4" fill="#fff" stroke="#000" stroke-width="1"/>
<rect x="621.2" y="135.8" width="6.4" height="6.4" fill="#fff" stroke="#000" stroke-width="1"/>
<rect x="635.4" y="136.8" width="6.4" height="6.4" fill="#fff" stroke="#000" stroke-width="1"/>
<rect x="649.7" y="135.8" width="6.4" height="6.4" fill="#fff" stroke="#000" stroke-width="1"/>
<rect x="663.9" y="134.3" width="6.4" height="6.4" fill="#fff" stroke="#000" stroke-width="1"/>
<rect x="678.2" y="137.3" width="6.4" height="6.4" fill="#fff" stroke="#000" stroke-width="1"/>
<rect x="692.4" y="136.8" width="6.4" height="6.4" fill="#fff" stroke="#000" stroke-width="1"/>
<rect x="706.7" y="137.8" width="6.4" height="6.4" fill="#fff" stroke="#000" stroke-width="1"/>
<rect x="720.3" y="53.8" width="6.4" height="6.4" fill="#fff" stroke="#000" stroke-width="1"/>
<rect x="735" y="56.3" width="6.4" height="6.4" fill="#fff" stroke="#000" stroke-width="1"/>
<rect x="749.1" y="72.3" width="6.4" height="6.4" fill="#fff" stroke="#000" stroke-width="1"/>
<rect x="763.4" y="115.3" width="6.4" height="6.4" fill="#fff" stroke="#000" stroke-width="1"/>
<rect x="777.5" y="122.8" width="6.4" height="6.4" fill="#fff" stroke="#000" stroke-width="1"/>
<polygon points="610.1,136.8 614.3,141 610.1,145.2 605.9,141" fill="#fff" stroke="#111" stroke-width="1"/>
<polygon points="624.4,121.4 628.6,125.6 624.4,129.8 620.2,125.6" fill="#fff" stroke="#111" stroke-width="1"/>
<polygon points="638.6,130.6 642.8,134.8 638.6,138.9 634.4,134.8" fill="#fff" stroke="#111" stroke-width="1"/>
<polygon points="652.9,134.8 657.1,139 652.9,143.2 648.7,139" fill="#fff" stroke="#111" stroke-width="1"/>
<polygon points="667.1,128.8 671.3,133 667.1,137.2 662.9,133" fill="#fff" stroke="#111" stroke-width="1"/>
<polygon points="681.4,136.8 685.6,141 681.4,145.2 677.2,141" fill="#fff" stroke="#111" stroke-width="1"/>
<polygon points="695.6,133.8 699.8,138 695.6,142.2 691.4,138" fill="#fff" stroke="#111" stroke-width="1"/>
<polygon points="709.9,135.8 714.1,140 709.9,144.2 705.7,140" fill="#fff" stroke="#111" stroke-width="1"/>
<polygon points="723.5,67.4 727.7,71.6 723.5,75.8 719.3,71.6" fill="#fff" stroke="#111" stroke-width="1"/>
<polygon points="738.2,60.6 742.4,64.8 738.2,69 734,64.8" fill="#fff" stroke="#111" stroke-width="1"/>
<polygon points="752.3,74.7 756.5,78.9 752.3,83.1 748.1,78.9" fill="#fff" stroke="#111" stroke-width="1"/>
<polygon points="766.6,119.8 770.8,124 766.6,128.2 762.4,124" fill="#fff" stroke="#111" stroke-width="1"/>
<polygon points="780.7,121.8 784.9,126 780.7,130.2 776.5,126" fill="#fff" stroke="#111" stroke-width="1"/>
<circle cx="610.1" cy="141" r="3.4" fill="#000"/>
<circle cx="624.4" cy="133.8" r="3.4" fill="#000"/>
<circle cx="638.6" cy="139" r="3.4" fill="#000"/>
<circle cx="652.9" cy="133.1" r="3.4" fill="#000"/>
<circle cx="667.1" cy="128.8" r="3.4" fill="#000"/>
<circle cx="681.4" cy="144" r="3.4" fill="#000"/>
<circle cx="695.6" cy="138" r="3.4" fill="#000"/>
<circle cx="709.9" cy="144" r="3.4" fill="#000"/>
<circle cx="730" cy="75" r="3.4" fill="#000"/>
<circle cx="738.2" cy="75" r="3.4" fill="#000"/>
<circle cx="752.3" cy="104" r="3.4" fill="#000"/>
<circle cx="766.6" cy="126.5" r="3.4" fill="#000"/>
<circle cx="780.7" cy="125.5" r="3.4" fill="#000"/>
<polygon points="610.1,144.5 614.1,151.7 606.1,151.7" fill="#000"/>
<polygon points="624.4,144 628.4,151.2 620.4,151.2" fill="#000"/>
<polygon points="638.6,144.5 642.6,151.7 634.6,151.7" fill="#000"/>
<polygon points="652.9,144.5 656.9,151.7 648.9,151.7" fill="#000"/>
<polygon points="667.1,144.5 671.1,151.7 663.1,151.7" fill="#000"/>
<polygon points="681.4,144.5 685.4,151.7 677.4,151.7" fill="#000"/>
<polygon points="695.6,144.5 699.6,151.7 691.6,151.7" fill="#000"/>
<polygon points="709.9,143 713.9,150.2 705.9,150.2" fill="#000"/>
<polygon points="723.5,71 727.5,78.2 719.5,78.2" fill="#000"/>
<polygon points="738.2,71 742.2,78.2 734.2,78.2" fill="#000"/>
<polygon points="752.3,108 756.3,115.2 748.3,115.2" fill="#000"/>
<polygon points="766.6,120 770.6,127.2 762.6,127.2" fill="#000"/>
<polygon points="780.7,129.8 784.7,137 776.7,137" fill="#000"/>
<rect x="606.9" y="141.3" width="6.4" height="6.4" fill="#000"/>
<rect x="621.2" y="141.8" width="6.4" height="6.4" fill="#000"/>
<rect x="635.4" y="141.3" width="6.4" height="6.4" fill="#000"/>
<rect x="649.7" y="141.8" width="6.4" height="6.4" fill="#000"/>
<rect x="663.9" y="140.3" width="6.4" height="6.4" fill="#000"/>
<rect x="678.2" y="141.8" width="6.4" height="6.4" fill="#000"/>
<rect x="692.4" y="141.8" width="6.4" height="6.4" fill="#000"/>
<rect x="706.7" y="142.8" width="6.4" height="6.4" fill="#000"/>
<rect x="720.3" y="115.3" width="6.4" height="6.4" fill="#000"/>
<rect x="726.8" y="71.8" width="6.4" height="6.4" fill="#000"/>
<rect x="735" y="71.8" width="6.4" height="6.4" fill="#000"/>
<rect x="749.1" y="102.7" width="6.4" height="6.4" fill="#000"/>
<rect x="763.4" y="122.8" width="6.4" height="6.4" fill="#000"/>
<rect x="777.5" y="115.3" width="6.4" height="6.4" fill="#000"/>
<polygon points="610.1,150.5 614.1,143.3 606.1,143.3" fill="#000"/>
<polygon points="624.4,150 628.4,142.8 620.4,142.8" fill="#000"/>
<polygon points="638.6,151 642.6,143.8 634.6,143.8" fill="#000"/>
<polygon points="652.9,150.5 656.9,143.3 648.9,143.3" fill="#000"/>
<polygon points="667.1,150.5 671.1,143.3 663.1,143.3" fill="#000"/>
<polygon points="681.4,151 685.4,143.8 677.4,143.8" fill="#000"/>
<polygon points="695.6,151 699.6,143.8 691.6,143.8" fill="#000"/>
<polygon points="709.9,148 713.9,140.8 705.9,140.8" fill="#000"/>
<polygon points="723.5,53.1 727.5,45.9 719.5,45.9" fill="#000"/>
<polygon points="730,50.2 734,43 726,43" fill="#000"/>
<polygon points="752.3,62.1 756.3,54.9 748.3,54.9" fill="#000"/>
<polygon points="766.6,75.6 770.6,68.4 762.6,68.4" fill="#000"/>
<polygon points="780.7,67.6 784.7,60.4 776.7,60.4" fill="#000"/>
<line x1="613" y1="33.8" x2="629.5" y2="33.8" stroke="#111" stroke-width="1.3" />
<rect x="618.2" y="30.7" width="6.2" height="6.2" fill="#000"/>
<text transform="translate(632.7 37.5) scale(0.92 1)" font-size="10.4" fill="#1c1c1c" stroke="#1c1c1c" stroke-width="0.15">8200</text>
<line x1="613" y1="46.2" x2="629.5" y2="46.2" stroke="#111" stroke-width="1.3" />
<polygon points="621.3,42.3 625.2,49.3 617.4,49.3" fill="#fff" stroke="#111" stroke-width="1"/>
<text transform="translate(632.7 50) scale(0.92 1)" font-size="10.4" fill="#1c1c1c" stroke="#1c1c1c" stroke-width="0.15">8202</text>
<line x1="613" y1="58.7" x2="629.5" y2="58.7" stroke="#111" stroke-width="1.3" />
<polygon points="621.3,62.6 625.2,55.6 617.4,55.6" fill="#000"/>
<text transform="translate(632.7 62.5) scale(0.92 1)" font-size="10.4" fill="#1c1c1c" stroke="#1c1c1c" stroke-width="0.15">7346</text>
<line x1="613" y1="72.3" x2="629.5" y2="72.3" stroke="#111" stroke-width="1.3" />
<polygon points="621.3,68.3 625.3,72.3 621.3,76.3 617.3,72.3" fill="#fff" stroke="#111" stroke-width="1"/>
<text transform="translate(632.7 76) scale(0.92 1)" font-size="10.4" fill="#1c1c1c" stroke="#1c1c1c" stroke-width="0.15">8190</text>
<line x1="613" y1="86.6" x2="629.5" y2="86.6" stroke="#111" stroke-width="1.3" />
<circle cx="621.3" cy="86.6" r="3.3" fill="#000"/>
<text transform="translate(632.7 90.3) scale(0.92 1)" font-size="10.4" fill="#1c1c1c" stroke="#1c1c1c" stroke-width="0.15">8191</text>
<line x1="613" y1="100.8" x2="629.5" y2="100.8" stroke="#111" stroke-width="1.3" />
<rect x="618.2" y="97.7" width="6.2" height="6.2" fill="#fff" stroke="#000" stroke-width="1"/>
<text transform="translate(632.7 104.5) scale(0.92 1)" font-size="10.4" fill="#1c1c1c" stroke="#1c1c1c" stroke-width="0.15">8199</text>
<line x1="613" y1="114.6" x2="629.5" y2="114.6" stroke="#111" stroke-width="1.3" />
<polygon points="621.3,110.7 625.2,117.7 617.4,117.7" fill="#000"/>
<text transform="translate(632.7 118.3) scale(0.92 1)" font-size="10.4" fill="#1c1c1c" stroke="#1c1c1c" stroke-width="0.15">8201</text>
<text x="331.8" y="192.5" font-size="19.5" text-anchor="start" font-weight="normal" fill="#111" >C</text>
<text transform="translate(343.5 257) rotate(-90)" font-size="13" font-weight="bold" text-anchor="middle" fill="#111"># cells/µl</text>
<line x1="405.6" y1="202.7" x2="405.6" y2="324.5" stroke="#cfcfcf" stroke-width="1" />
<line x1="485" y1="202.7" x2="485" y2="324.5" stroke="#cfcfcf" stroke-width="1" />
<line x1="381.6" y1="202.7" x2="564.6" y2="202.7" stroke="#727272" stroke-width="1.45" />
<line x1="564.6" y1="202.7" x2="564.6" y2="324.5" stroke="#727272" stroke-width="1.45" />
<line x1="381.6" y1="324.5" x2="564.6" y2="324.5" stroke="#727272" stroke-width="1.45" />
<line x1="381.6" y1="202.7" x2="381.6" y2="224" stroke="#727272" stroke-width="1.45" />
<line x1="381.6" y1="224" x2="384.6" y2="224" stroke="#727272" stroke-width="1" />
<line x1="381.6" y1="233" x2="381.6" y2="324.5" stroke="#727272" stroke-width="1.45" />
<line x1="381.6" y1="233" x2="384.6" y2="233" stroke="#727272" stroke-width="1" />
<line x1="378.1" y1="202.7" x2="381.6" y2="202.7" stroke="#727272" stroke-width="1.1" />
<text transform="translate(377.3 206.6) scale(0.9 1)" font-size="11" text-anchor="end" fill="#1c1c1c" stroke="#1c1c1c" stroke-width="0.25">20000</text>
<line x1="378.1" y1="214.2" x2="381.6" y2="214.2" stroke="#727272" stroke-width="1.1" />
<text transform="translate(377.3 218.1) scale(0.9 1)" font-size="11" text-anchor="end" fill="#1c1c1c" stroke="#1c1c1c" stroke-width="0.25">10000</text>
<line x1="378.1" y1="233" x2="381.6" y2="233" stroke="#727272" stroke-width="1.1" />
<text transform="translate(377.3 236.9) scale(0.9 1)" font-size="11" text-anchor="end" fill="#1c1c1c" stroke="#1c1c1c" stroke-width="0.25">1500</text>
<line x1="378.1" y1="263.4" x2="381.6" y2="263.4" stroke="#727272" stroke-width="1.1" />
<text transform="translate(377.3 267.3) scale(0.9 1)" font-size="11" text-anchor="end" fill="#1c1c1c" stroke="#1c1c1c" stroke-width="0.25">1000</text>
<line x1="378.1" y1="294.2" x2="381.6" y2="294.2" stroke="#727272" stroke-width="1.1" />
<text transform="translate(377.3 298.1) scale(0.9 1)" font-size="11" text-anchor="end" fill="#1c1c1c" stroke="#1c1c1c" stroke-width="0.25">500</text>
<line x1="378.1" y1="324.5" x2="381.6" y2="324.5" stroke="#727272" stroke-width="1.1" />
<text transform="translate(377.3 328.4) scale(0.9 1)" font-size="11" text-anchor="end" fill="#1c1c1c" stroke="#1c1c1c" stroke-width="0.25">0</text>
<line x1="389.8" y1="324.5" x2="389.8" y2="328" stroke="#727272" stroke-width="1.1" />
<text transform="translate(389.8 339) scale(0.9 1)" font-size="11" text-anchor="middle" fill="#1c1c1c" stroke="#1c1c1c" stroke-width="0.25">-7</text>
<line x1="421.4" y1="324.5" x2="421.4" y2="328" stroke="#727272" stroke-width="1.1" />
<text transform="translate(421.4 339) scale(0.9 1)" font-size="11" text-anchor="middle" fill="#1c1c1c" stroke="#1c1c1c" stroke-width="0.25">7</text>
<line x1="453.1" y1="324.5" x2="453.1" y2="328" stroke="#727272" stroke-width="1.1" />
<text transform="translate(453.1 339) scale(0.9 1)" font-size="11" text-anchor="middle" fill="#1c1c1c" stroke="#1c1c1c" stroke-width="0.25">21</text>
<line x1="484.8" y1="324.5" x2="484.8" y2="328" stroke="#727272" stroke-width="1.1" />
<text transform="translate(484.8 339) scale(0.9 1)" font-size="11" text-anchor="middle" fill="#1c1c1c" stroke="#1c1c1c" stroke-width="0.25">35</text>
<line x1="516.5" y1="324.5" x2="516.5" y2="328" stroke="#727272" stroke-width="1.1" />
<text transform="translate(516.5 339) scale(0.9 1)" font-size="11" text-anchor="middle" fill="#1c1c1c" stroke="#1c1c1c" stroke-width="0.25">49</text>
<line x1="548.2" y1="324.5" x2="548.2" y2="328" stroke="#727272" stroke-width="1.1" />
<text transform="translate(548.2 339) scale(0.9 1)" font-size="11" text-anchor="middle" fill="#1c1c1c" stroke="#1c1c1c" stroke-width="0.25">63</text>
<polyline points="381.6,311.9 405.6,311.9 421.2,285.2 437,309.3 443.6,293.2 453.6,311.2 469.2,299.3 485,292.2 500.8,236.5" fill="none" stroke="#111" stroke-width="1.4" stroke-linejoin="round"/>
<polyline points="521.6,233.5 534.6,258 548.1,285.2 564.6,282.1" fill="none" stroke="#111" stroke-width="1.4" stroke-linejoin="round"/>
<polyline points="500.8,236.5 504.5,233.6" fill="none" stroke="#111" stroke-width="1.2" stroke-linejoin="round"/>
<polyline points="381.6,318.4 405.6,318.4 421.2,317.5 437,297.5 443.6,321.1 453.6,321.1 469.2,316.4 485,321.6 500.8,310.4 516.4,286.8 534.6,305.7 548.1,298.6 564.6,291.5" fill="none" stroke="#111" stroke-width="1.4" stroke-linejoin="round"/>
<polygon points="381.6,308.4 385.7,315.8 377.5,315.8" fill="#fff" stroke="#111" stroke-width="1"/>
<polygon points="405.6,308.4 409.7,315.8 401.5,315.8" fill="#fff" stroke="#111" stroke-width="1"/>
<polygon points="421.2,281.7 425.3,289.1 417.1,289.1" fill="#fff" stroke="#111" stroke-width="1"/>
<polygon points="437,305.8 441.1,313.2 432.9,313.2" fill="#fff" stroke="#111" stroke-width="1"/>
<polygon points="443.6,289.7 447.7,297.1 439.5,297.1" fill="#fff" stroke="#111" stroke-width="1"/>
<polygon points="453.6,307.7 457.7,315.1 449.5,315.1" fill="#fff" stroke="#111" stroke-width="1"/>
<polygon points="469.2,295.8 473.3,303.2 465.1,303.2" fill="#fff" stroke="#111" stroke-width="1"/>
<polygon points="485,288.7 489.1,296.1 480.9,296.1" fill="#fff" stroke="#111" stroke-width="1"/>
<polygon points="500.8,233 504.9,240.4 496.7,240.4" fill="#fff" stroke="#111" stroke-width="1"/>
<polygon points="534.6,254.5 538.7,261.9 530.5,261.9" fill="#fff" stroke="#111" stroke-width="1"/>
<polygon points="548.1,281.7 552.2,289.1 544,289.1" fill="#fff" stroke="#111" stroke-width="1"/>
<polygon points="564.6,278.6 568.7,286 560.5,286" fill="#fff" stroke="#111" stroke-width="1"/>
<polygon points="516.4,220.7 520.5,228.1 512.3,228.1" fill="#fff" stroke="#111" stroke-width="1"/>
<rect x="378.6" y="315.4" width="6" height="6" fill="#000"/>
<rect x="402.6" y="315.4" width="6" height="6" fill="#000"/>
<rect x="418.2" y="314.5" width="6" height="6" fill="#000"/>
<rect x="434" y="294.5" width="6" height="6" fill="#000"/>
<rect x="440.6" y="318.1" width="6" height="6" fill="#000"/>
<rect x="450.6" y="318.1" width="6" height="6" fill="#000"/>
<rect x="466.2" y="313.4" width="6" height="6" fill="#000"/>
<rect x="482" y="318.6" width="6" height="6" fill="#000"/>
<rect x="497.8" y="307.4" width="6" height="6" fill="#000"/>
<rect x="513.4" y="283.8" width="6" height="6" fill="#000"/>
<rect x="531.6" y="302.7" width="6" height="6" fill="#000"/>
<rect x="545.1" y="295.6" width="6" height="6" fill="#000"/>
<rect x="561.6" y="288.5" width="6" height="6" fill="#000"/>
<text x="472.5" y="355.2" font-size="13" text-anchor="middle" font-weight="bold" fill="#111" >Days post <tspan font-style="italic">Listeria</tspan> infection</text>
<line x1="714" y1="203" x2="714" y2="325.3" stroke="#cfcfcf" stroke-width="1" />
<line x1="609.8" y1="203" x2="793.5" y2="203" stroke="#727272" stroke-width="1.45" />
<line x1="793.5" y1="203" x2="793.5" y2="325.3" stroke="#727272" stroke-width="1.45" />
<line x1="609.8" y1="325.3" x2="793.5" y2="325.3" stroke="#727272" stroke-width="1.45" />
<line x1="609.8" y1="203" x2="609.8" y2="224.4" stroke="#727272" stroke-width="1.45" />
<line x1="609.8" y1="224.4" x2="612.8" y2="224.4" stroke="#727272" stroke-width="1" />
<line x1="609.8" y1="233.9" x2="609.8" y2="325.3" stroke="#727272" stroke-width="1.45" />
<line x1="609.8" y1="233.9" x2="612.8" y2="233.9" stroke="#727272" stroke-width="1" />
<line x1="606.3" y1="203" x2="609.8" y2="203" stroke="#727272" stroke-width="1.1" />
<text transform="translate(605.5 206.9) scale(0.9 1)" font-size="11" text-anchor="end" fill="#1c1c1c" stroke="#1c1c1c" stroke-width="0.25">20000</text>
<line x1="606.3" y1="214.5" x2="609.8" y2="214.5" stroke="#727272" stroke-width="1.1" />
<text transform="translate(605.5 218.4) scale(0.9 1)" font-size="11" text-anchor="end" fill="#1c1c1c" stroke="#1c1c1c" stroke-width="0.25">10000</text>
<line x1="606.3" y1="233.9" x2="609.8" y2="233.9" stroke="#727272" stroke-width="1.1" />
<text transform="translate(605.5 237.8) scale(0.9 1)" font-size="11" text-anchor="end" fill="#1c1c1c" stroke="#1c1c1c" stroke-width="0.25">1500</text>
<line x1="606.3" y1="264" x2="609.8" y2="264" stroke="#727272" stroke-width="1.1" />
<text transform="translate(605.5 267.9) scale(0.9 1)" font-size="11" text-anchor="end" fill="#1c1c1c" stroke="#1c1c1c" stroke-width="0.25">1000</text>
<line x1="606.3" y1="294.3" x2="609.8" y2="294.3" stroke="#727272" stroke-width="1.1" />
<text transform="translate(605.5 298.2) scale(0.9 1)" font-size="11" text-anchor="end" fill="#1c1c1c" stroke="#1c1c1c" stroke-width="0.25">500</text>
<line x1="606.3" y1="325.3" x2="609.8" y2="325.3" stroke="#727272" stroke-width="1.1" />
<text transform="translate(605.5 329.2) scale(0.9 1)" font-size="11" text-anchor="end" fill="#1c1c1c" stroke="#1c1c1c" stroke-width="0.25">0</text>
<line x1="624.6" y1="325.3" x2="624.6" y2="328.8" stroke="#727272" stroke-width="1.1" />
<text transform="translate(624.6 339.8) scale(0.9 1)" font-size="11" text-anchor="middle" fill="#1c1c1c" stroke="#1c1c1c" stroke-width="0.25">7</text>
<line x1="653" y1="325.3" x2="653" y2="328.8" stroke="#727272" stroke-width="1.1" />
<text transform="translate(653 339.8) scale(0.9 1)" font-size="11" text-anchor="middle" fill="#1c1c1c" stroke="#1c1c1c" stroke-width="0.25">21</text>
<line x1="681.3" y1="325.3" x2="681.3" y2="328.8" stroke="#727272" stroke-width="1.1" />
<text transform="translate(681.3 339.8) scale(0.9 1)" font-size="11" text-anchor="middle" fill="#1c1c1c" stroke="#1c1c1c" stroke-width="0.25">35</text>
<line x1="710.5" y1="325.3" x2="710.5" y2="328.8" stroke="#727272" stroke-width="1.1" />
<text transform="translate(710.5 339.8) scale(0.9 1)" font-size="11" text-anchor="middle" fill="#1c1c1c" stroke="#1c1c1c" stroke-width="0.25">49</text>
<line x1="738.5" y1="325.3" x2="738.5" y2="328.8" stroke="#727272" stroke-width="1.1" />
<text transform="translate(738.5 339.8) scale(0.9 1)" font-size="11" text-anchor="middle" fill="#1c1c1c" stroke="#1c1c1c" stroke-width="0.25">63</text>
<line x1="766.8" y1="325.3" x2="766.8" y2="328.8" stroke="#727272" stroke-width="1.1" />
<text transform="translate(766.8 339.8) scale(0.9 1)" font-size="11" text-anchor="middle" fill="#1c1c1c" stroke="#1c1c1c" stroke-width="0.25">77</text>
<defs><clipPath id="cr_cl"><rect x="609.8" y="200" width="184" height="24.4"/><rect x="609.8" y="233.9" width="184" height="95"/></clipPath></defs>
<polyline points="610.2,323 624.6,321 639,322 653.2,321 667.2,321 681.2,318 695.3,321 710.3,322 714.4,322 724.2,304.8 730.3,302.4 752.5,304 766.8,305.6 781,306" fill="none" stroke="#111" stroke-width="1.3" stroke-linejoin="round" clip-path="url(#cr_cl)"/>
<polyline points="610.2,320 624.6,318 639,321 653.2,319 667.2,320 681.2,321 695.3,321 710.3,320 724.2,223 738.5,221 752.5,224.6 766.8,301 781,300" fill="none" stroke="#111" stroke-width="1.3" stroke-linejoin="round" clip-path="url(#cr_cl)"/>
<polyline points="610.2,317 624.6,311.2 639,314 653.2,305.2 667.2,310.2 681.2,317 695.3,315 710.3,319 730.3,223 738.5,252.2 752.5,265.3 766.8,293.4 781,288.5" fill="none" stroke="#111" stroke-width="1.3" stroke-linejoin="round" clip-path="url(#cr_cl)"/>
<polyline points="610.2,322 624.6,307.5 639,318 653.2,317 667.2,318 681.2,318 695.3,320 710.3,319 730.3,223 738.5,235.8 752.5,270 766.8,302 781,305.6" fill="none" stroke="#111" stroke-width="1.3" stroke-linejoin="round" clip-path="url(#cr_cl)"/>
<polyline points="610.2,318 624.6,295.8 639,309.7 653.2,314.7 667.2,314.4 681.2,318 695.3,317 710.3,316.5 724.2,223 738.5,223.4 752.5,256.9 766.8,300 781,296" fill="none" stroke="#111" stroke-width="1.3" stroke-linejoin="round" clip-path="url(#cr_cl)"/>
<polyline points="610.2,322 624.6,322 639,322 653.2,322 667.2,322 681.2,322 695.3,322 710.3,321 724.2,292.9 730.3,223.1 738.5,223 752.5,275.9 766.8,300.7 781,296.6" fill="none" stroke="#111" stroke-width="1.3" stroke-linejoin="round" clip-path="url(#cr_cl)"/>
<polyline points="610.2,319 624.6,318 639,320 653.2,319 667.2,319 681.2,320 695.3,320 710.3,318 724.2,216.9 730.3,209.2 752.5,220.8 766.8,222.7 781,222.7" fill="none" stroke="#111" stroke-width="1.3" stroke-linejoin="round" clip-path="url(#cr_cl)"/>
<polygon points="610.2,319 614.2,326.2 606.2,326.2" fill="#fff" stroke="#111" stroke-width="1"/>
<polygon points="624.6,317 628.6,324.2 620.6,324.2" fill="#fff" stroke="#111" stroke-width="1"/>
<polygon points="639,318 643,325.2 635,325.2" fill="#fff" stroke="#111" stroke-width="1"/>
<polygon points="653.2,317 657.2,324.2 649.2,324.2" fill="#fff" stroke="#111" stroke-width="1"/>
<polygon points="667.2,317 671.2,324.2 663.2,324.2" fill="#fff" stroke="#111" stroke-width="1"/>
<polygon points="681.2,314 685.2,321.2 677.2,321.2" fill="#fff" stroke="#111" stroke-width="1"/>
<polygon points="695.3,317 699.3,324.2 691.3,324.2" fill="#fff" stroke="#111" stroke-width="1"/>
<polygon points="710.3,318 714.3,325.2 706.3,325.2" fill="#fff" stroke="#111" stroke-width="1"/>
<polygon points="714.4,318 718.4,325.2 710.4,325.2" fill="#fff" stroke="#111" stroke-width="1"/>
<polygon points="724.2,300.8 728.2,308 720.2,308" fill="#fff" stroke="#111" stroke-width="1"/>
<polygon points="730.3,298.4 734.3,305.6 726.3,305.6" fill="#fff" stroke="#111" stroke-width="1"/>
<polygon points="752.5,300 756.5,307.2 748.5,307.2" fill="#fff" stroke="#111" stroke-width="1"/>
<polygon points="766.8,301.6 770.8,308.8 762.8,308.8" fill="#fff" stroke="#111" stroke-width="1"/>
<polygon points="781,302 785,309.2 777,309.2" fill="#fff" stroke="#111" stroke-width="1"/>
<rect x="607" y="316.8" width="6.4" height="6.4" fill="#fff" stroke="#000" stroke-width="1"/>
<rect x="621.4" y="314.8" width="6.4" height="6.4" fill="#fff" stroke="#000" stroke-width="1"/>
<rect x="635.8" y="317.8" width="6.4" height="6.4" fill="#fff" stroke="#000" stroke-width="1"/>
<rect x="650" y="315.8" width="6.4" height="6.4" fill="#fff" stroke="#000" stroke-width="1"/>
<rect x="664" y="316.8" width="6.4" height="6.4" fill="#fff" stroke="#000" stroke-width="1"/>
<rect x="678" y="317.8" width="6.4" height="6.4" fill="#fff" stroke="#000" stroke-width="1"/>
<rect x="692.1" y="317.8" width="6.4" height="6.4" fill="#fff" stroke="#000" stroke-width="1"/>
<rect x="707.1" y="316.8" width="6.4" height="6.4" fill="#fff" stroke="#000" stroke-width="1"/>
<rect x="721" y="219.8" width="6.4" height="6.4" fill="#fff" stroke="#000" stroke-width="1"/>
<rect x="735.3" y="217.8" width="6.4" height="6.4" fill="#fff" stroke="#000" stroke-width="1"/>
<rect x="749.3" y="221.4" width="6.4" height="6.4" fill="#fff" stroke="#000" stroke-width="1"/>
<rect x="763.6" y="297.8" width="6.4" height="6.4" fill="#fff" stroke="#000" stroke-width="1"/>
<rect x="777.8" y="296.8" width="6.4" height="6.4" fill="#fff" stroke="#000" stroke-width="1"/>
<circle cx="610.2" cy="317" r="3.5" fill="#fff" stroke="#111" stroke-width="1"/>
<circle cx="624.6" cy="311.2" r="3.5" fill="#fff" stroke="#111" stroke-width="1"/>
<circle cx="639" cy="314" r="3.5" fill="#fff" stroke="#111" stroke-width="1"/>
<circle cx="653.2" cy="305.2" r="3.5" fill="#fff" stroke="#111" stroke-width="1"/>
<circle cx="667.2" cy="310.2" r="3.5" fill="#fff" stroke="#111" stroke-width="1"/>
<circle cx="681.2" cy="317" r="3.5" fill="#fff" stroke="#111" stroke-width="1"/>
<circle cx="695.3" cy="315" r="3.5" fill="#fff" stroke="#111" stroke-width="1"/>
<circle cx="710.3" cy="319" r="3.5" fill="#fff" stroke="#111" stroke-width="1"/>
<circle cx="730.3" cy="223" r="3.5" fill="#fff" stroke="#111" stroke-width="1"/>
<circle cx="738.5" cy="252.2" r="3.5" fill="#fff" stroke="#111" stroke-width="1"/>
<circle cx="752.5" cy="265.3" r="3.5" fill="#fff" stroke="#111" stroke-width="1"/>
<circle cx="766.8" cy="293.4" r="3.5" fill="#fff" stroke="#111" stroke-width="1"/>
<circle cx="781" cy="288.5" r="3.5" fill="#fff" stroke="#111" stroke-width="1"/>
<polygon points="610.2,318 614.2,325.2 606.2,325.2" fill="#000"/>
<polygon points="624.6,303.5 628.6,310.7 620.6,310.7" fill="#000"/>
<polygon points="639,314 643,321.2 635,321.2" fill="#000"/>
<polygon points="653.2,313 657.2,320.2 649.2,320.2" fill="#000"/>
<polygon points="667.2,314 671.2,321.2 663.2,321.2" fill="#000"/>
<polygon points="681.2,314 685.2,321.2 677.2,321.2" fill="#000"/>
<polygon points="695.3,316 699.3,323.2 691.3,323.2" fill="#000"/>
<polygon points="710.3,315 714.3,322.2 706.3,322.2" fill="#000"/>
<polygon points="730.3,219 734.3,226.2 726.3,226.2" fill="#000"/>
<polygon points="738.5,231.8 742.5,239 734.5,239" fill="#000"/>
<polygon points="752.5,266 756.5,273.2 748.5,273.2" fill="#000"/>
<polygon points="766.8,298 770.8,305.2 762.8,305.2" fill="#000"/>
<polygon points="781,301.6 785,308.8 777,308.8" fill="#000"/>
<polygon points="610.2,313.8 614.4,318 610.2,322.2 606,318" fill="#000"/>
<polygon points="624.6,291.6 628.8,295.8 624.6,300 620.4,295.8" fill="#000"/>
<polygon points="639,305.5 643.2,309.7 639,313.9 634.8,309.7" fill="#000"/>
<polygon points="653.2,310.5 657.4,314.7 653.2,318.9 649,314.7" fill="#000"/>
<polygon points="667.2,310.2 671.4,314.4 667.2,318.6 663,314.4" fill="#000"/>
<polygon points="681.2,313.8 685.4,318 681.2,322.2 677,318" fill="#000"/>
<polygon points="695.3,312.8 699.5,317 695.3,321.2 691.1,317" fill="#000"/>
<polygon points="710.3,312.3 714.5,316.5 710.3,320.7 706.1,316.5" fill="#000"/>
<polygon points="724.2,218.8 728.4,223 724.2,227.2 720,223" fill="#000"/>
<polygon points="738.5,219.2 742.7,223.4 738.5,227.6 734.3,223.4" fill="#000"/>
<polygon points="752.5,252.7 756.7,256.9 752.5,261.1 748.3,256.9" fill="#000"/>
<polygon points="766.8,295.8 771,300 766.8,304.2 762.6,300" fill="#000"/>
<polygon points="781,291.8 785.2,296 781,300.2 776.8,296" fill="#000"/>
<rect x="607" y="318.8" width="6.4" height="6.4" fill="#000"/>
<rect x="621.4" y="318.8" width="6.4" height="6.4" fill="#000"/>
<rect x="635.8" y="318.8" width="6.4" height="6.4" fill="#000"/>
<rect x="650" y="318.8" width="6.4" height="6.4" fill="#000"/>
<rect x="664" y="318.8" width="6.4" height="6.4" fill="#000"/>
<rect x="678" y="318.8" width="6.4" height="6.4" fill="#000"/>
<rect x="692.1" y="318.8" width="6.4" height="6.4" fill="#000"/>
<rect x="707.1" y="317.8" width="6.4" height="6.4" fill="#000"/>
<rect x="721" y="289.7" width="6.4" height="6.4" fill="#000"/>
<rect x="727.1" y="219.9" width="6.4" height="6.4" fill="#000"/>
<rect x="735.3" y="219.8" width="6.4" height="6.4" fill="#000"/>
<rect x="749.3" y="272.7" width="6.4" height="6.4" fill="#000"/>
<rect x="763.6" y="297.5" width="6.4" height="6.4" fill="#000"/>
<rect x="777.8" y="293.4" width="6.4" height="6.4" fill="#000"/>
<polygon points="610.2,323 614.2,315.8 606.2,315.8" fill="#000"/>
<polygon points="624.6,322 628.6,314.8 620.6,314.8" fill="#000"/>
<polygon points="639,324 643,316.8 635,316.8" fill="#000"/>
<polygon points="653.2,323 657.2,315.8 649.2,315.8" fill="#000"/>
<polygon points="667.2,323 671.2,315.8 663.2,315.8" fill="#000"/>
<polygon points="681.2,324 685.2,316.8 677.2,316.8" fill="#000"/>
<polygon points="695.3,324 699.3,316.8 691.3,316.8" fill="#000"/>
<polygon points="710.3,322 714.3,314.8 706.3,314.8" fill="#000"/>
<polygon points="724.2,220.9 728.2,213.7 720.2,213.7" fill="#000"/>
<polygon points="730.3,213.2 734.3,206 726.3,206" fill="#000"/>
<polygon points="752.5,224.8 756.5,217.6 748.5,217.6" fill="#000"/>
<polygon points="766.8,226.7 770.8,219.5 762.8,219.5" fill="#000"/>
<polygon points="781,226.7 785,219.5 777,219.5" fill="#000"/>
<text x="700.9" y="356.2" font-size="13" text-anchor="middle" font-weight="bold" fill="#111" >Days post <tspan font-style="italic">Listeria</tspan> infection</text>
<text x="553.8" y="389" font-size="19.5" text-anchor="start" font-weight="normal" fill="#111" >D</text>
<text transform="translate(580.3 435.9) rotate(-90)" font-size="13" font-weight="bold" text-anchor="middle" fill="#111">CFU/mL</text>
<defs><pattern id="hatch" patternUnits="userSpaceOnUse" width="2.4" height="2.4" patternTransform="rotate(-45)"><line x1="0" y1="0" x2="0" y2="2.4" stroke="#7a7a7a" stroke-width="0.8"/></pattern></defs>
<line x1="608" y1="381.5" x2="791.3" y2="381.5" stroke="#727272" stroke-width="1.45" />
<line x1="791.3" y1="381.5" x2="791.3" y2="503.2" stroke="#727272" stroke-width="1.45" />
<line x1="608" y1="503.2" x2="791.3" y2="503.2" stroke="#727272" stroke-width="1.45" />
<line x1="608" y1="381.5" x2="608" y2="503.2" stroke="#727272" stroke-width="1.45" />
<line x1="604.5" y1="381.5" x2="608" y2="381.5" stroke="#727272" stroke-width="1" />
<text transform="translate(599.6 386.1) scale(0.92 1)" font-size="12" text-anchor="end" fill="#2a2a2a">10</text>
<text x="600.1" y="380.9" font-size="7.5" fill="#333">6</text>
<line x1="604.5" y1="422" x2="608" y2="422" stroke="#727272" stroke-width="1" />
<text transform="translate(599.6 426.6) scale(0.92 1)" font-size="12" text-anchor="end" fill="#2a2a2a">10</text>
<text x="600.1" y="421.4" font-size="7.5" fill="#333">4</text>
<line x1="604.5" y1="462.5" x2="608" y2="462.5" stroke="#727272" stroke-width="1" />
<text transform="translate(599.6 467.1) scale(0.92 1)" font-size="12" text-anchor="end" fill="#2a2a2a">10</text>
<text x="600.1" y="461.9" font-size="7.5" fill="#333">2</text>
<line x1="604.5" y1="503.2" x2="608" y2="503.2" stroke="#727272" stroke-width="1" />
<text transform="translate(599.6 507.8) scale(0.92 1)" font-size="12" text-anchor="end" fill="#2a2a2a">10</text>
<text x="600.1" y="502.6" font-size="7.5" fill="#333">0</text>
<rect x="637" y="416.3" width="14.8" height="86.89999999999998" fill="url(#hatch)" stroke="#555" stroke-width="0.9"/>
<rect x="724.3" y="469.3" width="14.5" height="33.89999999999998" fill="url(#hatch)" stroke="#555" stroke-width="0.9"/>
<line x1="731.5" y1="466.8" x2="731.5" y2="469.3" stroke="#333" stroke-width="0.9" />
<line x1="728.7" y1="466.8" x2="734.5" y2="466.8" stroke="#333" stroke-width="1" />
<text transform="translate(627.6 507.5) rotate(-90)" font-size="11.5" text-anchor="end" fill="#1a1a1a">Day 0</text>
<text transform="translate(649.3 507.5) rotate(-90)" font-size="11.5" text-anchor="end" fill="#1a1a1a">Day 7</text>
<text transform="translate(671 507.5) rotate(-90)" font-size="11.5" text-anchor="end" fill="#1a1a1a">Day 14</text>
<text transform="translate(692.7 507.5) rotate(-90)" font-size="11.5" text-anchor="end" fill="#1a1a1a">Day 21</text>
<text transform="translate(714.4 507.5) rotate(-90)" font-size="11.5" text-anchor="end" fill="#1a1a1a">Day 49</text>
<text transform="translate(736.1 507.5) rotate(-90)" font-size="11.5" text-anchor="end" fill="#1a1a1a">Day 55</text>
<text transform="translate(757.8 507.5) rotate(-90)" font-size="11.5" text-anchor="end" fill="#1a1a1a">Day 63</text>
<text transform="translate(779.5 507.5) rotate(-90)" font-size="11.5" text-anchor="end" fill="#1a1a1a">Day 69</text>
</g>
</svg></body></html>
